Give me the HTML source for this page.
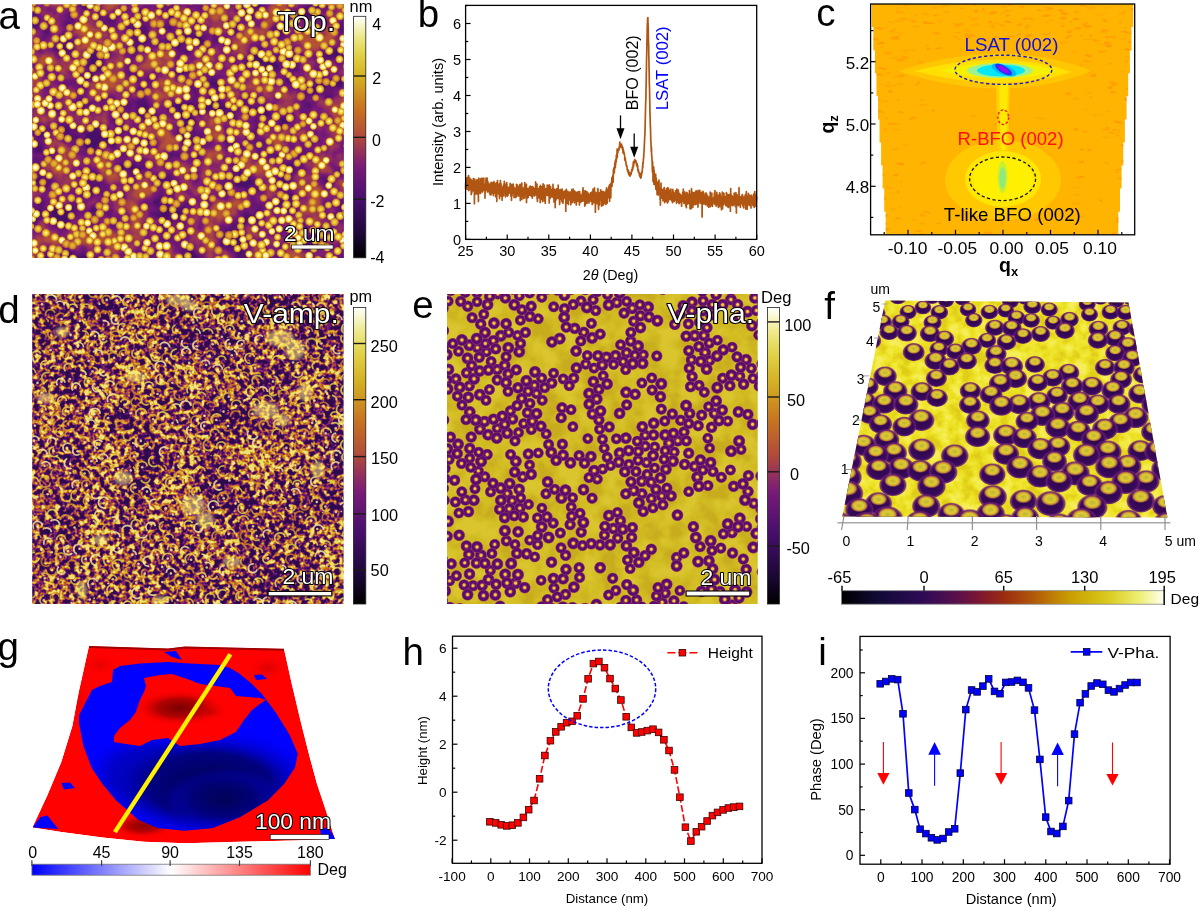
<!DOCTYPE html><html><head><meta charset="utf-8"><style>html,body{margin:0;padding:0;background:#fff;overflow:hidden}svg{display:block}text{font-family:"Liberation Sans",sans-serif}</style></head><body><svg width="1200" height="909" viewBox="0 0 1200 909" font-family='"Liberation Sans", sans-serif'><defs><clipPath id="cclip"><polygon points="871.8,4.0 871.8,27.1 873.3,27.1 873.3,50.2 874.9,50.2 874.9,73.2 876.4,73.2 876.4,96.3 878.0,96.3 878.0,119.4 879.5,119.4 879.5,142.5 881.1,142.5 881.1,165.6 882.6,165.6 882.6,188.6 884.2,188.6 884.2,211.7 885.7,211.7 885.7,234.8 1118.3,234.8 1118.3,211.7 1120.0,211.7 1120.0,188.6 1121.6,188.6 1121.6,165.6 1123.3,165.6 1123.3,142.5 1124.9,142.5 1124.9,119.4 1126.6,119.4 1126.6,96.3 1128.2,96.3 1128.2,73.2 1129.9,73.2 1129.9,50.2 1131.5,50.2 1131.5,27.1 1133.2,27.1 1133.2,4.0"/></clipPath><filter id="fa" filterUnits="userSpaceOnUse" x="32.2" y="4.3" width="311.7" height="253.59999999999997" color-interpolation-filters="sRGB"><feTurbulence type="fractalNoise" baseFrequency="0.04" numOctaves="3" seed="3"/><feColorMatrix type="matrix" values="1 0 0 0 0 1 0 0 0 0 1 0 0 0 0 0 0 0 0 1"/><feComponentTransfer><feFuncR type="table" tableValues="0.278 0.278 0.278 0.278 0.278 0.325 0.376 0.427 0.478 0.541 0.604 0.663 0.706 0.706 0.706 0.706 0.706"/><feFuncG type="table" tableValues="0.059 0.059 0.059 0.059 0.059 0.067 0.078 0.090 0.102 0.157 0.212 0.267 0.318 0.318 0.318 0.318 0.318"/><feFuncB type="table" tableValues="0.416 0.416 0.416 0.416 0.416 0.439 0.451 0.459 0.471 0.400 0.333 0.267 0.216 0.216 0.216 0.216 0.216"/></feComponentTransfer></filter><clipPath id="aclip"><rect x="32.2" y="4.3" width="311.7" height="253.59999999999997"/></clipPath><radialGradient id="dotA"><stop offset="0" stop-color="#fffac8"/><stop offset="0.3" stop-color="#f4e44a"/><stop offset="0.6" stop-color="#e4b82c"/><stop offset="0.82" stop-color="#cc7a26" stop-opacity="0.9"/><stop offset="1" stop-color="#a84a48" stop-opacity="0"/></radialGradient><radialGradient id="dotB"><stop offset="0" stop-color="#f0e048"/><stop offset="0.45" stop-color="#e0bc30"/><stop offset="0.75" stop-color="#cf8a24" stop-opacity="0.9"/><stop offset="1" stop-color="#a84a48" stop-opacity="0"/></radialGradient><radialGradient id="dotC"><stop offset="0" stop-color="#ffffff"/><stop offset="0.4" stop-color="#fff6a0"/><stop offset="0.65" stop-color="#f0d438"/><stop offset="0.85" stop-color="#d08a24" stop-opacity="0.85"/><stop offset="1" stop-color="#a84a48" stop-opacity="0"/></radialGradient><radialGradient id="dotD"><stop offset="0" stop-color="#e6c032"/><stop offset="0.5" stop-color="#d89a28"/><stop offset="0.8" stop-color="#c46c2a" stop-opacity="0.85"/><stop offset="1" stop-color="#a84a48" stop-opacity="0"/></radialGradient><linearGradient id="cbGW" x1="0" y1="0" x2="0" y2="1"><stop offset="0.000" stop-color="#ffffff"/><stop offset="0.042" stop-color="#f6f4c2"/><stop offset="0.083" stop-color="#eee88b"/><stop offset="0.125" stop-color="#e6dc61"/><stop offset="0.167" stop-color="#e0ce42"/><stop offset="0.208" stop-color="#dabf32"/><stop offset="0.250" stop-color="#d4b022"/><stop offset="0.292" stop-color="#d09d21"/><stop offset="0.333" stop-color="#cc8a21"/><stop offset="0.375" stop-color="#c87620"/><stop offset="0.417" stop-color="#c16729"/><stop offset="0.458" stop-color="#b85932"/><stop offset="0.500" stop-color="#b04a3c"/><stop offset="0.542" stop-color="#9d3951"/><stop offset="0.583" stop-color="#8a2966"/><stop offset="0.625" stop-color="#781a78"/><stop offset="0.667" stop-color="#691674"/><stop offset="0.708" stop-color="#591371"/><stop offset="0.750" stop-color="#4a0f6e"/><stop offset="0.792" stop-color="#3d0d5f"/><stop offset="0.833" stop-color="#300b50"/><stop offset="0.875" stop-color="#240941"/><stop offset="0.917" stop-color="#17072f"/><stop offset="0.958" stop-color="#0c0317"/><stop offset="1.000" stop-color="#000000"/></linearGradient><filter id="fd" filterUnits="userSpaceOnUse" x="32.2" y="294.1" width="311.40000000000003" height="309.9" color-interpolation-filters="sRGB"><feTurbulence type="fractalNoise" baseFrequency="0.2" numOctaves="2" seed="8"/><feColorMatrix type="matrix" values="1 0 0 0 0 1 0 0 0 0 1 0 0 0 0 0 0 0 0 1" result="A"/><feTurbulence type="fractalNoise" baseFrequency="0.025" numOctaves="2" seed="12"/><feColorMatrix type="matrix" values="1 0 0 0 0 1 0 0 0 0 1 0 0 0 0 0 0 0 0 1" result="B"/><feComposite in="A" in2="B" operator="arithmetic" k1="0" k2="0.95" k3="0.3" k4="-0.125"/><feColorMatrix type="matrix" values="1 0 0 0 0 1 0 0 0 0 1 0 0 0 0 0 0 0 0 1"/><feComponentTransfer><feFuncR type="table" tableValues="0.180 0.180 0.180 0.180 0.180 0.180 0.180 0.180 0.180 0.180 0.231 0.369 0.525 0.698 0.776 0.820 0.867 0.922 0.922 0.922 0.922 0.922 0.922 0.922 0.922"/><feFuncG type="table" tableValues="0.043 0.043 0.043 0.043 0.043 0.043 0.043 0.043 0.043 0.043 0.051 0.078 0.145 0.302 0.443 0.627 0.784 0.890 0.890 0.890 0.890 0.890 0.890 0.890 0.890"/><feFuncB type="table" tableValues="0.306 0.306 0.306 0.306 0.306 0.306 0.306 0.306 0.306 0.306 0.361 0.447 0.420 0.227 0.133 0.129 0.235 0.478 0.478 0.478 0.478 0.478 0.478 0.478 0.478"/></feComponentTransfer></filter><clipPath id="dclip"><rect x="32.2" y="294.1" width="311.40000000000003" height="309.9"/></clipPath><filter id="blurD" x="-50%" y="-50%" width="200%" height="200%"><feGaussianBlur stdDeviation="1.8"/></filter><filter id="fe" filterUnits="userSpaceOnUse" x="447.0" y="294.0" width="310.70000000000005" height="310.0" color-interpolation-filters="sRGB"><feTurbulence type="fractalNoise" baseFrequency="0.05" numOctaves="3" seed="5"/><feColorMatrix type="matrix" values="1 0 0 0 0 1 0 0 0 0 1 0 0 0 0 0 0 0 0 1"/><feComponentTransfer><feFuncR type="table" tableValues="0.784 0.784 0.784 0.784 0.784 0.788 0.800 0.812 0.824 0.831 0.843 0.855 0.855 0.855 0.855 0.855 0.855"/><feFuncG type="table" tableValues="0.675 0.675 0.675 0.675 0.675 0.678 0.698 0.718 0.737 0.749 0.761 0.773 0.776 0.776 0.776 0.776 0.776"/><feFuncB type="table" tableValues="0.118 0.118 0.118 0.118 0.118 0.118 0.125 0.129 0.133 0.149 0.169 0.184 0.188 0.188 0.188 0.188 0.188"/></feComponentTransfer></filter><clipPath id="eclip"><rect x="447.0" y="294.0" width="310.70000000000005" height="310.0"/></clipPath><radialGradient id="ringE"><stop offset="0" stop-color="#f0e040"/><stop offset="0.17" stop-color="#e6c836"/><stop offset="0.31" stop-color="#a83a58"/><stop offset="0.44" stop-color="#5c0e70"/><stop offset="0.76" stop-color="#560c6c"/><stop offset="0.88" stop-color="#8a2a60" stop-opacity="0.8"/><stop offset="1" stop-color="#c06040" stop-opacity="0"/></radialGradient><clipPath id="fclip"><polygon points="885.3,300.6 1128.5,302.4 1167.4,517.6 842.3,516.5"/></clipPath><filter id="ff" filterUnits="userSpaceOnUse" x="835" y="295" width="340" height="230" color-interpolation-filters="sRGB"><feTurbulence type="fractalNoise" baseFrequency="0.08" numOctaves="3" seed="15"/><feColorMatrix type="matrix" values="1 0 0 0 0 1 0 0 0 0 1 0 0 0 0 0 0 0 0 1"/><feComponentTransfer><feFuncR type="table" tableValues="0.875 0.875 0.875 0.875 0.875 0.878 0.898 0.918 0.929 0.941 0.949 0.961 0.961 0.961 0.961 0.961 0.961"/><feFuncG type="table" tableValues="0.804 0.804 0.804 0.804 0.804 0.808 0.835 0.867 0.886 0.902 0.914 0.929 0.933 0.933 0.933 0.933 0.933"/><feFuncB type="table" tableValues="0.102 0.102 0.102 0.102 0.102 0.102 0.110 0.122 0.149 0.196 0.243 0.318 0.353 0.353 0.353 0.353 0.353"/></feComponentTransfer></filter><radialGradient id="fblob" cx="0.5" cy="0.55" r="0.5"><stop offset="0" stop-color="#2a0648"/><stop offset="0.75" stop-color="#3a0a5e"/><stop offset="0.9" stop-color="#6a1a78" stop-opacity="0.8"/><stop offset="1" stop-color="#a04060" stop-opacity="0"/></radialGradient><radialGradient id="fcap"><stop offset="0" stop-color="#c0b42c"/><stop offset="0.5" stop-color="#dccc36"/><stop offset="0.75" stop-color="#d89a30" stop-opacity="0.9"/><stop offset="1" stop-color="#a04060" stop-opacity="0"/></radialGradient><linearGradient id="cbINF" x1="0" y1="0" x2="1" y2="0"><stop offset="0.000" stop-color="#000000"/><stop offset="0.042" stop-color="#060313"/><stop offset="0.083" stop-color="#0c0727"/><stop offset="0.125" stop-color="#130a39"/><stop offset="0.167" stop-color="#1c0a43"/><stop offset="0.208" stop-color="#250a4c"/><stop offset="0.250" stop-color="#2e0a56"/><stop offset="0.292" stop-color="#3e0d53"/><stop offset="0.333" stop-color="#4e0f4f"/><stop offset="0.375" stop-color="#621145"/><stop offset="0.417" stop-color="#781435"/><stop offset="0.458" stop-color="#891f24"/><stop offset="0.500" stop-color="#9a2a12"/><stop offset="0.542" stop-color="#a43e0e"/><stop offset="0.583" stop-color="#ae520a"/><stop offset="0.625" stop-color="#b86a06"/><stop offset="0.667" stop-color="#c18503"/><stop offset="0.708" stop-color="#c99d02"/><stop offset="0.750" stop-color="#cfad0a"/><stop offset="0.792" stop-color="#d4bd12"/><stop offset="0.833" stop-color="#dbcd24"/><stop offset="0.875" stop-color="#e4dd48"/><stop offset="0.917" stop-color="#eded6d"/><stop offset="0.958" stop-color="#f6f6ad"/><stop offset="1.000" stop-color="#fffff0"/></linearGradient><clipPath id="gclip"><polygon points="89.0,645.9 168.0,648.5 185.0,646.6 284.0,648.7 292.0,685.0 300.5,720.8 308.8,753.8 317.0,784.0 325.3,808.8 334.9,839.0 295.0,840.4 240.0,841.8 185.0,843.2 143.8,841.8 102.5,837.6 61.3,832.1 32.4,827.5 47.5,795.0 61.3,762.0 72.3,726.3 79.1,690.5 89.0,645.9"/></clipPath><radialGradient id="gnavy"><stop offset="0" stop-color="#000050"/><stop offset="0.55" stop-color="#000080"/><stop offset="1" stop-color="#0000ff" stop-opacity="0"/></radialGradient><radialGradient id="gdred"><stop offset="0" stop-color="#7a0000"/><stop offset="0.5" stop-color="#b00000"/><stop offset="1" stop-color="#ff0000" stop-opacity="0"/></radialGradient><radialGradient id="gdred2"><stop offset="0" stop-color="#b00000"/><stop offset="1" stop-color="#ff0000" stop-opacity="0"/></radialGradient><clipPath id="gbclip"><polygon points="113.0,670.0 120.0,666.0 140.0,663.6 168.0,662.0 190.0,663.6 220.0,665.0 230.0,668.0 240.0,674.0 252.0,684.0 262.0,694.0 275.8,712.5 289.5,734.5 297.8,753.8 295.0,767.5 284.0,784.0 267.5,800.5 240.0,817.0 212.5,828.0 185.0,830.8 157.5,828.0 138.3,819.8 116.3,800.5 102.5,784.0 91.5,767.5 83.3,745.5 79.1,723.5 79.1,715.3 86.0,701.5 92.0,690.0 100.0,686.0 112.0,682.0"/></clipPath><linearGradient id="cbBWR" x1="0" y1="0" x2="1" y2="0"><stop offset="0" stop-color="#0000ff"/><stop offset="0.5" stop-color="#ffffff"/><stop offset="1" stop-color="#ff0000"/></linearGradient></defs><rect width="1200" height="909" fill="#fff"/><g style="opacity:0.999"><text x="-1.6" y="28.5" font-size="38.5" >a</text>
<text x="417.8" y="27.3" font-size="38.5" >b</text>
<text x="816.2" y="26.2" font-size="38.5" >c</text>
<text x="-1.8" y="322.8" font-size="38.5" >d</text>
<text x="412.2" y="317.6" font-size="38.5" >e</text>
<text x="824.2" y="318.6" font-size="38.5" >f</text>
<text x="-2.4" y="659.6" font-size="38.5" >g</text>
<text x="402.6" y="665" font-size="38.5" >h</text>
<text x="818.2" y="665" font-size="38.5" >i</text>
<path d="M465.6,189.1 465.7,183.3 465.8,183.0 465.9,180.8 466.0,179.2 466.2,181.2 466.3,183.8 466.4,188.9 466.5,184.7 466.6,183.9 466.7,187.5 466.8,188.1 466.9,177.9 467.1,185.0 467.2,179.3 467.3,182.2 467.4,184.8 467.5,185.0 467.6,186.0 467.7,184.1 467.8,189.5 468.0,176.9 468.1,179.0 468.2,182.6 468.3,185.2 468.4,186.9 468.5,186.2 468.6,175.5 468.7,190.6 468.8,180.7 469.0,185.4 469.1,178.9 469.2,187.4 469.3,186.4 469.4,189.8 469.5,184.6 469.6,184.0 469.7,187.6 469.9,178.1 470.0,187.4 470.1,182.6 470.2,185.8 470.3,185.8 470.4,183.0 470.5,182.2 470.6,187.3 470.8,186.4 470.9,184.8 471.0,190.2 471.1,179.5 471.2,194.5 471.3,180.0 471.4,191.1 471.5,184.7 471.6,186.0 471.8,193.0 471.9,188.6 472.0,181.0 472.1,182.3 472.2,188.9 472.3,180.9 472.4,182.9 472.5,185.9 472.7,190.2 472.8,180.7 472.9,184.6 473.0,189.4 473.1,190.8 473.2,181.7 473.3,178.7 473.4,186.7 473.5,187.6 473.7,189.1 473.8,182.4 473.9,182.3 474.0,190.2 474.1,186.0 474.2,183.1 474.3,180.2 474.4,203.7 474.6,186.8 474.7,191.6 474.8,179.0 474.9,191.4 475.0,189.3 475.1,189.5 475.2,193.0 475.3,185.4 475.5,188.9 475.6,181.2 475.7,183.7 475.8,193.3 475.9,190.6 476.0,184.3 476.1,183.3 476.2,194.1 476.3,183.7 476.5,190.5 476.6,181.4 476.7,186.5 476.8,186.7 476.9,184.7 477.0,179.5 477.1,184.8 477.2,185.5 477.4,187.9 477.5,189.2 477.6,194.0 477.7,188.9 477.8,186.5 477.9,188.9 478.0,187.2 478.1,180.4 478.3,193.7 478.4,201.4 478.5,186.2 478.6,189.9 478.7,187.7 478.8,178.2 478.9,188.3 479.0,183.0 479.1,193.2 479.3,183.1 479.4,187.0 479.5,187.6 479.6,183.1 479.7,188.9 479.8,186.4 479.9,190.0 480.0,183.9 480.2,193.1 480.3,187.5 480.4,183.4 480.5,193.5 480.6,178.8 480.7,186.4 480.8,180.7 480.9,182.4 481.1,186.6 481.2,187.0 481.3,183.2 481.4,183.5 481.5,190.8 481.6,185.7 481.7,185.4 481.8,184.2 481.9,178.2 482.1,183.1 482.2,185.2 482.3,186.8 482.4,192.1 482.5,184.8 482.6,178.9 482.7,185.8 482.8,190.5 483.0,183.8 483.1,181.5 483.2,189.7 483.3,182.5 483.4,190.4 483.5,181.1 483.6,185.2 483.7,185.6 483.8,178.0 484.0,190.1 484.1,187.4 484.2,185.9 484.3,186.8 484.4,184.4 484.5,186.0 484.6,190.8 484.7,188.0 484.9,186.2 485.0,198.1 485.1,188.9 485.2,186.4 485.3,190.6 485.4,184.7 485.5,189.5 485.6,190.6 485.8,183.5 485.9,181.8 486.0,178.2 486.1,187.5 486.2,184.2 486.3,187.3 486.4,180.3 486.5,187.8 486.6,186.6 486.8,185.8 486.9,189.6 487.0,186.2 487.1,178.1 487.2,187.1 487.3,185.9 487.4,191.9 487.5,191.3 487.7,189.8 487.8,181.3 487.9,190.8 488.0,183.5 488.1,184.4 488.2,189.5 488.3,189.7 488.4,186.4 488.6,188.3 488.7,186.3 488.8,183.5 488.9,184.0 489.0,187.4 489.1,188.3 489.2,186.0 489.3,192.7 489.4,186.7 489.6,188.0 489.7,188.5 489.8,185.1 489.9,184.6 490.0,194.6 490.1,190.7 490.2,188.4 490.3,184.4 490.5,189.5 490.6,184.7 490.7,193.3 490.8,189.9 490.9,183.3 491.0,194.8 491.1,182.3 491.2,188.5 491.4,186.1 491.5,186.7 491.6,183.8 491.7,182.8 491.8,193.5 491.9,188.3 492.0,192.0 492.1,187.3 492.2,185.1 492.4,192.3 492.5,182.6 492.6,188.9 492.7,189.3 492.8,186.6 492.9,186.5 493.0,184.0 493.1,183.7 493.3,184.2 493.4,195.6 493.5,191.6 493.6,188.7 493.7,192.4 493.8,187.5 493.9,190.8 494.0,181.7 494.2,192.9 494.3,187.5 494.4,186.6 494.5,190.6 494.6,184.7 494.7,192.2 494.8,183.2 494.9,189.0 495.0,185.3 495.2,188.3 495.3,192.3 495.4,187.2 495.5,189.2 495.6,196.7 495.7,186.1 495.8,194.9 495.9,183.9 496.1,190.0 496.2,188.3 496.3,189.3 496.4,184.2 496.5,191.1 496.6,182.8 496.7,188.7 496.8,201.3 496.9,186.7 497.1,183.2 497.2,189.9 497.3,185.0 497.4,192.2 497.5,180.5 497.6,186.4 497.7,187.0 497.8,193.7 498.0,184.2 498.1,185.5 498.2,185.6 498.3,191.9 498.4,193.1 498.5,184.6 498.6,187.8 498.7,188.8 498.9,188.7 499.0,191.3 499.1,185.3 499.2,187.5 499.3,196.0 499.4,190.7 499.5,198.6 499.6,183.6 499.7,190.0 499.9,189.4 500.0,191.4 500.1,186.4 500.2,188.7 500.3,189.1 500.4,180.5 500.5,187.1 500.6,191.1 500.8,186.6 500.9,184.3 501.0,183.6 501.1,190.4 501.2,196.1 501.3,192.0 501.4,190.5 501.5,189.4 501.7,189.1 501.8,189.3 501.9,192.2 502.0,187.9 502.1,200.2 502.2,187.5 502.3,195.7 502.4,191.7 502.5,189.1 502.7,187.5 502.8,188.6 502.9,191.7 503.0,192.3 503.1,188.7 503.2,189.9 503.3,185.3 503.4,192.4 503.6,195.0 503.7,195.8 503.8,191.9 503.9,188.6 504.0,188.8 504.1,183.6 504.2,192.8 504.3,181.3 504.5,187.3 504.6,191.2 504.7,188.4 504.8,187.1 504.9,191.7 505.0,187.4 505.1,184.0 505.2,189.4 505.3,192.0 505.5,191.7 505.6,196.9 505.7,189.5 505.8,191.3 505.9,192.7 506.0,185.2 506.1,184.2 506.2,191.4 506.4,193.1 506.5,187.4 506.6,189.1 506.7,182.6 506.8,189.9 506.9,184.6 507.0,194.9 507.1,187.7 507.2,194.0 507.4,190.9 507.5,196.1 507.6,189.4 507.7,188.8 507.8,191.3 507.9,187.7 508.0,195.4 508.1,190.2 508.3,189.2 508.4,193.7 508.5,187.4 508.6,188.8 508.7,190.6 508.8,189.1 508.9,187.3 509.0,192.1 509.2,189.8 509.3,189.4 509.4,187.2 509.5,192.3 509.6,192.8 509.7,187.4 509.8,192.2 509.9,187.1 510.0,186.6 510.2,183.3 510.3,189.6 510.4,189.2 510.5,185.5 510.6,190.3 510.7,190.1 510.8,191.9 510.9,196.3 511.1,187.6 511.2,192.5 511.3,191.6 511.4,190.2 511.5,200.3 511.6,185.9 511.7,184.6 511.8,189.1 512.0,196.0 512.1,184.5 512.2,186.5 512.3,188.6 512.4,190.8 512.5,188.7 512.6,186.3 512.7,188.5 512.8,186.7 513.0,189.1 513.1,190.1 513.2,184.0 513.3,190.6 513.4,193.3 513.5,191.5 513.6,187.7 513.7,186.8 513.9,190.3 514.0,194.3 514.1,197.6 514.2,193.1 514.3,188.3 514.4,190.3 514.5,187.8 514.6,189.8 514.8,188.3 514.9,188.5 515.0,194.3 515.1,190.9 515.2,189.3 515.3,190.0 515.4,189.2 515.5,191.1 515.6,192.0 515.8,197.6 515.9,194.0 516.0,192.5 516.1,188.6 516.2,188.2 516.3,189.6 516.4,188.7 516.5,184.3 516.7,192.2 516.8,188.5 516.9,196.4 517.0,192.7 517.1,192.4 517.2,184.9 517.3,187.5 517.4,186.0 517.6,190.2 517.7,194.7 517.8,192.1 517.9,190.4 518.0,187.3 518.1,187.7 518.2,189.5 518.3,191.2 518.4,190.9 518.6,193.0 518.7,186.6 518.8,196.0 518.9,187.2 519.0,196.0 519.1,190.1 519.2,189.8 519.3,191.8 519.5,193.9 519.6,185.0 519.7,188.7 519.8,184.7 519.9,190.5 520.0,192.8 520.1,184.5 520.2,189.5 520.3,200.6 520.5,189.2 520.6,188.7 520.7,194.3 520.8,188.4 520.9,190.0 521.0,186.5 521.1,188.2 521.2,192.5 521.4,188.5 521.5,183.7 521.6,186.4 521.7,189.0 521.8,183.0 521.9,199.4 522.0,188.5 522.1,190.3 522.3,194.6 522.4,192.4 522.5,189.2 522.6,196.4 522.7,189.1 522.8,190.9 522.9,190.1 523.0,191.2 523.1,194.4 523.3,196.3 523.4,188.2 523.5,192.6 523.6,191.0 523.7,195.4 523.8,198.5 523.9,187.8 524.0,188.6 524.2,191.6 524.3,187.1 524.4,191.2 524.5,189.7 524.6,188.4 524.7,197.7 524.8,182.5 524.9,189.8 525.1,186.2 525.2,192.6 525.3,191.8 525.4,194.1 525.5,189.3 525.6,186.1 525.7,190.1 525.8,188.7 525.9,187.8 526.1,187.5 526.2,191.4 526.3,190.4 526.4,184.3 526.5,202.6 526.6,192.0 526.7,189.8 526.8,194.9 527.0,192.1 527.1,192.3 527.2,189.0 527.3,198.0 527.4,189.3 527.5,188.5 527.6,190.4 527.7,192.8 527.9,190.2 528.0,192.1 528.1,191.7 528.2,197.4 528.3,193.3 528.4,193.5 528.5,192.8 528.6,195.2 528.7,192.9 528.9,189.6 529.0,192.8 529.1,188.0 529.2,194.8 529.3,189.3 529.4,191.0 529.5,186.8 529.6,193.3 529.8,195.1 529.9,192.8 530.0,191.1 530.1,193.0 530.2,186.2 530.3,189.4 530.4,193.2 530.5,195.4 530.6,194.0 530.8,195.7 530.9,187.5 531.0,186.6 531.1,190.9 531.2,194.0 531.3,196.0 531.4,189.2 531.5,196.3 531.7,196.0 531.8,188.7 531.9,189.5 532.0,188.9 532.1,196.0 532.2,195.9 532.3,198.1 532.4,186.5 532.6,196.1 532.7,192.8 532.8,188.5 532.9,188.5 533.0,191.4 533.1,194.5 533.2,195.6 533.3,193.3 533.4,187.6 533.6,192.7 533.7,192.4 533.8,191.7 533.9,190.7 534.0,188.3 534.1,191.3 534.2,192.9 534.3,189.2 534.5,193.6 534.6,195.9 534.7,193.8 534.8,192.2 534.9,188.6 535.0,193.1 535.1,191.7 535.2,194.1 535.4,190.6 535.5,188.4 535.6,181.9 535.7,188.8 535.8,193.0 535.9,194.8 536.0,193.8 536.1,189.9 536.2,190.7 536.4,194.6 536.5,190.5 536.6,193.7 536.7,189.5 536.8,192.1 536.9,193.4 537.0,184.0 537.1,199.1 537.3,196.7 537.4,201.6 537.5,192.3 537.6,195.8 537.7,192.5 537.8,193.7 537.9,191.0 538.0,191.2 538.2,191.5 538.3,188.8 538.4,193.3 538.5,192.3 538.6,197.9 538.7,192.2 538.8,190.1 538.9,188.3 539.0,196.1 539.2,194.9 539.3,196.1 539.4,194.6 539.5,192.9 539.6,186.7 539.7,196.7 539.8,188.6 539.9,189.2 540.1,194.7 540.2,202.6 540.3,186.1 540.4,187.5 540.5,185.4 540.6,192.2 540.7,190.3 540.8,199.4 541.0,196.5 541.1,193.3 541.2,195.6 541.3,188.3 541.4,192.2 541.5,195.6 541.6,192.5 541.7,188.9 541.8,186.8 542.0,197.9 542.1,193.9 542.2,189.7 542.3,194.1 542.4,194.0 542.5,201.4 542.6,191.2 542.7,193.4 542.9,189.2 543.0,190.1 543.1,183.9 543.2,190.9 543.3,189.1 543.4,197.9 543.5,196.3 543.6,193.5 543.7,194.4 543.9,192.9 544.0,191.0 544.1,190.7 544.2,185.2 544.3,200.9 544.4,195.0 544.5,197.6 544.6,192.2 544.8,193.1 544.9,190.5 545.0,197.9 545.1,191.8 545.2,193.1 545.3,203.2 545.4,190.3 545.5,195.9 545.7,188.5 545.8,191.6 545.9,191.0 546.0,194.8 546.1,195.5 546.2,192.9 546.3,190.2 546.4,194.7 546.5,193.6 546.7,189.8 546.8,193.5 546.9,189.1 547.0,188.5 547.1,194.4 547.2,185.1 547.3,194.3 547.4,192.5 547.6,185.3 547.7,195.4 547.8,191.2 547.9,194.2 548.0,189.7 548.1,194.7 548.2,191.4 548.3,192.5 548.5,190.3 548.6,190.4 548.7,192.1 548.8,194.0 548.9,189.7 549.0,195.5 549.1,191.0 549.2,202.9 549.3,184.9 549.5,185.5 549.6,192.4 549.7,194.1 549.8,198.8 549.9,196.9 550.0,194.0 550.1,188.7 550.2,198.3 550.4,187.8 550.5,197.6 550.6,186.8 550.7,191.5 550.8,190.1 550.9,193.3 551.0,189.0 551.1,195.0 551.3,196.8 551.4,193.9 551.5,193.6 551.6,195.3 551.7,193.4 551.8,194.6 551.9,190.0 552.0,193.0 552.1,196.5 552.3,189.9 552.4,195.3 552.5,195.2 552.6,191.9 552.7,189.2 552.8,196.7 552.9,191.0 553.0,184.4 553.2,197.5 553.3,188.7 553.4,189.1 553.5,191.9 553.6,191.8 553.7,188.9 553.8,194.2 553.9,195.3 554.0,201.9 554.2,197.7 554.3,192.0 554.4,193.8 554.5,195.6 554.6,198.2 554.7,197.5 554.8,202.1 554.9,189.4 555.1,195.6 555.2,207.6 555.3,194.8 555.4,194.2 555.5,191.8 555.6,191.0 555.7,193.2 555.8,196.4 556.0,192.8 556.1,196.7 556.2,199.9 556.3,194.3 556.4,189.8 556.5,192.4 556.6,193.6 556.7,196.9 556.8,188.8 557.0,191.2 557.1,191.8 557.2,195.1 557.3,188.9 557.4,194.5 557.5,198.1 557.6,194.9 557.7,197.1 557.9,196.1 558.0,194.1 558.1,198.6 558.2,185.0 558.3,198.2 558.4,194.7 558.5,195.6 558.6,198.3 558.8,197.2 558.9,197.2 559.0,191.7 559.1,197.3 559.2,199.0 559.3,191.5 559.4,197.6 559.5,199.1 559.6,204.4 559.8,201.6 559.9,195.0 560.0,189.7 560.1,193.6 560.2,195.4 560.3,199.5 560.4,197.8 560.5,196.0 560.7,199.2 560.8,197.4 560.9,189.6 561.0,197.0 561.1,194.7 561.2,193.5 561.3,198.3 561.4,190.2 561.6,195.1 561.7,196.6 561.8,189.6 561.9,201.7 562.0,191.4 562.1,189.1 562.2,200.9 562.3,193.3 562.4,194.7 562.6,193.4 562.7,196.9 562.8,194.2 562.9,191.0 563.0,203.2 563.1,201.7 563.2,191.8 563.3,195.8 563.5,196.0 563.6,197.0 563.7,193.3 563.8,196.9 563.9,195.5 564.0,196.3 564.1,191.9 564.2,194.2 564.4,194.5 564.5,194.7 564.6,196.2 564.7,198.2 564.8,196.9 564.9,196.4 565.0,195.4 565.1,193.5 565.2,190.7 565.4,199.2 565.5,198.3 565.6,193.4 565.7,191.3 565.8,211.3 565.9,195.8 566.0,193.0 566.1,195.5 566.3,199.3 566.4,189.4 566.5,198.8 566.6,198.5 566.7,195.7 566.8,194.8 566.9,195.4 567.0,203.3 567.1,198.7 567.3,193.6 567.4,191.9 567.5,198.6 567.6,198.7 567.7,195.2 567.8,194.1 567.9,191.4 568.0,192.5 568.2,194.6 568.3,194.0 568.4,204.5 568.5,194.1 568.6,198.9 568.7,199.3 568.8,194.4 568.9,198.1 569.1,195.4 569.2,192.7 569.3,195.4 569.4,192.7 569.5,198.1 569.6,198.2 569.7,199.3 569.8,192.8 569.9,192.8 570.1,191.9 570.2,195.3 570.3,200.4 570.4,195.1 570.5,196.5 570.6,195.9 570.7,201.9 570.8,204.8 571.0,195.0 571.1,193.1 571.2,199.9 571.3,195.2 571.4,194.2 571.5,199.3 571.6,196.7 571.7,196.9 571.9,189.4 572.0,199.0 572.1,197.8 572.2,196.9 572.3,202.4 572.4,196.0 572.5,202.3 572.6,192.3 572.7,200.9 572.9,199.2 573.0,192.3 573.1,189.2 573.2,196.1 573.3,197.8 573.4,196.8 573.5,198.3 573.6,191.7 573.8,196.4 573.9,192.7 574.0,196.9 574.1,197.3 574.2,197.0 574.3,197.2 574.4,190.9 574.5,202.8 574.7,196.4 574.8,200.2 574.9,194.8 575.0,191.5 575.1,196.8 575.2,200.9 575.3,192.4 575.4,195.4 575.5,195.9 575.7,196.8 575.8,198.2 575.9,196.7 576.0,199.1 576.1,201.5 576.2,200.7 576.3,205.1 576.4,192.3 576.6,196.1 576.7,194.6 576.8,195.7 576.9,197.4 577.0,192.6 577.1,200.1 577.2,196.1 577.3,197.7 577.4,195.6 577.6,201.4 577.7,200.2 577.8,196.4 577.9,196.0 578.0,191.9 578.1,200.4 578.2,197.5 578.3,197.3 578.5,195.8 578.6,196.0 578.7,196.3 578.8,195.6 578.9,195.3 579.0,191.7 579.1,199.1 579.2,196.9 579.4,205.1 579.5,199.2 579.6,193.8 579.7,191.5 579.8,197.3 579.9,200.7 580.0,201.9 580.1,196.6 580.2,198.3 580.4,197.9 580.5,202.5 580.6,201.4 580.7,199.7 580.8,195.0 580.9,195.2 581.0,202.0 581.1,197.5 581.3,195.4 581.4,195.4 581.5,195.6 581.6,196.8 581.7,199.5 581.8,197.9 581.9,200.2 582.0,198.0 582.2,194.9 582.3,193.0 582.4,201.2 582.5,193.7 582.6,197.6 582.7,196.5 582.8,198.5 582.9,190.8 583.0,187.8 583.2,199.5 583.3,200.3 583.4,200.8 583.5,194.9 583.6,196.4 583.7,198.5 583.8,198.5 583.9,193.5 584.1,196.6 584.2,191.1 584.3,194.6 584.4,196.0 584.5,199.6 584.6,197.5 584.7,195.7 584.8,206.1 585.0,198.8 585.1,195.8 585.2,193.8 585.3,205.0 585.4,190.9 585.5,201.9 585.6,200.7 585.7,201.9 585.8,200.1 586.0,194.5 586.1,196.7 586.2,197.4 586.3,194.4 586.4,199.8 586.5,203.2 586.6,195.6 586.7,196.7 586.9,191.7 587.0,196.8 587.1,203.3 587.2,196.7 587.3,200.2 587.4,195.5 587.5,198.3 587.6,198.8 587.8,193.9 587.9,194.7 588.0,200.8 588.1,193.0 588.2,199.3 588.3,199.0 588.4,195.4 588.5,196.5 588.6,194.9 588.8,199.7 588.9,195.7 589.0,203.1 589.1,196.9 589.2,196.0 589.3,197.4 589.4,197.7 589.5,202.0 589.7,199.6 589.8,201.3 589.9,197.0 590.0,198.7 590.1,193.9 590.2,196.5 590.3,194.1 590.4,193.0 590.5,195.2 590.7,197.7 590.8,192.8 590.9,195.0 591.0,193.8 591.1,196.9 591.2,195.0 591.3,195.0 591.4,201.2 591.6,195.6 591.7,192.1 591.8,201.5 591.9,200.4 592.0,200.8 592.1,201.2 592.2,204.6 592.3,197.9 592.5,196.1 592.6,197.9 592.7,203.9 592.8,200.1 592.9,193.2 593.0,189.2 593.1,200.0 593.2,199.1 593.3,198.4 593.5,192.4 593.6,195.6 593.7,200.2 593.8,202.5 593.9,193.1 594.0,201.2 594.1,196.8 594.2,201.9 594.4,197.1 594.5,187.9 594.6,202.3 594.7,201.5 594.8,198.4 594.9,198.8 595.0,194.5 595.1,201.9 595.3,202.4 595.4,212.2 595.5,193.0 595.6,198.2 595.7,198.4 595.8,200.0 595.9,198.6 596.0,192.3 596.1,200.9 596.3,200.0 596.4,203.6 596.5,198.3 596.6,200.6 596.7,198.2 596.8,195.3 596.9,203.4 597.0,196.0 597.2,197.1 597.3,195.2 597.4,193.9 597.5,200.6 597.6,197.9 597.7,197.9 597.8,195.2 597.9,188.6 598.1,203.9 598.2,193.7 598.3,195.2 598.4,207.2 598.5,202.1 598.6,209.2 598.7,197.6 598.8,198.5 598.9,199.3 599.1,201.0 599.2,199.5 599.3,201.3 599.4,203.1 599.5,192.9 599.6,204.9 599.7,194.8 599.8,195.0 600.0,200.7 600.1,196.0 600.2,197.0 600.3,197.1 600.4,197.1 600.5,192.2 600.6,189.8 600.7,199.3 600.8,196.5 601.0,198.3 601.1,194.7 601.2,195.9 601.3,193.9 601.4,195.0 601.5,196.4 601.6,205.9 601.7,199.5 601.9,206.1 602.0,198.4 602.1,193.0 602.2,191.4 602.3,191.7 602.4,194.6 602.5,193.7 602.6,195.8 602.8,202.0 602.9,194.1 603.0,193.7 603.1,191.7 603.2,195.4 603.3,205.1 603.4,196.6 603.5,197.8 603.6,196.1 603.8,203.6 603.9,194.0 604.0,197.7 604.1,192.0 604.2,194.1 604.3,193.1 604.4,194.4 604.5,202.1 604.7,195.6 604.8,201.2 604.9,195.5 605.0,195.5 605.1,193.4 605.2,199.8 605.3,201.5 605.4,200.3 605.6,204.5 605.7,197.5 605.8,204.5 605.9,191.1 606.0,195.6 606.1,190.7 606.2,197.0 606.3,189.5 606.4,200.4 606.6,187.8 606.7,194.3 606.8,194.3 606.9,191.0 607.0,190.0 607.1,189.4 607.2,203.1 607.3,195.8 607.5,190.9 607.6,198.3 607.7,196.2 607.8,198.4 607.9,193.9 608.0,193.0 608.1,191.1 608.2,196.6 608.4,194.4 608.5,191.9 608.6,189.1 608.7,189.4 608.8,187.0 608.9,192.4 609.0,187.2 609.1,185.8 609.2,191.2 609.4,195.5 609.5,187.5 609.6,201.3 609.7,184.7 609.8,189.9 609.9,193.4 610.0,191.2 610.1,191.2 610.3,188.6 610.4,190.7 610.5,188.1 610.6,184.8 610.7,197.8 610.8,197.1 610.9,189.9 611.0,183.2 611.2,183.2 611.3,185.1 611.4,185.9 611.5,184.7 611.6,181.8 611.7,182.8 611.8,181.1 611.9,177.5 612.0,186.4 612.2,179.1 612.3,180.8 612.4,176.9 612.5,176.9 612.6,179.9 612.7,181.3 612.8,177.4 612.9,175.7 613.1,174.7 613.2,182.2 613.3,174.4 613.4,169.7 613.5,174.2 613.6,172.6 613.7,169.4 613.8,170.5 613.9,167.9 614.1,170.2 614.2,168.0 614.3,172.9 614.4,170.7 614.5,169.5 614.6,167.3 614.7,163.9 614.8,164.4 615.0,163.2 615.1,161.9 615.2,165.4 615.3,167.7 615.4,161.0 615.5,160.4 615.6,165.3 615.7,159.5 615.9,161.3 616.0,159.2 616.1,161.2 616.2,161.9 616.3,156.2 616.4,155.0 616.5,159.6 616.6,155.2 616.7,157.2 616.9,155.3 617.0,153.4 617.1,149.2 617.2,155.9 617.3,157.4 617.4,152.5 617.5,149.6 617.6,153.4 617.8,152.5 617.9,152.3 618.0,151.5 618.1,149.2 618.2,151.2 618.3,150.0 618.4,150.6 618.5,150.0 618.7,149.4 618.8,148.9 618.9,150.3 619.0,148.9 619.1,148.8 619.2,148.3 619.3,146.3 619.4,147.3 619.5,146.9 619.7,144.6 619.8,142.1 619.9,145.1 620.0,145.4 620.1,145.2 620.2,144.5 620.3,146.0 620.4,144.0 620.6,147.0 620.7,146.5 620.8,145.2 620.9,146.1 621.0,145.9 621.1,146.1 621.2,147.3 621.3,147.5 621.5,147.0 621.6,144.2 621.7,146.6 621.8,147.7 621.9,146.2 622.0,147.7 622.1,146.7 622.2,146.2 622.3,148.3 622.5,147.8 622.6,148.8 622.7,149.8 622.8,147.3 622.9,150.7 623.0,152.6 623.1,149.1 623.2,149.9 623.4,152.2 623.5,153.5 623.6,150.7 623.7,152.7 623.8,152.2 623.9,153.9 624.0,152.4 624.1,153.6 624.2,154.5 624.4,154.0 624.5,155.4 624.6,155.7 624.7,156.4 624.8,160.2 624.9,157.8 625.0,159.2 625.1,158.2 625.3,158.1 625.4,159.7 625.5,160.9 625.6,161.5 625.7,161.2 625.8,162.9 625.9,162.4 626.0,162.8 626.2,165.5 626.3,164.5 626.4,165.1 626.5,165.5 626.6,166.4 626.7,165.9 626.8,165.9 626.9,166.0 627.0,166.5 627.2,169.3 627.3,169.7 627.4,169.3 627.5,170.3 627.6,171.4 627.7,169.8 627.8,171.6 627.9,171.2 628.1,171.7 628.2,171.2 628.3,173.1 628.4,172.3 628.5,170.4 628.6,174.3 628.7,172.8 628.8,173.4 629.0,174.8 629.1,174.8 629.2,174.9 629.3,173.3 629.4,174.1 629.5,173.6 629.6,175.7 629.7,176.0 629.8,172.6 630.0,173.1 630.1,173.9 630.2,174.7 630.3,175.9 630.4,175.5 630.5,174.2 630.6,174.5 630.7,173.8 630.9,172.8 631.0,174.0 631.1,174.1 631.2,173.0 631.3,173.1 631.4,172.3 631.5,171.6 631.6,171.7 631.8,169.5 631.9,171.1 632.0,169.7 632.1,169.9 632.2,170.8 632.3,169.4 632.4,169.1 632.5,167.1 632.6,170.0 632.8,168.0 632.9,167.5 633.0,167.0 633.1,164.8 633.2,166.5 633.3,162.1 633.4,163.7 633.5,166.7 633.7,161.7 633.8,164.3 633.9,162.1 634.0,161.0 634.1,163.3 634.2,162.0 634.3,163.2 634.4,162.4 634.5,161.2 634.7,159.7 634.8,159.9 634.9,161.3 635.0,160.5 635.1,160.0 635.2,160.4 635.3,161.0 635.4,160.9 635.6,161.6 635.7,161.3 635.8,160.7 635.9,162.3 636.0,161.1 636.1,162.3 636.2,162.0 636.3,162.0 636.5,165.3 636.6,163.6 636.7,163.4 636.8,163.3 636.9,164.4 637.0,164.2 637.1,163.7 637.2,166.7 637.3,166.8 637.5,167.4 637.6,167.1 637.7,165.7 637.8,168.3 637.9,170.4 638.0,169.7 638.1,169.6 638.2,171.9 638.4,171.9 638.5,170.1 638.6,172.2 638.7,172.2 638.8,171.9 638.9,172.2 639.0,173.2 639.1,172.5 639.3,173.0 639.4,175.1 639.5,175.2 639.6,174.2 639.7,176.2 639.8,174.9 639.9,173.5 640.0,175.6 640.1,176.8 640.3,175.9 640.4,174.3 640.5,174.9 640.6,178.2 640.7,175.6 640.8,176.1 640.9,175.4 641.0,174.5 641.2,177.6 641.3,173.0 641.4,174.0 641.5,175.6 641.6,172.2 641.7,172.3 641.8,172.3 641.9,173.4 642.1,171.6 642.2,171.4 642.3,170.0 642.4,169.1 642.5,167.7 642.6,166.8 642.7,164.5 642.8,167.7 642.9,162.7 643.1,162.2 643.2,163.4 643.3,161.8 643.4,159.3 643.5,157.9 643.6,158.5 643.7,157.3 643.8,154.7 644.0,152.2 644.1,150.3 644.2,149.4 644.3,145.8 644.4,143.8 644.5,141.9 644.6,139.2 644.7,137.0 644.9,135.0 645.0,129.4 645.1,128.3 645.2,122.5 645.3,119.5 645.4,114.7 645.5,109.7 645.6,105.3 645.7,102.0 645.9,99.0 646.0,92.3 646.1,86.0 646.2,82.0 646.3,72.4 646.4,70.6 646.5,64.1 646.6,57.2 646.8,50.6 646.9,45.0 647.0,39.3 647.1,36.0 647.2,29.2 647.3,25.7 647.4,23.4 647.5,22.4 647.6,18.4 647.8,20.3 647.9,17.6 648.0,23.9 648.1,25.1 648.2,26.7 648.3,31.0 648.4,37.1 648.5,42.1 648.7,45.5 648.8,56.2 648.9,57.8 649.0,65.1 649.1,68.9 649.2,74.1 649.3,82.8 649.4,85.3 649.6,91.3 649.7,100.6 649.8,100.1 649.9,109.0 650.0,114.7 650.1,115.7 650.2,120.4 650.3,125.4 650.4,125.3 650.6,131.6 650.7,136.1 650.8,141.7 650.9,141.4 651.0,143.7 651.1,146.1 651.2,147.2 651.3,151.9 651.5,147.5 651.6,154.2 651.7,155.9 651.8,155.9 651.9,156.2 652.0,160.1 652.1,160.8 652.2,165.0 652.4,172.2 652.5,168.4 652.6,161.7 652.7,167.5 652.8,169.0 652.9,166.6 653.0,181.3 653.1,171.8 653.2,172.8 653.4,172.9 653.5,175.9 653.6,171.0 653.7,167.1 653.8,175.4 653.9,181.8 654.0,184.4 654.1,170.4 654.3,181.0 654.4,182.7 654.5,181.7 654.6,180.6 654.7,184.0 654.8,180.1 654.9,178.8 655.0,182.1 655.2,179.2 655.3,179.8 655.4,180.4 655.5,179.6 655.6,186.2 655.7,174.2 655.8,189.1 655.9,180.4 656.0,189.1 656.2,180.3 656.3,178.2 656.4,186.4 656.5,189.6 656.6,183.8 656.7,183.2 656.8,183.0 656.9,187.2 657.1,194.7 657.2,186.3 657.3,189.4 657.4,184.6 657.5,191.1 657.6,182.7 657.7,192.1 657.8,186.6 657.9,189.0 658.1,190.3 658.2,181.5 658.3,194.9 658.4,184.6 658.5,190.0 658.6,192.4 658.7,190.6 658.8,189.5 659.0,180.1 659.1,186.8 659.2,192.9 659.3,193.6 659.4,188.6 659.5,191.8 659.6,194.0 659.7,191.1 659.9,190.9 660.0,189.8 660.1,199.8 660.2,190.9 660.3,193.1 660.4,205.1 660.5,193.7 660.6,198.2 660.7,195.7 660.9,192.2 661.0,183.2 661.1,187.3 661.2,196.7 661.3,197.9 661.4,189.3 661.5,194.9 661.6,193.9 661.8,193.4 661.9,195.0 662.0,197.6 662.1,198.1 662.2,193.0 662.3,193.7 662.4,193.2 662.5,189.8 662.7,196.2 662.8,197.4 662.9,192.5 663.0,200.8 663.1,189.4 663.2,189.2 663.3,197.1 663.4,194.0 663.5,191.1 663.7,196.7 663.8,194.3 663.9,195.6 664.0,191.2 664.1,193.7 664.2,188.0 664.3,187.5 664.4,189.1 664.6,190.1 664.7,202.6 664.8,191.1 664.9,193.9 665.0,190.4 665.1,196.1 665.2,193.5 665.3,196.3 665.5,193.3 665.6,196.2 665.7,192.8 665.8,191.5 665.9,191.4 666.0,192.6 666.1,194.9 666.2,201.6 666.3,194.1 666.5,201.5 666.6,194.3 666.7,188.7 666.8,189.6 666.9,190.5 667.0,193.6 667.1,200.3 667.2,192.3 667.4,196.5 667.5,191.5 667.6,202.9 667.7,190.7 667.8,202.3 667.9,187.6 668.0,195.3 668.1,198.4 668.3,201.3 668.4,196.4 668.5,197.4 668.6,199.9 668.7,195.4 668.8,189.1 668.9,194.7 669.0,195.1 669.1,199.3 669.3,192.9 669.4,190.9 669.5,199.6 669.6,196.4 669.7,196.6 669.8,192.2 669.9,198.0 670.0,199.4 670.2,196.8 670.3,198.5 670.4,195.0 670.5,190.6 670.6,194.9 670.7,198.7 670.8,196.8 670.9,189.0 671.0,193.4 671.2,198.9 671.3,196.2 671.4,200.3 671.5,198.1 671.6,199.2 671.7,194.1 671.8,199.6 671.9,193.7 672.1,193.6 672.2,201.5 672.3,194.8 672.4,197.1 672.5,202.7 672.6,201.6 672.7,202.6 672.8,189.4 673.0,196.9 673.1,191.3 673.2,196.7 673.3,198.4 673.4,198.5 673.5,199.3 673.6,194.6 673.7,192.6 673.8,197.6 674.0,197.5 674.1,198.8 674.2,200.2 674.3,201.5 674.4,200.4 674.5,198.9 674.6,200.0 674.7,199.0 674.9,196.3 675.0,195.3 675.1,197.1 675.2,197.3 675.3,196.4 675.4,197.1 675.5,190.8 675.6,194.7 675.8,198.4 675.9,200.3 676.0,197.8 676.1,191.2 676.2,193.3 676.3,192.0 676.4,195.7 676.5,203.3 676.6,197.3 676.8,189.0 676.9,193.8 677.0,198.7 677.1,201.7 677.2,191.6 677.3,197.5 677.4,198.7 677.5,191.9 677.7,197.2 677.8,196.1 677.9,194.3 678.0,196.1 678.1,190.7 678.2,200.2 678.3,190.0 678.4,202.3 678.6,194.6 678.7,192.4 678.8,195.8 678.9,202.1 679.0,196.6 679.1,203.7 679.2,194.8 679.3,195.4 679.4,198.7 679.6,193.8 679.7,197.7 679.8,195.3 679.9,198.2 680.0,200.9 680.1,194.2 680.2,199.7 680.3,202.3 680.5,198.2 680.6,199.0 680.7,202.0 680.8,198.5 680.9,202.4 681.0,200.3 681.1,195.4 681.2,200.3 681.3,198.7 681.5,198.2 681.6,206.2 681.7,203.4 681.8,198.7 681.9,198.4 682.0,198.9 682.1,198.8 682.2,195.5 682.4,197.0 682.5,197.6 682.6,193.9 682.7,192.3 682.8,199.1 682.9,198.0 683.0,200.9 683.1,201.2 683.3,189.0 683.4,199.4 683.5,190.5 683.6,191.5 683.7,196.0 683.8,199.2 683.9,203.2 684.0,200.2 684.1,197.9 684.3,191.9 684.4,196.6 684.5,195.1 684.6,198.3 684.7,196.5 684.8,198.5 684.9,203.4 685.0,200.0 685.2,199.0 685.3,197.5 685.4,194.2 685.5,196.2 685.6,200.1 685.7,193.8 685.8,206.0 685.9,198.8 686.1,198.9 686.2,192.4 686.3,204.7 686.4,207.7 686.5,194.2 686.6,194.3 686.7,200.6 686.8,195.4 686.9,192.6 687.1,198.5 687.2,200.5 687.3,193.2 687.4,198.7 687.5,202.9 687.6,199.2 687.7,203.0 687.8,203.8 688.0,198.7 688.1,194.3 688.2,200.7 688.3,198.7 688.4,199.5 688.5,199.6 688.6,200.4 688.7,203.4 688.9,199.4 689.0,201.0 689.1,199.2 689.2,198.2 689.3,203.6 689.4,190.6 689.5,199.8 689.6,199.1 689.7,199.5 689.9,195.5 690.0,208.6 690.1,196.5 690.2,194.1 690.3,197.4 690.4,196.5 690.5,202.1 690.6,202.1 690.8,208.5 690.9,196.9 691.0,208.8 691.1,203.1 691.2,194.1 691.3,194.6 691.4,193.2 691.5,188.7 691.7,203.6 691.8,207.9 691.9,206.7 692.0,200.3 692.1,196.3 692.2,199.4 692.3,200.7 692.4,197.4 692.5,192.3 692.7,195.5 692.8,207.2 692.9,197.1 693.0,196.8 693.1,196.1 693.2,194.3 693.3,196.4 693.4,192.8 693.6,194.6 693.7,205.0 693.8,202.2 693.9,198.6 694.0,204.4 694.1,195.0 694.2,202.5 694.3,196.0 694.4,196.5 694.6,202.4 694.7,194.2 694.8,203.7 694.9,192.4 695.0,199.6 695.1,195.0 695.2,204.5 695.3,197.2 695.5,196.6 695.6,199.0 695.7,197.1 695.8,200.2 695.9,191.2 696.0,204.2 696.1,197.2 696.2,199.4 696.4,194.7 696.5,193.9 696.6,197.1 696.7,201.7 696.8,198.7 696.9,198.4 697.0,190.7 697.1,201.4 697.2,199.6 697.4,203.2 697.5,198.2 697.6,200.8 697.7,192.1 697.8,199.1 697.9,207.1 698.0,205.0 698.1,196.6 698.3,202.6 698.4,199.8 698.5,201.0 698.6,194.0 698.7,194.8 698.8,198.7 698.9,190.4 699.0,203.1 699.2,198.0 699.3,194.5 699.4,198.0 699.5,198.7 699.6,199.1 699.7,198.3 699.8,190.4 699.9,198.3 700.0,197.1 700.2,195.0 700.3,197.3 700.4,196.8 700.5,198.1 700.6,193.1 700.7,197.5 700.8,198.3 700.9,203.5 701.1,198.4 701.2,195.7 701.3,195.1 701.4,198.3 701.5,192.4 701.6,200.2 701.7,199.7 701.8,197.9 702.0,196.0 702.1,216.9 702.2,198.9 702.3,199.4 702.4,199.6 702.5,194.4 702.6,199.5 702.7,199.5 702.8,198.4 703.0,191.3 703.1,195.2 703.2,204.0 703.3,194.8 703.4,196.1 703.5,192.5 703.6,194.8 703.7,202.6 703.9,198.4 704.0,201.0 704.1,197.7 704.2,199.8 704.3,202.2 704.4,202.7 704.5,197.7 704.6,203.3 704.7,195.9 704.9,204.2 705.0,195.4 705.1,197.1 705.2,201.8 705.3,198.8 705.4,200.5 705.5,193.4 705.6,204.6 705.8,202.1 705.9,198.8 706.0,199.2 706.1,201.0 706.2,193.2 706.3,196.5 706.4,194.1 706.5,193.7 706.7,200.6 706.8,198.8 706.9,201.2 707.0,203.8 707.1,201.4 707.2,197.2 707.3,201.4 707.4,206.0 707.5,195.5 707.7,199.9 707.8,201.4 707.9,197.1 708.0,200.4 708.1,202.1 708.2,198.9 708.3,201.1 708.4,197.2 708.6,201.1 708.7,207.2 708.8,204.9 708.9,202.9 709.0,206.6 709.1,197.7 709.2,199.8 709.3,206.7 709.5,198.4 709.6,198.6 709.7,197.0 709.8,204.0 709.9,197.0 710.0,203.5 710.1,206.8 710.2,192.2 710.3,194.4 710.5,203.9 710.6,197.9 710.7,200.1 710.8,197.5 710.9,205.7 711.0,201.4 711.1,201.5 711.2,198.1 711.4,193.3 711.5,194.7 711.6,198.7 711.7,195.3 711.8,193.1 711.9,198.1 712.0,198.8 712.1,200.5 712.3,200.0 712.4,205.2 712.5,206.3 712.6,203.0 712.7,201.4 712.8,199.1 712.9,200.7 713.0,198.6 713.1,202.1 713.3,202.5 713.4,198.0 713.5,198.6 713.6,200.8 713.7,199.0 713.8,198.7 713.9,201.8 714.0,196.8 714.2,203.1 714.3,199.0 714.4,193.1 714.5,198.1 714.6,204.1 714.7,201.8 714.8,199.5 714.9,190.6 715.1,199.1 715.2,202.8 715.3,196.2 715.4,196.4 715.5,204.0 715.6,197.6 715.7,198.1 715.8,201.5 715.9,196.0 716.1,206.3 716.2,200.2 716.3,197.1 716.4,198.0 716.5,198.2 716.6,200.1 716.7,198.3 716.8,192.4 717.0,203.4 717.1,199.2 717.2,201.9 717.3,201.7 717.4,201.6 717.5,203.3 717.6,197.8 717.7,199.2 717.8,205.1 718.0,203.4 718.1,204.2 718.2,199.1 718.3,202.1 718.4,207.5 718.5,195.0 718.6,201.5 718.7,204.5 718.9,195.0 719.0,199.1 719.1,194.8 719.2,198.2 719.3,203.3 719.4,206.6 719.5,202.2 719.6,192.9 719.8,201.7 719.9,201.2 720.0,194.3 720.1,204.4 720.2,193.8 720.3,197.0 720.4,202.0 720.5,204.1 720.6,197.8 720.8,200.9 720.9,200.7 721.0,196.5 721.1,203.4 721.2,207.9 721.3,200.6 721.4,206.8 721.5,209.8 721.7,200.2 721.8,201.2 721.9,197.0 722.0,198.4 722.1,200.5 722.2,204.8 722.3,192.2 722.4,198.9 722.6,208.7 722.7,198.0 722.8,203.9 722.9,199.1 723.0,201.6 723.1,197.2 723.2,201.2 723.3,204.9 723.4,193.1 723.6,197.2 723.7,204.2 723.8,195.0 723.9,193.3 724.0,203.9 724.1,199.8 724.2,200.9 724.3,199.3 724.5,201.3 724.6,197.7 724.7,199.7 724.8,201.0 724.9,203.7 725.0,196.9 725.1,200.7 725.2,200.2 725.4,197.4 725.5,201.6 725.6,196.9 725.7,199.6 725.8,205.5 725.9,198.1 726.0,199.5 726.1,196.0 726.2,198.7 726.4,192.6 726.5,206.0 726.6,201.5 726.7,205.0 726.8,201.8 726.9,202.5 727.0,205.0 727.1,201.9 727.3,203.8 727.4,195.1 727.5,198.0 727.6,203.0 727.7,194.3 727.8,197.7 727.9,202.8 728.0,207.3 728.1,204.5 728.3,197.7 728.4,196.5 728.5,207.3 728.6,199.6 728.7,197.3 728.8,200.6 728.9,200.1 729.0,201.3 729.2,199.5 729.3,194.5 729.4,199.6 729.5,203.9 729.6,206.1 729.7,197.7 729.8,201.2 729.9,203.6 730.1,194.5 730.2,198.3 730.3,201.5 730.4,211.2 730.5,196.6 730.6,198.7 730.7,188.7 730.8,201.4 730.9,193.6 731.1,200.9 731.2,197.2 731.3,198.6 731.4,203.2 731.5,198.8 731.6,196.6 731.7,200.2 731.8,204.8 732.0,199.5 732.1,195.9 732.2,200.1 732.3,200.1 732.4,205.6 732.5,204.0 732.6,198.7 732.7,201.9 732.9,199.7 733.0,199.8 733.1,198.0 733.2,197.7 733.3,196.9 733.4,205.4 733.5,199.7 733.6,201.4 733.7,197.3 733.9,198.7 734.0,199.1 734.1,199.9 734.2,193.1 734.3,201.8 734.4,198.6 734.5,200.8 734.6,193.9 734.8,204.2 734.9,201.0 735.0,197.4 735.1,200.8 735.2,198.9 735.3,202.8 735.4,206.7 735.5,200.7 735.7,200.0 735.8,205.2 735.9,192.6 736.0,201.8 736.1,202.0 736.2,201.4 736.3,201.9 736.4,212.9 736.5,198.4 736.7,201.5 736.8,199.0 736.9,199.7 737.0,203.0 737.1,194.7 737.2,199.7 737.3,197.4 737.4,198.1 737.6,197.8 737.7,199.6 737.8,201.4 737.9,200.0 738.0,201.0 738.1,199.0 738.2,205.7 738.3,201.9 738.5,202.9 738.6,200.0 738.7,200.1 738.8,200.9 738.9,200.6 739.0,187.7 739.1,193.6 739.2,203.3 739.3,202.0 739.5,205.0 739.6,202.8 739.7,201.5 739.8,200.3 739.9,196.6 740.0,202.0 740.1,198.0 740.2,201.5 740.4,207.5 740.5,197.0 740.6,198.8 740.7,200.0 740.8,200.9 740.9,201.6 741.0,198.6 741.1,203.8 741.2,198.9 741.4,200.0 741.5,197.2 741.6,196.2 741.7,199.3 741.8,198.3 741.9,199.7 742.0,199.0 742.1,194.9 742.3,202.3 742.4,198.2 742.5,194.7 742.6,204.5 742.7,202.7 742.8,206.0 742.9,201.6 743.0,203.6 743.2,201.3 743.3,199.9 743.4,197.3 743.5,200.9 743.6,207.8 743.7,199.8 743.8,198.6 743.9,197.9 744.0,199.6 744.2,204.1 744.3,197.2 744.4,196.8 744.5,204.5 744.6,203.7 744.7,202.2 744.8,202.4 744.9,203.1 745.1,195.4 745.2,201.8 745.3,201.7 745.4,204.2 745.5,194.5 745.6,208.9 745.7,202.3 745.8,205.4 746.0,197.0 746.1,204.6 746.2,195.8 746.3,191.6 746.4,199.5 746.5,198.4 746.6,202.3 746.7,198.4 746.8,196.0 747.0,204.0 747.1,200.9 747.2,209.3 747.3,201.4 747.4,202.2 747.5,206.3 747.6,204.6 747.7,203.4 747.9,199.4 748.0,199.7 748.1,204.3 748.2,198.1 748.3,196.7 748.4,193.4 748.5,195.5 748.6,195.5 748.8,196.7 748.9,203.0 749.0,204.2 749.1,196.7 749.2,201.2 749.3,195.0 749.4,195.9 749.5,205.3 749.6,196.7 749.8,197.9 749.9,200.0 750.0,201.8 750.1,200.2 750.2,203.3 750.3,195.5 750.4,202.7 750.5,203.5 750.7,203.8 750.8,198.7 750.9,196.7 751.0,207.9 751.1,197.4 751.2,198.0 751.3,198.2 751.4,202.4 751.5,203.6 751.7,195.2 751.8,195.5 751.9,202.1 752.0,199.2 752.1,201.3 752.2,201.2 752.3,200.6 752.4,201.4 752.6,199.9 752.7,200.0 752.8,199.7 752.9,205.6 753.0,198.3 753.1,202.9 753.2,198.8 753.3,202.2 753.5,200.3 753.6,196.5 753.7,199.7 753.8,194.4 753.9,202.4 754.0,200.2 754.1,193.3 754.2,207.5 754.3,202.3 754.5,201.8 754.6,197.9 754.7,203.2 754.8,191.5 754.9,202.2 755.0,195.4 755.1,198.9 755.2,195.2 755.4,206.1 755.5,199.5 755.6,202.8 755.7,200.3 755.8,199.7 755.9,202.2 756.0,198.7 756.1,194.7 756.3,201.5 756.4,198.5 756.5,199.5 756.6,197.0 756.7,196.4" fill="none" stroke="#b05512" stroke-width="1.7" stroke-linejoin="round"/>
<rect x="465.6" y="5.4" width="291.1" height="234" fill="none" stroke="#000" stroke-width="1.3"/>
<line x1="465.6" y1="239.4" x2="470.6" y2="239.4" stroke="#000" stroke-width="1.2" />
<text x="461.1" y="244.6" font-size="14.5" text-anchor="end" >0</text>
<line x1="465.6" y1="203.4" x2="470.6" y2="203.4" stroke="#000" stroke-width="1.2" />
<text x="461.1" y="208.6" font-size="14.5" text-anchor="end" >1</text>
<line x1="465.6" y1="167.4" x2="470.6" y2="167.4" stroke="#000" stroke-width="1.2" />
<text x="461.1" y="172.6" font-size="14.5" text-anchor="end" >2</text>
<line x1="465.6" y1="131.5" x2="470.6" y2="131.5" stroke="#000" stroke-width="1.2" />
<text x="461.1" y="136.7" font-size="14.5" text-anchor="end" >3</text>
<line x1="465.6" y1="95.5" x2="470.6" y2="95.5" stroke="#000" stroke-width="1.2" />
<text x="461.1" y="100.7" font-size="14.5" text-anchor="end" >4</text>
<line x1="465.6" y1="59.5" x2="470.6" y2="59.5" stroke="#000" stroke-width="1.2" />
<text x="461.1" y="64.7" font-size="14.5" text-anchor="end" >5</text>
<line x1="465.6" y1="23.5" x2="470.6" y2="23.5" stroke="#000" stroke-width="1.2" />
<text x="461.1" y="28.7" font-size="14.5" text-anchor="end" >6</text>
<line x1="465.6" y1="221.4" x2="468.3" y2="221.4" stroke="#000" stroke-width="1.2" />
<line x1="465.6" y1="185.4" x2="468.3" y2="185.4" stroke="#000" stroke-width="1.2" />
<line x1="465.6" y1="149.5" x2="468.3" y2="149.5" stroke="#000" stroke-width="1.2" />
<line x1="465.6" y1="113.5" x2="468.3" y2="113.5" stroke="#000" stroke-width="1.2" />
<line x1="465.6" y1="77.5" x2="468.3" y2="77.5" stroke="#000" stroke-width="1.2" />
<line x1="465.6" y1="41.5" x2="468.3" y2="41.5" stroke="#000" stroke-width="1.2" />
<line x1="465.6" y1="5.5" x2="468.3" y2="5.5" stroke="#000" stroke-width="1.2" />
<line x1="465.6" y1="239.4" x2="465.6" y2="234.4" stroke="#000" stroke-width="1.2" />
<text x="465.6" y="256" font-size="14.5" text-anchor="middle" >25</text>
<line x1="507.2" y1="239.4" x2="507.2" y2="234.4" stroke="#000" stroke-width="1.2" />
<text x="507.2" y="256" font-size="14.5" text-anchor="middle" >30</text>
<line x1="548.8" y1="239.4" x2="548.8" y2="234.4" stroke="#000" stroke-width="1.2" />
<text x="548.8" y="256" font-size="14.5" text-anchor="middle" >35</text>
<line x1="590.4" y1="239.4" x2="590.4" y2="234.4" stroke="#000" stroke-width="1.2" />
<text x="590.4" y="256" font-size="14.5" text-anchor="middle" >40</text>
<line x1="631.9" y1="239.4" x2="631.9" y2="234.4" stroke="#000" stroke-width="1.2" />
<text x="631.9" y="256" font-size="14.5" text-anchor="middle" >45</text>
<line x1="673.5" y1="239.4" x2="673.5" y2="234.4" stroke="#000" stroke-width="1.2" />
<text x="673.5" y="256" font-size="14.5" text-anchor="middle" >50</text>
<line x1="715.1" y1="239.4" x2="715.1" y2="234.4" stroke="#000" stroke-width="1.2" />
<text x="715.1" y="256" font-size="14.5" text-anchor="middle" >55</text>
<line x1="756.7" y1="239.4" x2="756.7" y2="234.4" stroke="#000" stroke-width="1.2" />
<text x="756.7" y="256" font-size="14.5" text-anchor="middle" >60</text>
<line x1="486.4" y1="239.4" x2="486.4" y2="236.7" stroke="#000" stroke-width="1.2" />
<line x1="528" y1="239.4" x2="528" y2="236.7" stroke="#000" stroke-width="1.2" />
<line x1="569.6" y1="239.4" x2="569.6" y2="236.7" stroke="#000" stroke-width="1.2" />
<line x1="611.2" y1="239.4" x2="611.2" y2="236.7" stroke="#000" stroke-width="1.2" />
<line x1="652.7" y1="239.4" x2="652.7" y2="236.7" stroke="#000" stroke-width="1.2" />
<line x1="694.3" y1="239.4" x2="694.3" y2="236.7" stroke="#000" stroke-width="1.2" />
<line x1="735.9" y1="239.4" x2="735.9" y2="236.7" stroke="#000" stroke-width="1.2" />
<text x="610.5" y="279.6" font-size="14.3" text-anchor="middle" >2<tspan font-style="italic">θ</tspan> (Deg)</text>
<text transform="translate(442.5,122) rotate(-90)" font-size="14.6" text-anchor="middle">Intensity (arb. units)</text>
<text transform="translate(637.6,110.3) rotate(-90)" font-size="16.3" textLength="75" lengthAdjust="spacingAndGlyphs">BFO (002)</text>
<text transform="translate(667.5,110.3) rotate(-90)" font-size="16.5" fill="#0000ff" textLength="84" lengthAdjust="spacingAndGlyphs">LSAT (002)</text>
<line x1="620.5" y1="115.4" x2="620.5" y2="129.3" stroke="#000" stroke-width="1.3" />
<path d="M616.5,128.3 L624.5,128.3 L620.5,139.3 Z" fill="#000"/>
<line x1="634.2" y1="133.6" x2="634.2" y2="147.8" stroke="#000" stroke-width="1.3" />
<path d="M630.2,146.8 L638.2,146.8 L634.2,157.8 Z" fill="#000"/>
<g clip-path="url(#cclip)">
<rect x="870.6" y="4.0" width="264.1" height="230.8" fill="#ffb400"/>
<g>
<ellipse cx="1022.2" cy="7.0" rx="2.1" ry="1.4" fill="#ffa200" transform="rotate(-10 1022.2 7.0)"/>
<ellipse cx="1081.1" cy="36.0" rx="1.6" ry="0.6" fill="#ff9c00" transform="rotate(-9 1081.1 36.0)"/>
<ellipse cx="909.1" cy="19.0" rx="3.2" ry="0.6" fill="#ffa800" transform="rotate(6 909.1 19.0)"/>
<ellipse cx="888.0" cy="86.0" rx="3.5" ry="0.8" fill="#ffa200" transform="rotate(6 888.0 86.0)"/>
<ellipse cx="885.7" cy="229.1" rx="3.7" ry="1.4" fill="#ff9c00" transform="rotate(1 885.7 229.1)"/>
<ellipse cx="1122.7" cy="31.5" rx="3.9" ry="1.0" fill="#ffa800" transform="rotate(-4 1122.7 31.5)"/>
<ellipse cx="880.3" cy="222.3" rx="2.3" ry="1.1" fill="#ff9c00" transform="rotate(-5 880.3 222.3)"/>
<ellipse cx="1114.7" cy="129.8" rx="2.2" ry="0.8" fill="#ff9c00" transform="rotate(4 1114.7 129.8)"/>
<ellipse cx="1060.8" cy="22.7" rx="4.2" ry="0.6" fill="#ffa800" transform="rotate(3 1060.8 22.7)"/>
<ellipse cx="885.3" cy="215.4" rx="2.8" ry="1.4" fill="#ff9c00" transform="rotate(14 885.3 215.4)"/>
<ellipse cx="1019.6" cy="34.6" rx="2.6" ry="0.8" fill="#ffa200" transform="rotate(-11 1019.6 34.6)"/>
<ellipse cx="960.0" cy="24.6" rx="3.8" ry="1.4" fill="#ffa200" transform="rotate(-13 960.0 24.6)"/>
<ellipse cx="879.7" cy="74.6" rx="3.4" ry="1.4" fill="#ffa200" transform="rotate(8 879.7 74.6)"/>
<ellipse cx="1042.2" cy="138.0" rx="3.0" ry="0.8" fill="#ffa800" transform="rotate(-7 1042.2 138.0)"/>
<ellipse cx="1129.5" cy="49.8" rx="4.0" ry="0.9" fill="#ff9c00" transform="rotate(7 1129.5 49.8)"/>
<ellipse cx="1060.9" cy="10.4" rx="2.7" ry="1.2" fill="#ff9c00" transform="rotate(8 1060.9 10.4)"/>
<ellipse cx="1129.4" cy="42.3" rx="1.6" ry="1.5" fill="#ffa200" transform="rotate(-9 1129.4 42.3)"/>
<ellipse cx="880.0" cy="111.4" rx="3.2" ry="1.1" fill="#ff9c00" transform="rotate(7 880.0 111.4)"/>
<ellipse cx="1121.8" cy="71.7" rx="1.6" ry="1.0" fill="#ffa800" transform="rotate(4 1121.8 71.7)"/>
<ellipse cx="968.2" cy="36.8" rx="3.1" ry="1.5" fill="#ff9c00" transform="rotate(3 968.2 36.8)"/>
<ellipse cx="963.3" cy="210.2" rx="1.6" ry="1.1" fill="#ffa800" transform="rotate(1 963.3 210.2)"/>
<ellipse cx="1096.4" cy="40.7" rx="3.6" ry="0.9" fill="#ffa200" transform="rotate(-3 1096.4 40.7)"/>
<ellipse cx="1077.0" cy="194.8" rx="3.0" ry="0.8" fill="#ffa200" transform="rotate(8 1077.0 194.8)"/>
<ellipse cx="1131.7" cy="71.7" rx="2.8" ry="1.2" fill="#ffa800" transform="rotate(11 1131.7 71.7)"/>
<ellipse cx="1107.0" cy="7.7" rx="2.1" ry="1.2" fill="#ffa800" transform="rotate(-6 1107.0 7.7)"/>
<ellipse cx="1105.1" cy="129.9" rx="3.8" ry="1.0" fill="#ffa800" transform="rotate(6 1105.1 129.9)"/>
<ellipse cx="1070.8" cy="74.1" rx="3.8" ry="1.1" fill="#ffa800" transform="rotate(8 1070.8 74.1)"/>
<ellipse cx="1111.1" cy="36.9" rx="3.0" ry="1.0" fill="#ffa200" transform="rotate(1 1111.1 36.9)"/>
<ellipse cx="1064.1" cy="65.7" rx="1.4" ry="1.4" fill="#ffa200" transform="rotate(7 1064.1 65.7)"/>
<ellipse cx="883.5" cy="198.3" rx="3.3" ry="1.5" fill="#ffa800" transform="rotate(12 883.5 198.3)"/>
<ellipse cx="888.4" cy="53.2" rx="3.4" ry="1.3" fill="#ffa200" transform="rotate(-13 888.4 53.2)"/>
<ellipse cx="969.4" cy="16.9" rx="1.7" ry="1.2" fill="#ffa800" transform="rotate(-6 969.4 16.9)"/>
<ellipse cx="1119.4" cy="130.9" rx="1.4" ry="0.8" fill="#ffa200" transform="rotate(1 1119.4 130.9)"/>
<ellipse cx="905.9" cy="58.1" rx="3.6" ry="0.8" fill="#ffa800" transform="rotate(-14 905.9 58.1)"/>
<ellipse cx="960.8" cy="136.3" rx="4.0" ry="1.1" fill="#ffa200" transform="rotate(-8 960.8 136.3)"/>
<ellipse cx="1102.2" cy="114.9" rx="3.8" ry="0.6" fill="#ffa800" transform="rotate(-3 1102.2 114.9)"/>
<ellipse cx="1080.4" cy="177.0" rx="4.2" ry="1.0" fill="#ff9c00" transform="rotate(-11 1080.4 177.0)"/>
<ellipse cx="972.5" cy="35.5" rx="3.3" ry="1.3" fill="#ffa200" transform="rotate(14 972.5 35.5)"/>
<ellipse cx="927.4" cy="45.7" rx="1.3" ry="0.8" fill="#ff9c00" transform="rotate(-14 927.4 45.7)"/>
<ellipse cx="896.9" cy="39.7" rx="2.4" ry="0.9" fill="#ffa200" transform="rotate(-10 896.9 39.7)"/>
<ellipse cx="879.1" cy="217.4" rx="4.3" ry="1.2" fill="#ffa800" transform="rotate(-1 879.1 217.4)"/>
<ellipse cx="1094.8" cy="40.0" rx="2.3" ry="1.0" fill="#ff9c00" transform="rotate(7 1094.8 40.0)"/>
<ellipse cx="913.7" cy="50.4" rx="2.0" ry="0.7" fill="#ffa200" transform="rotate(12 913.7 50.4)"/>
<ellipse cx="925.7" cy="14.1" rx="3.6" ry="0.8" fill="#ffa200" transform="rotate(-13 925.7 14.1)"/>
<ellipse cx="1076.4" cy="98.7" rx="3.0" ry="1.5" fill="#ffa800" transform="rotate(2 1076.4 98.7)"/>
<ellipse cx="1118.7" cy="169.4" rx="3.9" ry="0.7" fill="#ffa200" transform="rotate(-13 1118.7 169.4)"/>
<ellipse cx="934.9" cy="15.6" rx="1.4" ry="0.8" fill="#ffa200" transform="rotate(-2 934.9 15.6)"/>
<ellipse cx="913.4" cy="21.4" rx="3.3" ry="1.0" fill="#ffa200" transform="rotate(-0 913.4 21.4)"/>
<ellipse cx="901.2" cy="75.9" rx="3.7" ry="1.3" fill="#ffa200" transform="rotate(-11 901.2 75.9)"/>
<ellipse cx="1104.5" cy="20.6" rx="2.5" ry="1.3" fill="#ff9c00" transform="rotate(12 1104.5 20.6)"/>
<ellipse cx="905.0" cy="19.2" rx="2.1" ry="1.2" fill="#ffa200" transform="rotate(-14 905.0 19.2)"/>
<ellipse cx="1013.8" cy="174.6" rx="1.6" ry="1.5" fill="#ffa200" transform="rotate(-2 1013.8 174.6)"/>
<ellipse cx="938.8" cy="223.6" rx="2.9" ry="0.7" fill="#ff9c00" transform="rotate(-5 938.8 223.6)"/>
<ellipse cx="1062.6" cy="26.0" rx="1.8" ry="1.2" fill="#ffa200" transform="rotate(8 1062.6 26.0)"/>
<ellipse cx="915.9" cy="15.2" rx="1.7" ry="1.0" fill="#ffa200" transform="rotate(3 915.9 15.2)"/>
<ellipse cx="898.0" cy="191.9" rx="1.4" ry="1.5" fill="#ff9c00" transform="rotate(12 898.0 191.9)"/>
<ellipse cx="887.0" cy="118.1" rx="1.7" ry="0.8" fill="#ffa200" transform="rotate(-14 887.0 118.1)"/>
<ellipse cx="915.4" cy="26.8" rx="4.2" ry="0.8" fill="#ffa200" transform="rotate(-1 915.4 26.8)"/>
<ellipse cx="923.2" cy="162.9" rx="3.2" ry="1.2" fill="#ffa200" transform="rotate(-14 923.2 162.9)"/>
<ellipse cx="1117.5" cy="132.7" rx="1.7" ry="1.0" fill="#ffa800" transform="rotate(-14 1117.5 132.7)"/>
<ellipse cx="1073.9" cy="51.7" rx="1.3" ry="1.3" fill="#ffa800" transform="rotate(2 1073.9 51.7)"/>
<ellipse cx="974.5" cy="4.7" rx="1.8" ry="1.2" fill="#ff9c00" transform="rotate(12 974.5 4.7)"/>
<ellipse cx="1107.6" cy="42.6" rx="3.7" ry="0.8" fill="#ff9c00" transform="rotate(2 1107.6 42.6)"/>
<ellipse cx="892.9" cy="209.3" rx="2.6" ry="0.7" fill="#ffa200" transform="rotate(2 892.9 209.3)"/>
<ellipse cx="1063.1" cy="18.2" rx="4.0" ry="1.5" fill="#ffa200" transform="rotate(-9 1063.1 18.2)"/>
<ellipse cx="1092.4" cy="4.4" rx="1.6" ry="0.9" fill="#ffa200" transform="rotate(3 1092.4 4.4)"/>
<ellipse cx="1125.5" cy="27.8" rx="1.4" ry="0.8" fill="#ffa200" transform="rotate(-10 1125.5 27.8)"/>
<ellipse cx="905.7" cy="4.8" rx="2.3" ry="1.3" fill="#ffa200" transform="rotate(8 905.7 4.8)"/>
<ellipse cx="1113.1" cy="92.2" rx="2.8" ry="1.2" fill="#ff9c00" transform="rotate(2 1113.1 92.2)"/>
<ellipse cx="1007.7" cy="15.6" rx="2.0" ry="1.2" fill="#ff9c00" transform="rotate(-11 1007.7 15.6)"/>
<ellipse cx="892.7" cy="192.8" rx="3.9" ry="0.6" fill="#ffa800" transform="rotate(-1 892.7 192.8)"/>
<ellipse cx="995.2" cy="23.7" rx="4.4" ry="1.2" fill="#ffa800" transform="rotate(-14 995.2 23.7)"/>
<ellipse cx="874.5" cy="192.3" rx="2.3" ry="0.9" fill="#ff9c00" transform="rotate(-2 874.5 192.3)"/>
<ellipse cx="1127.3" cy="233.5" rx="2.6" ry="0.8" fill="#ffa200" transform="rotate(-4 1127.3 233.5)"/>
<ellipse cx="1070.8" cy="21.8" rx="1.3" ry="1.0" fill="#ff9c00" transform="rotate(-9 1070.8 21.8)"/>
<ellipse cx="1028.8" cy="35.5" rx="4.2" ry="1.4" fill="#ff9c00" transform="rotate(-15 1028.8 35.5)"/>
<ellipse cx="1085.2" cy="23.8" rx="3.4" ry="0.9" fill="#ff9c00" transform="rotate(-10 1085.2 23.8)"/>
<ellipse cx="894.4" cy="29.6" rx="2.4" ry="0.9" fill="#ffa200" transform="rotate(1 894.4 29.6)"/>
<ellipse cx="907.7" cy="8.0" rx="2.5" ry="0.8" fill="#ffa800" transform="rotate(6 907.7 8.0)"/>
<ellipse cx="872.8" cy="182.0" rx="2.9" ry="1.1" fill="#ffa200" transform="rotate(-13 872.8 182.0)"/>
<ellipse cx="1002.8" cy="12.8" rx="2.3" ry="0.6" fill="#ffa200" transform="rotate(-2 1002.8 12.8)"/>
<ellipse cx="897.7" cy="32.5" rx="3.1" ry="0.8" fill="#ffa800" transform="rotate(13 897.7 32.5)"/>
<ellipse cx="1121.4" cy="232.0" rx="1.7" ry="1.4" fill="#ff9c00" transform="rotate(4 1121.4 232.0)"/>
<ellipse cx="885.2" cy="52.9" rx="1.5" ry="1.1" fill="#ffa800" transform="rotate(-4 885.2 52.9)"/>
<ellipse cx="881.7" cy="175.3" rx="4.1" ry="0.9" fill="#ffa200" transform="rotate(-7 881.7 175.3)"/>
<ellipse cx="1107.6" cy="44.8" rx="1.4" ry="1.3" fill="#ffa800" transform="rotate(-11 1107.6 44.8)"/>
<ellipse cx="1048.6" cy="153.9" rx="2.6" ry="1.0" fill="#ffa800" transform="rotate(3 1048.6 153.9)"/>
<ellipse cx="899.9" cy="18.8" rx="1.5" ry="0.7" fill="#ffa200" transform="rotate(-6 899.9 18.8)"/>
<ellipse cx="1123.2" cy="160.9" rx="2.5" ry="0.9" fill="#ffa200" transform="rotate(-6 1123.2 160.9)"/>
<ellipse cx="1108.8" cy="111.4" rx="1.9" ry="0.8" fill="#ffa800" transform="rotate(-9 1108.8 111.4)"/>
<ellipse cx="893.9" cy="85.4" rx="2.6" ry="1.2" fill="#ffa800" transform="rotate(-3 893.9 85.4)"/>
<ellipse cx="922.5" cy="215.2" rx="2.9" ry="1.4" fill="#ffa200" transform="rotate(12 922.5 215.2)"/>
<ellipse cx="1091.4" cy="71.8" rx="2.1" ry="0.9" fill="#ffa800" transform="rotate(-7 1091.4 71.8)"/>
<ellipse cx="901.4" cy="181.7" rx="1.5" ry="1.2" fill="#ffa800" transform="rotate(-10 901.4 181.7)"/>
<ellipse cx="1075.7" cy="129.3" rx="2.3" ry="1.3" fill="#ff9c00" transform="rotate(-3 1075.7 129.3)"/>
<ellipse cx="957.6" cy="26.1" rx="3.6" ry="1.0" fill="#ffa200" transform="rotate(-13 957.6 26.1)"/>
<ellipse cx="898.1" cy="100.0" rx="1.3" ry="1.1" fill="#ffa200" transform="rotate(5 898.1 100.0)"/>
<ellipse cx="890.6" cy="91.8" rx="2.0" ry="1.2" fill="#ff9c00" transform="rotate(-12 890.6 91.8)"/>
<ellipse cx="1010.3" cy="36.2" rx="4.3" ry="1.0" fill="#ffa200" transform="rotate(2 1010.3 36.2)"/>
<ellipse cx="922.0" cy="223.6" rx="2.8" ry="0.7" fill="#ffa200" transform="rotate(5 922.0 223.6)"/>
<ellipse cx="912.7" cy="118.1" rx="3.8" ry="1.3" fill="#ffa200" transform="rotate(-14 912.7 118.1)"/>
<ellipse cx="942.9" cy="6.3" rx="3.1" ry="1.3" fill="#ffa800" transform="rotate(-4 942.9 6.3)"/>
<ellipse cx="1010.7" cy="4.6" rx="2.7" ry="0.8" fill="#ff9c00" transform="rotate(-12 1010.7 4.6)"/>
<ellipse cx="996.5" cy="124.4" rx="3.8" ry="1.3" fill="#ffa800" transform="rotate(-1 996.5 124.4)"/>
<ellipse cx="1105.0" cy="43.7" rx="1.3" ry="0.7" fill="#ff9c00" transform="rotate(7 1105.0 43.7)"/>
<ellipse cx="1106.8" cy="163.1" rx="2.5" ry="1.0" fill="#ffa200" transform="rotate(14 1106.8 163.1)"/>
<ellipse cx="894.9" cy="57.7" rx="3.9" ry="1.3" fill="#ffa800" transform="rotate(2 894.9 57.7)"/>
<ellipse cx="1099.6" cy="14.7" rx="4.4" ry="0.7" fill="#ffa800" transform="rotate(-12 1099.6 14.7)"/>
<ellipse cx="946.7" cy="5.6" rx="2.6" ry="0.7" fill="#ff9c00" transform="rotate(6 946.7 5.6)"/>
<ellipse cx="1126.6" cy="99.2" rx="3.0" ry="1.5" fill="#ff9c00" transform="rotate(-8 1126.6 99.2)"/>
<ellipse cx="1027.6" cy="25.8" rx="2.5" ry="0.9" fill="#ff9c00" transform="rotate(-6 1027.6 25.8)"/>
<ellipse cx="1049.6" cy="32.5" rx="1.5" ry="1.2" fill="#ffa800" transform="rotate(4 1049.6 32.5)"/>
<ellipse cx="987.6" cy="38.9" rx="2.7" ry="0.7" fill="#ffa800" transform="rotate(1 987.6 38.9)"/>
<ellipse cx="889.8" cy="90.9" rx="1.7" ry="1.2" fill="#ffa200" transform="rotate(-12 889.8 90.9)"/>
<ellipse cx="992.5" cy="26.7" rx="2.3" ry="1.2" fill="#ffa200" transform="rotate(6 992.5 26.7)"/>
<ellipse cx="903.4" cy="18.6" rx="1.3" ry="1.3" fill="#ffa200" transform="rotate(3 903.4 18.6)"/>
<ellipse cx="1064.4" cy="13.6" rx="3.7" ry="1.4" fill="#ff9c00" transform="rotate(13 1064.4 13.6)"/>
<ellipse cx="992.8" cy="12.9" rx="4.5" ry="1.4" fill="#ff9c00" transform="rotate(-12 992.8 12.9)"/>
<ellipse cx="1119.6" cy="221.0" rx="4.0" ry="1.5" fill="#ff9c00" transform="rotate(-11 1119.6 221.0)"/>
<ellipse cx="918.4" cy="231.1" rx="3.5" ry="0.9" fill="#ff9c00" transform="rotate(4 918.4 231.1)"/>
<ellipse cx="946.2" cy="12.2" rx="3.4" ry="0.8" fill="#ffa200" transform="rotate(11 946.2 12.2)"/>
<ellipse cx="1047.0" cy="10.1" rx="3.0" ry="0.7" fill="#ffa200" transform="rotate(3 1047.0 10.1)"/>
<ellipse cx="913.5" cy="219.6" rx="2.8" ry="0.8" fill="#ffa800" transform="rotate(-9 913.5 219.6)"/>
<ellipse cx="1113.9" cy="233.1" rx="2.2" ry="0.9" fill="#ff9c00" transform="rotate(-14 1113.9 233.1)"/>
<ellipse cx="952.9" cy="61.2" rx="1.6" ry="1.5" fill="#ffa800" transform="rotate(3 952.9 61.2)"/>
<ellipse cx="1114.1" cy="85.0" rx="2.6" ry="1.3" fill="#ffa200" transform="rotate(-13 1114.1 85.0)"/>
<ellipse cx="1111.4" cy="132.6" rx="3.1" ry="0.9" fill="#ff9c00" transform="rotate(6 1111.4 132.6)"/>
<ellipse cx="871.5" cy="38.0" rx="4.3" ry="0.9" fill="#ff9c00" transform="rotate(14 871.5 38.0)"/>
<ellipse cx="1079.4" cy="72.1" rx="1.2" ry="1.1" fill="#ff9c00" transform="rotate(12 1079.4 72.1)"/>
<ellipse cx="1019.6" cy="24.6" rx="2.5" ry="1.2" fill="#ff9c00" transform="rotate(-7 1019.6 24.6)"/>
<ellipse cx="895.7" cy="175.2" rx="2.8" ry="1.1" fill="#ff9c00" transform="rotate(-6 895.7 175.2)"/>
<ellipse cx="897.6" cy="218.4" rx="2.8" ry="0.9" fill="#ff9c00" transform="rotate(-9 897.6 218.4)"/>
<ellipse cx="900.4" cy="60.1" rx="4.3" ry="1.3" fill="#ffa200" transform="rotate(-2 900.4 60.1)"/>
<ellipse cx="1123.2" cy="145.4" rx="2.9" ry="1.2" fill="#ffa200" transform="rotate(0 1123.2 145.4)"/>
<ellipse cx="1042.4" cy="6.6" rx="1.2" ry="1.2" fill="#ffa800" transform="rotate(6 1042.4 6.6)"/>
<ellipse cx="1120.5" cy="178.5" rx="3.7" ry="1.1" fill="#ffa800" transform="rotate(1 1120.5 178.5)"/>
<ellipse cx="1127.3" cy="57.1" rx="2.7" ry="0.7" fill="#ffa200" transform="rotate(12 1127.3 57.1)"/>
<ellipse cx="966.7" cy="4.0" rx="1.7" ry="0.9" fill="#ff9c00" transform="rotate(13 966.7 4.0)"/>
<ellipse cx="1078.0" cy="28.3" rx="3.7" ry="1.1" fill="#ff9c00" transform="rotate(-5 1078.0 28.3)"/>
<ellipse cx="1120.5" cy="14.1" rx="2.6" ry="0.6" fill="#ffa200" transform="rotate(10 1120.5 14.1)"/>
<ellipse cx="896.0" cy="76.5" rx="1.7" ry="1.2" fill="#ffa800" transform="rotate(-11 896.0 76.5)"/>
<ellipse cx="1131.4" cy="131.9" rx="1.5" ry="1.0" fill="#ffa800" transform="rotate(-15 1131.4 131.9)"/>
<ellipse cx="896.7" cy="124.1" rx="4.5" ry="0.7" fill="#ffa800" transform="rotate(-8 896.7 124.1)"/>
<ellipse cx="967.5" cy="38.0" rx="1.6" ry="1.0" fill="#ff9c00" transform="rotate(14 967.5 38.0)"/>
<ellipse cx="1109.9" cy="63.7" rx="2.8" ry="0.8" fill="#ffa200" transform="rotate(-12 1109.9 63.7)"/>
<ellipse cx="1105.7" cy="137.4" rx="3.6" ry="0.6" fill="#ffa200" transform="rotate(13 1105.7 137.4)"/>
<ellipse cx="1046.1" cy="15.7" rx="4.0" ry="1.1" fill="#ff9c00" transform="rotate(-4 1046.1 15.7)"/>
<ellipse cx="901.0" cy="112.1" rx="2.7" ry="1.2" fill="#ffa200" transform="rotate(10 901.0 112.1)"/>
<ellipse cx="1117.4" cy="171.8" rx="2.1" ry="1.2" fill="#ffa200" transform="rotate(5 1117.4 171.8)"/>
<ellipse cx="880.9" cy="84.2" rx="1.8" ry="0.8" fill="#ffa800" transform="rotate(-3 880.9 84.2)"/>
<ellipse cx="1112.8" cy="82.9" rx="3.8" ry="1.4" fill="#ffa200" transform="rotate(8 1112.8 82.9)"/>
<ellipse cx="900.4" cy="12.5" rx="4.3" ry="0.9" fill="#ffa200" transform="rotate(-5 900.4 12.5)"/>
<ellipse cx="1092.2" cy="75.7" rx="2.0" ry="1.4" fill="#ff9c00" transform="rotate(8 1092.2 75.7)"/>
<ellipse cx="957.2" cy="24.1" rx="4.4" ry="0.7" fill="#ff9c00" transform="rotate(3 957.2 24.1)"/>
<ellipse cx="921.7" cy="100.2" rx="1.3" ry="1.2" fill="#ffa200" transform="rotate(6 921.7 100.2)"/>
<ellipse cx="1105.7" cy="30.4" rx="3.4" ry="1.3" fill="#ffa800" transform="rotate(2 1105.7 30.4)"/>
<ellipse cx="939.8" cy="21.5" rx="3.1" ry="1.1" fill="#ffa800" transform="rotate(4 939.8 21.5)"/>
<ellipse cx="900.9" cy="34.2" rx="2.4" ry="0.7" fill="#ffa800" transform="rotate(7 900.9 34.2)"/>
<ellipse cx="1054.5" cy="67.1" rx="3.1" ry="1.3" fill="#ffa800" transform="rotate(3 1054.5 67.1)"/>
<ellipse cx="1042.5" cy="198.8" rx="1.7" ry="1.4" fill="#ffa800" transform="rotate(-7 1042.5 198.8)"/>
<ellipse cx="1051.2" cy="20.2" rx="1.7" ry="0.8" fill="#ffa200" transform="rotate(-2 1051.2 20.2)"/>
<ellipse cx="921.0" cy="234.7" rx="3.4" ry="1.5" fill="#ffa200" transform="rotate(-7 921.0 234.7)"/>
<ellipse cx="1026.6" cy="38.5" rx="3.3" ry="0.6" fill="#ff9c00" transform="rotate(5 1026.6 38.5)"/>
<ellipse cx="990.0" cy="22.0" rx="1.8" ry="1.3" fill="#ff9c00" transform="rotate(9 990.0 22.0)"/>
<ellipse cx="1087.9" cy="26.3" rx="4.1" ry="1.4" fill="#ff9c00" transform="rotate(1 1087.9 26.3)"/>
<ellipse cx="933.1" cy="110.5" rx="2.0" ry="0.9" fill="#ff9c00" transform="rotate(8 933.1 110.5)"/>
<ellipse cx="1106.8" cy="37.0" rx="2.1" ry="0.9" fill="#ff9c00" transform="rotate(6 1106.8 37.0)"/>
<ellipse cx="1126.5" cy="32.1" rx="3.6" ry="0.9" fill="#ff9c00" transform="rotate(11 1126.5 32.1)"/>
<ellipse cx="1120.3" cy="218.6" rx="4.3" ry="1.0" fill="#ff9c00" transform="rotate(-1 1120.3 218.6)"/>
<ellipse cx="983.9" cy="11.2" rx="2.6" ry="0.9" fill="#ffa800" transform="rotate(12 983.9 11.2)"/>
<ellipse cx="1110.0" cy="87.7" rx="2.4" ry="1.5" fill="#ff9c00" transform="rotate(-12 1110.0 87.7)"/>
<ellipse cx="936.6" cy="33.4" rx="3.7" ry="0.8" fill="#ff9c00" transform="rotate(-4 936.6 33.4)"/>
<ellipse cx="1089.2" cy="150.1" rx="2.1" ry="1.5" fill="#ffa200" transform="rotate(-2 1089.2 150.1)"/>
<ellipse cx="1081.7" cy="149.6" rx="1.9" ry="1.1" fill="#ff9c00" transform="rotate(0 1081.7 149.6)"/>
<ellipse cx="1089.1" cy="92.8" rx="3.5" ry="0.7" fill="#ffa200" transform="rotate(-10 1089.1 92.8)"/>
<ellipse cx="974.1" cy="19.0" rx="4.1" ry="1.4" fill="#ffa800" transform="rotate(3 974.1 19.0)"/>
<ellipse cx="900.6" cy="207.6" rx="1.3" ry="1.2" fill="#ffa800" transform="rotate(-9 900.6 207.6)"/>
<ellipse cx="1114.2" cy="37.6" rx="2.1" ry="1.0" fill="#ffa200" transform="rotate(6 1114.2 37.6)"/>
<ellipse cx="1099.4" cy="44.1" rx="3.1" ry="0.6" fill="#ffa200" transform="rotate(14 1099.4 44.1)"/>
<ellipse cx="1045.7" cy="34.4" rx="3.5" ry="0.7" fill="#ff9c00" transform="rotate(7 1045.7 34.4)"/>
<ellipse cx="887.2" cy="186.3" rx="1.5" ry="0.8" fill="#ffa200" transform="rotate(-8 887.2 186.3)"/>
<ellipse cx="1095.2" cy="75.0" rx="1.2" ry="1.5" fill="#ff9c00" transform="rotate(-14 1095.2 75.0)"/>
<ellipse cx="1016.2" cy="55.8" rx="3.0" ry="1.1" fill="#ffa200" transform="rotate(-8 1016.2 55.8)"/>
<ellipse cx="1130.8" cy="79.4" rx="3.0" ry="0.9" fill="#ffa800" transform="rotate(-7 1130.8 79.4)"/>
<ellipse cx="1129.1" cy="134.9" rx="1.4" ry="0.7" fill="#ffa800" transform="rotate(-3 1129.1 134.9)"/>
<ellipse cx="1088.3" cy="72.6" rx="2.3" ry="0.7" fill="#ffa200" transform="rotate(-3 1088.3 72.6)"/>
<ellipse cx="905.5" cy="52.7" rx="1.6" ry="0.7" fill="#ffa800" transform="rotate(0 905.5 52.7)"/>
<ellipse cx="1090.6" cy="8.0" rx="4.3" ry="1.4" fill="#ffa800" transform="rotate(-4 1090.6 8.0)"/>
<ellipse cx="1123.8" cy="12.5" rx="2.2" ry="1.0" fill="#ff9c00" transform="rotate(-10 1123.8 12.5)"/>
<ellipse cx="898.1" cy="8.1" rx="3.6" ry="1.0" fill="#ffa800" transform="rotate(-7 898.1 8.1)"/>
<ellipse cx="962.4" cy="8.4" rx="3.1" ry="0.7" fill="#ffa200" transform="rotate(-11 962.4 8.4)"/>
<ellipse cx="988.1" cy="233.0" rx="4.3" ry="1.4" fill="#ffa200" transform="rotate(-8 988.1 233.0)"/>
<ellipse cx="923.0" cy="105.0" rx="4.3" ry="1.1" fill="#ffa800" transform="rotate(-0 923.0 105.0)"/>
<ellipse cx="1002.3" cy="224.6" rx="1.9" ry="1.4" fill="#ffa800" transform="rotate(9 1002.3 224.6)"/>
<ellipse cx="1107.5" cy="128.1" rx="1.8" ry="1.4" fill="#ff9c00" transform="rotate(15 1107.5 128.1)"/>
<ellipse cx="1090.8" cy="97.4" rx="1.8" ry="1.2" fill="#ffa800" transform="rotate(4 1090.8 97.4)"/>
<ellipse cx="926.9" cy="212.2" rx="4.4" ry="0.8" fill="#ffa200" transform="rotate(14 926.9 212.2)"/>
<ellipse cx="1122.6" cy="39.1" rx="3.3" ry="0.9" fill="#ffa800" transform="rotate(-7 1122.6 39.1)"/>
<ellipse cx="895.2" cy="37.7" rx="4.4" ry="1.4" fill="#ff9c00" transform="rotate(-13 895.2 37.7)"/>
<ellipse cx="958.1" cy="32.7" rx="4.4" ry="0.6" fill="#ffa200" transform="rotate(-2 958.1 32.7)"/>
<ellipse cx="885.3" cy="129.3" rx="2.2" ry="1.2" fill="#ffa800" transform="rotate(-10 885.3 129.3)"/>
<ellipse cx="973.3" cy="115.9" rx="2.4" ry="1.5" fill="#ffa800" transform="rotate(-1 973.3 115.9)"/>
<ellipse cx="882.3" cy="68.4" rx="4.5" ry="1.0" fill="#ff9c00" transform="rotate(9 882.3 68.4)"/>
<ellipse cx="1125.9" cy="49.2" rx="1.7" ry="1.3" fill="#ff9c00" transform="rotate(-5 1125.9 49.2)"/>
<ellipse cx="1085.2" cy="131.5" rx="3.4" ry="1.1" fill="#ffa800" transform="rotate(9 1085.2 131.5)"/>
<ellipse cx="881.6" cy="112.6" rx="3.3" ry="1.0" fill="#ffa800" transform="rotate(4 881.6 112.6)"/>
<ellipse cx="896.3" cy="129.6" rx="4.2" ry="1.1" fill="#ffa800" transform="rotate(-1 896.3 129.6)"/>
<ellipse cx="1081.6" cy="216.5" rx="1.3" ry="1.0" fill="#ff9c00" transform="rotate(-3 1081.6 216.5)"/>
<ellipse cx="920.6" cy="62.5" rx="2.0" ry="1.5" fill="#ffa800" transform="rotate(8 920.6 62.5)"/>
<ellipse cx="958.6" cy="39.1" rx="1.3" ry="1.3" fill="#ffa200" transform="rotate(8 958.6 39.1)"/>
<ellipse cx="1130.2" cy="131.6" rx="3.8" ry="1.0" fill="#ffa800" transform="rotate(12 1130.2 131.6)"/>
<ellipse cx="1117.3" cy="135.6" rx="2.4" ry="1.2" fill="#ffa800" transform="rotate(-7 1117.3 135.6)"/>
<ellipse cx="1108.6" cy="45.8" rx="3.5" ry="1.5" fill="#ff9c00" transform="rotate(-2 1108.6 45.8)"/>
<ellipse cx="888.8" cy="82.7" rx="1.4" ry="0.7" fill="#ff9c00" transform="rotate(12 888.8 82.7)"/>
<ellipse cx="914.6" cy="73.6" rx="1.9" ry="0.6" fill="#ffa200" transform="rotate(-7 914.6 73.6)"/>
<ellipse cx="881.0" cy="43.1" rx="4.0" ry="1.2" fill="#ff9c00" transform="rotate(-6 881.0 43.1)"/>
<ellipse cx="984.3" cy="40.0" rx="3.0" ry="1.2" fill="#ffa200" transform="rotate(11 984.3 40.0)"/>
<ellipse cx="1063.5" cy="42.7" rx="4.1" ry="1.2" fill="#ffa800" transform="rotate(-6 1063.5 42.7)"/>
<ellipse cx="889.0" cy="73.1" rx="2.0" ry="0.7" fill="#ff9c00" transform="rotate(-6 889.0 73.1)"/>
<ellipse cx="1117.9" cy="122.2" rx="4.4" ry="1.2" fill="#ff9c00" transform="rotate(15 1117.9 122.2)"/>
<ellipse cx="1080.9" cy="64.6" rx="1.2" ry="1.2" fill="#ffa200" transform="rotate(9 1080.9 64.6)"/>
<ellipse cx="1088.6" cy="55.6" rx="3.7" ry="1.4" fill="#ff9c00" transform="rotate(11 1088.6 55.6)"/>
<ellipse cx="883.4" cy="28.3" rx="3.4" ry="0.6" fill="#ffa800" transform="rotate(-11 883.4 28.3)"/>
<ellipse cx="897.5" cy="10.8" rx="1.3" ry="0.7" fill="#ffa200" transform="rotate(-7 897.5 10.8)"/>
<ellipse cx="1059.5" cy="53.2" rx="1.2" ry="0.7" fill="#ffa800" transform="rotate(-1 1059.5 53.2)"/>
<ellipse cx="936.5" cy="14.8" rx="2.2" ry="0.8" fill="#ffa200" transform="rotate(13 936.5 14.8)"/>
<ellipse cx="1047.6" cy="22.7" rx="1.8" ry="1.2" fill="#ffa800" transform="rotate(13 1047.6 22.7)"/>
<ellipse cx="918.4" cy="82.9" rx="1.9" ry="1.4" fill="#ffa200" transform="rotate(-15 918.4 82.9)"/>
<ellipse cx="890.8" cy="22.3" rx="3.6" ry="0.6" fill="#ffa200" transform="rotate(11 890.8 22.3)"/>
<ellipse cx="905.5" cy="145.3" rx="2.3" ry="1.1" fill="#ffa800" transform="rotate(8 905.5 145.3)"/>
<ellipse cx="1104.4" cy="51.5" rx="3.6" ry="1.1" fill="#ffa800" transform="rotate(-14 1104.4 51.5)"/>
<ellipse cx="1040.1" cy="118.3" rx="4.5" ry="0.7" fill="#ffa200" transform="rotate(6 1040.1 118.3)"/>
<ellipse cx="975.2" cy="24.8" rx="4.1" ry="1.2" fill="#ffa800" transform="rotate(-12 975.2 24.8)"/>
<ellipse cx="895.7" cy="149.3" rx="4.1" ry="0.8" fill="#ffa200" transform="rotate(-10 895.7 149.3)"/>
<ellipse cx="1026.2" cy="27.5" rx="1.2" ry="1.2" fill="#ffa200" transform="rotate(-11 1026.2 27.5)"/>
<ellipse cx="928.3" cy="49.1" rx="1.2" ry="1.5" fill="#ff9c00" transform="rotate(-14 928.3 49.1)"/>
<ellipse cx="1103.7" cy="30.8" rx="3.4" ry="1.2" fill="#ff9c00" transform="rotate(-9 1103.7 30.8)"/>
<ellipse cx="900.5" cy="83.6" rx="3.8" ry="1.2" fill="#ffa800" transform="rotate(7 900.5 83.6)"/>
<ellipse cx="916.6" cy="84.9" rx="1.2" ry="1.0" fill="#ffa200" transform="rotate(8 916.6 84.9)"/>
<ellipse cx="1133.7" cy="9.1" rx="2.9" ry="1.3" fill="#ff9c00" transform="rotate(-5 1133.7 9.1)"/>
<ellipse cx="898.9" cy="21.1" rx="4.5" ry="0.6" fill="#ff9c00" transform="rotate(5 898.9 21.1)"/>
<ellipse cx="996.1" cy="36.9" rx="2.8" ry="0.8" fill="#ffa200" transform="rotate(7 996.1 36.9)"/>
<ellipse cx="885.0" cy="101.2" rx="3.7" ry="0.7" fill="#ffa200" transform="rotate(3 885.0 101.2)"/>
<ellipse cx="1007.4" cy="10.7" rx="3.5" ry="1.0" fill="#ffa200" transform="rotate(-2 1007.4 10.7)"/>
<ellipse cx="935.0" cy="7.9" rx="3.5" ry="1.2" fill="#ffa800" transform="rotate(0 935.0 7.9)"/>
<ellipse cx="1076.4" cy="11.9" rx="2.6" ry="0.7" fill="#ff9c00" transform="rotate(-4 1076.4 11.9)"/>
<ellipse cx="1104.3" cy="32.0" rx="4.1" ry="1.0" fill="#ffa800" transform="rotate(-9 1104.3 32.0)"/>
<ellipse cx="885.1" cy="223.6" rx="1.4" ry="1.3" fill="#ffa200" transform="rotate(-13 885.1 223.6)"/>
<ellipse cx="1077.1" cy="187.4" rx="3.9" ry="0.6" fill="#ffa800" transform="rotate(-11 1077.1 187.4)"/>
<ellipse cx="900.3" cy="163.8" rx="4.0" ry="1.2" fill="#ff9c00" transform="rotate(9 900.3 163.8)"/>
<ellipse cx="881.9" cy="47.2" rx="1.7" ry="0.6" fill="#ffa200" transform="rotate(7 881.9 47.2)"/>
<ellipse cx="1029.7" cy="18.6" rx="4.4" ry="0.9" fill="#ffa200" transform="rotate(14 1029.7 18.6)"/>
<ellipse cx="1076.5" cy="203.4" rx="4.5" ry="1.2" fill="#ffa800" transform="rotate(2 1076.5 203.4)"/>
<ellipse cx="877.2" cy="99.4" rx="4.0" ry="1.4" fill="#ffa800" transform="rotate(12 877.2 99.4)"/>
<ellipse cx="1069.3" cy="31.8" rx="3.4" ry="1.4" fill="#ffa200" transform="rotate(-11 1069.3 31.8)"/>
<ellipse cx="1068.4" cy="93.6" rx="3.2" ry="1.4" fill="#ffa200" transform="rotate(-5 1068.4 93.6)"/>
<ellipse cx="906.5" cy="50.6" rx="4.4" ry="1.0" fill="#ffa800" transform="rotate(-4 906.5 50.6)"/>
<ellipse cx="966.8" cy="30.4" rx="4.1" ry="1.1" fill="#ffa800" transform="rotate(11 966.8 30.4)"/>
<ellipse cx="1101.9" cy="51.8" rx="4.0" ry="1.0" fill="#ffa200" transform="rotate(-2 1101.9 51.8)"/>
<ellipse cx="966.3" cy="34.4" rx="2.2" ry="1.3" fill="#ffa200" transform="rotate(4 966.3 34.4)"/>
<ellipse cx="1024.6" cy="19.0" rx="1.4" ry="1.3" fill="#ff9c00" transform="rotate(-7 1024.6 19.0)"/>
<ellipse cx="976.1" cy="11.1" rx="2.4" ry="1.3" fill="#ff9c00" transform="rotate(-7 976.1 11.1)"/>
<ellipse cx="1039.2" cy="9.9" rx="2.9" ry="1.0" fill="#ffa200" transform="rotate(6 1039.2 9.9)"/>
<ellipse cx="871.3" cy="213.6" rx="2.6" ry="1.3" fill="#ff9c00" transform="rotate(5 871.3 213.6)"/>
<ellipse cx="1126.7" cy="88.5" rx="1.3" ry="0.7" fill="#ff9c00" transform="rotate(4 1126.7 88.5)"/>
<ellipse cx="1087.0" cy="61.1" rx="4.5" ry="0.7" fill="#ff9c00" transform="rotate(2 1087.0 61.1)"/>
<ellipse cx="983.3" cy="9.1" rx="1.3" ry="1.3" fill="#ff9c00" transform="rotate(-5 983.3 9.1)"/>
<ellipse cx="1066.9" cy="37.8" rx="1.8" ry="1.1" fill="#ff9c00" transform="rotate(-11 1066.9 37.8)"/>
<ellipse cx="925.7" cy="22.8" rx="2.7" ry="1.4" fill="#ff9c00" transform="rotate(10 925.7 22.8)"/>
<ellipse cx="914.9" cy="234.6" rx="1.6" ry="0.9" fill="#ffa200" transform="rotate(7 914.9 234.6)"/>
<ellipse cx="877.2" cy="39.5" rx="1.6" ry="1.2" fill="#ff9c00" transform="rotate(9 877.2 39.5)"/>
<ellipse cx="891.7" cy="31.6" rx="2.9" ry="0.6" fill="#ff9c00" transform="rotate(11 891.7 31.6)"/>
<ellipse cx="875.7" cy="158.8" rx="3.3" ry="1.0" fill="#ffa800" transform="rotate(1 875.7 158.8)"/>
<ellipse cx="1095.1" cy="115.4" rx="2.1" ry="0.7" fill="#ffa200" transform="rotate(-8 1095.1 115.4)"/>
<ellipse cx="878.6" cy="28.3" rx="3.7" ry="1.0" fill="#ff9c00" transform="rotate(11 878.6 28.3)"/>
<ellipse cx="1120.5" cy="22.5" rx="1.8" ry="1.4" fill="#ffa800" transform="rotate(-2 1120.5 22.5)"/>
<ellipse cx="1045.0" cy="44.6" rx="3.8" ry="0.8" fill="#ff9c00" transform="rotate(11 1045.0 44.6)"/>
<ellipse cx="1131.1" cy="105.5" rx="4.2" ry="0.7" fill="#ffa800" transform="rotate(-7 1131.1 105.5)"/>
<ellipse cx="1083.9" cy="70.0" rx="1.3" ry="0.8" fill="#ff9c00" transform="rotate(-11 1083.9 70.0)"/>
<ellipse cx="1085.6" cy="109.5" rx="3.5" ry="0.6" fill="#ffa800" transform="rotate(-10 1085.6 109.5)"/>
<ellipse cx="1134.0" cy="31.3" rx="3.2" ry="0.9" fill="#ff9c00" transform="rotate(-8 1134.0 31.3)"/>
<ellipse cx="1076.1" cy="19.0" rx="3.6" ry="1.2" fill="#ff9c00" transform="rotate(4 1076.1 19.0)"/>
<ellipse cx="1083.3" cy="5.6" rx="3.4" ry="1.0" fill="#ffa200" transform="rotate(2 1083.3 5.6)"/>
<ellipse cx="1081.6" cy="161.8" rx="3.1" ry="1.2" fill="#ff9c00" transform="rotate(-12 1081.6 161.8)"/>
<ellipse cx="904.4" cy="57.4" rx="4.1" ry="1.2" fill="#ffa200" transform="rotate(4 904.4 57.4)"/>
<ellipse cx="877.0" cy="148.3" rx="1.6" ry="0.9" fill="#ff9c00" transform="rotate(-13 877.0 148.3)"/>
<ellipse cx="899.5" cy="71.6" rx="2.6" ry="0.8" fill="#ffa800" transform="rotate(3 899.5 71.6)"/>
<ellipse cx="1133.2" cy="33.5" rx="3.7" ry="0.8" fill="#ff9c00" transform="rotate(-2 1133.2 33.5)"/>
<ellipse cx="870.6" cy="76.4" rx="3.3" ry="1.2" fill="#ff9c00" transform="rotate(-12 870.6 76.4)"/>
<ellipse cx="1084.6" cy="23.2" rx="4.0" ry="0.7" fill="#ffa800" transform="rotate(-2 1084.6 23.2)"/>
<ellipse cx="1049.4" cy="8.2" rx="4.1" ry="1.1" fill="#ff9c00" transform="rotate(12 1049.4 8.2)"/>
<ellipse cx="1069.9" cy="36.0" rx="2.1" ry="1.0" fill="#ff9c00" transform="rotate(8 1069.9 36.0)"/>
<ellipse cx="930.5" cy="23.2" rx="4.1" ry="0.9" fill="#ff9c00" transform="rotate(12 930.5 23.2)"/>
<ellipse cx="939.0" cy="48.3" rx="3.7" ry="0.8" fill="#ff9c00" transform="rotate(-11 939.0 48.3)"/>
<ellipse cx="1003.4" cy="6.7" rx="3.5" ry="0.9" fill="#ffa800" transform="rotate(-5 1003.4 6.7)"/>
<ellipse cx="1036.4" cy="219.4" rx="2.7" ry="1.5" fill="#ff9c00" transform="rotate(-6 1036.4 219.4)"/>
<ellipse cx="1126.2" cy="61.5" rx="1.9" ry="0.9" fill="#ffa200" transform="rotate(5 1126.2 61.5)"/>
<ellipse cx="1001.7" cy="25.3" rx="3.7" ry="0.7" fill="#ffa200" transform="rotate(8 1001.7 25.3)"/>
<ellipse cx="892.1" cy="123.6" rx="4.4" ry="0.8" fill="#ff9c00" transform="rotate(-10 892.1 123.6)"/>
<ellipse cx="1090.9" cy="35.9" rx="1.8" ry="1.3" fill="#ffa200" transform="rotate(-2 1090.9 35.9)"/>
<ellipse cx="957.9" cy="215.6" rx="3.7" ry="0.9" fill="#ffa800" transform="rotate(-7 957.9 215.6)"/>
<ellipse cx="1100.8" cy="200.5" rx="1.9" ry="1.2" fill="#ff9c00" transform="rotate(5 1100.8 200.5)"/>
<ellipse cx="955.2" cy="37.0" rx="2.9" ry="0.8" fill="#ffa200" transform="rotate(-3 955.2 37.0)"/>
<ellipse cx="889.9" cy="188.0" rx="4.0" ry="0.6" fill="#ff9c00" transform="rotate(-3 889.9 188.0)"/>
<ellipse cx="1124.3" cy="176.2" rx="2.4" ry="0.9" fill="#ffa800" transform="rotate(9 1124.3 176.2)"/>
<ellipse cx="1086.8" cy="39.4" rx="4.5" ry="0.9" fill="#ffa800" transform="rotate(0 1086.8 39.4)"/>
<ellipse cx="1008.1" cy="21.8" rx="4.0" ry="1.1" fill="#ff9c00" transform="rotate(8 1008.1 21.8)"/>
</g>
<path d="M898,71 Q1004,36 1092,71 Q1004,106 898,71 Z" fill="#ffc600"/>
<ellipse cx="1003" cy="180" rx="58" ry="40" fill="#ffca00" opacity="0.9"/>
<path d="M996,80 L1010,80 L1008,160 L1009,215 L997,215 L998,160 Z" fill="#ffd000"/>
<path d="M914,71 Q1004,48 1072,72 Q1004,94 914,71 Z" fill="#ffe000"/>
<path d="M940,70.5 Q1004,55 1058,71 Q1004,86 940,70.5 Z" fill="#f6f000"/>
<path d="M999,84 L1008,84 L1006,150 L1001,150 Z" fill="#ffe800"/>
<ellipse cx="1003" cy="179" rx="38" ry="28" fill="#ffe600"/>
<ellipse cx="1003" cy="179" rx="30" ry="23" fill="#fff000"/>
<ellipse cx="1002.5" cy="177" rx="5" ry="16" fill="#c8f030"/>
<ellipse cx="1002.5" cy="178" rx="3.2" ry="11" fill="#90e880"/>
<ellipse cx="1000" cy="70.5" rx="33" ry="7.5" fill="#a0f090"/>
<ellipse cx="1001" cy="70.5" rx="24" ry="6" fill="#00e8f8"/>
<ellipse cx="1004" cy="70" rx="13" ry="5" fill="#00b8ff" transform="rotate(20 1004 70)"/>
<ellipse cx="1003.5" cy="69.5" rx="9.5" ry="3.6" fill="#2030ff" transform="rotate(31 1003.5 69.5)"/>
<ellipse cx="1003.5" cy="69.5" rx="7" ry="2.3" fill="#8a10ff" transform="rotate(31 1003.5 69.5)"/>
</g>
<ellipse cx="1003.4" cy="69.8" rx="48.5" ry="14.6" fill="none" stroke="#1a1ad0" stroke-width="1.4" stroke-dasharray="3.2,2.4"/>
<ellipse cx="1003.2" cy="117.2" rx="5.4" ry="7.3" fill="none" stroke="#ff1010" stroke-width="1.3" stroke-dasharray="2.6,1.9"/>
<ellipse cx="1002.6" cy="178.8" rx="33" ry="21.8" fill="none" stroke="#111" stroke-width="1.3" stroke-dasharray="3.2,2.4"/>
<text x="1011.5" y="51" font-size="18.4" text-anchor="middle" fill="#1010e0" textLength="94" lengthAdjust="spacingAndGlyphs" >LSAT (002)</text>
<text x="1010.6" y="145" font-size="18.4" text-anchor="middle" fill="#ff1010" textLength="106" lengthAdjust="spacingAndGlyphs" >R-BFO (002)</text>
<text x="1012.3" y="220.6" font-size="18.4" text-anchor="middle" textLength="137" lengthAdjust="spacingAndGlyphs" >T-like BFO (002)</text>
<rect x="870.6" y="4" width="264.1" height="230.8" fill="none" stroke="#000" stroke-width="1.3"/>
<line x1="870.6" y1="217.4" x2="873.3" y2="217.4" stroke="#000" stroke-width="1.2" />
<line x1="870.6" y1="186.3" x2="875.6" y2="186.3" stroke="#000" stroke-width="1.2" />
<line x1="870.6" y1="155.1" x2="873.3" y2="155.1" stroke="#000" stroke-width="1.2" />
<line x1="870.6" y1="124" x2="875.6" y2="124" stroke="#000" stroke-width="1.2" />
<line x1="870.6" y1="92.9" x2="873.3" y2="92.9" stroke="#000" stroke-width="1.2" />
<line x1="870.6" y1="61.7" x2="875.6" y2="61.7" stroke="#000" stroke-width="1.2" />
<line x1="870.6" y1="30.6" x2="873.3" y2="30.6" stroke="#000" stroke-width="1.2" />
<text x="869.3" y="68.5" font-size="17" text-anchor="end" >5.2</text>
<text x="869.3" y="130.8" font-size="17" text-anchor="end" >5.0</text>
<text x="869.3" y="193.1" font-size="17" text-anchor="end" >4.8</text>
<line x1="884.2" y1="234.8" x2="884.2" y2="232.1" stroke="#000" stroke-width="1.2" />
<line x1="908" y1="234.8" x2="908" y2="229.8" stroke="#000" stroke-width="1.2" />
<line x1="931.8" y1="234.8" x2="931.8" y2="232.1" stroke="#000" stroke-width="1.2" />
<line x1="955.5" y1="234.8" x2="955.5" y2="229.8" stroke="#000" stroke-width="1.2" />
<line x1="979.2" y1="234.8" x2="979.2" y2="232.1" stroke="#000" stroke-width="1.2" />
<line x1="1003" y1="234.8" x2="1003" y2="229.8" stroke="#000" stroke-width="1.2" />
<line x1="1026.8" y1="234.8" x2="1026.8" y2="232.1" stroke="#000" stroke-width="1.2" />
<line x1="1050.5" y1="234.8" x2="1050.5" y2="229.8" stroke="#000" stroke-width="1.2" />
<line x1="1074.2" y1="234.8" x2="1074.2" y2="232.1" stroke="#000" stroke-width="1.2" />
<line x1="1098" y1="234.8" x2="1098" y2="229.8" stroke="#000" stroke-width="1.2" />
<line x1="1121.8" y1="234.8" x2="1121.8" y2="232.1" stroke="#000" stroke-width="1.2" />
<text x="907.6" y="254.4" font-size="17.4" text-anchor="middle" >-0.10</text>
<text x="957.4" y="254.4" font-size="17.4" text-anchor="middle" >-0.05</text>
<text x="1006.5" y="254.4" font-size="17.4" text-anchor="middle" >0.00</text>
<text x="1051.9" y="254.4" font-size="17.4" text-anchor="middle" >0.05</text>
<text x="1100" y="254.4" font-size="17.4" text-anchor="middle" >0.10</text>
<text x="999" y="271.6" font-size="19.5" font-weight="bold" >q<tspan font-size="13" dy="4">x</tspan></text>
<text transform="translate(833.8,133.6) rotate(-90)" font-size="19.5" font-weight="bold">q<tspan font-size="13" dy="4">z</tspan></text>
<g clip-path="url(#aclip)">
<rect x="32.2" y="4.3" width="311.7" height="253.59999999999997" filter="url(#fa)"/>
<circle cx="104.2" cy="28.1" r="4.1" fill="url(#dotC)"/>
<circle cx="155.0" cy="41.5" r="4.5" fill="url(#dotB)"/>
<circle cx="50.3" cy="105.6" r="4.1" fill="url(#dotC)"/>
<circle cx="320.8" cy="209.1" r="4.7" fill="url(#dotB)"/>
<circle cx="272.3" cy="58.9" r="4.4" fill="url(#dotA)"/>
<circle cx="199.7" cy="73.1" r="3.9" fill="url(#dotA)"/>
<circle cx="84.1" cy="28.9" r="4.5" fill="url(#dotA)"/>
<circle cx="97.3" cy="242.1" r="4.7" fill="url(#dotA)"/>
<circle cx="292.5" cy="210.7" r="4.1" fill="url(#dotA)"/>
<circle cx="283.5" cy="51.5" r="4.9" fill="url(#dotC)"/>
<circle cx="127.6" cy="164.1" r="4.8" fill="url(#dotB)"/>
<circle cx="261.7" cy="223.2" r="3.9" fill="url(#dotA)"/>
<circle cx="308.8" cy="23.8" r="4.4" fill="url(#dotA)"/>
<circle cx="221.7" cy="175.7" r="4.9" fill="url(#dotA)"/>
<circle cx="189.9" cy="47.5" r="4.1" fill="url(#dotC)"/>
<circle cx="179.7" cy="24.5" r="4.0" fill="url(#dotD)"/>
<circle cx="326.1" cy="226.0" r="4.4" fill="url(#dotB)"/>
<circle cx="203.2" cy="79.2" r="4.2" fill="url(#dotB)"/>
<circle cx="317.9" cy="149.9" r="4.1" fill="url(#dotA)"/>
<circle cx="309.5" cy="221.5" r="4.8" fill="url(#dotA)"/>
<circle cx="190.7" cy="108.8" r="4.7" fill="url(#dotA)"/>
<circle cx="219.5" cy="113.2" r="4.9" fill="url(#dotC)"/>
<circle cx="80.5" cy="80.5" r="4.7" fill="url(#dotC)"/>
<circle cx="287.4" cy="12.5" r="4.5" fill="url(#dotC)"/>
<circle cx="43.9" cy="163.9" r="4.0" fill="url(#dotB)"/>
<circle cx="118.3" cy="140.1" r="4.7" fill="url(#dotA)"/>
<circle cx="178.9" cy="90.3" r="4.8" fill="url(#dotC)"/>
<circle cx="346.0" cy="52.1" r="4.3" fill="url(#dotA)"/>
<circle cx="160.3" cy="53.9" r="4.4" fill="url(#dotA)"/>
<circle cx="230.2" cy="73.0" r="4.9" fill="url(#dotA)"/>
<circle cx="142.2" cy="195.2" r="3.9" fill="url(#dotA)"/>
<circle cx="131.1" cy="146.3" r="4.6" fill="url(#dotD)"/>
<circle cx="316.5" cy="27.5" r="4.4" fill="url(#dotB)"/>
<circle cx="48.8" cy="60.7" r="4.5" fill="url(#dotC)"/>
<circle cx="272.3" cy="161.1" r="4.1" fill="url(#dotB)"/>
<circle cx="104.6" cy="87.2" r="4.5" fill="url(#dotC)"/>
<circle cx="85.6" cy="120.5" r="4.1" fill="url(#dotA)"/>
<circle cx="42.8" cy="182.3" r="4.2" fill="url(#dotD)"/>
<circle cx="313.8" cy="249.1" r="4.2" fill="url(#dotB)"/>
<circle cx="262.7" cy="250.5" r="4.2" fill="url(#dotA)"/>
<circle cx="35.0" cy="76.3" r="4.0" fill="url(#dotC)"/>
<circle cx="336.1" cy="202.6" r="4.7" fill="url(#dotA)"/>
<circle cx="159.6" cy="246.2" r="4.6" fill="url(#dotC)"/>
<circle cx="226.3" cy="213.6" r="4.8" fill="url(#dotD)"/>
<circle cx="122.4" cy="51.0" r="4.3" fill="url(#dotD)"/>
<circle cx="170.3" cy="36.7" r="4.9" fill="url(#dotB)"/>
<circle cx="150.4" cy="251.0" r="4.8" fill="url(#dotB)"/>
<circle cx="134.5" cy="3.7" r="4.3" fill="url(#dotA)"/>
<circle cx="43.4" cy="45.3" r="4.8" fill="url(#dotA)"/>
<circle cx="278.2" cy="95.5" r="4.0" fill="url(#dotC)"/>
<circle cx="121.4" cy="26.5" r="4.7" fill="url(#dotB)"/>
<circle cx="341.1" cy="111.4" r="4.7" fill="url(#dotA)"/>
<circle cx="95.3" cy="16.7" r="4.2" fill="url(#dotA)"/>
<circle cx="244.2" cy="40.1" r="4.3" fill="url(#dotA)"/>
<circle cx="42.2" cy="128.7" r="4.0" fill="url(#dotA)"/>
<circle cx="108.3" cy="260.3" r="4.8" fill="url(#dotD)"/>
<circle cx="68.0" cy="138.7" r="4.6" fill="url(#dotB)"/>
<circle cx="275.0" cy="107.6" r="4.2" fill="url(#dotD)"/>
<circle cx="343.0" cy="125.3" r="4.4" fill="url(#dotC)"/>
<circle cx="106.0" cy="107.9" r="3.9" fill="url(#dotA)"/>
<circle cx="40.9" cy="110.6" r="4.7" fill="url(#dotC)"/>
<circle cx="108.2" cy="232.2" r="4.8" fill="url(#dotB)"/>
<circle cx="293.2" cy="130.7" r="4.3" fill="url(#dotB)"/>
<circle cx="39.3" cy="67.3" r="4.7" fill="url(#dotA)"/>
<circle cx="106.2" cy="55.3" r="4.4" fill="url(#dotA)"/>
<circle cx="102.7" cy="227.1" r="4.7" fill="url(#dotA)"/>
<circle cx="74.2" cy="14.6" r="4.6" fill="url(#dotD)"/>
<circle cx="324.0" cy="148.1" r="3.9" fill="url(#dotB)"/>
<circle cx="343.9" cy="105.9" r="4.5" fill="url(#dotC)"/>
<circle cx="315.4" cy="171.1" r="4.5" fill="url(#dotA)"/>
<circle cx="280.5" cy="194.6" r="4.3" fill="url(#dotD)"/>
<circle cx="186.2" cy="25.4" r="4.8" fill="url(#dotA)"/>
<circle cx="96.2" cy="228.1" r="4.0" fill="url(#dotA)"/>
<circle cx="315.1" cy="241.3" r="3.9" fill="url(#dotB)"/>
<circle cx="136.1" cy="171.8" r="4.0" fill="url(#dotC)"/>
<circle cx="283.2" cy="168.1" r="4.6" fill="url(#dotA)"/>
<circle cx="288.1" cy="138.4" r="4.4" fill="url(#dotA)"/>
<circle cx="237.2" cy="179.4" r="4.4" fill="url(#dotA)"/>
<circle cx="114.4" cy="240.9" r="4.1" fill="url(#dotA)"/>
<circle cx="333.0" cy="20.6" r="4.3" fill="url(#dotC)"/>
<circle cx="337.7" cy="251.0" r="4.5" fill="url(#dotA)"/>
<circle cx="241.5" cy="12.9" r="4.6" fill="url(#dotC)"/>
<circle cx="314.8" cy="34.4" r="4.7" fill="url(#dotC)"/>
<circle cx="336.9" cy="174.5" r="3.9" fill="url(#dotB)"/>
<circle cx="231.0" cy="149.1" r="4.0" fill="url(#dotC)"/>
<circle cx="266.4" cy="242.1" r="4.1" fill="url(#dotC)"/>
<circle cx="98.6" cy="2.1" r="4.2" fill="url(#dotC)"/>
<circle cx="322.2" cy="4.7" r="4.2" fill="url(#dotA)"/>
<circle cx="307.6" cy="31.4" r="4.3" fill="url(#dotA)"/>
<circle cx="286.5" cy="204.6" r="4.8" fill="url(#dotA)"/>
<circle cx="308.1" cy="144.2" r="4.4" fill="url(#dotB)"/>
<circle cx="308.4" cy="53.7" r="4.8" fill="url(#dotA)"/>
<circle cx="242.5" cy="87.1" r="4.5" fill="url(#dotB)"/>
<circle cx="312.5" cy="202.1" r="4.6" fill="url(#dotD)"/>
<circle cx="179.0" cy="138.0" r="4.2" fill="url(#dotC)"/>
<circle cx="37.6" cy="10.2" r="4.4" fill="url(#dotB)"/>
<circle cx="218.1" cy="128.2" r="4.0" fill="url(#dotC)"/>
<circle cx="303.9" cy="159.2" r="4.9" fill="url(#dotA)"/>
<circle cx="73.3" cy="95.4" r="4.2" fill="url(#dotD)"/>
<circle cx="273.1" cy="137.1" r="4.0" fill="url(#dotA)"/>
<circle cx="32.6" cy="218.8" r="4.0" fill="url(#dotC)"/>
<circle cx="292.1" cy="23.4" r="4.7" fill="url(#dotB)"/>
<circle cx="201.8" cy="100.2" r="4.5" fill="url(#dotA)"/>
<circle cx="279.4" cy="82.1" r="4.5" fill="url(#dotB)"/>
<circle cx="103.4" cy="127.6" r="4.4" fill="url(#dotA)"/>
<circle cx="336.2" cy="26.0" r="4.3" fill="url(#dotA)"/>
<circle cx="65.6" cy="162.5" r="3.9" fill="url(#dotB)"/>
<circle cx="310.5" cy="134.3" r="4.1" fill="url(#dotC)"/>
<circle cx="167.1" cy="224.0" r="4.7" fill="url(#dotC)"/>
<circle cx="275.9" cy="18.7" r="4.4" fill="url(#dotA)"/>
<circle cx="125.2" cy="218.4" r="4.3" fill="url(#dotB)"/>
<circle cx="163.4" cy="208.6" r="4.5" fill="url(#dotD)"/>
<circle cx="82.4" cy="228.3" r="4.0" fill="url(#dotB)"/>
<circle cx="85.2" cy="40.1" r="4.4" fill="url(#dotC)"/>
<circle cx="186.2" cy="89.2" r="4.8" fill="url(#dotC)"/>
<circle cx="201.3" cy="236.0" r="4.5" fill="url(#dotC)"/>
<circle cx="254.9" cy="2.7" r="4.6" fill="url(#dotC)"/>
<circle cx="183.8" cy="187.1" r="4.6" fill="url(#dotC)"/>
<circle cx="107.2" cy="221.3" r="4.1" fill="url(#dotD)"/>
<circle cx="342.4" cy="164.0" r="4.3" fill="url(#dotB)"/>
<circle cx="244.2" cy="159.5" r="4.7" fill="url(#dotD)"/>
<circle cx="128.7" cy="238.3" r="4.9" fill="url(#dotA)"/>
<circle cx="177.6" cy="237.9" r="4.2" fill="url(#dotA)"/>
<circle cx="126.3" cy="226.5" r="4.3" fill="url(#dotA)"/>
<circle cx="279.2" cy="160.4" r="4.5" fill="url(#dotA)"/>
<circle cx="239.5" cy="35.9" r="4.2" fill="url(#dotD)"/>
<circle cx="55.4" cy="38.7" r="4.6" fill="url(#dotB)"/>
<circle cx="315.7" cy="97.9" r="4.0" fill="url(#dotD)"/>
<circle cx="212.2" cy="92.3" r="4.6" fill="url(#dotA)"/>
<circle cx="226.4" cy="25.6" r="4.2" fill="url(#dotC)"/>
<circle cx="86.3" cy="171.1" r="4.6" fill="url(#dotA)"/>
<circle cx="133.0" cy="79.3" r="4.9" fill="url(#dotA)"/>
<circle cx="330.8" cy="216.7" r="4.2" fill="url(#dotC)"/>
<circle cx="283.7" cy="210.9" r="4.1" fill="url(#dotC)"/>
<circle cx="332.1" cy="42.4" r="4.1" fill="url(#dotB)"/>
<circle cx="211.5" cy="244.8" r="4.2" fill="url(#dotA)"/>
<circle cx="270.7" cy="252.7" r="4.8" fill="url(#dotB)"/>
<circle cx="66.3" cy="170.4" r="4.3" fill="url(#dotB)"/>
<circle cx="243.8" cy="194.8" r="4.2" fill="url(#dotA)"/>
<circle cx="158.2" cy="156.8" r="4.3" fill="url(#dotA)"/>
<circle cx="314.1" cy="184.0" r="4.1" fill="url(#dotD)"/>
<circle cx="127.6" cy="61.1" r="3.9" fill="url(#dotC)"/>
<circle cx="345.8" cy="234.7" r="4.8" fill="url(#dotC)"/>
<circle cx="156.3" cy="105.3" r="3.9" fill="url(#dotB)"/>
<circle cx="288.9" cy="75.0" r="3.9" fill="url(#dotB)"/>
<circle cx="160.0" cy="4.7" r="4.6" fill="url(#dotA)"/>
<circle cx="87.6" cy="141.5" r="3.9" fill="url(#dotB)"/>
<circle cx="144.9" cy="248.2" r="4.0" fill="url(#dotA)"/>
<circle cx="227.2" cy="41.8" r="4.4" fill="url(#dotC)"/>
<circle cx="50.7" cy="254.1" r="4.3" fill="url(#dotA)"/>
<circle cx="343.0" cy="240.1" r="4.7" fill="url(#dotC)"/>
<circle cx="221.0" cy="82.4" r="4.4" fill="url(#dotA)"/>
<circle cx="58.2" cy="68.3" r="4.1" fill="url(#dotA)"/>
<circle cx="76.5" cy="63.2" r="4.5" fill="url(#dotA)"/>
<circle cx="124.3" cy="247.4" r="4.7" fill="url(#dotC)"/>
<circle cx="81.1" cy="206.5" r="4.8" fill="url(#dotC)"/>
<circle cx="245.5" cy="143.3" r="3.9" fill="url(#dotB)"/>
<circle cx="334.0" cy="69.4" r="4.0" fill="url(#dotC)"/>
<circle cx="195.8" cy="42.2" r="4.6" fill="url(#dotC)"/>
<circle cx="59.9" cy="9.5" r="4.1" fill="url(#dotA)"/>
<circle cx="129.8" cy="32.9" r="4.7" fill="url(#dotB)"/>
<circle cx="121.0" cy="232.4" r="4.5" fill="url(#dotB)"/>
<circle cx="252.2" cy="191.2" r="4.7" fill="url(#dotA)"/>
<circle cx="237.4" cy="248.6" r="4.2" fill="url(#dotA)"/>
<circle cx="308.3" cy="188.1" r="4.2" fill="url(#dotC)"/>
<circle cx="207.1" cy="181.4" r="4.8" fill="url(#dotA)"/>
<circle cx="259.1" cy="144.7" r="4.0" fill="url(#dotB)"/>
<circle cx="188.9" cy="41.3" r="4.6" fill="url(#dotA)"/>
<circle cx="297.4" cy="127.0" r="4.2" fill="url(#dotA)"/>
<circle cx="50.7" cy="44.9" r="3.9" fill="url(#dotB)"/>
<circle cx="307.1" cy="67.8" r="4.6" fill="url(#dotC)"/>
<circle cx="153.5" cy="178.4" r="4.1" fill="url(#dotA)"/>
<circle cx="302.9" cy="86.6" r="4.8" fill="url(#dotB)"/>
<circle cx="152.1" cy="111.1" r="4.3" fill="url(#dotC)"/>
<circle cx="38.1" cy="228.9" r="4.6" fill="url(#dotB)"/>
<circle cx="35.2" cy="250.5" r="4.0" fill="url(#dotC)"/>
<circle cx="77.7" cy="42.0" r="4.1" fill="url(#dotA)"/>
<circle cx="298.8" cy="215.1" r="4.3" fill="url(#dotB)"/>
<circle cx="102.9" cy="145.0" r="4.5" fill="url(#dotA)"/>
<circle cx="88.0" cy="215.6" r="4.6" fill="url(#dotB)"/>
<circle cx="345.8" cy="184.7" r="4.1" fill="url(#dotC)"/>
<circle cx="321.9" cy="244.6" r="4.7" fill="url(#dotD)"/>
<circle cx="149.8" cy="221.3" r="4.6" fill="url(#dotA)"/>
<circle cx="294.1" cy="153.7" r="4.7" fill="url(#dotD)"/>
<circle cx="318.9" cy="80.5" r="4.4" fill="url(#dotD)"/>
<circle cx="234.7" cy="234.2" r="4.9" fill="url(#dotA)"/>
<circle cx="219.9" cy="11.0" r="4.8" fill="url(#dotD)"/>
<circle cx="301.8" cy="173.1" r="4.7" fill="url(#dotA)"/>
<circle cx="227.8" cy="89.3" r="4.3" fill="url(#dotB)"/>
<circle cx="294.2" cy="232.8" r="4.5" fill="url(#dotC)"/>
<circle cx="313.0" cy="230.6" r="4.5" fill="url(#dotA)"/>
<circle cx="221.3" cy="138.1" r="4.8" fill="url(#dotB)"/>
<circle cx="342.9" cy="93.0" r="4.8" fill="url(#dotA)"/>
<circle cx="55.1" cy="186.5" r="4.9" fill="url(#dotB)"/>
<circle cx="187.4" cy="142.9" r="4.7" fill="url(#dotC)"/>
<circle cx="219.1" cy="66.2" r="4.8" fill="url(#dotA)"/>
<circle cx="277.5" cy="237.1" r="4.0" fill="url(#dotA)"/>
<circle cx="250.5" cy="31.6" r="4.1" fill="url(#dotB)"/>
<circle cx="340.1" cy="215.9" r="4.7" fill="url(#dotA)"/>
<circle cx="191.0" cy="1.5" r="4.0" fill="url(#dotA)"/>
<circle cx="297.3" cy="163.1" r="4.3" fill="url(#dotB)"/>
<circle cx="226.9" cy="6.0" r="3.9" fill="url(#dotC)"/>
<circle cx="262.1" cy="10.2" r="4.1" fill="url(#dotA)"/>
<circle cx="181.1" cy="38.9" r="4.8" fill="url(#dotB)"/>
<circle cx="143.5" cy="232.4" r="4.8" fill="url(#dotB)"/>
<circle cx="267.0" cy="213.1" r="4.0" fill="url(#dotA)"/>
<circle cx="123.9" cy="102.1" r="4.3" fill="url(#dotC)"/>
<circle cx="160.2" cy="254.4" r="4.7" fill="url(#dotC)"/>
<circle cx="268.8" cy="225.3" r="4.6" fill="url(#dotA)"/>
<circle cx="124.1" cy="180.6" r="4.3" fill="url(#dotA)"/>
<circle cx="279.8" cy="184.2" r="4.4" fill="url(#dotA)"/>
<circle cx="168.2" cy="46.7" r="4.4" fill="url(#dotB)"/>
<circle cx="325.2" cy="72.9" r="3.9" fill="url(#dotC)"/>
<circle cx="269.3" cy="107.0" r="4.5" fill="url(#dotC)"/>
<circle cx="228.6" cy="219.9" r="4.6" fill="url(#dotC)"/>
<circle cx="110.5" cy="134.0" r="4.9" fill="url(#dotA)"/>
<circle cx="120.4" cy="238.7" r="4.3" fill="url(#dotA)"/>
<circle cx="71.3" cy="198.1" r="4.6" fill="url(#dotB)"/>
<circle cx="56.8" cy="257.4" r="4.5" fill="url(#dotD)"/>
<circle cx="241.7" cy="232.5" r="4.1" fill="url(#dotA)"/>
<circle cx="187.8" cy="30.9" r="4.6" fill="url(#dotC)"/>
<circle cx="137.4" cy="119.6" r="4.4" fill="url(#dotA)"/>
<circle cx="343.8" cy="44.5" r="4.3" fill="url(#dotC)"/>
<circle cx="65.4" cy="253.5" r="4.4" fill="url(#dotB)"/>
<circle cx="123.4" cy="148.6" r="4.3" fill="url(#dotC)"/>
<circle cx="53.3" cy="221.1" r="4.5" fill="url(#dotC)"/>
<circle cx="86.2" cy="187.8" r="4.8" fill="url(#dotC)"/>
<circle cx="37.8" cy="200.3" r="4.3" fill="url(#dotA)"/>
<circle cx="86.7" cy="54.8" r="4.7" fill="url(#dotC)"/>
<circle cx="40.3" cy="85.5" r="4.8" fill="url(#dotA)"/>
<circle cx="133.5" cy="256.5" r="4.7" fill="url(#dotC)"/>
<circle cx="222.0" cy="95.9" r="4.0" fill="url(#dotA)"/>
<circle cx="97.5" cy="249.5" r="4.5" fill="url(#dotA)"/>
<circle cx="331.5" cy="178.9" r="4.7" fill="url(#dotA)"/>
<circle cx="340.1" cy="16.2" r="4.6" fill="url(#dotA)"/>
<circle cx="241.4" cy="220.2" r="4.1" fill="url(#dotA)"/>
<circle cx="62.3" cy="53.1" r="4.4" fill="url(#dotC)"/>
<circle cx="73.0" cy="125.6" r="4.1" fill="url(#dotC)"/>
<circle cx="202.7" cy="141.6" r="4.2" fill="url(#dotC)"/>
<circle cx="295.6" cy="198.2" r="4.3" fill="url(#dotA)"/>
<circle cx="98.9" cy="63.2" r="4.0" fill="url(#dotA)"/>
<circle cx="211.5" cy="51.8" r="4.6" fill="url(#dotA)"/>
<circle cx="144.7" cy="185.1" r="4.0" fill="url(#dotC)"/>
<circle cx="329.2" cy="50.8" r="4.6" fill="url(#dotA)"/>
<circle cx="139.8" cy="256.1" r="4.6" fill="url(#dotB)"/>
<circle cx="96.7" cy="8.3" r="4.3" fill="url(#dotB)"/>
<circle cx="261.5" cy="244.9" r="4.9" fill="url(#dotA)"/>
<circle cx="187.2" cy="12.0" r="4.5" fill="url(#dotC)"/>
<circle cx="126.5" cy="188.0" r="4.3" fill="url(#dotA)"/>
<circle cx="148.6" cy="121.7" r="4.7" fill="url(#dotC)"/>
<circle cx="72.5" cy="9.0" r="4.4" fill="url(#dotB)"/>
<circle cx="162.1" cy="31.1" r="4.1" fill="url(#dotC)"/>
<circle cx="313.4" cy="126.3" r="3.9" fill="url(#dotC)"/>
<circle cx="338.6" cy="138.1" r="4.4" fill="url(#dotA)"/>
<circle cx="86.7" cy="161.0" r="4.5" fill="url(#dotB)"/>
<circle cx="219.8" cy="156.9" r="4.0" fill="url(#dotB)"/>
<circle cx="87.3" cy="75.4" r="4.1" fill="url(#dotC)"/>
<circle cx="167.4" cy="82.9" r="4.2" fill="url(#dotA)"/>
<circle cx="139.0" cy="176.7" r="4.1" fill="url(#dotA)"/>
<circle cx="202.1" cy="250.2" r="4.1" fill="url(#dotA)"/>
<circle cx="135.7" cy="140.9" r="4.5" fill="url(#dotC)"/>
<circle cx="178.9" cy="32.3" r="4.1" fill="url(#dotA)"/>
<circle cx="309.8" cy="155.9" r="4.4" fill="url(#dotA)"/>
<circle cx="343.0" cy="38.5" r="4.3" fill="url(#dotC)"/>
<circle cx="255.1" cy="156.3" r="4.1" fill="url(#dotC)"/>
<circle cx="45.5" cy="214.2" r="4.4" fill="url(#dotA)"/>
<circle cx="328.4" cy="205.1" r="4.1" fill="url(#dotB)"/>
<circle cx="112.8" cy="16.2" r="4.0" fill="url(#dotA)"/>
<circle cx="180.3" cy="226.1" r="4.5" fill="url(#dotC)"/>
<circle cx="95.6" cy="124.0" r="4.4" fill="url(#dotC)"/>
<circle cx="334.1" cy="231.8" r="3.9" fill="url(#dotA)"/>
<circle cx="120.6" cy="109.5" r="4.2" fill="url(#dotD)"/>
<circle cx="30.0" cy="138.7" r="4.3" fill="url(#dotC)"/>
<circle cx="300.4" cy="220.6" r="3.9" fill="url(#dotB)"/>
<circle cx="52.1" cy="113.8" r="4.8" fill="url(#dotC)"/>
<circle cx="319.2" cy="74.9" r="4.5" fill="url(#dotA)"/>
<circle cx="297.9" cy="249.3" r="4.8" fill="url(#dotA)"/>
<circle cx="289.2" cy="53.7" r="4.9" fill="url(#dotC)"/>
<circle cx="346.5" cy="4.0" r="4.6" fill="url(#dotB)"/>
<circle cx="58.6" cy="167.6" r="4.1" fill="url(#dotA)"/>
<circle cx="241.3" cy="164.9" r="4.6" fill="url(#dotC)"/>
<circle cx="248.3" cy="18.0" r="4.3" fill="url(#dotC)"/>
<circle cx="62.2" cy="199.1" r="4.0" fill="url(#dotA)"/>
<circle cx="132.2" cy="89.4" r="4.0" fill="url(#dotA)"/>
<circle cx="117.2" cy="153.7" r="4.7" fill="url(#dotC)"/>
<circle cx="79.1" cy="200.6" r="4.0" fill="url(#dotA)"/>
<circle cx="202.4" cy="111.6" r="4.0" fill="url(#dotC)"/>
<circle cx="125.9" cy="94.6" r="4.3" fill="url(#dotA)"/>
<circle cx="199.6" cy="65.6" r="4.3" fill="url(#dotC)"/>
<circle cx="182.5" cy="170.4" r="4.3" fill="url(#dotC)"/>
<circle cx="202.1" cy="152.0" r="4.5" fill="url(#dotB)"/>
<circle cx="172.7" cy="87.7" r="4.5" fill="url(#dotA)"/>
<circle cx="125.8" cy="83.4" r="4.1" fill="url(#dotB)"/>
<circle cx="303.5" cy="208.3" r="4.2" fill="url(#dotA)"/>
<circle cx="133.6" cy="217.9" r="4.1" fill="url(#dotD)"/>
<circle cx="345.3" cy="9.8" r="4.3" fill="url(#dotA)"/>
<circle cx="31.0" cy="226.4" r="3.9" fill="url(#dotA)"/>
<circle cx="30.0" cy="171.4" r="4.8" fill="url(#dotA)"/>
<circle cx="205.8" cy="59.2" r="4.6" fill="url(#dotA)"/>
<circle cx="107.2" cy="252.4" r="4.6" fill="url(#dotB)"/>
<circle cx="154.2" cy="64.1" r="4.6" fill="url(#dotB)"/>
<circle cx="169.5" cy="191.4" r="4.3" fill="url(#dotA)"/>
<circle cx="280.4" cy="26.3" r="4.5" fill="url(#dotC)"/>
<circle cx="46.8" cy="2.5" r="4.6" fill="url(#dotB)"/>
<circle cx="29.4" cy="95.7" r="4.2" fill="url(#dotC)"/>
<circle cx="270.4" cy="150.0" r="4.7" fill="url(#dotA)"/>
<circle cx="184.8" cy="244.5" r="4.6" fill="url(#dotC)"/>
<circle cx="153.9" cy="23.7" r="4.6" fill="url(#dotD)"/>
<circle cx="152.3" cy="56.0" r="4.8" fill="url(#dotA)"/>
<circle cx="69.3" cy="119.8" r="4.9" fill="url(#dotA)"/>
<circle cx="263.6" cy="198.1" r="4.3" fill="url(#dotD)"/>
<circle cx="309.9" cy="83.8" r="4.1" fill="url(#dotA)"/>
<circle cx="155.0" cy="238.5" r="4.5" fill="url(#dotA)"/>
<circle cx="61.9" cy="240.3" r="4.2" fill="url(#dotC)"/>
<circle cx="309.1" cy="255.7" r="4.5" fill="url(#dotC)"/>
<circle cx="293.1" cy="185.8" r="4.7" fill="url(#dotC)"/>
<circle cx="226.7" cy="241.3" r="4.8" fill="url(#dotC)"/>
<circle cx="119.6" cy="88.3" r="4.9" fill="url(#dotB)"/>
<circle cx="229.2" cy="175.9" r="4.6" fill="url(#dotB)"/>
<circle cx="104.8" cy="49.2" r="4.9" fill="url(#dotC)"/>
<circle cx="141.9" cy="110.8" r="4.3" fill="url(#dotC)"/>
<circle cx="162.0" cy="220.5" r="4.2" fill="url(#dotA)"/>
<circle cx="68.6" cy="226.0" r="4.3" fill="url(#dotA)"/>
<circle cx="32.9" cy="182.8" r="3.9" fill="url(#dotA)"/>
<circle cx="271.8" cy="123.2" r="4.4" fill="url(#dotC)"/>
<circle cx="264.9" cy="74.1" r="3.9" fill="url(#dotC)"/>
<circle cx="113.4" cy="187.4" r="4.0" fill="url(#dotB)"/>
<circle cx="208.4" cy="172.8" r="4.2" fill="url(#dotB)"/>
<circle cx="280.7" cy="253.1" r="4.6" fill="url(#dotA)"/>
<circle cx="324.3" cy="193.8" r="4.3" fill="url(#dotC)"/>
<circle cx="139.7" cy="133.3" r="4.0" fill="url(#dotA)"/>
<circle cx="269.3" cy="205.5" r="4.6" fill="url(#dotC)"/>
<circle cx="315.1" cy="194.0" r="4.9" fill="url(#dotA)"/>
<circle cx="241.7" cy="67.3" r="4.5" fill="url(#dotA)"/>
<circle cx="226.7" cy="49.8" r="4.6" fill="url(#dotC)"/>
<circle cx="234.7" cy="47.0" r="4.0" fill="url(#dotA)"/>
<circle cx="274.2" cy="41.5" r="4.8" fill="url(#dotA)"/>
<circle cx="288.8" cy="219.0" r="4.5" fill="url(#dotC)"/>
<circle cx="211.7" cy="72.4" r="4.2" fill="url(#dotC)"/>
<circle cx="47.1" cy="17.8" r="3.9" fill="url(#dotA)"/>
<circle cx="232.0" cy="59.7" r="4.1" fill="url(#dotA)"/>
<circle cx="282.8" cy="17.7" r="4.1" fill="url(#dotA)"/>
<circle cx="30.9" cy="51.6" r="4.7" fill="url(#dotA)"/>
<circle cx="282.0" cy="58.4" r="4.5" fill="url(#dotB)"/>
<circle cx="33.7" cy="126.6" r="4.7" fill="url(#dotC)"/>
<circle cx="140.1" cy="150.3" r="4.5" fill="url(#dotA)"/>
<circle cx="212.6" cy="185.1" r="4.7" fill="url(#dotA)"/>
<circle cx="320.0" cy="89.1" r="4.8" fill="url(#dotA)"/>
<circle cx="230.9" cy="32.1" r="4.2" fill="url(#dotA)"/>
<circle cx="254.9" cy="229.0" r="4.3" fill="url(#dotC)"/>
<circle cx="259.7" cy="215.2" r="4.8" fill="url(#dotC)"/>
<circle cx="252.8" cy="112.4" r="4.6" fill="url(#dotA)"/>
<circle cx="289.3" cy="239.6" r="4.2" fill="url(#dotA)"/>
<circle cx="63.4" cy="38.8" r="4.3" fill="url(#dotC)"/>
<circle cx="303.8" cy="138.0" r="4.9" fill="url(#dotA)"/>
<circle cx="300.9" cy="96.4" r="4.9" fill="url(#dotD)"/>
<circle cx="208.9" cy="65.4" r="4.4" fill="url(#dotC)"/>
<circle cx="31.6" cy="104.7" r="4.7" fill="url(#dotA)"/>
<circle cx="208.3" cy="230.0" r="4.5" fill="url(#dotD)"/>
<circle cx="287.1" cy="42.2" r="4.8" fill="url(#dotD)"/>
<circle cx="276.6" cy="244.1" r="4.0" fill="url(#dotC)"/>
<circle cx="153.2" cy="142.5" r="4.4" fill="url(#dotD)"/>
<circle cx="236.0" cy="160.5" r="4.1" fill="url(#dotB)"/>
<circle cx="89.3" cy="230.9" r="4.0" fill="url(#dotC)"/>
<circle cx="201.0" cy="19.8" r="4.6" fill="url(#dotA)"/>
<circle cx="126.5" cy="22.2" r="4.2" fill="url(#dotA)"/>
<circle cx="80.9" cy="128.9" r="4.5" fill="url(#dotC)"/>
<circle cx="310.1" cy="90.5" r="4.0" fill="url(#dotD)"/>
<circle cx="254.3" cy="50.7" r="4.9" fill="url(#dotB)"/>
<circle cx="135.2" cy="9.6" r="4.5" fill="url(#dotA)"/>
<circle cx="96.2" cy="190.5" r="4.5" fill="url(#dotA)"/>
<circle cx="69.8" cy="45.9" r="4.3" fill="url(#dotC)"/>
<circle cx="145.2" cy="134.7" r="4.1" fill="url(#dotA)"/>
<circle cx="289.8" cy="117.9" r="4.7" fill="url(#dotA)"/>
<circle cx="285.1" cy="127.1" r="4.0" fill="url(#dotD)"/>
<circle cx="111.8" cy="30.4" r="4.1" fill="url(#dotA)"/>
<circle cx="238.1" cy="195.6" r="4.2" fill="url(#dotA)"/>
<circle cx="189.2" cy="128.2" r="4.3" fill="url(#dotB)"/>
<circle cx="85.1" cy="101.0" r="4.0" fill="url(#dotB)"/>
<circle cx="86.1" cy="84.3" r="4.0" fill="url(#dotA)"/>
<circle cx="228.4" cy="104.8" r="4.1" fill="url(#dotA)"/>
<circle cx="242.0" cy="79.5" r="4.2" fill="url(#dotA)"/>
<circle cx="115.6" cy="114.5" r="4.7" fill="url(#dotC)"/>
<circle cx="250.2" cy="10.7" r="4.4" fill="url(#dotC)"/>
<circle cx="185.9" cy="68.0" r="4.6" fill="url(#dotA)"/>
<circle cx="275.7" cy="201.5" r="4.5" fill="url(#dotC)"/>
<circle cx="261.2" cy="110.1" r="4.4" fill="url(#dotC)"/>
<circle cx="147.6" cy="91.8" r="4.5" fill="url(#dotD)"/>
<circle cx="145.7" cy="151.0" r="4.2" fill="url(#dotC)"/>
<circle cx="152.5" cy="34.8" r="4.9" fill="url(#dotB)"/>
<circle cx="179.0" cy="257.9" r="4.8" fill="url(#dotA)"/>
<circle cx="272.8" cy="187.8" r="4.6" fill="url(#dotA)"/>
<circle cx="323.9" cy="116.7" r="4.7" fill="url(#dotB)"/>
<circle cx="144.3" cy="207.1" r="4.4" fill="url(#dotA)"/>
<circle cx="76.3" cy="163.1" r="4.2" fill="url(#dotC)"/>
<circle cx="192.4" cy="201.7" r="4.5" fill="url(#dotC)"/>
<circle cx="49.2" cy="175.6" r="4.0" fill="url(#dotA)"/>
<circle cx="246.4" cy="74.0" r="4.9" fill="url(#dotA)"/>
<circle cx="265.7" cy="255.4" r="4.4" fill="url(#dotC)"/>
<circle cx="187.8" cy="256.0" r="4.4" fill="url(#dotB)"/>
<circle cx="72.6" cy="107.1" r="4.9" fill="url(#dotC)"/>
<circle cx="205.7" cy="240.5" r="4.1" fill="url(#dotB)"/>
<circle cx="289.8" cy="229.2" r="4.3" fill="url(#dotC)"/>
<circle cx="262.5" cy="187.3" r="4.6" fill="url(#dotA)"/>
<circle cx="324.0" cy="45.7" r="4.6" fill="url(#dotB)"/>
<circle cx="36.2" cy="89.9" r="3.9" fill="url(#dotA)"/>
<circle cx="110.5" cy="101.8" r="4.3" fill="url(#dotA)"/>
<circle cx="48.2" cy="159.8" r="4.6" fill="url(#dotD)"/>
<circle cx="165.0" cy="70.1" r="4.8" fill="url(#dotC)"/>
<circle cx="61.5" cy="150.3" r="4.8" fill="url(#dotB)"/>
<circle cx="60.8" cy="224.7" r="4.5" fill="url(#dotC)"/>
<circle cx="68.6" cy="102.4" r="4.0" fill="url(#dotA)"/>
<circle cx="171.5" cy="230.0" r="4.3" fill="url(#dotA)"/>
<circle cx="81.3" cy="222.3" r="4.3" fill="url(#dotA)"/>
<circle cx="192.7" cy="75.4" r="4.6" fill="url(#dotD)"/>
<circle cx="140.4" cy="73.6" r="4.1" fill="url(#dotA)"/>
<circle cx="230.2" cy="115.7" r="4.2" fill="url(#dotC)"/>
<circle cx="193.8" cy="169.8" r="4.1" fill="url(#dotC)"/>
<circle cx="302.3" cy="182.6" r="4.1" fill="url(#dotB)"/>
<circle cx="123.2" cy="174.1" r="4.6" fill="url(#dotC)"/>
<circle cx="249.1" cy="237.1" r="4.0" fill="url(#dotD)"/>
<circle cx="269.6" cy="88.2" r="4.7" fill="url(#dotB)"/>
<circle cx="139.5" cy="58.5" r="4.8" fill="url(#dotB)"/>
<circle cx="343.8" cy="245.9" r="4.1" fill="url(#dotA)"/>
<circle cx="163.1" cy="117.8" r="4.7" fill="url(#dotB)"/>
<circle cx="236.3" cy="132.3" r="3.9" fill="url(#dotA)"/>
<circle cx="215.9" cy="105.5" r="4.1" fill="url(#dotB)"/>
<circle cx="302.4" cy="232.9" r="4.5" fill="url(#dotB)"/>
<circle cx="61.4" cy="129.8" r="4.3" fill="url(#dotD)"/>
<circle cx="221.7" cy="39.9" r="4.2" fill="url(#dotC)"/>
<circle cx="155.6" cy="96.5" r="4.1" fill="url(#dotB)"/>
<circle cx="191.2" cy="122.8" r="4.1" fill="url(#dotA)"/>
<circle cx="80.7" cy="91.3" r="4.2" fill="url(#dotA)"/>
<circle cx="177.3" cy="115.6" r="4.3" fill="url(#dotC)"/>
<circle cx="289.1" cy="169.9" r="4.4" fill="url(#dotC)"/>
<circle cx="101.1" cy="259.8" r="4.4" fill="url(#dotA)"/>
<circle cx="168.6" cy="165.7" r="4.6" fill="url(#dotA)"/>
<circle cx="79.8" cy="142.3" r="4.7" fill="url(#dotD)"/>
<circle cx="105.5" cy="207.6" r="4.4" fill="url(#dotA)"/>
<circle cx="78.4" cy="173.4" r="4.3" fill="url(#dotB)"/>
<circle cx="322.4" cy="215.2" r="4.2" fill="url(#dotA)"/>
<circle cx="301.7" cy="11.6" r="4.3" fill="url(#dotC)"/>
<circle cx="261.5" cy="54.3" r="4.7" fill="url(#dotC)"/>
<circle cx="83.5" cy="19.5" r="4.8" fill="url(#dotC)"/>
<circle cx="73.0" cy="258.4" r="4.3" fill="url(#dotC)"/>
<circle cx="51.9" cy="150.8" r="4.0" fill="url(#dotC)"/>
<circle cx="307.6" cy="45.6" r="4.6" fill="url(#dotA)"/>
<circle cx="232.9" cy="122.9" r="4.4" fill="url(#dotA)"/>
<circle cx="76.6" cy="234.2" r="4.7" fill="url(#dotB)"/>
<circle cx="218.3" cy="250.4" r="4.7" fill="url(#dotD)"/>
<circle cx="30.7" cy="258.9" r="4.7" fill="url(#dotA)"/>
<circle cx="240.8" cy="206.8" r="4.2" fill="url(#dotD)"/>
<circle cx="253.3" cy="169.4" r="4.8" fill="url(#dotA)"/>
<circle cx="48.3" cy="141.2" r="4.3" fill="url(#dotC)"/>
<circle cx="161.1" cy="132.6" r="4.7" fill="url(#dotA)"/>
<circle cx="205.6" cy="220.9" r="4.3" fill="url(#dotD)"/>
<circle cx="185.0" cy="148.3" r="4.0" fill="url(#dotA)"/>
<circle cx="193.9" cy="176.3" r="4.6" fill="url(#dotD)"/>
<circle cx="119.9" cy="225.5" r="4.8" fill="url(#dotB)"/>
<circle cx="115.5" cy="257.6" r="4.7" fill="url(#dotD)"/>
<circle cx="97.9" cy="110.3" r="4.2" fill="url(#dotA)"/>
<circle cx="261.7" cy="69.4" r="4.2" fill="url(#dotC)"/>
<circle cx="106.6" cy="194.3" r="4.0" fill="url(#dotB)"/>
<circle cx="66.2" cy="188.5" r="4.8" fill="url(#dotA)"/>
<circle cx="53.6" cy="126.0" r="4.5" fill="url(#dotB)"/>
<circle cx="75.2" cy="149.3" r="4.9" fill="url(#dotB)"/>
<circle cx="207.4" cy="43.9" r="4.4" fill="url(#dotD)"/>
<circle cx="281.5" cy="44.6" r="4.7" fill="url(#dotA)"/>
<circle cx="113.9" cy="197.3" r="4.7" fill="url(#dotA)"/>
<circle cx="113.0" cy="78.8" r="4.9" fill="url(#dotD)"/>
<circle cx="278.1" cy="147.4" r="4.4" fill="url(#dotA)"/>
<circle cx="154.0" cy="119.2" r="4.1" fill="url(#dotA)"/>
<circle cx="228.8" cy="205.4" r="4.1" fill="url(#dotA)"/>
<circle cx="182.6" cy="234.8" r="4.6" fill="url(#dotA)"/>
<circle cx="90.4" cy="50.4" r="4.5" fill="url(#dotB)"/>
<circle cx="90.4" cy="128.0" r="4.6" fill="url(#dotB)"/>
<circle cx="166.8" cy="256.4" r="4.8" fill="url(#dotA)"/>
<circle cx="185.7" cy="211.3" r="4.0" fill="url(#dotB)"/>
<circle cx="36.7" cy="40.7" r="4.2" fill="url(#dotD)"/>
<circle cx="230.8" cy="139.0" r="4.8" fill="url(#dotC)"/>
<circle cx="196.7" cy="162.9" r="4.7" fill="url(#dotA)"/>
<circle cx="256.1" cy="81.7" r="4.4" fill="url(#dotA)"/>
<circle cx="276.4" cy="33.8" r="4.2" fill="url(#dotA)"/>
<circle cx="281.8" cy="220.4" r="4.4" fill="url(#dotC)"/>
<circle cx="104.5" cy="69.0" r="3.9" fill="url(#dotB)"/>
<circle cx="153.7" cy="189.0" r="4.0" fill="url(#dotD)"/>
<circle cx="50.5" cy="67.9" r="4.5" fill="url(#dotB)"/>
<circle cx="266.4" cy="167.2" r="4.2" fill="url(#dotC)"/>
<circle cx="219.7" cy="234.5" r="4.6" fill="url(#dotD)"/>
<circle cx="230.9" cy="94.6" r="4.5" fill="url(#dotA)"/>
<circle cx="339.5" cy="59.3" r="4.5" fill="url(#dotA)"/>
<circle cx="334.1" cy="191.5" r="4.6" fill="url(#dotA)"/>
<circle cx="244.3" cy="245.7" r="4.6" fill="url(#dotA)"/>
<circle cx="167.0" cy="88.8" r="4.5" fill="url(#dotA)"/>
<circle cx="280.8" cy="174.1" r="3.9" fill="url(#dotA)"/>
<circle cx="221.9" cy="58.3" r="4.7" fill="url(#dotA)"/>
<circle cx="144.1" cy="143.1" r="4.4" fill="url(#dotC)"/>
<circle cx="53.4" cy="91.8" r="4.9" fill="url(#dotA)"/>
<circle cx="292.1" cy="64.7" r="4.6" fill="url(#dotC)"/>
<circle cx="114.0" cy="36.3" r="4.7" fill="url(#dotA)"/>
<circle cx="222.0" cy="193.7" r="4.4" fill="url(#dotC)"/>
<circle cx="32.5" cy="31.7" r="4.2" fill="url(#dotB)"/>
<circle cx="59.1" cy="205.5" r="4.5" fill="url(#dotC)"/>
<circle cx="95.6" cy="78.8" r="4.1" fill="url(#dotC)"/>
<circle cx="60.9" cy="211.9" r="4.1" fill="url(#dotA)"/>
<circle cx="147.0" cy="242.7" r="4.4" fill="url(#dotC)"/>
<circle cx="249.6" cy="147.4" r="4.5" fill="url(#dotD)"/>
<circle cx="175.6" cy="147.4" r="4.1" fill="url(#dotB)"/>
<circle cx="99.1" cy="47.6" r="4.4" fill="url(#dotA)"/>
<circle cx="33.4" cy="59.3" r="4.8" fill="url(#dotA)"/>
<circle cx="284.1" cy="71.7" r="4.2" fill="url(#dotA)"/>
<circle cx="104.8" cy="134.0" r="4.5" fill="url(#dotC)"/>
<circle cx="212.6" cy="198.7" r="4.1" fill="url(#dotD)"/>
<circle cx="80.0" cy="112.1" r="4.5" fill="url(#dotA)"/>
<circle cx="269.2" cy="173.9" r="4.8" fill="url(#dotC)"/>
<circle cx="279.2" cy="228.9" r="4.2" fill="url(#dotC)"/>
<circle cx="197.5" cy="27.5" r="4.0" fill="url(#dotA)"/>
<circle cx="245.2" cy="116.9" r="4.3" fill="url(#dotD)"/>
<circle cx="250.6" cy="57.8" r="4.2" fill="url(#dotA)"/>
<circle cx="146.5" cy="226.1" r="4.1" fill="url(#dotC)"/>
<circle cx="262.3" cy="234.3" r="4.1" fill="url(#dotC)"/>
<circle cx="286.5" cy="256.5" r="4.2" fill="url(#dotB)"/>
<circle cx="246.4" cy="204.0" r="4.8" fill="url(#dotA)"/>
<circle cx="327.1" cy="247.4" r="4.4" fill="url(#dotC)"/>
<circle cx="315.3" cy="176.7" r="4.5" fill="url(#dotA)"/>
<circle cx="241.0" cy="27.4" r="4.5" fill="url(#dotA)"/>
<circle cx="253.6" cy="95.3" r="4.1" fill="url(#dotA)"/>
<circle cx="164.7" cy="200.3" r="4.5" fill="url(#dotB)"/>
<circle cx="92.4" cy="176.7" r="4.7" fill="url(#dotA)"/>
<circle cx="296.4" cy="259.7" r="4.6" fill="url(#dotB)"/>
<circle cx="345.0" cy="207.3" r="4.4" fill="url(#dotC)"/>
<circle cx="71.3" cy="216.0" r="4.4" fill="url(#dotB)"/>
<circle cx="121.8" cy="211.1" r="4.5" fill="url(#dotA)"/>
<circle cx="181.5" cy="78.8" r="4.8" fill="url(#dotB)"/>
<circle cx="346.6" cy="145.7" r="3.9" fill="url(#dotB)"/>
<circle cx="334.1" cy="32.3" r="4.8" fill="url(#dotD)"/>
<circle cx="37.0" cy="46.8" r="4.3" fill="url(#dotA)"/>
<circle cx="301.2" cy="80.3" r="4.8" fill="url(#dotA)"/>
<circle cx="46.4" cy="152.4" r="3.9" fill="url(#dotA)"/>
<circle cx="207.5" cy="131.6" r="4.4" fill="url(#dotC)"/>
<circle cx="249.9" cy="64.6" r="4.0" fill="url(#dotA)"/>
<circle cx="332.9" cy="127.9" r="4.6" fill="url(#dotA)"/>
<circle cx="174.0" cy="183.3" r="4.1" fill="url(#dotC)"/>
<circle cx="186.8" cy="96.7" r="4.3" fill="url(#dotC)"/>
<circle cx="36.3" cy="213.9" r="4.4" fill="url(#dotC)"/>
<circle cx="191.1" cy="221.4" r="4.4" fill="url(#dotD)"/>
<circle cx="276.5" cy="12.3" r="4.7" fill="url(#dotC)"/>
<circle cx="141.0" cy="48.5" r="4.4" fill="url(#dotB)"/>
<circle cx="277.5" cy="128.5" r="4.3" fill="url(#dotA)"/>
<circle cx="166.6" cy="245.9" r="4.8" fill="url(#dotC)"/>
<circle cx="198.0" cy="83.9" r="4.7" fill="url(#dotC)"/>
<circle cx="297.9" cy="50.3" r="4.5" fill="url(#dotD)"/>
<circle cx="90.6" cy="151.1" r="4.4" fill="url(#dotD)"/>
<circle cx="181.5" cy="198.5" r="4.0" fill="url(#dotA)"/>
<circle cx="34.0" cy="243.2" r="4.5" fill="url(#dotC)"/>
<circle cx="118.3" cy="130.6" r="4.4" fill="url(#dotC)"/>
<circle cx="37.6" cy="98.7" r="4.3" fill="url(#dotC)"/>
<circle cx="190.0" cy="246.9" r="4.7" fill="url(#dotB)"/>
<circle cx="90.0" cy="34.5" r="3.9" fill="url(#dotC)"/>
<circle cx="304.1" cy="240.5" r="3.9" fill="url(#dotA)"/>
<circle cx="187.2" cy="135.3" r="4.0" fill="url(#dotC)"/>
<circle cx="309.0" cy="121.0" r="4.1" fill="url(#dotC)"/>
<circle cx="145.7" cy="18.4" r="4.0" fill="url(#dotA)"/>
<circle cx="176.4" cy="203.7" r="4.6" fill="url(#dotD)"/>
<circle cx="332.9" cy="83.4" r="4.0" fill="url(#dotB)"/>
<circle cx="323.1" cy="66.7" r="4.3" fill="url(#dotC)"/>
<circle cx="56.0" cy="132.7" r="4.0" fill="url(#dotA)"/>
<circle cx="212.3" cy="113.4" r="4.0" fill="url(#dotC)"/>
<circle cx="213.7" cy="213.1" r="4.4" fill="url(#dotB)"/>
<circle cx="299.6" cy="243.9" r="4.0" fill="url(#dotC)"/>
<circle cx="273.3" cy="220.7" r="4.8" fill="url(#dotA)"/>
<circle cx="246.9" cy="4.5" r="4.7" fill="url(#dotC)"/>
<circle cx="133.4" cy="68.4" r="4.9" fill="url(#dotB)"/>
<circle cx="197.5" cy="147.4" r="4.5" fill="url(#dotA)"/>
<circle cx="208.0" cy="161.6" r="4.7" fill="url(#dotA)"/>
<circle cx="58.9" cy="158.3" r="4.5" fill="url(#dotC)"/>
<circle cx="111.8" cy="47.1" r="4.9" fill="url(#dotC)"/>
<circle cx="178.2" cy="100.8" r="4.0" fill="url(#dotA)"/>
<circle cx="66.6" cy="58.2" r="4.3" fill="url(#dotA)"/>
<circle cx="202.9" cy="90.9" r="4.6" fill="url(#dotA)"/>
<circle cx="113.4" cy="220.8" r="4.5" fill="url(#dotB)"/>
<circle cx="72.8" cy="176.1" r="4.2" fill="url(#dotC)"/>
<circle cx="189.1" cy="82.3" r="4.3" fill="url(#dotD)"/>
<circle cx="326.1" cy="160.3" r="4.0" fill="url(#dotC)"/>
<circle cx="212.3" cy="11.3" r="4.5" fill="url(#dotB)"/>
<circle cx="328.8" cy="185.5" r="4.0" fill="url(#dotC)"/>
<circle cx="258.5" cy="255.1" r="4.7" fill="url(#dotA)"/>
<circle cx="314.6" cy="139.0" r="4.6" fill="url(#dotB)"/>
<circle cx="50.5" cy="208.0" r="4.0" fill="url(#dotC)"/>
<circle cx="145.7" cy="256.7" r="4.2" fill="url(#dotB)"/>
<circle cx="329.8" cy="141.7" r="4.7" fill="url(#dotC)"/>
<circle cx="200.5" cy="211.9" r="4.8" fill="url(#dotA)"/>
<circle cx="86.8" cy="194.5" r="4.7" fill="url(#dotA)"/>
<circle cx="346.7" cy="66.2" r="4.5" fill="url(#dotB)"/>
<circle cx="142.2" cy="38.4" r="4.8" fill="url(#dotC)"/>
<circle cx="275.2" cy="171.3" r="4.6" fill="url(#dotC)"/>
<circle cx="203.8" cy="1.5" r="4.2" fill="url(#dotB)"/>
<circle cx="103.3" cy="12.8" r="4.0" fill="url(#dotA)"/>
<circle cx="265.4" cy="15.0" r="4.1" fill="url(#dotC)"/>
<circle cx="302.9" cy="124.0" r="4.0" fill="url(#dotD)"/>
<circle cx="289.9" cy="109.5" r="4.5" fill="url(#dotB)"/>
<circle cx="206.3" cy="84.6" r="4.0" fill="url(#dotB)"/>
<circle cx="329.1" cy="121.2" r="4.5" fill="url(#dotA)"/>
<circle cx="275.9" cy="116.4" r="4.9" fill="url(#dotA)"/>
<circle cx="93.0" cy="92.8" r="4.3" fill="url(#dotA)"/>
<circle cx="293.7" cy="139.1" r="4.3" fill="url(#dotA)"/>
<circle cx="149.2" cy="164.6" r="4.8" fill="url(#dotA)"/>
<circle cx="60.9" cy="77.9" r="4.3" fill="url(#dotB)"/>
<circle cx="142.4" cy="126.5" r="4.4" fill="url(#dotA)"/>
<circle cx="303.3" cy="116.9" r="4.4" fill="url(#dotA)"/>
<circle cx="244.9" cy="95.5" r="4.2" fill="url(#dotB)"/>
<circle cx="35.0" cy="20.5" r="4.7" fill="url(#dotB)"/>
<circle cx="45.2" cy="103.2" r="4.3" fill="url(#dotC)"/>
<circle cx="262.9" cy="118.4" r="4.2" fill="url(#dotB)"/>
<circle cx="199.0" cy="33.6" r="4.1" fill="url(#dotB)"/>
<circle cx="116.7" cy="103.5" r="4.4" fill="url(#dotC)"/>
<circle cx="220.7" cy="206.3" r="4.8" fill="url(#dotC)"/>
<circle cx="297.2" cy="58.4" r="4.9" fill="url(#dotA)"/>
<circle cx="106.1" cy="155.0" r="4.9" fill="url(#dotB)"/>
<circle cx="300.1" cy="37.3" r="4.3" fill="url(#dotB)"/>
<circle cx="229.0" cy="235.2" r="4.8" fill="url(#dotD)"/>
<circle cx="191.5" cy="20.7" r="4.7" fill="url(#dotA)"/>
<circle cx="170.4" cy="200.9" r="4.0" fill="url(#dotA)"/>
<circle cx="262.4" cy="161.5" r="4.6" fill="url(#dotC)"/>
<circle cx="213.9" cy="4.9" r="4.0" fill="url(#dotA)"/>
<circle cx="258.9" cy="15.1" r="4.9" fill="url(#dotA)"/>
<circle cx="289.0" cy="47.7" r="3.9" fill="url(#dotB)"/>
<circle cx="203.6" cy="27.9" r="4.0" fill="url(#dotC)"/>
<circle cx="236.8" cy="18.9" r="4.4" fill="url(#dotB)"/>
<circle cx="186.1" cy="114.6" r="4.8" fill="url(#dotA)"/>
<circle cx="42.9" cy="172.6" r="4.1" fill="url(#dotC)"/>
<circle cx="340.4" cy="195.2" r="4.5" fill="url(#dotB)"/>
<circle cx="172.7" cy="209.6" r="4.3" fill="url(#dotB)"/>
<circle cx="160.2" cy="24.0" r="4.8" fill="url(#dotD)"/>
<circle cx="340.0" cy="5.3" r="4.8" fill="url(#dotD)"/>
<circle cx="233.4" cy="242.4" r="4.0" fill="url(#dotA)"/>
<circle cx="260.8" cy="131.3" r="4.7" fill="url(#dotA)"/>
<circle cx="137.8" cy="16.4" r="4.4" fill="url(#dotB)"/>
<circle cx="99.8" cy="213.4" r="4.9" fill="url(#dotB)"/>
<circle cx="233.4" cy="100.2" r="4.0" fill="url(#dotA)"/>
<circle cx="35.5" cy="167.4" r="4.8" fill="url(#dotC)"/>
<circle cx="37.8" cy="132.5" r="4.0" fill="url(#dotD)"/>
<circle cx="111.4" cy="140.7" r="4.3" fill="url(#dotC)"/>
<circle cx="138.0" cy="158.1" r="4.5" fill="url(#dotC)"/>
<circle cx="76.0" cy="74.3" r="4.4" fill="url(#dotA)"/>
<circle cx="286.4" cy="30.7" r="4.5" fill="url(#dotC)"/>
<circle cx="236.2" cy="168.5" r="4.3" fill="url(#dotC)"/>
<circle cx="251.3" cy="101.1" r="4.3" fill="url(#dotA)"/>
<circle cx="53.5" cy="201.8" r="4.3" fill="url(#dotA)"/>
<circle cx="99.2" cy="206.0" r="4.4" fill="url(#dotD)"/>
<circle cx="214.9" cy="97.7" r="4.5" fill="url(#dotC)"/>
<circle cx="171.8" cy="74.5" r="4.1" fill="url(#dotA)"/>
<circle cx="190.8" cy="230.9" r="4.5" fill="url(#dotA)"/>
<circle cx="208.2" cy="102.0" r="3.9" fill="url(#dotC)"/>
<circle cx="249.0" cy="254.1" r="4.0" fill="url(#dotC)"/>
<circle cx="54.1" cy="28.8" r="4.9" fill="url(#dotA)"/>
<circle cx="29.8" cy="69.8" r="4.2" fill="url(#dotA)"/>
<circle cx="212.5" cy="30.9" r="4.4" fill="url(#dotD)"/>
<circle cx="317.3" cy="224.3" r="4.0" fill="url(#dotA)"/>
<circle cx="259.0" cy="182.2" r="4.8" fill="url(#dotA)"/>
<circle cx="256.1" cy="64.7" r="4.6" fill="url(#dotC)"/>
<circle cx="187.3" cy="176.9" r="3.9" fill="url(#dotA)"/>
<circle cx="140.7" cy="94.2" r="4.7" fill="url(#dotD)"/>
<circle cx="293.5" cy="14.5" r="4.6" fill="url(#dotB)"/>
<circle cx="276.0" cy="50.0" r="4.0" fill="url(#dotB)"/>
<circle cx="63.2" cy="113.2" r="4.0" fill="url(#dotA)"/>
<circle cx="137.1" cy="243.3" r="3.9" fill="url(#dotB)"/>
<circle cx="78.8" cy="191.0" r="4.4" fill="url(#dotA)"/>
<circle cx="130.9" cy="180.5" r="4.1" fill="url(#dotA)"/>
<circle cx="285.2" cy="246.7" r="3.9" fill="url(#dotA)"/>
<circle cx="206.6" cy="190.9" r="4.9" fill="url(#dotA)"/>
<circle cx="133.0" cy="115.8" r="4.6" fill="url(#dotB)"/>
<circle cx="54.8" cy="237.3" r="4.5" fill="url(#dotA)"/>
<circle cx="319.5" cy="37.6" r="4.9" fill="url(#dotC)"/>
<circle cx="29.3" cy="250.0" r="4.3" fill="url(#dotB)"/>
<circle cx="250.7" cy="136.3" r="4.8" fill="url(#dotA)"/>
<circle cx="43.7" cy="26.0" r="4.8" fill="url(#dotB)"/>
<circle cx="46.5" cy="83.1" r="4.5" fill="url(#dotB)"/>
<circle cx="100.3" cy="165.1" r="4.5" fill="url(#dotA)"/>
<circle cx="98.8" cy="152.6" r="4.1" fill="url(#dotA)"/>
<circle cx="261.6" cy="125.6" r="4.1" fill="url(#dotA)"/>
<circle cx="99.3" cy="177.9" r="4.6" fill="url(#dotB)"/>
<circle cx="58.6" cy="105.7" r="4.6" fill="url(#dotA)"/>
<circle cx="255.0" cy="37.5" r="4.8" fill="url(#dotA)"/>
<circle cx="157.1" cy="183.0" r="4.4" fill="url(#dotB)"/>
<circle cx="313.4" cy="114.8" r="4.7" fill="url(#dotA)"/>
<circle cx="168.3" cy="2.0" r="4.4" fill="url(#dotB)"/>
<circle cx="155.5" cy="84.6" r="4.5" fill="url(#dotA)"/>
<circle cx="329.7" cy="13.3" r="4.4" fill="url(#dotD)"/>
<circle cx="123.8" cy="8.3" r="4.0" fill="url(#dotD)"/>
<circle cx="131.4" cy="50.0" r="4.9" fill="url(#dotB)"/>
<circle cx="331.5" cy="7.1" r="4.0" fill="url(#dotB)"/>
<circle cx="218.2" cy="31.5" r="4.9" fill="url(#dotA)"/>
<circle cx="137.4" cy="24.3" r="4.7" fill="url(#dotC)"/>
<circle cx="172.3" cy="110.2" r="4.0" fill="url(#dotB)"/>
<circle cx="176.7" cy="172.9" r="4.0" fill="url(#dotA)"/>
<circle cx="202.8" cy="49.1" r="4.4" fill="url(#dotA)"/>
<circle cx="318.1" cy="259.9" r="4.6" fill="url(#dotB)"/>
<circle cx="259.5" cy="89.1" r="4.1" fill="url(#dotD)"/>
<circle cx="271.9" cy="231.3" r="3.9" fill="url(#dotC)"/>
<circle cx="269.7" cy="68.4" r="4.2" fill="url(#dotC)"/>
<circle cx="224.4" cy="18.0" r="4.5" fill="url(#dotB)"/>
<circle cx="315.4" cy="2.9" r="4.1" fill="url(#dotC)"/>
<circle cx="100.5" cy="54.9" r="4.8" fill="url(#dotD)"/>
<circle cx="264.4" cy="24.9" r="4.5" fill="url(#dotD)"/>
<circle cx="204.3" cy="204.7" r="4.8" fill="url(#dotC)"/>
<circle cx="317.6" cy="11.9" r="4.2" fill="url(#dotB)"/>
<circle cx="86.2" cy="112.2" r="4.2" fill="url(#dotC)"/>
<circle cx="246.3" cy="132.1" r="4.5" fill="url(#dotC)"/>
<circle cx="313.4" cy="73.8" r="4.8" fill="url(#dotC)"/>
<circle cx="215.7" cy="176.6" r="4.1" fill="url(#dotA)"/>
<circle cx="262.0" cy="38.0" r="4.0" fill="url(#dotA)"/>
<circle cx="165.6" cy="15.5" r="4.1" fill="url(#dotA)"/>
<circle cx="52.7" cy="248.8" r="4.7" fill="url(#dotA)"/>
<circle cx="52.7" cy="194.7" r="4.8" fill="url(#dotD)"/>
<circle cx="239.2" cy="123.8" r="4.7" fill="url(#dotA)"/>
<circle cx="218.1" cy="148.0" r="4.2" fill="url(#dotB)"/>
<circle cx="182.7" cy="130.4" r="4.5" fill="url(#dotD)"/>
<circle cx="216.2" cy="228.2" r="3.9" fill="url(#dotA)"/>
<circle cx="45.9" cy="233.0" r="4.7" fill="url(#dotA)"/>
<circle cx="234.6" cy="68.6" r="4.8" fill="url(#dotA)"/>
<circle cx="279.4" cy="2.3" r="4.9" fill="url(#dotB)"/>
<circle cx="222.0" cy="89.0" r="4.5" fill="url(#dotC)"/>
<circle cx="121.1" cy="75.2" r="4.7" fill="url(#dotA)"/>
<circle cx="133.3" cy="131.3" r="4.4" fill="url(#dotC)"/>
<circle cx="319.3" cy="54.2" r="4.2" fill="url(#dotA)"/>
<circle cx="164.0" cy="156.3" r="4.8" fill="url(#dotC)"/>
<circle cx="294.4" cy="37.8" r="4.7" fill="url(#dotA)"/>
<circle cx="159.3" cy="229.7" r="4.2" fill="url(#dotA)"/>
<circle cx="40.4" cy="73.1" r="4.7" fill="url(#dotA)"/>
<circle cx="240.3" cy="56.8" r="4.1" fill="url(#dotA)"/>
<circle cx="336.0" cy="78.5" r="4.4" fill="url(#dotD)"/>
<circle cx="184.6" cy="107.3" r="4.0" fill="url(#dotA)"/>
<circle cx="236.3" cy="146.2" r="4.2" fill="url(#dotC)"/>
<circle cx="33.4" cy="2.6" r="4.3" fill="url(#dotA)"/>
<circle cx="231.3" cy="192.4" r="4.6" fill="url(#dotD)"/>
<circle cx="42.1" cy="189.2" r="4.1" fill="url(#dotA)"/>
<circle cx="80.8" cy="69.7" r="4.3" fill="url(#dotD)"/>
<circle cx="344.6" cy="78.8" r="4.0" fill="url(#dotA)"/>
<circle cx="162.7" cy="123.6" r="4.5" fill="url(#dotC)"/>
<circle cx="224.4" cy="167.5" r="4.4" fill="url(#dotA)"/>
<circle cx="339.8" cy="131.0" r="4.5" fill="url(#dotA)"/>
<circle cx="133.1" cy="20.4" r="4.0" fill="url(#dotA)"/>
<circle cx="107.7" cy="73.9" r="4.8" fill="url(#dotA)"/>
<circle cx="129.8" cy="42.3" r="4.4" fill="url(#dotC)"/>
<circle cx="204.8" cy="15.5" r="4.1" fill="url(#dotA)"/>
<circle cx="83.4" cy="62.1" r="4.7" fill="url(#dotB)"/>
<circle cx="108.8" cy="172.3" r="4.1" fill="url(#dotB)"/>
<circle cx="271.2" cy="81.3" r="4.9" fill="url(#dotC)"/>
<circle cx="218.2" cy="260.1" r="4.9" fill="url(#dotA)"/>
<circle cx="126.0" cy="127.7" r="4.0" fill="url(#dotB)"/>
<circle cx="147.8" cy="115.9" r="3.9" fill="url(#dotD)"/>
<circle cx="240.6" cy="226.4" r="4.2" fill="url(#dotB)"/>
<circle cx="328.7" cy="102.0" r="4.8" fill="url(#dotB)"/>
<circle cx="296.1" cy="203.8" r="4.7" fill="url(#dotA)"/>
<circle cx="37.2" cy="104.3" r="4.3" fill="url(#dotC)"/>
<circle cx="51.7" cy="21.1" r="4.4" fill="url(#dotA)"/>
<circle cx="145.4" cy="12.3" r="4.8" fill="url(#dotA)"/>
<circle cx="119.2" cy="121.5" r="4.8" fill="url(#dotA)"/>
<circle cx="108.2" cy="241.9" r="4.7" fill="url(#dotA)"/>
<circle cx="218.6" cy="187.7" r="4.6" fill="url(#dotD)"/>
<circle cx="135.0" cy="209.3" r="4.5" fill="url(#dotA)"/>
<circle cx="72.1" cy="154.7" r="4.9" fill="url(#dotD)"/>
<circle cx="183.8" cy="58.7" r="4.7" fill="url(#dotA)"/>
<circle cx="288.9" cy="156.7" r="4.0" fill="url(#dotB)"/>
<circle cx="176.4" cy="8.1" r="4.0" fill="url(#dotA)"/>
<circle cx="170.6" cy="64.3" r="4.5" fill="url(#dotD)"/>
<circle cx="251.3" cy="23.8" r="4.2" fill="url(#dotC)"/>
<circle cx="173.3" cy="22.0" r="4.9" fill="url(#dotD)"/>
<circle cx="344.3" cy="118.3" r="4.0" fill="url(#dotA)"/>
<circle cx="107.6" cy="43.0" r="4.9" fill="url(#dotD)"/>
<circle cx="321.0" cy="123.2" r="4.1" fill="url(#dotA)"/>
<circle cx="75.4" cy="54.1" r="4.6" fill="url(#dotA)"/>
<circle cx="263.9" cy="154.1" r="4.0" fill="url(#dotA)"/>
<circle cx="239.8" cy="103.2" r="4.5" fill="url(#dotA)"/>
<circle cx="338.3" cy="236.8" r="4.7" fill="url(#dotA)"/>
<circle cx="252.0" cy="220.3" r="4.8" fill="url(#dotC)"/>
<circle cx="237.0" cy="85.1" r="4.3" fill="url(#dotB)"/>
<circle cx="315.8" cy="159.7" r="4.6" fill="url(#dotA)"/>
<circle cx="261.4" cy="100.1" r="4.8" fill="url(#dotB)"/>
<circle cx="90.1" cy="5.3" r="4.4" fill="url(#dotC)"/>
<circle cx="59.8" cy="46.3" r="3.9" fill="url(#dotA)"/>
<circle cx="282.0" cy="154.7" r="3.9" fill="url(#dotC)"/>
<circle cx="68.6" cy="207.5" r="4.1" fill="url(#dotC)"/>
<circle cx="105.2" cy="200.2" r="4.6" fill="url(#dotD)"/>
<circle cx="193.1" cy="211.5" r="4.1" fill="url(#dotA)"/>
<circle cx="209.2" cy="138.0" r="4.7" fill="url(#dotB)"/>
<circle cx="102.7" cy="77.5" r="4.1" fill="url(#dotC)"/>
<circle cx="217.8" cy="120.4" r="4.7" fill="url(#dotB)"/>
<circle cx="299.6" cy="226.4" r="4.3" fill="url(#dotA)"/>
<circle cx="92.4" cy="108.2" r="4.3" fill="url(#dotC)"/>
<circle cx="69.8" cy="27.7" r="4.3" fill="url(#dotD)"/>
<circle cx="312.6" cy="209.1" r="4.3" fill="url(#dotB)"/>
<circle cx="66.3" cy="243.8" r="4.7" fill="url(#dotD)"/>
<circle cx="77.6" cy="241.7" r="4.7" fill="url(#dotB)"/>
<circle cx="40.6" cy="255.8" r="4.4" fill="url(#dotA)"/>
<circle cx="130.2" cy="153.1" r="4.4" fill="url(#dotC)"/>
<circle cx="31.1" cy="8.8" r="4.1" fill="url(#dotA)"/>
<circle cx="238.5" cy="6.5" r="4.0" fill="url(#dotB)"/>
<circle cx="287.5" cy="177.0" r="4.4" fill="url(#dotD)"/>
<circle cx="345.7" cy="213.4" r="4.6" fill="url(#dotD)"/>
<circle cx="296.4" cy="106.6" r="4.1" fill="url(#dotB)"/>
<circle cx="90.3" cy="254.9" r="4.6" fill="url(#dotA)"/>
<circle cx="328.2" cy="63.8" r="4.5" fill="url(#dotC)"/>
<circle cx="86.6" cy="13.5" r="3.9" fill="url(#dotA)"/>
<circle cx="177.3" cy="14.2" r="4.7" fill="url(#dotA)"/>
<circle cx="224.0" cy="118.5" r="4.5" fill="url(#dotB)"/>
<circle cx="296.5" cy="19.8" r="4.3" fill="url(#dotC)"/>
<circle cx="119.9" cy="194.6" r="4.3" fill="url(#dotC)"/>
<circle cx="162.2" cy="175.1" r="4.7" fill="url(#dotB)"/>
<circle cx="74.2" cy="184.4" r="4.0" fill="url(#dotA)"/>
<circle cx="244.9" cy="109.7" r="4.9" fill="url(#dotA)"/>
<circle cx="137.4" cy="32.5" r="4.5" fill="url(#dotA)"/>
<circle cx="151.3" cy="15.4" r="4.6" fill="url(#dotC)"/>
<circle cx="58.6" cy="250.0" r="4.8" fill="url(#dotB)"/>
<circle cx="118.1" cy="12.2" r="4.0" fill="url(#dotC)"/>
<circle cx="321.4" cy="235.1" r="4.5" fill="url(#dotD)"/>
<circle cx="302.3" cy="193.4" r="4.4" fill="url(#dotA)"/>
<circle cx="119.6" cy="45.8" r="4.3" fill="url(#dotB)"/>
<circle cx="177.3" cy="188.7" r="4.6" fill="url(#dotC)"/>
<circle cx="334.6" cy="222.1" r="4.8" fill="url(#dotB)"/>
<circle cx="147.5" cy="49.9" r="4.1" fill="url(#dotC)"/>
<circle cx="183.8" cy="18.1" r="4.6" fill="url(#dotA)"/>
<circle cx="92.9" cy="235.8" r="4.4" fill="url(#dotC)"/>
<circle cx="329.3" cy="256.1" r="4.5" fill="url(#dotA)"/>
<circle cx="231.5" cy="80.0" r="4.8" fill="url(#dotC)"/>
<circle cx="174.7" cy="216.3" r="4.1" fill="url(#dotC)"/>
<circle cx="244.1" cy="177.5" r="4.8" fill="url(#dotB)"/>
<circle cx="191.5" cy="67.5" r="4.8" fill="url(#dotB)"/>
<circle cx="47.0" cy="134.9" r="3.9" fill="url(#dotC)"/>
<circle cx="169.5" cy="147.7" r="4.7" fill="url(#dotD)"/>
<circle cx="160.4" cy="162.3" r="4.7" fill="url(#dotD)"/>
<circle cx="176.4" cy="164.6" r="4.7" fill="url(#dotB)"/>
<circle cx="265.9" cy="58.8" r="4.0" fill="url(#dotA)"/>
<circle cx="205.7" cy="8.0" r="3.9" fill="url(#dotD)"/>
<circle cx="122.1" cy="202.1" r="4.7" fill="url(#dotD)"/>
<circle cx="59.2" cy="95.0" r="4.7" fill="url(#dotB)"/>
<circle cx="85.0" cy="177.2" r="4.5" fill="url(#dotA)"/>
<circle cx="137.3" cy="225.7" r="4.1" fill="url(#dotA)"/>
<circle cx="234.0" cy="107.7" r="4.0" fill="url(#dotA)"/>
<circle cx="264.8" cy="80.2" r="4.4" fill="url(#dotA)"/>
<circle cx="98.8" cy="86.0" r="4.1" fill="url(#dotA)"/>
<circle cx="179.5" cy="69.3" r="4.4" fill="url(#dotC)"/>
<circle cx="277.1" cy="210.5" r="4.3" fill="url(#dotC)"/>
<circle cx="62.4" cy="88.1" r="4.6" fill="url(#dotC)"/>
<circle cx="281.5" cy="137.3" r="4.7" fill="url(#dotB)"/>
<circle cx="98.0" cy="98.4" r="3.9" fill="url(#dotA)"/>
<circle cx="293.0" cy="79.2" r="4.2" fill="url(#dotA)"/>
<circle cx="312.0" cy="10.4" r="4.5" fill="url(#dotB)"/>
<circle cx="228.5" cy="160.5" r="4.2" fill="url(#dotA)"/>
<circle cx="33.6" cy="176.3" r="4.6" fill="url(#dotD)"/>
<circle cx="117.4" cy="246.4" r="4.6" fill="url(#dotA)"/>
<circle cx="128.3" cy="251.7" r="4.6" fill="url(#dotC)"/>
<circle cx="73.0" cy="67.8" r="4.4" fill="url(#dotC)"/>
<circle cx="196.7" cy="140.2" r="4.8" fill="url(#dotB)"/>
<circle cx="298.2" cy="29.9" r="4.6" fill="url(#dotA)"/>
<circle cx="272.2" cy="74.5" r="4.7" fill="url(#dotB)"/>
<circle cx="87.6" cy="222.9" r="4.1" fill="url(#dotC)"/>
<circle cx="232.6" cy="24.1" r="4.7" fill="url(#dotB)"/>
<circle cx="125.8" cy="116.1" r="4.2" fill="url(#dotC)"/>
<circle cx="184.5" cy="156.3" r="4.9" fill="url(#dotD)"/>
<circle cx="170.9" cy="93.8" r="4.2" fill="url(#dotB)"/>
<circle cx="125.0" cy="16.6" r="4.3" fill="url(#dotA)"/>
<circle cx="291.3" cy="3.7" r="4.4" fill="url(#dotA)"/>
<circle cx="253.2" cy="243.0" r="4.4" fill="url(#dotC)"/>
<circle cx="326.2" cy="81.8" r="4.5" fill="url(#dotD)"/>
<circle cx="110.6" cy="66.1" r="4.1" fill="url(#dotA)"/>
<circle cx="49.0" cy="98.8" r="4.0" fill="url(#dotC)"/>
<circle cx="169.4" cy="126.9" r="4.2" fill="url(#dotA)"/>
<circle cx="139.6" cy="214.5" r="4.5" fill="url(#dotD)"/>
<circle cx="60.2" cy="136.4" r="4.7" fill="url(#dotD)"/>
<circle cx="270.3" cy="34.6" r="4.8" fill="url(#dotB)"/>
<circle cx="334.5" cy="259.5" r="4.1" fill="url(#dotC)"/>
<circle cx="104.5" cy="95.3" r="4.1" fill="url(#dotA)"/>
<circle cx="272.2" cy="180.4" r="4.3" fill="url(#dotC)"/>
<circle cx="298.4" cy="149.8" r="4.5" fill="url(#dotA)"/>
<circle cx="158.9" cy="12.3" r="4.0" fill="url(#dotA)"/>
<circle cx="180.4" cy="123.4" r="4.5" fill="url(#dotB)"/>
<circle cx="285.7" cy="187.0" r="4.4" fill="url(#dotC)"/>
<circle cx="204.6" cy="196.4" r="4.5" fill="url(#dotC)"/>
<circle cx="344.3" cy="170.4" r="4.8" fill="url(#dotB)"/>
<circle cx="346.4" cy="132.7" r="4.3" fill="url(#dotB)"/>
<circle cx="46.9" cy="220.2" r="4.1" fill="url(#dotA)"/>
<circle cx="204.7" cy="69.6" r="4.6" fill="url(#dotB)"/>
<circle cx="70.4" cy="236.9" r="3.9" fill="url(#dotA)"/>
<circle cx="285.5" cy="197.1" r="4.2" fill="url(#dotA)"/>
<circle cx="108.5" cy="164.9" r="3.9" fill="url(#dotB)"/>
<circle cx="246.8" cy="153.9" r="4.7" fill="url(#dotC)"/>
<circle cx="156.3" cy="125.8" r="4.5" fill="url(#dotA)"/>
<circle cx="93.6" cy="45.5" r="4.5" fill="url(#dotA)"/>
<circle cx="143.8" cy="84.2" r="4.1" fill="url(#dotA)"/>
<circle cx="183.4" cy="217.6" r="4.0" fill="url(#dotA)"/>
<circle cx="125.1" cy="38.2" r="4.9" fill="url(#dotA)"/>
<circle cx="228.6" cy="186.2" r="4.9" fill="url(#dotC)"/>
<circle cx="330.7" cy="237.7" r="4.6" fill="url(#dotA)"/>
<circle cx="230.1" cy="131.4" r="4.6" fill="url(#dotA)"/>
<circle cx="303.0" cy="59.7" r="4.4" fill="url(#dotB)"/>
<circle cx="167.9" cy="103.8" r="4.8" fill="url(#dotA)"/>
<circle cx="158.1" cy="69.5" r="3.9" fill="url(#dotB)"/>
<circle cx="245.9" cy="125.6" r="4.4" fill="url(#dotC)"/>
<circle cx="194.0" cy="154.7" r="4.0" fill="url(#dotA)"/>
<circle cx="162.2" cy="46.5" r="4.6" fill="url(#dotB)"/>
<circle cx="74.4" cy="228.0" r="4.2" fill="url(#dotA)"/>
<circle cx="298.3" cy="237.8" r="3.9" fill="url(#dotC)"/>
<circle cx="43.2" cy="248.5" r="4.2" fill="url(#dotA)"/>
<circle cx="127.3" cy="258.4" r="4.2" fill="url(#dotA)"/>
<circle cx="89.5" cy="240.5" r="4.4" fill="url(#dotA)"/>
<circle cx="321.8" cy="165.4" r="4.4" fill="url(#dotC)"/>
<circle cx="314.6" cy="16.9" r="4.4" fill="url(#dotB)"/>
<circle cx="83.9" cy="2.6" r="4.1" fill="url(#dotA)"/>
<circle cx="196.1" cy="15.1" r="4.6" fill="url(#dotA)"/>
<circle cx="82.9" cy="183.0" r="4.7" fill="url(#dotA)"/>
<circle cx="78.1" cy="26.0" r="4.4" fill="url(#dotC)"/>
<circle cx="166.7" cy="235.7" r="4.6" fill="url(#dotA)"/>
<circle cx="153.9" cy="151.6" r="4.3" fill="url(#dotA)"/>
<circle cx="68.5" cy="35.5" r="4.7" fill="url(#dotA)"/>
<circle cx="174.9" cy="42.6" r="4.7" fill="url(#dotC)"/>
<circle cx="93.0" cy="68.2" r="4.7" fill="url(#dotB)"/>
<circle cx="31.3" cy="210.7" r="4.2" fill="url(#dotC)"/>
<circle cx="112.3" cy="107.5" r="4.3" fill="url(#dotA)"/>
<circle cx="79.6" cy="104.6" r="4.4" fill="url(#dotA)"/>
<circle cx="102.8" cy="234.1" r="4.0" fill="url(#dotA)"/>
<circle cx="295.9" cy="84.4" r="4.9" fill="url(#dotC)"/>
<circle cx="264.8" cy="44.2" r="4.3" fill="url(#dotB)"/>
<circle cx="268.8" cy="53.8" r="4.3" fill="url(#dotB)"/>
<circle cx="64.5" cy="259.0" r="4.2" fill="url(#dotC)"/>
<circle cx="117.7" cy="168.7" r="4.7" fill="url(#dotB)"/>
<circle cx="153.4" cy="227.6" r="4.5" fill="url(#dotA)"/>
<circle cx="180.3" cy="63.4" r="4.7" fill="url(#dotC)"/>
<circle cx="51.7" cy="77.0" r="4.8" fill="url(#dotA)"/>
<circle cx="166.7" cy="185.2" r="4.8" fill="url(#dotA)"/>
<circle cx="202.3" cy="123.7" r="4.0" fill="url(#dotA)"/>
<circle cx="98.3" cy="35.4" r="4.5" fill="url(#dotA)"/>
<circle cx="82.5" cy="234.7" r="4.5" fill="url(#dotD)"/>
<circle cx="247.4" cy="172.7" r="4.7" fill="url(#dotC)"/>
<circle cx="284.2" cy="89.7" r="4.1" fill="url(#dotA)"/>
<circle cx="151.3" cy="136.7" r="4.1" fill="url(#dotA)"/>
<circle cx="54.0" cy="163.5" r="4.8" fill="url(#dotD)"/>
<circle cx="117.5" cy="1.3" r="4.2" fill="url(#dotB)"/>
<circle cx="148.3" cy="174.7" r="4.5" fill="url(#dotD)"/>
<circle cx="96.9" cy="160.0" r="4.3" fill="url(#dotA)"/>
<circle cx="152.5" cy="76.6" r="4.0" fill="url(#dotA)"/>
<circle cx="58.6" cy="191.4" r="4.4" fill="url(#dotA)"/>
<circle cx="202.0" cy="105.9" r="4.6" fill="url(#dotA)"/>
<circle cx="334.9" cy="109.7" r="3.9" fill="url(#dotC)"/>
<circle cx="320.4" cy="60.2" r="4.4" fill="url(#dotC)"/>
<circle cx="73.9" cy="3.1" r="4.5" fill="url(#dotA)"/>
<circle cx="255.5" cy="73.0" r="4.0" fill="url(#dotC)"/>
<circle cx="237.9" cy="151.6" r="4.6" fill="url(#dotA)"/>
<circle cx="61.7" cy="119.3" r="4.0" fill="url(#dotC)"/>
<circle cx="286.4" cy="64.2" r="4.8" fill="url(#dotC)"/>
<circle cx="72.5" cy="245.5" r="4.8" fill="url(#dotD)"/>
<circle cx="328.5" cy="1.9" r="4.0" fill="url(#dotA)"/>
<circle cx="171.6" cy="12.0" r="4.4" fill="url(#dotA)"/>
<circle cx="127.1" cy="139.5" r="4.4" fill="url(#dotC)"/>
<circle cx="66.8" cy="92.5" r="4.2" fill="url(#dotC)"/>
<circle cx="172.0" cy="53.8" r="4.2" fill="url(#dotC)"/>
<circle cx="293.5" cy="223.8" r="4.0" fill="url(#dotA)"/>
<circle cx="195.0" cy="112.8" r="3.9" fill="url(#dotB)"/>
<circle cx="35.8" cy="120.0" r="3.9" fill="url(#dotC)"/>
<circle cx="337.8" cy="120.6" r="4.3" fill="url(#dotD)"/>
<circle cx="34.3" cy="143.9" r="4.3" fill="url(#dotC)"/>
<circle cx="66.8" cy="4.2" r="4.7" fill="url(#dotA)"/>
<circle cx="283.2" cy="111.4" r="4.7" fill="url(#dotB)"/>
<circle cx="99.6" cy="24.0" r="4.5" fill="url(#dotB)"/>
<circle cx="34.8" cy="188.6" r="4.1" fill="url(#dotB)"/>
<circle cx="285.4" cy="149.7" r="4.4" fill="url(#dotB)"/>
<circle cx="198.5" cy="53.6" r="4.9" fill="url(#dotA)"/>
<circle cx="201.1" cy="190.0" r="4.8" fill="url(#dotB)"/>
<circle cx="136.1" cy="186.7" r="4.0" fill="url(#dotB)"/>
<circle cx="269.0" cy="141.3" r="4.1" fill="url(#dotB)"/>
<circle cx="206.6" cy="212.6" r="4.4" fill="url(#dotC)"/>
<circle cx="224.9" cy="258.7" r="4.8" fill="url(#dotA)"/>
<circle cx="94.7" cy="219.7" r="4.8" fill="url(#dotD)"/>
<circle cx="340.8" cy="50.0" r="4.1" fill="url(#dotA)"/>
<circle cx="266.4" cy="128.7" r="4.4" fill="url(#dotA)"/>
<circle cx="293.1" cy="244.8" r="4.0" fill="url(#dotB)"/>
<circle cx="120.0" cy="64.9" r="4.1" fill="url(#dotB)"/>
<circle cx="243.0" cy="239.5" r="4.1" fill="url(#dotC)"/>
<circle cx="111.5" cy="156.7" r="4.5" fill="url(#dotA)"/>
</g>
<text x="277.3" y="31.3" font-size="27.7" textLength="58" lengthAdjust="spacingAndGlyphs" fill="#fff" stroke="#000" stroke-width="2.2" stroke-linejoin="round" paint-order="stroke">Top.</text>
<text x="284" y="240.9" font-size="21.8" textLength="50.5" lengthAdjust="spacingAndGlyphs" fill="#fff" stroke="#000" stroke-width="2" stroke-linejoin="round" paint-order="stroke">2 um</text>
<rect x="291.6" y="245" width="41.5" height="4" fill="#fff" stroke="#000" stroke-width="0.6"/>
<rect x="353.6" y="16.3" width="12.199999999999989" height="241.5" fill="url(#cbGW)" stroke="#222" stroke-width="0.8"/>
<line x1="353.6" y1="76" x2="365.8" y2="76" stroke="#1a1a1a" stroke-width="1.4" />
<line x1="353.6" y1="137.3" x2="365.8" y2="137.3" stroke="#1a1a1a" stroke-width="1.4" />
<line x1="353.6" y1="199.3" x2="365.8" y2="199.3" stroke="#1a1a1a" stroke-width="1.4" />
<text x="372.3" y="30.1" font-size="16" >4</text>
<text x="372.3" y="84.4" font-size="16" >2</text>
<text x="372.1" y="145.8" font-size="16" >0</text>
<text x="370.2" y="207.2" font-size="16" >-2</text>
<text x="370.2" y="262.6" font-size="16" >-4</text>
<text x="349.6" y="12.1" font-size="16" textLength="22.8" lengthAdjust="spacingAndGlyphs" >nm</text>
<g clip-path="url(#dclip)">
<rect x="32.2" y="294.1" width="311.40000000000003" height="309.9" filter="url(#fd)"/>
<g fill="none" stroke-width="1.8" stroke-opacity="0.8">
<circle cx="176.1" cy="408.8" r="4.9" stroke="#f8f0a0" stroke-dasharray="21.1 30.7" stroke-dashoffset="-19.4"/>
<circle cx="72.4" cy="565.6" r="5.3" stroke="#d08028" stroke-dasharray="19.3 33.0" stroke-dashoffset="-17.6"/>
<circle cx="30.3" cy="449.9" r="4.6" stroke="#f8f0a0" stroke-dasharray="16.4 28.8" stroke-dashoffset="-19.8"/>
<circle cx="315.1" cy="315.8" r="5.0" stroke="#dca030" stroke-dasharray="15.8 31.2" stroke-dashoffset="-9.4"/>
<circle cx="205.2" cy="486.1" r="5.1" stroke="#f8f0a0" stroke-dasharray="20.4 32.0" stroke-dashoffset="-27.5"/>
<circle cx="41.3" cy="410.6" r="4.9" stroke="#f0e050" stroke-dasharray="13.5 30.6" stroke-dashoffset="-20.8"/>
<circle cx="252.9" cy="433.8" r="5.4" stroke="#f8f0a0" stroke-dasharray="17.9 33.9" stroke-dashoffset="-2.2"/>
<circle cx="259.8" cy="340.1" r="4.8" stroke="#f8f0a0" stroke-dasharray="15.8 30.3" stroke-dashoffset="-9.7"/>
<circle cx="104.2" cy="325.4" r="4.7" stroke="#f8f0a0" stroke-dasharray="20.8 29.3" stroke-dashoffset="-20.2"/>
<circle cx="189.9" cy="583.8" r="5.1" stroke="#e8cc40" stroke-dasharray="14.2 32.0" stroke-dashoffset="-17.9"/>
<circle cx="216.8" cy="536.2" r="4.7" stroke="#dca030" stroke-dasharray="20.7 29.5" stroke-dashoffset="-10.3"/>
<circle cx="150.7" cy="527.3" r="4.8" stroke="#f8f0a0" stroke-dasharray="17.6 30.0" stroke-dashoffset="-10.7"/>
<circle cx="60.7" cy="382.7" r="4.2" stroke="#f8f0a0" stroke-dasharray="17.6 26.5" stroke-dashoffset="-10.0"/>
<circle cx="243.6" cy="520.8" r="4.9" stroke="#e8cc40" stroke-dasharray="15.6 30.5" stroke-dashoffset="-13.5"/>
<circle cx="162.9" cy="318.0" r="5.1" stroke="#d08028" stroke-dasharray="20.5 31.9" stroke-dashoffset="-15.4"/>
<circle cx="113.4" cy="356.8" r="4.5" stroke="#dca030" stroke-dasharray="20.9 28.5" stroke-dashoffset="-8.0"/>
<circle cx="118.0" cy="547.4" r="4.8" stroke="#f8f0a0" stroke-dasharray="16.2 30.0" stroke-dashoffset="-0.6"/>
<circle cx="91.9" cy="571.9" r="4.6" stroke="#e8cc40" stroke-dasharray="20.7 28.8" stroke-dashoffset="-27.4"/>
<circle cx="309.1" cy="307.5" r="5.4" stroke="#f8f0a0" stroke-dasharray="18.6 33.7" stroke-dashoffset="-28.0"/>
<circle cx="149.2" cy="446.4" r="5.2" stroke="#d08028" stroke-dasharray="19.9 32.9" stroke-dashoffset="-24.7"/>
<circle cx="35.7" cy="425.1" r="4.2" stroke="#d08028" stroke-dasharray="18.0 26.5" stroke-dashoffset="-12.7"/>
<circle cx="317.7" cy="325.7" r="4.4" stroke="#f0e050" stroke-dasharray="11.8 27.9" stroke-dashoffset="-17.0"/>
<circle cx="218.8" cy="328.6" r="5.4" stroke="#e8cc40" stroke-dasharray="13.6 33.9" stroke-dashoffset="-23.0"/>
<circle cx="213.0" cy="574.7" r="4.4" stroke="#e8cc40" stroke-dasharray="11.2 27.4" stroke-dashoffset="-1.1"/>
<circle cx="93.1" cy="292.7" r="4.5" stroke="#dca030" stroke-dasharray="14.8 28.1" stroke-dashoffset="-3.2"/>
<circle cx="54.9" cy="461.7" r="5.4" stroke="#f0e050" stroke-dasharray="23.3 33.7" stroke-dashoffset="-25.4"/>
<circle cx="33.8" cy="317.1" r="4.8" stroke="#d08028" stroke-dasharray="15.5 30.1" stroke-dashoffset="-8.8"/>
<circle cx="162.4" cy="416.7" r="4.8" stroke="#f0e050" stroke-dasharray="14.2 30.1" stroke-dashoffset="-13.6"/>
<circle cx="232.2" cy="319.8" r="5.2" stroke="#d08028" stroke-dasharray="15.1 32.7" stroke-dashoffset="-8.5"/>
<circle cx="213.4" cy="345.0" r="4.8" stroke="#f0e050" stroke-dasharray="14.4 29.9" stroke-dashoffset="-19.1"/>
<circle cx="222.7" cy="594.8" r="5.1" stroke="#f0e050" stroke-dasharray="19.6 31.9" stroke-dashoffset="-7.6"/>
<circle cx="45.5" cy="466.6" r="4.9" stroke="#f8f0a0" stroke-dasharray="22.7 30.9" stroke-dashoffset="-17.7"/>
<circle cx="113.9" cy="606.4" r="5.4" stroke="#e8cc40" stroke-dasharray="14.9 33.8" stroke-dashoffset="-11.7"/>
<circle cx="346.9" cy="328.7" r="5.3" stroke="#f0e050" stroke-dasharray="23.0 33.6" stroke-dashoffset="-11.1"/>
<circle cx="253.5" cy="592.4" r="5.0" stroke="#dca030" stroke-dasharray="14.4 31.5" stroke-dashoffset="-4.1"/>
<circle cx="103.8" cy="484.4" r="5.1" stroke="#e8cc40" stroke-dasharray="18.4 32.1" stroke-dashoffset="-27.1"/>
<circle cx="243.5" cy="477.7" r="5.2" stroke="#f8f0a0" stroke-dasharray="21.1 32.6" stroke-dashoffset="-27.9"/>
<circle cx="275.6" cy="317.7" r="5.3" stroke="#dca030" stroke-dasharray="16.0 33.2" stroke-dashoffset="-20.8"/>
<circle cx="139.1" cy="564.8" r="4.7" stroke="#dca030" stroke-dasharray="12.9 29.7" stroke-dashoffset="-11.9"/>
<circle cx="214.8" cy="433.6" r="4.4" stroke="#e8cc40" stroke-dasharray="15.7 27.6" stroke-dashoffset="-10.6"/>
<circle cx="156.7" cy="603.6" r="4.4" stroke="#d08028" stroke-dasharray="18.6 27.4" stroke-dashoffset="-6.5"/>
<circle cx="211.7" cy="295.9" r="4.8" stroke="#f0e050" stroke-dasharray="16.3 30.2" stroke-dashoffset="-24.0"/>
<circle cx="283.5" cy="394.6" r="4.8" stroke="#dca030" stroke-dasharray="18.4 30.4" stroke-dashoffset="-11.6"/>
<circle cx="166.7" cy="357.9" r="4.8" stroke="#d08028" stroke-dasharray="17.8 30.2" stroke-dashoffset="-9.4"/>
<circle cx="170.0" cy="393.3" r="5.0" stroke="#e8cc40" stroke-dasharray="12.8 31.5" stroke-dashoffset="-13.1"/>
<circle cx="56.6" cy="490.2" r="4.6" stroke="#f8f0a0" stroke-dasharray="20.8 28.7" stroke-dashoffset="-23.7"/>
<circle cx="61.1" cy="539.4" r="4.4" stroke="#e8cc40" stroke-dasharray="19.2 27.9" stroke-dashoffset="-12.5"/>
<circle cx="36.3" cy="538.3" r="4.6" stroke="#dca030" stroke-dasharray="13.7 29.2" stroke-dashoffset="-20.1"/>
<circle cx="286.1" cy="448.2" r="5.2" stroke="#d08028" stroke-dasharray="20.1 32.6" stroke-dashoffset="-21.2"/>
<circle cx="254.8" cy="369.0" r="4.5" stroke="#e8cc40" stroke-dasharray="19.3 28.6" stroke-dashoffset="-3.3"/>
<circle cx="263.8" cy="425.2" r="4.7" stroke="#dca030" stroke-dasharray="21.1 29.5" stroke-dashoffset="-9.4"/>
<circle cx="102.0" cy="596.6" r="5.0" stroke="#f0e050" stroke-dasharray="16.4 31.4" stroke-dashoffset="-25.2"/>
<circle cx="156.2" cy="408.7" r="4.8" stroke="#f0e050" stroke-dasharray="21.1 30.4" stroke-dashoffset="-14.3"/>
<circle cx="302.9" cy="407.5" r="4.7" stroke="#e8cc40" stroke-dasharray="13.7 29.6" stroke-dashoffset="-9.9"/>
<circle cx="241.4" cy="344.5" r="4.4" stroke="#f8f0a0" stroke-dasharray="18.7 27.4" stroke-dashoffset="-4.8"/>
<circle cx="297.5" cy="372.4" r="5.0" stroke="#f0e050" stroke-dasharray="14.3 31.4" stroke-dashoffset="-0.0"/>
<circle cx="44.3" cy="600.1" r="4.4" stroke="#e8cc40" stroke-dasharray="15.9 27.8" stroke-dashoffset="-4.2"/>
<circle cx="83.4" cy="591.0" r="4.5" stroke="#e8cc40" stroke-dasharray="16.8 28.6" stroke-dashoffset="-4.7"/>
<circle cx="343.2" cy="482.9" r="4.8" stroke="#d08028" stroke-dasharray="18.5 30.1" stroke-dashoffset="-3.7"/>
<circle cx="94.8" cy="413.7" r="5.4" stroke="#f8f0a0" stroke-dasharray="22.4 33.7" stroke-dashoffset="-10.6"/>
<circle cx="141.4" cy="334.8" r="5.2" stroke="#f0e050" stroke-dasharray="13.9 32.8" stroke-dashoffset="-3.7"/>
<circle cx="207.7" cy="333.7" r="5.1" stroke="#f0e050" stroke-dasharray="17.4 32.2" stroke-dashoffset="-17.7"/>
<circle cx="250.5" cy="311.0" r="4.9" stroke="#d08028" stroke-dasharray="20.5 31.0" stroke-dashoffset="-22.1"/>
<circle cx="172.4" cy="513.9" r="4.9" stroke="#d08028" stroke-dasharray="12.6 30.6" stroke-dashoffset="-13.2"/>
<circle cx="272.3" cy="411.9" r="5.3" stroke="#dca030" stroke-dasharray="21.3 33.2" stroke-dashoffset="-30.2"/>
<circle cx="311.6" cy="343.9" r="5.4" stroke="#e8cc40" stroke-dasharray="23.3 33.8" stroke-dashoffset="-10.8"/>
<circle cx="256.7" cy="535.4" r="5.0" stroke="#e8cc40" stroke-dasharray="18.7 31.3" stroke-dashoffset="-4.6"/>
<circle cx="309.4" cy="447.3" r="4.5" stroke="#e8cc40" stroke-dasharray="11.8 28.3" stroke-dashoffset="-22.4"/>
<circle cx="59.9" cy="305.5" r="4.3" stroke="#f8f0a0" stroke-dasharray="13.2 27.0" stroke-dashoffset="-15.9"/>
<circle cx="197.1" cy="345.2" r="4.2" stroke="#f8f0a0" stroke-dasharray="13.8 26.4" stroke-dashoffset="-5.3"/>
<circle cx="277.4" cy="360.8" r="5.0" stroke="#f0e050" stroke-dasharray="21.1 31.3" stroke-dashoffset="-12.9"/>
<circle cx="32.4" cy="346.0" r="4.9" stroke="#dca030" stroke-dasharray="13.3 30.6" stroke-dashoffset="-18.8"/>
<circle cx="174.1" cy="467.9" r="4.6" stroke="#f8f0a0" stroke-dasharray="15.4 29.0" stroke-dashoffset="-24.6"/>
<circle cx="152.2" cy="345.1" r="4.4" stroke="#d08028" stroke-dasharray="19.9 27.7" stroke-dashoffset="-0.6"/>
<circle cx="182.2" cy="591.0" r="4.9" stroke="#dca030" stroke-dasharray="20.4 30.7" stroke-dashoffset="-13.2"/>
<circle cx="199.2" cy="589.3" r="4.3" stroke="#d08028" stroke-dasharray="18.5 27.0" stroke-dashoffset="-10.8"/>
<circle cx="312.1" cy="463.2" r="4.7" stroke="#e8cc40" stroke-dasharray="20.1 29.3" stroke-dashoffset="-20.6"/>
<circle cx="195.4" cy="460.9" r="4.6" stroke="#f0e050" stroke-dasharray="17.9 29.0" stroke-dashoffset="-10.9"/>
<circle cx="233.5" cy="462.4" r="5.3" stroke="#d08028" stroke-dasharray="23.8 33.2" stroke-dashoffset="-25.0"/>
<circle cx="124.1" cy="520.6" r="4.5" stroke="#e8cc40" stroke-dasharray="12.0 28.1" stroke-dashoffset="-19.2"/>
<circle cx="258.4" cy="322.9" r="5.2" stroke="#f8f0a0" stroke-dasharray="19.0 32.8" stroke-dashoffset="-17.0"/>
<circle cx="184.8" cy="492.5" r="5.1" stroke="#e8cc40" stroke-dasharray="19.4 32.1" stroke-dashoffset="-28.1"/>
<circle cx="45.1" cy="481.8" r="5.4" stroke="#dca030" stroke-dasharray="24.6 33.7" stroke-dashoffset="-0.7"/>
<circle cx="102.0" cy="551.8" r="5.2" stroke="#dca030" stroke-dasharray="15.1 32.5" stroke-dashoffset="-13.1"/>
<circle cx="261.2" cy="488.8" r="5.2" stroke="#dca030" stroke-dasharray="20.7 32.6" stroke-dashoffset="-12.2"/>
<circle cx="218.9" cy="485.1" r="4.9" stroke="#f8f0a0" stroke-dasharray="16.2 30.7" stroke-dashoffset="-4.2"/>
<circle cx="244.8" cy="419.4" r="4.6" stroke="#dca030" stroke-dasharray="11.7 28.8" stroke-dashoffset="-27.7"/>
<circle cx="50.2" cy="350.2" r="4.6" stroke="#d08028" stroke-dasharray="13.0 28.9" stroke-dashoffset="-7.4"/>
<circle cx="48.9" cy="402.9" r="5.2" stroke="#dca030" stroke-dasharray="13.8 33.0" stroke-dashoffset="-22.7"/>
<circle cx="134.8" cy="539.0" r="4.5" stroke="#e8cc40" stroke-dasharray="19.1 28.3" stroke-dashoffset="-28.0"/>
<circle cx="30.9" cy="593.4" r="4.6" stroke="#e8cc40" stroke-dasharray="12.4 29.0" stroke-dashoffset="-1.8"/>
<circle cx="343.2" cy="554.8" r="4.9" stroke="#dca030" stroke-dasharray="13.2 30.8" stroke-dashoffset="-22.9"/>
<circle cx="62.1" cy="401.0" r="4.3" stroke="#f0e050" stroke-dasharray="17.9 27.1" stroke-dashoffset="-9.0"/>
<circle cx="102.1" cy="538.1" r="4.8" stroke="#f0e050" stroke-dasharray="21.7 29.9" stroke-dashoffset="-29.5"/>
<circle cx="89.6" cy="360.4" r="5.1" stroke="#d08028" stroke-dasharray="17.1 31.9" stroke-dashoffset="-22.1"/>
<circle cx="63.5" cy="328.3" r="4.8" stroke="#dca030" stroke-dasharray="16.6 29.9" stroke-dashoffset="-23.2"/>
<circle cx="327.8" cy="600.4" r="5.1" stroke="#f0e050" stroke-dasharray="22.8 32.3" stroke-dashoffset="-18.1"/>
<circle cx="177.5" cy="456.0" r="4.4" stroke="#dca030" stroke-dasharray="12.8 27.4" stroke-dashoffset="-18.1"/>
<circle cx="146.2" cy="491.9" r="4.7" stroke="#f8f0a0" stroke-dasharray="15.4 29.3" stroke-dashoffset="-16.5"/>
<circle cx="103.6" cy="371.6" r="4.2" stroke="#f8f0a0" stroke-dasharray="13.7 26.5" stroke-dashoffset="-2.3"/>
<circle cx="168.5" cy="590.2" r="4.8" stroke="#f0e050" stroke-dasharray="14.1 30.1" stroke-dashoffset="-23.5"/>
<circle cx="283.7" cy="308.5" r="5.3" stroke="#dca030" stroke-dasharray="14.2 33.5" stroke-dashoffset="-3.8"/>
<circle cx="108.4" cy="560.8" r="4.6" stroke="#e8cc40" stroke-dasharray="18.2 28.8" stroke-dashoffset="-8.9"/>
<circle cx="221.5" cy="360.3" r="4.3" stroke="#e8cc40" stroke-dasharray="19.1 26.8" stroke-dashoffset="-7.7"/>
<circle cx="46.9" cy="377.6" r="5.1" stroke="#e8cc40" stroke-dasharray="13.2 32.2" stroke-dashoffset="-12.3"/>
<circle cx="339.8" cy="540.1" r="5.1" stroke="#f0e050" stroke-dasharray="21.1 32.1" stroke-dashoffset="-24.3"/>
<circle cx="316.2" cy="586.0" r="5.2" stroke="#e8cc40" stroke-dasharray="20.7 33.0" stroke-dashoffset="-8.9"/>
<circle cx="337.2" cy="320.1" r="4.7" stroke="#f8f0a0" stroke-dasharray="21.7 29.5" stroke-dashoffset="-20.6"/>
<circle cx="129.7" cy="368.7" r="4.4" stroke="#e8cc40" stroke-dasharray="16.3 27.8" stroke-dashoffset="-18.6"/>
<circle cx="221.2" cy="446.4" r="4.6" stroke="#e8cc40" stroke-dasharray="15.9 29.1" stroke-dashoffset="-11.4"/>
<circle cx="155.7" cy="356.5" r="4.3" stroke="#f0e050" stroke-dasharray="19.9 27.1" stroke-dashoffset="-2.5"/>
<circle cx="116.5" cy="436.9" r="4.3" stroke="#e8cc40" stroke-dasharray="12.8 27.3" stroke-dashoffset="-26.6"/>
<circle cx="223.2" cy="470.8" r="5.0" stroke="#e8cc40" stroke-dasharray="21.4 31.4" stroke-dashoffset="-2.4"/>
<circle cx="156.7" cy="393.4" r="4.6" stroke="#d08028" stroke-dasharray="17.4 28.7" stroke-dashoffset="-8.7"/>
<circle cx="82.7" cy="463.0" r="4.4" stroke="#d08028" stroke-dasharray="16.5 27.7" stroke-dashoffset="-25.7"/>
<circle cx="88.4" cy="516.3" r="4.7" stroke="#f0e050" stroke-dasharray="18.6 29.8" stroke-dashoffset="-28.5"/>
<circle cx="238.6" cy="333.9" r="4.8" stroke="#e8cc40" stroke-dasharray="16.0 29.9" stroke-dashoffset="-2.8"/>
<circle cx="227.9" cy="397.5" r="4.7" stroke="#e8cc40" stroke-dasharray="13.0 29.4" stroke-dashoffset="-10.0"/>
<circle cx="171.0" cy="482.9" r="5.4" stroke="#e8cc40" stroke-dasharray="21.5 33.7" stroke-dashoffset="-9.6"/>
<circle cx="271.5" cy="571.0" r="4.3" stroke="#f0e050" stroke-dasharray="11.2 27.0" stroke-dashoffset="-26.2"/>
<circle cx="262.5" cy="357.3" r="5.1" stroke="#dca030" stroke-dasharray="19.7 32.2" stroke-dashoffset="-23.4"/>
<circle cx="201.3" cy="396.7" r="4.4" stroke="#e8cc40" stroke-dasharray="15.4 27.8" stroke-dashoffset="-12.9"/>
<circle cx="34.3" cy="465.7" r="5.4" stroke="#dca030" stroke-dasharray="14.0 33.9" stroke-dashoffset="-9.8"/>
<circle cx="178.5" cy="565.7" r="5.1" stroke="#e8cc40" stroke-dasharray="23.4 31.8" stroke-dashoffset="-29.6"/>
<circle cx="131.6" cy="555.1" r="4.6" stroke="#f8f0a0" stroke-dasharray="14.6 28.7" stroke-dashoffset="-22.1"/>
<circle cx="192.4" cy="321.6" r="5.1" stroke="#f0e050" stroke-dasharray="21.1 31.9" stroke-dashoffset="-23.7"/>
<circle cx="257.2" cy="380.6" r="5.1" stroke="#e8cc40" stroke-dasharray="17.6 32.2" stroke-dashoffset="-12.2"/>
<circle cx="198.6" cy="312.8" r="4.9" stroke="#f8f0a0" stroke-dasharray="22.1 30.8" stroke-dashoffset="-5.3"/>
<circle cx="31.7" cy="582.9" r="4.8" stroke="#d08028" stroke-dasharray="12.8 30.4" stroke-dashoffset="-25.3"/>
<circle cx="41.6" cy="337.5" r="5.0" stroke="#d08028" stroke-dasharray="14.3 31.4" stroke-dashoffset="-21.7"/>
<circle cx="80.4" cy="320.6" r="4.7" stroke="#f0e050" stroke-dasharray="21.6 29.5" stroke-dashoffset="-26.4"/>
<circle cx="291.4" cy="606.5" r="5.3" stroke="#f8f0a0" stroke-dasharray="17.6 33.5" stroke-dashoffset="-20.9"/>
<circle cx="235.5" cy="415.8" r="4.9" stroke="#d08028" stroke-dasharray="22.6 30.8" stroke-dashoffset="-14.0"/>
<circle cx="71.3" cy="509.5" r="5.3" stroke="#dca030" stroke-dasharray="16.5 33.2" stroke-dashoffset="-18.3"/>
<circle cx="142.9" cy="375.9" r="4.5" stroke="#d08028" stroke-dasharray="13.5 28.4" stroke-dashoffset="-27.0"/>
<circle cx="130.6" cy="412.5" r="5.2" stroke="#d08028" stroke-dasharray="19.9 32.4" stroke-dashoffset="-25.2"/>
<circle cx="86.5" cy="484.8" r="4.7" stroke="#dca030" stroke-dasharray="14.4 29.8" stroke-dashoffset="-11.1"/>
<circle cx="305.6" cy="471.5" r="4.4" stroke="#dca030" stroke-dasharray="16.1 27.7" stroke-dashoffset="-8.2"/>
<circle cx="31.2" cy="507.6" r="5.0" stroke="#dca030" stroke-dasharray="13.4 31.7" stroke-dashoffset="-31.4"/>
<circle cx="304.7" cy="505.4" r="4.4" stroke="#d08028" stroke-dasharray="17.7 27.6" stroke-dashoffset="-0.5"/>
<circle cx="318.3" cy="530.0" r="5.2" stroke="#f8f0a0" stroke-dasharray="14.4 32.4" stroke-dashoffset="-17.4"/>
<circle cx="115.3" cy="335.8" r="4.6" stroke="#dca030" stroke-dasharray="17.1 29.0" stroke-dashoffset="-10.8"/>
<circle cx="102.3" cy="395.3" r="5.0" stroke="#e8cc40" stroke-dasharray="20.6 31.6" stroke-dashoffset="-22.5"/>
<circle cx="267.1" cy="400.6" r="5.2" stroke="#e8cc40" stroke-dasharray="19.2 32.5" stroke-dashoffset="-18.3"/>
<circle cx="324.9" cy="298.4" r="4.5" stroke="#f8f0a0" stroke-dasharray="13.3 28.4" stroke-dashoffset="-24.6"/>
<circle cx="87.7" cy="537.6" r="5.4" stroke="#e8cc40" stroke-dasharray="17.4 33.7" stroke-dashoffset="-32.0"/>
<circle cx="241.9" cy="320.8" r="5.1" stroke="#d08028" stroke-dasharray="13.7 31.8" stroke-dashoffset="-7.3"/>
<circle cx="71.2" cy="357.1" r="5.4" stroke="#d08028" stroke-dasharray="25.0 33.8" stroke-dashoffset="-15.9"/>
<circle cx="201.7" cy="577.0" r="4.4" stroke="#f0e050" stroke-dasharray="20.3 27.9" stroke-dashoffset="-15.8"/>
<circle cx="97.4" cy="354.6" r="4.8" stroke="#f8f0a0" stroke-dasharray="17.0 30.2" stroke-dashoffset="-17.0"/>
<circle cx="327.2" cy="517.6" r="5.0" stroke="#d08028" stroke-dasharray="18.8 31.2" stroke-dashoffset="-12.3"/>
<circle cx="186.7" cy="309.5" r="5.4" stroke="#f0e050" stroke-dasharray="19.5 33.7" stroke-dashoffset="-33.0"/>
<circle cx="286.3" cy="416.8" r="5.1" stroke="#d08028" stroke-dasharray="19.3 32.0" stroke-dashoffset="-14.6"/>
<circle cx="336.1" cy="466.8" r="4.9" stroke="#f8f0a0" stroke-dasharray="14.8 30.6" stroke-dashoffset="-11.3"/>
<circle cx="337.7" cy="349.3" r="4.4" stroke="#f8f0a0" stroke-dasharray="14.4 27.5" stroke-dashoffset="-3.9"/>
<circle cx="200.6" cy="503.2" r="4.3" stroke="#f8f0a0" stroke-dasharray="13.5 26.9" stroke-dashoffset="-7.3"/>
<circle cx="46.2" cy="561.5" r="4.9" stroke="#d08028" stroke-dasharray="15.4 30.9" stroke-dashoffset="-3.8"/>
<circle cx="277.2" cy="434.4" r="5.2" stroke="#e8cc40" stroke-dasharray="24.1 32.9" stroke-dashoffset="-11.2"/>
<circle cx="336.3" cy="303.4" r="5.2" stroke="#d08028" stroke-dasharray="21.8 32.6" stroke-dashoffset="-22.8"/>
<circle cx="83.5" cy="335.8" r="5.0" stroke="#e8cc40" stroke-dasharray="14.9 31.1" stroke-dashoffset="-21.5"/>
<circle cx="241.3" cy="456.4" r="4.5" stroke="#f0e050" stroke-dasharray="19.5 28.4" stroke-dashoffset="-26.0"/>
<circle cx="213.7" cy="558.7" r="4.4" stroke="#f0e050" stroke-dasharray="12.9 27.6" stroke-dashoffset="-7.1"/>
<circle cx="280.5" cy="583.3" r="5.3" stroke="#f0e050" stroke-dasharray="14.2 33.2" stroke-dashoffset="-12.4"/>
<circle cx="76.8" cy="410.7" r="4.4" stroke="#e8cc40" stroke-dasharray="17.1 27.7" stroke-dashoffset="-26.2"/>
<circle cx="335.0" cy="416.2" r="4.4" stroke="#e8cc40" stroke-dasharray="17.7 27.7" stroke-dashoffset="-14.4"/>
<circle cx="86.0" cy="559.8" r="4.3" stroke="#f0e050" stroke-dasharray="16.4 27.3" stroke-dashoffset="-2.7"/>
<circle cx="336.2" cy="455.5" r="5.0" stroke="#f8f0a0" stroke-dasharray="20.1 31.3" stroke-dashoffset="-8.8"/>
<circle cx="331.5" cy="400.4" r="5.1" stroke="#f0e050" stroke-dasharray="17.9 31.7" stroke-dashoffset="-23.9"/>
<circle cx="176.6" cy="329.3" r="4.2" stroke="#e8cc40" stroke-dasharray="12.6 26.5" stroke-dashoffset="-5.6"/>
<circle cx="37.6" cy="525.9" r="4.6" stroke="#f8f0a0" stroke-dasharray="17.0 29.2" stroke-dashoffset="-11.1"/>
<circle cx="95.2" cy="305.0" r="4.4" stroke="#f8f0a0" stroke-dasharray="15.7 27.5" stroke-dashoffset="-24.6"/>
<circle cx="34.4" cy="557.2" r="4.8" stroke="#f0e050" stroke-dasharray="22.1 30.4" stroke-dashoffset="-0.9"/>
<circle cx="254.9" cy="403.9" r="4.9" stroke="#f0e050" stroke-dasharray="14.9 30.9" stroke-dashoffset="-19.9"/>
<circle cx="206.3" cy="514.4" r="4.3" stroke="#d08028" stroke-dasharray="16.6 27.1" stroke-dashoffset="-12.9"/>
<circle cx="52.3" cy="514.5" r="5.0" stroke="#f0e050" stroke-dasharray="23.0 31.7" stroke-dashoffset="-13.8"/>
<circle cx="190.5" cy="559.1" r="5.3" stroke="#f0e050" stroke-dasharray="22.2 33.6" stroke-dashoffset="-11.7"/>
<circle cx="314.7" cy="401.0" r="4.9" stroke="#dca030" stroke-dasharray="15.6 31.1" stroke-dashoffset="-11.5"/>
<circle cx="128.2" cy="435.5" r="4.9" stroke="#e8cc40" stroke-dasharray="20.7 31.0" stroke-dashoffset="-5.2"/>
<circle cx="198.3" cy="527.8" r="4.2" stroke="#f8f0a0" stroke-dasharray="19.5 26.5" stroke-dashoffset="-0.1"/>
<circle cx="61.4" cy="570.0" r="4.2" stroke="#f8f0a0" stroke-dasharray="14.8 26.6" stroke-dashoffset="-1.8"/>
<circle cx="290.4" cy="506.4" r="4.8" stroke="#e8cc40" stroke-dasharray="13.6 30.0" stroke-dashoffset="-0.7"/>
<circle cx="172.6" cy="310.8" r="5.3" stroke="#e8cc40" stroke-dasharray="22.3 33.2" stroke-dashoffset="-24.5"/>
<circle cx="235.2" cy="544.0" r="4.3" stroke="#f0e050" stroke-dasharray="17.5 27.3" stroke-dashoffset="-7.1"/>
<circle cx="152.8" cy="590.5" r="4.7" stroke="#f8f0a0" stroke-dasharray="13.7 29.6" stroke-dashoffset="-5.0"/>
<circle cx="339.2" cy="594.3" r="5.1" stroke="#d08028" stroke-dasharray="17.6 32.2" stroke-dashoffset="-14.0"/>
<circle cx="37.7" cy="383.0" r="5.0" stroke="#dca030" stroke-dasharray="15.8 31.4" stroke-dashoffset="-25.0"/>
<circle cx="30.7" cy="327.9" r="4.4" stroke="#f0e050" stroke-dasharray="20.5 27.9" stroke-dashoffset="-14.3"/>
<circle cx="223.3" cy="411.1" r="4.8" stroke="#dca030" stroke-dasharray="18.6 29.9" stroke-dashoffset="-28.3"/>
<circle cx="74.2" cy="526.9" r="4.9" stroke="#d08028" stroke-dasharray="17.3 30.8" stroke-dashoffset="-27.5"/>
<circle cx="179.8" cy="529.2" r="5.0" stroke="#e8cc40" stroke-dasharray="15.8 31.1" stroke-dashoffset="-29.8"/>
<circle cx="234.0" cy="389.9" r="5.3" stroke="#d08028" stroke-dasharray="22.2 33.4" stroke-dashoffset="-10.0"/>
<circle cx="245.7" cy="535.9" r="5.2" stroke="#d08028" stroke-dasharray="18.4 32.6" stroke-dashoffset="-5.4"/>
<circle cx="230.9" cy="441.7" r="4.5" stroke="#f0e050" stroke-dasharray="15.6 28.3" stroke-dashoffset="-28.0"/>
<circle cx="56.6" cy="419.7" r="5.4" stroke="#dca030" stroke-dasharray="17.3 33.7" stroke-dashoffset="-10.9"/>
<circle cx="276.7" cy="520.2" r="4.6" stroke="#d08028" stroke-dasharray="19.9 28.9" stroke-dashoffset="-21.8"/>
<circle cx="51.9" cy="442.1" r="4.4" stroke="#f8f0a0" stroke-dasharray="14.9 27.4" stroke-dashoffset="-11.3"/>
<circle cx="215.9" cy="459.5" r="4.5" stroke="#f0e050" stroke-dasharray="15.3 28.6" stroke-dashoffset="-18.2"/>
<circle cx="76.0" cy="495.7" r="5.0" stroke="#e8cc40" stroke-dasharray="16.3 31.3" stroke-dashoffset="-7.8"/>
<circle cx="250.9" cy="460.4" r="4.4" stroke="#d08028" stroke-dasharray="14.5 27.9" stroke-dashoffset="-17.3"/>
<circle cx="328.3" cy="473.7" r="4.7" stroke="#d08028" stroke-dasharray="17.0 29.7" stroke-dashoffset="-6.9"/>
<circle cx="336.4" cy="512.3" r="4.9" stroke="#f8f0a0" stroke-dasharray="15.4 30.8" stroke-dashoffset="-28.6"/>
<circle cx="272.5" cy="344.1" r="4.4" stroke="#e8cc40" stroke-dasharray="12.8 27.9" stroke-dashoffset="-17.5"/>
<circle cx="30.4" cy="567.6" r="4.2" stroke="#d08028" stroke-dasharray="16.7 26.5" stroke-dashoffset="-10.1"/>
<circle cx="191.4" cy="430.6" r="4.8" stroke="#f8f0a0" stroke-dasharray="13.1 30.0" stroke-dashoffset="-6.4"/>
<circle cx="79.9" cy="601.7" r="4.7" stroke="#d08028" stroke-dasharray="12.0 29.3" stroke-dashoffset="-19.3"/>
<circle cx="250.5" cy="391.4" r="4.4" stroke="#f0e050" stroke-dasharray="19.2 27.6" stroke-dashoffset="-5.5"/>
<circle cx="132.2" cy="512.3" r="4.7" stroke="#dca030" stroke-dasharray="17.0 29.7" stroke-dashoffset="-14.5"/>
<circle cx="318.6" cy="595.5" r="5.3" stroke="#dca030" stroke-dasharray="18.0 33.5" stroke-dashoffset="-15.8"/>
<circle cx="222.6" cy="547.1" r="5.2" stroke="#f8f0a0" stroke-dasharray="22.2 32.8" stroke-dashoffset="-31.6"/>
<circle cx="172.4" cy="549.0" r="4.9" stroke="#f0e050" stroke-dasharray="21.7 30.8" stroke-dashoffset="-14.1"/>
<circle cx="304.9" cy="381.4" r="4.7" stroke="#e8cc40" stroke-dasharray="12.0 29.8" stroke-dashoffset="-9.5"/>
<circle cx="182.1" cy="382.5" r="5.2" stroke="#dca030" stroke-dasharray="16.9 32.8" stroke-dashoffset="-1.1"/>
<circle cx="270.9" cy="549.2" r="4.3" stroke="#dca030" stroke-dasharray="14.0 27.1" stroke-dashoffset="-16.7"/>
<circle cx="108.3" cy="408.4" r="4.7" stroke="#dca030" stroke-dasharray="14.0 29.7" stroke-dashoffset="-15.6"/>
<circle cx="99.4" cy="515.2" r="4.7" stroke="#f8f0a0" stroke-dasharray="22.0 29.5" stroke-dashoffset="-8.0"/>
<circle cx="339.2" cy="526.6" r="4.3" stroke="#f0e050" stroke-dasharray="14.6 27.2" stroke-dashoffset="-17.2"/>
<circle cx="158.5" cy="517.2" r="4.2" stroke="#f0e050" stroke-dasharray="15.8 26.7" stroke-dashoffset="-24.1"/>
<circle cx="114.2" cy="368.1" r="5.0" stroke="#f0e050" stroke-dasharray="17.1 31.2" stroke-dashoffset="-25.8"/>
<circle cx="187.9" cy="480.9" r="5.1" stroke="#f0e050" stroke-dasharray="20.1 32.0" stroke-dashoffset="-12.9"/>
<circle cx="202.6" cy="549.0" r="5.1" stroke="#dca030" stroke-dasharray="14.2 32.3" stroke-dashoffset="-10.3"/>
<circle cx="71.2" cy="396.9" r="5.1" stroke="#e8cc40" stroke-dasharray="16.9 32.1" stroke-dashoffset="-29.3"/>
<circle cx="286.5" cy="403.9" r="4.8" stroke="#d08028" stroke-dasharray="18.9 30.3" stroke-dashoffset="-28.5"/>
<circle cx="325.4" cy="316.8" r="4.7" stroke="#dca030" stroke-dasharray="21.8 29.5" stroke-dashoffset="-3.5"/>
<circle cx="98.6" cy="432.5" r="4.6" stroke="#f0e050" stroke-dasharray="14.1 28.9" stroke-dashoffset="-14.5"/>
<circle cx="228.2" cy="371.7" r="4.4" stroke="#e8cc40" stroke-dasharray="18.8 27.8" stroke-dashoffset="-3.3"/>
<circle cx="48.3" cy="542.8" r="4.6" stroke="#f8f0a0" stroke-dasharray="12.3 28.9" stroke-dashoffset="-12.2"/>
<circle cx="290.0" cy="329.0" r="4.5" stroke="#f0e050" stroke-dasharray="11.5 28.4" stroke-dashoffset="-15.2"/>
<circle cx="103.7" cy="338.3" r="4.2" stroke="#f0e050" stroke-dasharray="17.0 26.6" stroke-dashoffset="-2.4"/>
<circle cx="256.4" cy="509.5" r="4.6" stroke="#dca030" stroke-dasharray="12.2 28.8" stroke-dashoffset="-1.3"/>
<circle cx="161.0" cy="379.5" r="5.1" stroke="#f0e050" stroke-dasharray="20.9 32.2" stroke-dashoffset="-2.4"/>
<circle cx="180.5" cy="372.8" r="4.7" stroke="#f0e050" stroke-dasharray="21.6 29.4" stroke-dashoffset="-13.3"/>
<circle cx="145.7" cy="573.3" r="4.2" stroke="#dca030" stroke-dasharray="12.4 26.6" stroke-dashoffset="-5.5"/>
<circle cx="209.4" cy="495.3" r="4.6" stroke="#f0e050" stroke-dasharray="16.3 28.8" stroke-dashoffset="-27.3"/>
<circle cx="235.0" cy="290.6" r="5.4" stroke="#dca030" stroke-dasharray="20.7 33.9" stroke-dashoffset="-8.5"/>
<circle cx="266.5" cy="456.2" r="4.8" stroke="#f0e050" stroke-dasharray="12.1 30.3" stroke-dashoffset="-8.0"/>
<circle cx="298.3" cy="590.2" r="4.4" stroke="#dca030" stroke-dasharray="12.0 27.7" stroke-dashoffset="-2.8"/>
<circle cx="136.0" cy="295.9" r="5.2" stroke="#f0e050" stroke-dasharray="20.4 32.5" stroke-dashoffset="-23.3"/>
<circle cx="299.9" cy="516.8" r="5.4" stroke="#d08028" stroke-dasharray="16.2 33.9" stroke-dashoffset="-12.6"/>
<circle cx="167.5" cy="601.8" r="4.8" stroke="#e8cc40" stroke-dasharray="21.4 30.0" stroke-dashoffset="-9.9"/>
<circle cx="93.6" cy="320.0" r="5.4" stroke="#d08028" stroke-dasharray="13.8 33.9" stroke-dashoffset="-6.5"/>
<circle cx="293.5" cy="348.9" r="5.1" stroke="#f0e050" stroke-dasharray="20.6 32.2" stroke-dashoffset="-25.2"/>
<circle cx="211.3" cy="377.3" r="4.8" stroke="#dca030" stroke-dasharray="14.2 30.0" stroke-dashoffset="-16.7"/>
<circle cx="41.2" cy="511.0" r="5.0" stroke="#f8f0a0" stroke-dasharray="13.0 31.3" stroke-dashoffset="-30.7"/>
<circle cx="300.4" cy="533.3" r="4.4" stroke="#d08028" stroke-dasharray="16.7 27.8" stroke-dashoffset="-4.0"/>
<circle cx="84.8" cy="474.3" r="5.0" stroke="#e8cc40" stroke-dasharray="12.7 31.6" stroke-dashoffset="-19.3"/>
<circle cx="139.6" cy="313.2" r="4.9" stroke="#e8cc40" stroke-dasharray="20.7 30.8" stroke-dashoffset="-0.2"/>
<circle cx="186.1" cy="352.6" r="4.4" stroke="#f8f0a0" stroke-dasharray="17.9 27.7" stroke-dashoffset="-9.5"/>
<circle cx="346.6" cy="430.8" r="5.0" stroke="#dca030" stroke-dasharray="21.3 31.1" stroke-dashoffset="-25.8"/>
<circle cx="171.3" cy="439.8" r="5.3" stroke="#f8f0a0" stroke-dasharray="22.8 33.6" stroke-dashoffset="-26.9"/>
<circle cx="164.0" cy="526.6" r="4.6" stroke="#e8cc40" stroke-dasharray="12.7 28.8" stroke-dashoffset="-8.1"/>
<circle cx="135.2" cy="488.1" r="4.6" stroke="#f0e050" stroke-dasharray="13.8 29.1" stroke-dashoffset="-8.0"/>
<circle cx="337.6" cy="359.3" r="5.2" stroke="#e8cc40" stroke-dasharray="23.9 32.7" stroke-dashoffset="-32.5"/>
<circle cx="232.9" cy="553.8" r="4.9" stroke="#f0e050" stroke-dasharray="20.9 31.1" stroke-dashoffset="-20.3"/>
<circle cx="192.4" cy="390.1" r="5.4" stroke="#f0e050" stroke-dasharray="21.6 33.9" stroke-dashoffset="-13.3"/>
<circle cx="42.5" cy="305.3" r="4.3" stroke="#e8cc40" stroke-dasharray="19.3 26.9" stroke-dashoffset="-26.5"/>
<circle cx="259.5" cy="478.0" r="4.6" stroke="#d08028" stroke-dasharray="15.4 29.2" stroke-dashoffset="-17.2"/>
<circle cx="49.7" cy="587.8" r="4.5" stroke="#f0e050" stroke-dasharray="13.3 28.0" stroke-dashoffset="-16.3"/>
<circle cx="319.4" cy="416.4" r="5.1" stroke="#e8cc40" stroke-dasharray="22.5 32.2" stroke-dashoffset="-27.6"/>
<circle cx="46.0" cy="419.1" r="5.1" stroke="#d08028" stroke-dasharray="19.1 32.3" stroke-dashoffset="-9.1"/>
<circle cx="34.3" cy="440.7" r="4.6" stroke="#f8f0a0" stroke-dasharray="16.1 28.9" stroke-dashoffset="-18.4"/>
<circle cx="78.5" cy="347.4" r="5.0" stroke="#f8f0a0" stroke-dasharray="22.2 31.3" stroke-dashoffset="-18.6"/>
<circle cx="142.2" cy="466.4" r="4.8" stroke="#e8cc40" stroke-dasharray="20.4 30.2" stroke-dashoffset="-11.6"/>
<circle cx="137.2" cy="593.2" r="5.3" stroke="#f8f0a0" stroke-dasharray="22.7 33.4" stroke-dashoffset="-3.9"/>
<circle cx="67.0" cy="411.4" r="4.4" stroke="#e8cc40" stroke-dasharray="15.5 27.9" stroke-dashoffset="-7.5"/>
<circle cx="141.2" cy="413.8" r="5.3" stroke="#e8cc40" stroke-dasharray="19.7 33.2" stroke-dashoffset="-12.6"/>
<circle cx="182.4" cy="505.4" r="4.5" stroke="#f0e050" stroke-dasharray="17.2 28.4" stroke-dashoffset="-20.6"/>
<circle cx="120.7" cy="425.0" r="4.5" stroke="#dca030" stroke-dasharray="17.8 28.2" stroke-dashoffset="-8.0"/>
<circle cx="86.3" cy="309.0" r="4.9" stroke="#e8cc40" stroke-dasharray="12.6 31.0" stroke-dashoffset="-15.3"/>
<circle cx="136.3" cy="353.5" r="4.4" stroke="#e8cc40" stroke-dasharray="15.4 27.9" stroke-dashoffset="-2.4"/>
<circle cx="213.0" cy="587.5" r="5.2" stroke="#f8f0a0" stroke-dasharray="20.5 32.5" stroke-dashoffset="-31.2"/>
<circle cx="322.2" cy="343.4" r="5.4" stroke="#f0e050" stroke-dasharray="18.9 33.8" stroke-dashoffset="-7.6"/>
<circle cx="271.0" cy="500.6" r="5.1" stroke="#dca030" stroke-dasharray="15.1 31.8" stroke-dashoffset="-6.9"/>
<circle cx="333.9" cy="387.9" r="4.2" stroke="#e8cc40" stroke-dasharray="15.0 26.5" stroke-dashoffset="-9.3"/>
<circle cx="279.9" cy="538.1" r="5.3" stroke="#f0e050" stroke-dasharray="22.8 33.2" stroke-dashoffset="-8.6"/>
<circle cx="300.6" cy="544.2" r="5.2" stroke="#f0e050" stroke-dasharray="15.2 32.8" stroke-dashoffset="-10.5"/>
<circle cx="117.8" cy="565.0" r="5.3" stroke="#e8cc40" stroke-dasharray="25.0 33.4" stroke-dashoffset="-5.1"/>
<circle cx="28.8" cy="387.1" r="4.7" stroke="#f8f0a0" stroke-dasharray="12.7 29.6" stroke-dashoffset="-22.2"/>
<circle cx="236.9" cy="492.6" r="5.0" stroke="#e8cc40" stroke-dasharray="21.4 31.6" stroke-dashoffset="-15.3"/>
<circle cx="191.6" cy="299.9" r="5.4" stroke="#d08028" stroke-dasharray="20.9 33.6" stroke-dashoffset="-25.7"/>
<circle cx="292.5" cy="438.1" r="4.3" stroke="#d08028" stroke-dasharray="18.8 27.3" stroke-dashoffset="-19.3"/>
<circle cx="236.5" cy="405.1" r="4.9" stroke="#e8cc40" stroke-dasharray="14.8 30.7" stroke-dashoffset="-13.0"/>
<circle cx="299.1" cy="323.1" r="4.8" stroke="#f0e050" stroke-dasharray="14.0 30.4" stroke-dashoffset="-18.3"/>
<circle cx="199.0" cy="449.3" r="5.2" stroke="#dca030" stroke-dasharray="19.9 32.6" stroke-dashoffset="-29.9"/>
<circle cx="219.6" cy="524.9" r="4.9" stroke="#f0e050" stroke-dasharray="15.9 30.7" stroke-dashoffset="-3.1"/>
<circle cx="257.4" cy="290.8" r="4.5" stroke="#f0e050" stroke-dasharray="15.7 28.4" stroke-dashoffset="-15.0"/>
<circle cx="45.6" cy="365.5" r="4.8" stroke="#f0e050" stroke-dasharray="12.7 30.5" stroke-dashoffset="-10.8"/>
<circle cx="36.6" cy="355.5" r="4.5" stroke="#f0e050" stroke-dasharray="15.4 28.5" stroke-dashoffset="-10.1"/>
<circle cx="36.5" cy="294.7" r="4.6" stroke="#dca030" stroke-dasharray="12.5 28.8" stroke-dashoffset="-20.3"/>
<circle cx="296.5" cy="390.5" r="5.0" stroke="#f8f0a0" stroke-dasharray="19.5 31.6" stroke-dashoffset="-31.4"/>
<circle cx="33.8" cy="481.7" r="4.5" stroke="#f0e050" stroke-dasharray="18.3 28.1" stroke-dashoffset="-14.8"/>
<circle cx="91.9" cy="550.8" r="5.2" stroke="#e8cc40" stroke-dasharray="17.1 32.7" stroke-dashoffset="-21.0"/>
<circle cx="178.8" cy="477.2" r="4.9" stroke="#dca030" stroke-dasharray="16.1 31.0" stroke-dashoffset="-12.8"/>
<circle cx="57.2" cy="607.9" r="5.2" stroke="#f8f0a0" stroke-dasharray="22.4 33.0" stroke-dashoffset="-28.6"/>
<circle cx="267.6" cy="534.3" r="4.5" stroke="#f8f0a0" stroke-dasharray="14.6 28.4" stroke-dashoffset="-10.1"/>
<circle cx="174.5" cy="301.3" r="4.6" stroke="#d08028" stroke-dasharray="12.1 29.0" stroke-dashoffset="-2.3"/>
<circle cx="275.2" cy="595.1" r="5.1" stroke="#f8f0a0" stroke-dasharray="13.2 32.1" stroke-dashoffset="-25.5"/>
<circle cx="325.8" cy="506.9" r="4.2" stroke="#e8cc40" stroke-dasharray="14.6 26.5" stroke-dashoffset="-1.7"/>
<circle cx="275.3" cy="448.8" r="4.3" stroke="#e8cc40" stroke-dasharray="12.8 27.1" stroke-dashoffset="-6.8"/>
<circle cx="253.6" cy="496.0" r="5.3" stroke="#f8f0a0" stroke-dasharray="23.1 33.0" stroke-dashoffset="-31.6"/>
<circle cx="311.1" cy="521.6" r="5.1" stroke="#e8cc40" stroke-dasharray="23.2 31.9" stroke-dashoffset="-13.6"/>
<circle cx="283.8" cy="337.1" r="4.5" stroke="#dca030" stroke-dasharray="18.0 28.3" stroke-dashoffset="-19.0"/>
<circle cx="114.9" cy="459.6" r="5.2" stroke="#f0e050" stroke-dasharray="24.0 32.4" stroke-dashoffset="-7.4"/>
<circle cx="252.8" cy="568.3" r="4.4" stroke="#f8f0a0" stroke-dasharray="20.1 27.5" stroke-dashoffset="-1.1"/>
<circle cx="320.5" cy="556.3" r="5.3" stroke="#f8f0a0" stroke-dasharray="23.5 33.2" stroke-dashoffset="-15.7"/>
<circle cx="123.2" cy="497.4" r="4.9" stroke="#f0e050" stroke-dasharray="20.0 31.0" stroke-dashoffset="-24.3"/>
<circle cx="307.1" cy="292.7" r="4.5" stroke="#d08028" stroke-dasharray="20.2 28.1" stroke-dashoffset="-4.1"/>
<circle cx="57.3" cy="578.8" r="5.3" stroke="#f8f0a0" stroke-dasharray="23.3 33.3" stroke-dashoffset="-32.1"/>
<circle cx="149.5" cy="367.7" r="4.2" stroke="#dca030" stroke-dasharray="12.7 26.5" stroke-dashoffset="-17.8"/>
<circle cx="141.0" cy="605.2" r="4.6" stroke="#f0e050" stroke-dasharray="15.5 29.1" stroke-dashoffset="-3.5"/>
<circle cx="243.9" cy="376.4" r="4.3" stroke="#dca030" stroke-dasharray="19.0 27.2" stroke-dashoffset="-15.3"/>
<circle cx="346.6" cy="472.4" r="5.2" stroke="#d08028" stroke-dasharray="20.7 32.6" stroke-dashoffset="-22.6"/>
<circle cx="116.1" cy="301.1" r="5.2" stroke="#f8f0a0" stroke-dasharray="15.4 32.5" stroke-dashoffset="-19.7"/>
<circle cx="213.6" cy="472.7" r="4.6" stroke="#e8cc40" stroke-dasharray="15.2 29.1" stroke-dashoffset="-23.5"/>
<circle cx="135.8" cy="402.5" r="4.7" stroke="#dca030" stroke-dasharray="16.7 29.2" stroke-dashoffset="-9.9"/>
<circle cx="115.7" cy="319.6" r="4.4" stroke="#f8f0a0" stroke-dasharray="18.8 27.7" stroke-dashoffset="-3.3"/>
<circle cx="167.9" cy="558.8" r="5.4" stroke="#f0e050" stroke-dasharray="17.2 33.6" stroke-dashoffset="-15.3"/>
<circle cx="301.5" cy="419.2" r="4.2" stroke="#d08028" stroke-dasharray="14.1 26.6" stroke-dashoffset="-25.2"/>
<circle cx="230.0" cy="479.8" r="4.3" stroke="#f0e050" stroke-dasharray="17.3 27.2" stroke-dashoffset="-18.7"/>
<circle cx="224.4" cy="570.4" r="4.8" stroke="#f8f0a0" stroke-dasharray="15.2 30.1" stroke-dashoffset="-7.3"/>
<circle cx="154.2" cy="504.2" r="4.9" stroke="#f8f0a0" stroke-dasharray="14.9 30.7" stroke-dashoffset="-9.4"/>
<circle cx="186.1" cy="342.7" r="4.4" stroke="#f8f0a0" stroke-dasharray="12.0 27.8" stroke-dashoffset="-4.4"/>
<circle cx="90.4" cy="450.6" r="4.4" stroke="#f8f0a0" stroke-dasharray="12.2 27.5" stroke-dashoffset="-24.6"/>
<circle cx="228.4" cy="586.4" r="4.9" stroke="#d08028" stroke-dasharray="14.3 30.9" stroke-dashoffset="-22.4"/>
<circle cx="229.6" cy="534.1" r="5.3" stroke="#f0e050" stroke-dasharray="20.1 33.1" stroke-dashoffset="-15.6"/>
<circle cx="133.5" cy="327.7" r="4.7" stroke="#e8cc40" stroke-dasharray="14.6 29.4" stroke-dashoffset="-18.2"/>
<circle cx="221.6" cy="386.8" r="4.7" stroke="#dca030" stroke-dasharray="15.9 29.7" stroke-dashoffset="-2.4"/>
<circle cx="326.2" cy="433.1" r="5.0" stroke="#f0e050" stroke-dasharray="17.8 31.6" stroke-dashoffset="-14.4"/>
<circle cx="317.5" cy="490.9" r="4.8" stroke="#d08028" stroke-dasharray="18.8 30.1" stroke-dashoffset="-6.8"/>
<circle cx="162.4" cy="582.1" r="5.1" stroke="#d08028" stroke-dasharray="14.5 31.9" stroke-dashoffset="-30.7"/>
<circle cx="347.3" cy="493.7" r="4.5" stroke="#dca030" stroke-dasharray="15.8 28.4" stroke-dashoffset="-23.5"/>
<circle cx="286.6" cy="483.4" r="5.0" stroke="#dca030" stroke-dasharray="16.9 31.7" stroke-dashoffset="-24.8"/>
<circle cx="135.7" cy="498.2" r="4.5" stroke="#d08028" stroke-dasharray="18.4 28.5" stroke-dashoffset="-14.3"/>
<circle cx="329.1" cy="336.3" r="5.3" stroke="#f0e050" stroke-dasharray="15.8 33.5" stroke-dashoffset="-28.8"/>
<circle cx="130.7" cy="470.9" r="4.6" stroke="#e8cc40" stroke-dasharray="20.9 28.9" stroke-dashoffset="-23.5"/>
<circle cx="162.2" cy="493.5" r="4.8" stroke="#e8cc40" stroke-dasharray="12.0 29.9" stroke-dashoffset="-17.4"/>
<circle cx="308.9" cy="572.2" r="4.5" stroke="#f8f0a0" stroke-dasharray="19.0 28.3" stroke-dashoffset="-25.1"/>
<circle cx="190.8" cy="373.0" r="4.8" stroke="#e8cc40" stroke-dasharray="15.7 30.4" stroke-dashoffset="-12.7"/>
<circle cx="290.8" cy="559.1" r="5.0" stroke="#d08028" stroke-dasharray="21.1 31.7" stroke-dashoffset="-9.5"/>
<circle cx="281.3" cy="502.3" r="4.9" stroke="#e8cc40" stroke-dasharray="20.9 31.0" stroke-dashoffset="-19.5"/>
<circle cx="210.7" cy="407.0" r="5.0" stroke="#d08028" stroke-dasharray="14.6 31.5" stroke-dashoffset="-18.2"/>
<circle cx="60.7" cy="318.2" r="5.1" stroke="#d08028" stroke-dasharray="23.3 32.1" stroke-dashoffset="-3.8"/>
<circle cx="88.6" cy="382.3" r="4.3" stroke="#e8cc40" stroke-dasharray="15.5 26.7" stroke-dashoffset="-8.1"/>
<circle cx="261.0" cy="300.7" r="4.4" stroke="#f0e050" stroke-dasharray="18.6 27.5" stroke-dashoffset="-22.5"/>
<circle cx="104.7" cy="470.3" r="4.3" stroke="#d08028" stroke-dasharray="17.4 26.7" stroke-dashoffset="-10.6"/>
<circle cx="69.8" cy="463.2" r="5.4" stroke="#f8f0a0" stroke-dasharray="15.8 33.8" stroke-dashoffset="-6.3"/>
<circle cx="341.8" cy="409.5" r="5.3" stroke="#f0e050" stroke-dasharray="20.1 33.1" stroke-dashoffset="-1.3"/>
<circle cx="283.3" cy="349.1" r="5.1" stroke="#f0e050" stroke-dasharray="21.9 32.0" stroke-dashoffset="-15.4"/>
<circle cx="154.4" cy="536.3" r="4.6" stroke="#d08028" stroke-dasharray="12.6 28.8" stroke-dashoffset="-8.1"/>
<circle cx="307.7" cy="331.8" r="4.9" stroke="#dca030" stroke-dasharray="22.6 31.1" stroke-dashoffset="-19.4"/>
<circle cx="295.1" cy="494.1" r="5.4" stroke="#f8f0a0" stroke-dasharray="18.3 33.7" stroke-dashoffset="-20.4"/>
<circle cx="170.1" cy="369.2" r="4.9" stroke="#e8cc40" stroke-dasharray="19.2 31.0" stroke-dashoffset="-25.5"/>
<circle cx="242.3" cy="432.1" r="5.2" stroke="#e8cc40" stroke-dasharray="22.3 32.4" stroke-dashoffset="-25.2"/>
<circle cx="156.6" cy="554.1" r="4.6" stroke="#f0e050" stroke-dasharray="13.0 29.2" stroke-dashoffset="-15.2"/>
<circle cx="249.8" cy="358.3" r="4.9" stroke="#f0e050" stroke-dasharray="21.7 30.7" stroke-dashoffset="-7.0"/>
<circle cx="346.3" cy="364.9" r="5.3" stroke="#d08028" stroke-dasharray="19.5 33.6" stroke-dashoffset="-4.8"/>
<circle cx="178.4" cy="431.7" r="5.3" stroke="#d08028" stroke-dasharray="18.3 33.5" stroke-dashoffset="-30.9"/>
<circle cx="46.9" cy="532.3" r="4.4" stroke="#f8f0a0" stroke-dasharray="15.5 27.5" stroke-dashoffset="-17.7"/>
<circle cx="316.7" cy="365.9" r="4.4" stroke="#f0e050" stroke-dasharray="11.8 27.5" stroke-dashoffset="-10.3"/>
<circle cx="258.4" cy="582.5" r="4.4" stroke="#f0e050" stroke-dasharray="20.5 27.3" stroke-dashoffset="-16.0"/>
<circle cx="114.7" cy="537.1" r="5.1" stroke="#f8f0a0" stroke-dasharray="18.3 32.0" stroke-dashoffset="-19.4"/>
<circle cx="98.6" cy="606.1" r="5.0" stroke="#dca030" stroke-dasharray="15.3 31.4" stroke-dashoffset="-25.2"/>
<circle cx="145.8" cy="323.6" r="4.5" stroke="#dca030" stroke-dasharray="12.3 28.3" stroke-dashoffset="-20.3"/>
<circle cx="63.4" cy="481.7" r="5.0" stroke="#d08028" stroke-dasharray="19.9 31.2" stroke-dashoffset="-2.0"/>
<circle cx="55.2" cy="360.3" r="5.1" stroke="#e8cc40" stroke-dasharray="14.9 32.3" stroke-dashoffset="-25.0"/>
<circle cx="185.6" cy="406.1" r="5.3" stroke="#f8f0a0" stroke-dasharray="21.9 33.2" stroke-dashoffset="-15.2"/>
<circle cx="79.9" cy="365.6" r="4.8" stroke="#d08028" stroke-dasharray="18.0 30.2" stroke-dashoffset="-17.7"/>
<circle cx="325.8" cy="545.9" r="4.9" stroke="#f0e050" stroke-dasharray="20.0 31.1" stroke-dashoffset="-20.5"/>
<circle cx="303.4" cy="349.7" r="4.3" stroke="#dca030" stroke-dasharray="18.6 27.0" stroke-dashoffset="-19.2"/>
<circle cx="201.1" cy="374.4" r="4.2" stroke="#d08028" stroke-dasharray="15.0 26.5" stroke-dashoffset="-25.2"/>
<circle cx="237.1" cy="576.0" r="4.5" stroke="#d08028" stroke-dasharray="18.4 28.2" stroke-dashoffset="-24.8"/>
<circle cx="257.0" cy="443.1" r="4.3" stroke="#f8f0a0" stroke-dasharray="16.0 27.1" stroke-dashoffset="-0.9"/>
<circle cx="123.7" cy="354.8" r="4.6" stroke="#dca030" stroke-dasharray="18.9 28.7" stroke-dashoffset="-11.9"/>
<circle cx="303.8" cy="434.4" r="5.2" stroke="#dca030" stroke-dasharray="18.5 32.4" stroke-dashoffset="-18.7"/>
<circle cx="267.3" cy="469.9" r="5.2" stroke="#dca030" stroke-dasharray="19.6 32.7" stroke-dashoffset="-20.4"/>
<circle cx="126.1" cy="312.2" r="4.5" stroke="#f8f0a0" stroke-dasharray="12.1 28.0" stroke-dashoffset="-9.6"/>
<circle cx="54.4" cy="391.5" r="5.3" stroke="#dca030" stroke-dasharray="21.1 33.2" stroke-dashoffset="-4.3"/>
<circle cx="180.6" cy="442.9" r="4.7" stroke="#d08028" stroke-dasharray="21.0 29.4" stroke-dashoffset="-12.5"/>
<circle cx="312.6" cy="545.8" r="4.9" stroke="#f0e050" stroke-dasharray="21.5 30.9" stroke-dashoffset="-19.6"/>
<circle cx="81.2" cy="421.7" r="4.3" stroke="#d08028" stroke-dasharray="16.5 26.8" stroke-dashoffset="-10.9"/>
<circle cx="102.2" cy="574.0" r="5.1" stroke="#dca030" stroke-dasharray="23.1 31.9" stroke-dashoffset="-13.2"/>
<circle cx="338.2" cy="499.7" r="4.8" stroke="#e8cc40" stroke-dasharray="18.1 30.0" stroke-dashoffset="-26.3"/>
<circle cx="203.6" cy="537.3" r="4.3" stroke="#dca030" stroke-dasharray="13.0 26.9" stroke-dashoffset="-0.8"/>
<circle cx="291.0" cy="293.8" r="5.1" stroke="#e8cc40" stroke-dasharray="16.7 31.8" stroke-dashoffset="-13.7"/>
<circle cx="238.8" cy="308.7" r="4.9" stroke="#f0e050" stroke-dasharray="15.7 31.1" stroke-dashoffset="-27.3"/>
<circle cx="81.4" cy="432.1" r="4.3" stroke="#e8cc40" stroke-dasharray="16.8 26.8" stroke-dashoffset="-22.6"/>
<circle cx="164.3" cy="451.7" r="4.7" stroke="#f8f0a0" stroke-dasharray="17.9 29.8" stroke-dashoffset="-8.2"/>
<circle cx="189.6" cy="514.1" r="5.2" stroke="#d08028" stroke-dasharray="19.3 32.8" stroke-dashoffset="-2.5"/>
<circle cx="68.5" cy="550.2" r="4.7" stroke="#f8f0a0" stroke-dasharray="19.2 29.3" stroke-dashoffset="-3.1"/>
<circle cx="234.8" cy="606.4" r="4.9" stroke="#f8f0a0" stroke-dasharray="17.8 31.0" stroke-dashoffset="-28.1"/>
<circle cx="278.2" cy="424.0" r="4.4" stroke="#e8cc40" stroke-dasharray="20.9 27.9" stroke-dashoffset="-7.7"/>
<circle cx="206.6" cy="307.1" r="4.9" stroke="#d08028" stroke-dasharray="22.3 30.6" stroke-dashoffset="-12.4"/>
<circle cx="188.2" cy="603.7" r="5.1" stroke="#e8cc40" stroke-dasharray="14.5 31.7" stroke-dashoffset="-22.7"/>
<circle cx="114.3" cy="521.3" r="4.5" stroke="#f8f0a0" stroke-dasharray="18.2 28.1" stroke-dashoffset="-18.0"/>
<circle cx="70.4" cy="473.6" r="4.8" stroke="#d08028" stroke-dasharray="14.7 30.4" stroke-dashoffset="-24.1"/>
<circle cx="129.3" cy="572.7" r="5.3" stroke="#dca030" stroke-dasharray="16.6 33.2" stroke-dashoffset="-9.0"/>
<circle cx="346.1" cy="390.1" r="5.1" stroke="#f0e050" stroke-dasharray="20.3 32.2" stroke-dashoffset="-9.3"/>
<circle cx="206.8" cy="567.4" r="5.0" stroke="#f8f0a0" stroke-dasharray="13.6 31.2" stroke-dashoffset="-20.7"/>
<circle cx="205.0" cy="426.0" r="4.2" stroke="#f8f0a0" stroke-dasharray="14.6 26.6" stroke-dashoffset="-7.3"/>
<circle cx="225.7" cy="307.1" r="4.4" stroke="#d08028" stroke-dasharray="11.8 27.4" stroke-dashoffset="-27.1"/>
<circle cx="137.8" cy="389.2" r="5.1" stroke="#d08028" stroke-dasharray="20.7 31.9" stroke-dashoffset="-3.8"/>
<circle cx="120.5" cy="386.9" r="4.6" stroke="#dca030" stroke-dasharray="20.9 28.8" stroke-dashoffset="-12.2"/>
<circle cx="87.9" cy="501.1" r="4.4" stroke="#dca030" stroke-dasharray="20.7 27.7" stroke-dashoffset="-5.1"/>
<circle cx="264.7" cy="368.4" r="4.7" stroke="#dca030" stroke-dasharray="21.4 29.5" stroke-dashoffset="-26.8"/>
<circle cx="273.1" cy="381.0" r="5.0" stroke="#f0e050" stroke-dasharray="19.3 31.3" stroke-dashoffset="-23.5"/>
<circle cx="196.0" cy="491.7" r="4.3" stroke="#e8cc40" stroke-dasharray="17.9 27.0" stroke-dashoffset="-8.7"/>
<circle cx="321.5" cy="574.5" r="4.3" stroke="#f8f0a0" stroke-dasharray="10.9 27.0" stroke-dashoffset="-11.0"/>
<circle cx="64.9" cy="593.5" r="5.2" stroke="#d08028" stroke-dasharray="19.5 32.7" stroke-dashoffset="-15.0"/>
<circle cx="68.4" cy="367.9" r="4.4" stroke="#f0e050" stroke-dasharray="20.6 27.5" stroke-dashoffset="-9.8"/>
<circle cx="307.5" cy="604.0" r="5.0" stroke="#f0e050" stroke-dasharray="13.2 31.7" stroke-dashoffset="-20.3"/>
<circle cx="247.5" cy="548.6" r="4.6" stroke="#d08028" stroke-dasharray="13.6 28.8" stroke-dashoffset="-16.0"/>
<circle cx="291.9" cy="576.6" r="4.8" stroke="#f0e050" stroke-dasharray="18.9 29.9" stroke-dashoffset="-23.8"/>
<circle cx="112.6" cy="290.3" r="5.2" stroke="#d08028" stroke-dasharray="15.5 32.7" stroke-dashoffset="-23.6"/>
<circle cx="125.2" cy="341.8" r="4.8" stroke="#f8f0a0" stroke-dasharray="14.1 29.9" stroke-dashoffset="-16.5"/>
<circle cx="309.1" cy="560.6" r="5.3" stroke="#d08028" stroke-dasharray="13.9 33.5" stroke-dashoffset="-8.5"/>
<circle cx="329.3" cy="584.3" r="4.7" stroke="#e8cc40" stroke-dasharray="19.9 29.4" stroke-dashoffset="-29.0"/>
<circle cx="293.7" cy="363.1" r="4.4" stroke="#f0e050" stroke-dasharray="15.4 27.8" stroke-dashoffset="-25.7"/>
<circle cx="76.1" cy="387.4" r="4.4" stroke="#f8f0a0" stroke-dasharray="17.5 27.4" stroke-dashoffset="-10.2"/>
<circle cx="124.6" cy="455.2" r="4.8" stroke="#d08028" stroke-dasharray="15.9 30.2" stroke-dashoffset="-0.8"/>
<circle cx="332.0" cy="533.1" r="4.6" stroke="#f8f0a0" stroke-dasharray="17.6 28.8" stroke-dashoffset="-24.1"/>
<circle cx="56.3" cy="291.9" r="4.6" stroke="#e8cc40" stroke-dasharray="15.4 28.7" stroke-dashoffset="-0.1"/>
<circle cx="158.4" cy="298.5" r="4.3" stroke="#f8f0a0" stroke-dasharray="20.3 27.3" stroke-dashoffset="-20.3"/>
<circle cx="270.9" cy="485.1" r="5.3" stroke="#f8f0a0" stroke-dasharray="14.9 33.2" stroke-dashoffset="-11.8"/>
<circle cx="67.7" cy="447.9" r="4.7" stroke="#f8f0a0" stroke-dasharray="19.5 29.8" stroke-dashoffset="-4.3"/>
<circle cx="153.1" cy="419.7" r="5.1" stroke="#dca030" stroke-dasharray="17.7 32.2" stroke-dashoffset="-17.7"/>
<circle cx="344.7" cy="312.8" r="4.4" stroke="#dca030" stroke-dasharray="19.9 27.9" stroke-dashoffset="-27.2"/>
<circle cx="70.3" cy="435.2" r="5.3" stroke="#dca030" stroke-dasharray="24.7 33.3" stroke-dashoffset="-15.3"/>
<circle cx="149.6" cy="430.8" r="5.0" stroke="#f0e050" stroke-dasharray="23.2 31.4" stroke-dashoffset="-25.9"/>
<circle cx="189.1" cy="573.2" r="4.5" stroke="#dca030" stroke-dasharray="14.4 28.3" stroke-dashoffset="-18.4"/>
<circle cx="40.7" cy="392.3" r="5.3" stroke="#e8cc40" stroke-dasharray="22.0 33.4" stroke-dashoffset="-25.2"/>
<circle cx="140.9" cy="441.2" r="5.0" stroke="#f0e050" stroke-dasharray="17.6 31.2" stroke-dashoffset="-2.0"/>
<circle cx="145.5" cy="299.1" r="5.1" stroke="#f0e050" stroke-dasharray="17.0 32.1" stroke-dashoffset="-28.7"/>
<circle cx="315.6" cy="432.2" r="4.5" stroke="#dca030" stroke-dasharray="11.5 28.6" stroke-dashoffset="-9.9"/>
<circle cx="75.3" cy="580.1" r="4.3" stroke="#e8cc40" stroke-dasharray="12.7 26.7" stroke-dashoffset="-0.3"/>
<circle cx="205.3" cy="364.5" r="4.4" stroke="#f8f0a0" stroke-dasharray="11.4 27.9" stroke-dashoffset="-15.7"/>
<circle cx="240.5" cy="596.2" r="4.6" stroke="#e8cc40" stroke-dasharray="14.7 29.1" stroke-dashoffset="-8.1"/>
<circle cx="54.2" cy="525.0" r="5.4" stroke="#f8f0a0" stroke-dasharray="15.4 33.6" stroke-dashoffset="-20.8"/>
<circle cx="45.5" cy="431.1" r="5.2" stroke="#dca030" stroke-dasharray="21.0 32.5" stroke-dashoffset="-13.1"/>
<circle cx="103.8" cy="502.5" r="5.3" stroke="#f8f0a0" stroke-dasharray="23.9 33.6" stroke-dashoffset="-6.2"/>
<circle cx="63.2" cy="345.1" r="4.9" stroke="#d08028" stroke-dasharray="16.8 30.6" stroke-dashoffset="-29.7"/>
<circle cx="91.4" cy="525.5" r="5.0" stroke="#f0e050" stroke-dasharray="18.3 31.5" stroke-dashoffset="-24.3"/>
<circle cx="208.5" cy="445.2" r="5.3" stroke="#e8cc40" stroke-dasharray="23.6 33.2" stroke-dashoffset="-0.6"/>
<circle cx="344.3" cy="603.3" r="5.1" stroke="#f0e050" stroke-dasharray="19.9 32.2" stroke-dashoffset="-17.0"/>
<circle cx="199.9" cy="471.8" r="5.2" stroke="#e8cc40" stroke-dasharray="16.1 32.9" stroke-dashoffset="-15.2"/>
<circle cx="127.8" cy="595.1" r="4.6" stroke="#f0e050" stroke-dasharray="20.3 28.8" stroke-dashoffset="-28.8"/>
<circle cx="120.9" cy="479.0" r="5.1" stroke="#f0e050" stroke-dasharray="22.6 32.0" stroke-dashoffset="-25.5"/>
<circle cx="124.7" cy="403.9" r="4.5" stroke="#e8cc40" stroke-dasharray="16.3 28.1" stroke-dashoffset="-15.4"/>
<circle cx="195.4" cy="333.8" r="4.8" stroke="#f8f0a0" stroke-dasharray="21.1 30.1" stroke-dashoffset="-22.4"/>
<circle cx="112.3" cy="590.2" r="5.3" stroke="#f0e050" stroke-dasharray="22.3 33.5" stroke-dashoffset="-13.6"/>
<circle cx="288.5" cy="471.9" r="4.8" stroke="#d08028" stroke-dasharray="18.3 30.0" stroke-dashoffset="-15.7"/>
<circle cx="315.6" cy="385.6" r="4.8" stroke="#d08028" stroke-dasharray="19.8 30.4" stroke-dashoffset="-26.2"/>
<circle cx="96.8" cy="387.3" r="4.4" stroke="#f8f0a0" stroke-dasharray="16.0 27.9" stroke-dashoffset="-2.3"/>
<circle cx="194.8" cy="542.4" r="5.2" stroke="#dca030" stroke-dasharray="13.3 32.6" stroke-dashoffset="-18.4"/>
<circle cx="232.2" cy="564.6" r="4.6" stroke="#e8cc40" stroke-dasharray="15.1 29.0" stroke-dashoffset="-5.0"/>
<circle cx="103.0" cy="458.8" r="4.9" stroke="#f8f0a0" stroke-dasharray="13.2 30.7" stroke-dashoffset="-18.8"/>
<circle cx="281.3" cy="550.3" r="4.6" stroke="#dca030" stroke-dasharray="20.0 29.2" stroke-dashoffset="-26.0"/>
<circle cx="250.0" cy="333.4" r="5.3" stroke="#d08028" stroke-dasharray="22.8 33.2" stroke-dashoffset="-24.9"/>
<circle cx="65.2" cy="296.5" r="4.6" stroke="#d08028" stroke-dasharray="15.9 28.8" stroke-dashoffset="-5.4"/>
<circle cx="331.7" cy="291.4" r="4.9" stroke="#dca030" stroke-dasharray="17.9 30.6" stroke-dashoffset="-24.2"/>
<circle cx="76.9" cy="450.9" r="4.2" stroke="#f8f0a0" stroke-dasharray="11.8 26.4" stroke-dashoffset="-3.6"/>
<circle cx="326.3" cy="447.8" r="5.1" stroke="#f8f0a0" stroke-dasharray="15.9 32.1" stroke-dashoffset="-32.0"/>
<circle cx="42.2" cy="454.4" r="5.1" stroke="#f8f0a0" stroke-dasharray="18.6 32.1" stroke-dashoffset="-19.5"/>
<circle cx="145.3" cy="478.2" r="4.6" stroke="#e8cc40" stroke-dasharray="11.7 28.8" stroke-dashoffset="-0.6"/>
<circle cx="345.9" cy="445.0" r="5.2" stroke="#f0e050" stroke-dasharray="20.5 32.7" stroke-dashoffset="-6.4"/>
<circle cx="223.0" cy="497.9" r="5.4" stroke="#dca030" stroke-dasharray="23.5 33.8" stroke-dashoffset="-11.9"/>
<circle cx="245.5" cy="295.2" r="4.2" stroke="#e8cc40" stroke-dasharray="16.4 26.5" stroke-dashoffset="-25.1"/>
<circle cx="65.5" cy="520.3" r="5.3" stroke="#dca030" stroke-dasharray="19.5 33.0" stroke-dashoffset="-16.7"/>
<circle cx="144.4" cy="513.0" r="4.7" stroke="#dca030" stroke-dasharray="15.3 29.7" stroke-dashoffset="-24.6"/>
<circle cx="278.3" cy="471.7" r="4.3" stroke="#f8f0a0" stroke-dasharray="12.4 27.1" stroke-dashoffset="-16.4"/>
<circle cx="269.7" cy="511.4" r="5.2" stroke="#d08028" stroke-dasharray="13.6 32.9" stroke-dashoffset="-32.4"/>
<circle cx="148.1" cy="561.3" r="4.8" stroke="#f8f0a0" stroke-dasharray="17.2 30.1" stroke-dashoffset="-6.3"/>
<circle cx="173.3" cy="423.3" r="4.6" stroke="#f8f0a0" stroke-dasharray="18.2 29.2" stroke-dashoffset="-23.9"/>
<circle cx="189.5" cy="362.7" r="5.3" stroke="#d08028" stroke-dasharray="24.0 33.5" stroke-dashoffset="-23.9"/>
<circle cx="327.9" cy="494.8" r="5.0" stroke="#dca030" stroke-dasharray="20.3 31.6" stroke-dashoffset="-31.5"/>
<circle cx="280.7" cy="607.0" r="5.4" stroke="#d08028" stroke-dasharray="25.4 33.9" stroke-dashoffset="-6.8"/>
<circle cx="227.7" cy="426.5" r="4.3" stroke="#d08028" stroke-dasharray="14.5 26.9" stroke-dashoffset="-4.4"/>
<circle cx="285.6" cy="524.4" r="4.9" stroke="#dca030" stroke-dasharray="19.5 30.7" stroke-dashoffset="-29.7"/>
<circle cx="185.1" cy="551.1" r="4.5" stroke="#f8f0a0" stroke-dasharray="13.0 28.5" stroke-dashoffset="-11.7"/>
<circle cx="346.5" cy="566.4" r="4.4" stroke="#d08028" stroke-dasharray="13.5 27.9" stroke-dashoffset="-19.6"/>
<circle cx="126.2" cy="585.1" r="4.6" stroke="#dca030" stroke-dasharray="16.8 28.9" stroke-dashoffset="-20.6"/>
<circle cx="294.8" cy="455.6" r="4.7" stroke="#f0e050" stroke-dasharray="12.0 29.4" stroke-dashoffset="-20.2"/>
<circle cx="182.4" cy="290.6" r="4.2" stroke="#d08028" stroke-dasharray="14.0 26.4" stroke-dashoffset="-25.5"/>
<circle cx="268.7" cy="327.0" r="4.4" stroke="#e8cc40" stroke-dasharray="19.0 27.9" stroke-dashoffset="-20.5"/>
<circle cx="51.2" cy="300.3" r="5.4" stroke="#f8f0a0" stroke-dasharray="18.2 33.9" stroke-dashoffset="-18.1"/>
<circle cx="164.6" cy="290.9" r="4.7" stroke="#d08028" stroke-dasharray="19.6 29.8" stroke-dashoffset="-4.4"/>
<circle cx="85.8" cy="398.5" r="4.3" stroke="#dca030" stroke-dasharray="19.9 26.7" stroke-dashoffset="-26.0"/>
<circle cx="269.5" cy="292.9" r="4.6" stroke="#dca030" stroke-dasharray="14.3 28.9" stroke-dashoffset="-17.1"/>
<circle cx="179.5" cy="580.8" r="5.2" stroke="#dca030" stroke-dasharray="20.2 32.7" stroke-dashoffset="-7.2"/>
<circle cx="77.3" cy="536.2" r="4.6" stroke="#e8cc40" stroke-dasharray="14.1 28.8" stroke-dashoffset="-24.1"/>
<circle cx="337.4" cy="371.8" r="4.2" stroke="#dca030" stroke-dasharray="14.7 26.6" stroke-dashoffset="-21.5"/>
<circle cx="198.4" cy="603.0" r="4.9" stroke="#f8f0a0" stroke-dasharray="18.4 30.7" stroke-dashoffset="-26.3"/>
<circle cx="106.3" cy="299.8" r="4.3" stroke="#dca030" stroke-dasharray="19.6 27.2" stroke-dashoffset="-8.3"/>
<circle cx="94.1" cy="336.5" r="5.2" stroke="#f8f0a0" stroke-dasharray="20.9 32.7" stroke-dashoffset="-21.1"/>
<circle cx="267.3" cy="309.8" r="4.2" stroke="#dca030" stroke-dasharray="13.7 26.5" stroke-dashoffset="-5.8"/>
<circle cx="232.2" cy="354.9" r="4.7" stroke="#f8f0a0" stroke-dasharray="12.6 29.8" stroke-dashoffset="-23.4"/>
<circle cx="136.0" cy="524.5" r="4.8" stroke="#f0e050" stroke-dasharray="21.9 29.9" stroke-dashoffset="-13.3"/>
<circle cx="161.2" cy="470.0" r="5.2" stroke="#dca030" stroke-dasharray="15.9 32.9" stroke-dashoffset="-26.1"/>
<circle cx="127.5" cy="605.7" r="4.5" stroke="#f0e050" stroke-dasharray="20.8 28.2" stroke-dashoffset="-7.0"/>
<circle cx="257.6" cy="603.2" r="4.9" stroke="#f8f0a0" stroke-dasharray="13.2 30.7" stroke-dashoffset="-17.6"/>
<circle cx="30.6" cy="373.3" r="5.0" stroke="#e8cc40" stroke-dasharray="19.6 31.2" stroke-dashoffset="-12.8"/>
<circle cx="242.9" cy="508.4" r="4.9" stroke="#e8cc40" stroke-dasharray="20.8 30.8" stroke-dashoffset="-0.6"/>
<circle cx="197.2" cy="406.3" r="4.2" stroke="#dca030" stroke-dasharray="17.7 26.4" stroke-dashoffset="-8.0"/>
<circle cx="126.1" cy="378.2" r="5.2" stroke="#dca030" stroke-dasharray="18.8 32.9" stroke-dashoffset="-28.0"/>
<circle cx="297.2" cy="484.6" r="4.3" stroke="#f0e050" stroke-dasharray="13.7 27.2" stroke-dashoffset="-12.8"/>
<circle cx="337.4" cy="572.9" r="5.2" stroke="#f0e050" stroke-dasharray="20.5 33.0" stroke-dashoffset="-17.4"/>
<circle cx="315.3" cy="354.0" r="4.7" stroke="#dca030" stroke-dasharray="13.4 29.3" stroke-dashoffset="-0.1"/>
<circle cx="162.6" cy="567.5" r="4.4" stroke="#f0e050" stroke-dasharray="20.8 27.8" stroke-dashoffset="-20.4"/>
<circle cx="196.0" cy="420.9" r="5.0" stroke="#dca030" stroke-dasharray="23.3 31.4" stroke-dashoffset="-6.3"/>
<circle cx="257.7" cy="552.9" r="4.8" stroke="#e8cc40" stroke-dasharray="21.7 30.2" stroke-dashoffset="-17.9"/>
<circle cx="284.5" cy="385.0" r="4.8" stroke="#e8cc40" stroke-dasharray="14.6 30.2" stroke-dashoffset="-1.4"/>
<circle cx="159.4" cy="333.6" r="5.2" stroke="#d08028" stroke-dasharray="13.1 32.6" stroke-dashoffset="-5.5"/>
<circle cx="315.3" cy="299.3" r="4.6" stroke="#d08028" stroke-dasharray="11.7 29.0" stroke-dashoffset="-23.8"/>
<circle cx="44.6" cy="578.5" r="5.3" stroke="#e8cc40" stroke-dasharray="25.0 33.6" stroke-dashoffset="-20.9"/>
<circle cx="285.6" cy="371.1" r="4.3" stroke="#d08028" stroke-dasharray="18.8 27.2" stroke-dashoffset="-17.4"/>
<circle cx="52.5" cy="333.7" r="4.7" stroke="#dca030" stroke-dasharray="16.8 29.5" stroke-dashoffset="-2.3"/>
<circle cx="113.8" cy="494.0" r="4.5" stroke="#f0e050" stroke-dasharray="12.0 28.3" stroke-dashoffset="-18.5"/>
<circle cx="37.2" cy="496.7" r="4.3" stroke="#d08028" stroke-dasharray="15.1 27.1" stroke-dashoffset="-25.1"/>
<circle cx="92.3" cy="461.9" r="4.8" stroke="#f8f0a0" stroke-dasharray="12.9 29.9" stroke-dashoffset="-21.6"/>
<circle cx="250.6" cy="347.6" r="5.3" stroke="#d08028" stroke-dasharray="15.8 33.2" stroke-dashoffset="-19.8"/>
<circle cx="50.3" cy="314.4" r="4.8" stroke="#dca030" stroke-dasharray="13.7 30.1" stroke-dashoffset="-14.3"/>
<circle cx="78.7" cy="549.2" r="4.9" stroke="#f8f0a0" stroke-dasharray="19.2 30.7" stroke-dashoffset="-9.3"/>
<circle cx="69.7" cy="335.9" r="4.7" stroke="#f0e050" stroke-dasharray="21.6 29.4" stroke-dashoffset="-28.9"/>
<circle cx="115.7" cy="347.4" r="4.4" stroke="#e8cc40" stroke-dasharray="11.8 27.4" stroke-dashoffset="-7.3"/>
<circle cx="183.7" cy="465.4" r="4.7" stroke="#e8cc40" stroke-dasharray="15.8 29.4" stroke-dashoffset="-2.6"/>
<circle cx="245.0" cy="399.4" r="4.7" stroke="#f8f0a0" stroke-dasharray="15.4 29.6" stroke-dashoffset="-23.3"/>
<circle cx="79.0" cy="297.5" r="4.3" stroke="#d08028" stroke-dasharray="11.5 26.9" stroke-dashoffset="-7.0"/>
<circle cx="317.8" cy="513.3" r="4.9" stroke="#e8cc40" stroke-dasharray="12.5 30.5" stroke-dashoffset="-28.7"/>
<circle cx="335.2" cy="560.4" r="4.2" stroke="#f0e050" stroke-dasharray="14.2 26.5" stroke-dashoffset="-2.8"/>
<circle cx="170.8" cy="339.4" r="4.8" stroke="#e8cc40" stroke-dasharray="12.0 29.9" stroke-dashoffset="-27.8"/>
<circle cx="315.4" cy="481.4" r="4.6" stroke="#f8f0a0" stroke-dasharray="17.4 28.7" stroke-dashoffset="-5.1"/>
<circle cx="344.3" cy="297.7" r="5.3" stroke="#f0e050" stroke-dasharray="14.2 33.1" stroke-dashoffset="-29.1"/>
<circle cx="168.9" cy="538.4" r="4.5" stroke="#e8cc40" stroke-dasharray="18.5 28.3" stroke-dashoffset="-10.3"/>
<circle cx="164.5" cy="347.5" r="5.2" stroke="#f8f0a0" stroke-dasharray="22.9 32.7" stroke-dashoffset="-18.2"/>
<circle cx="154.0" cy="461.3" r="5.3" stroke="#f0e050" stroke-dasharray="19.3 33.1" stroke-dashoffset="-4.3"/>
<circle cx="93.3" cy="372.2" r="4.8" stroke="#e8cc40" stroke-dasharray="15.4 30.2" stroke-dashoffset="-21.3"/>
<circle cx="207.3" cy="318.9" r="5.1" stroke="#d08028" stroke-dasharray="19.0 32.0" stroke-dashoffset="-26.8"/>
<circle cx="94.5" cy="471.3" r="4.5" stroke="#e8cc40" stroke-dasharray="16.9 28.4" stroke-dashoffset="-15.7"/>
<circle cx="89.6" cy="599.1" r="4.6" stroke="#e8cc40" stroke-dasharray="16.4 28.6" stroke-dashoffset="-26.4"/>
<circle cx="59.3" cy="506.2" r="4.7" stroke="#e8cc40" stroke-dasharray="13.7 29.7" stroke-dashoffset="-27.7"/>
<circle cx="258.5" cy="518.9" r="4.4" stroke="#d08028" stroke-dasharray="11.2 27.7" stroke-dashoffset="-16.5"/>
<circle cx="209.9" cy="387.0" r="5.3" stroke="#d08028" stroke-dasharray="17.2 33.6" stroke-dashoffset="-7.0"/>
<circle cx="327.5" cy="362.0" r="5.4" stroke="#e8cc40" stroke-dasharray="18.8 33.7" stroke-dashoffset="-20.2"/>
<circle cx="112.2" cy="579.9" r="4.7" stroke="#e8cc40" stroke-dasharray="20.1 29.3" stroke-dashoffset="-16.2"/>
<circle cx="46.5" cy="291.0" r="4.9" stroke="#e8cc40" stroke-dasharray="19.7 30.8" stroke-dashoffset="-29.5"/>
<circle cx="307.7" cy="361.3" r="4.3" stroke="#d08028" stroke-dasharray="16.5 27.0" stroke-dashoffset="-19.8"/>
<circle cx="125.2" cy="291.3" r="4.2" stroke="#e8cc40" stroke-dasharray="12.1 26.4" stroke-dashoffset="-15.2"/>
<circle cx="139.1" cy="424.1" r="4.7" stroke="#d08028" stroke-dasharray="15.9 29.4" stroke-dashoffset="-12.6"/>
<circle cx="268.1" cy="602.3" r="5.3" stroke="#f8f0a0" stroke-dasharray="22.8 33.3" stroke-dashoffset="-0.4"/>
<circle cx="230.4" cy="344.4" r="5.2" stroke="#f8f0a0" stroke-dasharray="17.9 32.5" stroke-dashoffset="-5.0"/>
<circle cx="146.2" cy="544.2" r="4.8" stroke="#e8cc40" stroke-dasharray="15.2 30.4" stroke-dashoffset="-8.2"/>
<circle cx="108.7" cy="444.2" r="4.4" stroke="#d08028" stroke-dasharray="18.5 27.8" stroke-dashoffset="-23.6"/>
<circle cx="239.5" cy="586.5" r="4.4" stroke="#d08028" stroke-dasharray="19.8 27.7" stroke-dashoffset="-11.8"/>
<circle cx="244.5" cy="443.8" r="4.3" stroke="#dca030" stroke-dasharray="11.1 26.8" stroke-dashoffset="-21.0"/>
<circle cx="279.5" cy="297.2" r="4.5" stroke="#d08028" stroke-dasharray="15.0 28.4" stroke-dashoffset="-18.0"/>
<circle cx="150.7" cy="312.3" r="4.8" stroke="#f0e050" stroke-dasharray="21.2 29.9" stroke-dashoffset="-1.1"/>
<circle cx="72.8" cy="308.9" r="4.7" stroke="#f0e050" stroke-dasharray="13.1 29.6" stroke-dashoffset="-14.6"/>
<circle cx="61.0" cy="558.0" r="5.0" stroke="#dca030" stroke-dasharray="19.7 31.3" stroke-dashoffset="-10.7"/>
<circle cx="295.7" cy="306.3" r="4.4" stroke="#f0e050" stroke-dasharray="17.8 27.6" stroke-dashoffset="-15.2"/>
<circle cx="268.7" cy="439.9" r="4.3" stroke="#d08028" stroke-dasharray="18.0 27.3" stroke-dashoffset="-21.8"/>
<circle cx="334.8" cy="427.4" r="4.8" stroke="#f0e050" stroke-dasharray="17.2 30.0" stroke-dashoffset="-18.2"/>
<circle cx="319.1" cy="376.0" r="4.3" stroke="#f0e050" stroke-dasharray="15.0 27.1" stroke-dashoffset="-0.8"/>
<circle cx="30.1" cy="396.9" r="5.2" stroke="#d08028" stroke-dasharray="22.2 32.7" stroke-dashoffset="-18.1"/>
<circle cx="346.5" cy="579.5" r="4.5" stroke="#d08028" stroke-dasharray="15.8 28.0" stroke-dashoffset="-23.5"/>
<circle cx="163.7" cy="428.9" r="5.3" stroke="#dca030" stroke-dasharray="15.8 33.2" stroke-dashoffset="-13.0"/>
<circle cx="43.6" cy="322.3" r="4.7" stroke="#dca030" stroke-dasharray="14.4 29.5" stroke-dashoffset="-24.0"/>
<circle cx="135.8" cy="582.1" r="5.0" stroke="#d08028" stroke-dasharray="13.3 31.4" stroke-dashoffset="-23.4"/>
<circle cx="120.3" cy="511.5" r="5.0" stroke="#e8cc40" stroke-dasharray="21.4 31.2" stroke-dashoffset="-27.0"/>
<circle cx="92.9" cy="583.4" r="5.0" stroke="#f8f0a0" stroke-dasharray="17.2 31.2" stroke-dashoffset="-11.7"/>
<circle cx="219.0" cy="401.5" r="4.8" stroke="#dca030" stroke-dasharray="15.3 30.4" stroke-dashoffset="-12.9"/>
<circle cx="267.1" cy="559.0" r="4.2" stroke="#f0e050" stroke-dasharray="14.5 26.4" stroke-dashoffset="-6.2"/>
<circle cx="286.7" cy="592.1" r="4.2" stroke="#f0e050" stroke-dasharray="18.0 26.7" stroke-dashoffset="-16.4"/>
<circle cx="96.3" cy="493.9" r="4.8" stroke="#f8f0a0" stroke-dasharray="12.1 30.2" stroke-dashoffset="-3.2"/>
<circle cx="253.0" cy="413.8" r="4.5" stroke="#dca030" stroke-dasharray="20.4 28.1" stroke-dashoffset="-4.4"/>
<circle cx="208.5" cy="527.9" r="4.8" stroke="#f0e050" stroke-dasharray="20.0 30.3" stroke-dashoffset="-16.4"/>
<circle cx="185.0" cy="418.6" r="4.7" stroke="#e8cc40" stroke-dasharray="20.1 29.3" stroke-dashoffset="-23.7"/>
<circle cx="98.5" cy="444.1" r="4.3" stroke="#f8f0a0" stroke-dasharray="17.2 27.1" stroke-dashoffset="-7.0"/>
<circle cx="145.8" cy="356.5" r="5.0" stroke="#f0e050" stroke-dasharray="14.1 31.5" stroke-dashoffset="-30.9"/>
<circle cx="296.5" cy="338.5" r="4.9" stroke="#e8cc40" stroke-dasharray="14.0 30.7" stroke-dashoffset="-1.5"/>
<circle cx="173.3" cy="499.4" r="4.9" stroke="#dca030" stroke-dasharray="18.3 30.7" stroke-dashoffset="-25.8"/>
<circle cx="104.6" cy="315.3" r="4.5" stroke="#d08028" stroke-dasharray="19.2 28.5" stroke-dashoffset="-11.5"/>
<circle cx="217.4" cy="607.2" r="4.8" stroke="#f8f0a0" stroke-dasharray="22.3 30.1" stroke-dashoffset="-8.1"/>
<circle cx="323.3" cy="406.9" r="4.8" stroke="#d08028" stroke-dasharray="17.6 30.0" stroke-dashoffset="-18.3"/>
<circle cx="94.8" cy="402.5" r="4.4" stroke="#d08028" stroke-dasharray="13.5 27.9" stroke-dashoffset="-12.6"/>
<circle cx="229.5" cy="329.7" r="4.6" stroke="#e8cc40" stroke-dasharray="18.8 28.9" stroke-dashoffset="-10.5"/>
<circle cx="245.6" cy="561.3" r="4.8" stroke="#dca030" stroke-dasharray="13.3 30.4" stroke-dashoffset="-8.7"/>
<circle cx="31.4" cy="607.8" r="4.6" stroke="#dca030" stroke-dasharray="14.3 28.8" stroke-dashoffset="-2.4"/>
<circle cx="151.9" cy="290.7" r="5.4" stroke="#d08028" stroke-dasharray="20.9 33.8" stroke-dashoffset="-11.3"/>
<circle cx="299.1" cy="564.4" r="4.9" stroke="#f8f0a0" stroke-dasharray="22.9 31.1" stroke-dashoffset="-30.6"/>
<circle cx="109.0" cy="418.8" r="4.9" stroke="#dca030" stroke-dasharray="18.3 30.8" stroke-dashoffset="-4.2"/>
<circle cx="121.2" cy="445.6" r="4.6" stroke="#d08028" stroke-dasharray="14.4 28.8" stroke-dashoffset="-14.7"/>
<circle cx="134.8" cy="456.7" r="4.8" stroke="#dca030" stroke-dasharray="14.2 29.9" stroke-dashoffset="-8.8"/>
<circle cx="28.2" cy="413.7" r="5.0" stroke="#f0e050" stroke-dasharray="14.7 31.2" stroke-dashoffset="-8.2"/>
<circle cx="309.2" cy="495.9" r="5.0" stroke="#d08028" stroke-dasharray="12.9 31.2" stroke-dashoffset="-23.0"/>
<circle cx="213.4" cy="506.2" r="5.3" stroke="#f8f0a0" stroke-dasharray="24.2 33.1" stroke-dashoffset="-11.1"/>
<circle cx="176.3" cy="354.4" r="5.3" stroke="#f0e050" stroke-dasharray="15.0 33.2" stroke-dashoffset="-9.8"/>
<circle cx="344.9" cy="507.0" r="5.0" stroke="#f8f0a0" stroke-dasharray="15.9 31.6" stroke-dashoffset="-17.1"/>
<circle cx="160.5" cy="366.4" r="5.3" stroke="#f8f0a0" stroke-dasharray="21.8 33.5" stroke-dashoffset="-11.0"/>
<circle cx="179.6" cy="394.8" r="5.3" stroke="#dca030" stroke-dasharray="18.4 33.2" stroke-dashoffset="-1.5"/>
<circle cx="343.9" cy="419.7" r="5.2" stroke="#f8f0a0" stroke-dasharray="22.6 32.4" stroke-dashoffset="-8.9"/>
<circle cx="286.0" cy="318.4" r="4.9" stroke="#d08028" stroke-dasharray="22.2 30.6" stroke-dashoffset="-15.3"/>
<circle cx="68.2" cy="606.7" r="5.0" stroke="#f8f0a0" stroke-dasharray="22.7 31.5" stroke-dashoffset="-25.4"/>
<circle cx="277.4" cy="492.4" r="4.7" stroke="#f0e050" stroke-dasharray="17.1 29.7" stroke-dashoffset="-17.5"/>
<circle cx="210.4" cy="355.1" r="4.5" stroke="#dca030" stroke-dasharray="20.1 28.3" stroke-dashoffset="-15.8"/>
<circle cx="322.9" cy="394.9" r="4.4" stroke="#f8f0a0" stroke-dasharray="13.5 27.6" stroke-dashoffset="-22.1"/>
<circle cx="59.9" cy="432.3" r="4.4" stroke="#dca030" stroke-dasharray="18.9 27.8" stroke-dashoffset="-2.4"/>
<circle cx="29.2" cy="519.6" r="5.4" stroke="#f0e050" stroke-dasharray="19.5 33.9" stroke-dashoffset="-15.5"/>
<circle cx="278.9" cy="459.1" r="5.3" stroke="#d08028" stroke-dasharray="21.6 33.5" stroke-dashoffset="-17.8"/>
<circle cx="295.4" cy="465.2" r="5.3" stroke="#f8f0a0" stroke-dasharray="18.0 33.0" stroke-dashoffset="-1.0"/>
<circle cx="119.4" cy="413.0" r="4.6" stroke="#f0e050" stroke-dasharray="18.0 29.0" stroke-dashoffset="-20.6"/>
<circle cx="70.1" cy="378.5" r="5.3" stroke="#f8f0a0" stroke-dasharray="18.9 33.1" stroke-dashoffset="-32.9"/>
<circle cx="229.7" cy="511.8" r="4.8" stroke="#f8f0a0" stroke-dasharray="16.3 29.9" stroke-dashoffset="-28.0"/>
<circle cx="287.2" cy="428.7" r="4.7" stroke="#d08028" stroke-dasharray="14.5 29.2" stroke-dashoffset="-6.8"/>
<circle cx="270.1" cy="586.2" r="5.2" stroke="#d08028" stroke-dasharray="18.6 32.5" stroke-dashoffset="-32.1"/>
<circle cx="184.3" cy="539.3" r="4.7" stroke="#dca030" stroke-dasharray="13.5 29.7" stroke-dashoffset="-22.3"/>
<circle cx="47.4" cy="493.5" r="4.8" stroke="#dca030" stroke-dasharray="19.5 30.0" stroke-dashoffset="-11.0"/>
<circle cx="345.4" cy="338.6" r="4.5" stroke="#e8cc40" stroke-dasharray="13.1 28.0" stroke-dashoffset="-4.3"/>
<circle cx="112.7" cy="399.3" r="5.3" stroke="#f8f0a0" stroke-dasharray="14.6 33.4" stroke-dashoffset="-13.3"/>
<circle cx="146.2" cy="400.2" r="4.6" stroke="#e8cc40" stroke-dasharray="20.2 28.7" stroke-dashoffset="-4.4"/>
<circle cx="223.5" cy="295.1" r="4.8" stroke="#dca030" stroke-dasharray="20.4 30.3" stroke-dashoffset="-25.7"/>
<circle cx="172.5" cy="383.2" r="4.9" stroke="#dca030" stroke-dasharray="17.0 31.1" stroke-dashoffset="-6.6"/>
<circle cx="318.1" cy="607.6" r="4.7" stroke="#d08028" stroke-dasharray="22.2 29.8" stroke-dashoffset="-2.0"/>
<circle cx="109.4" cy="385.4" r="4.6" stroke="#f8f0a0" stroke-dasharray="20.8 28.7" stroke-dashoffset="-13.7"/>
<circle cx="200.4" cy="436.1" r="4.3" stroke="#dca030" stroke-dasharray="13.9 26.8" stroke-dashoffset="-7.0"/>
<circle cx="125.0" cy="540.3" r="4.9" stroke="#d08028" stroke-dasharray="17.0 31.0" stroke-dashoffset="-29.6"/>
<circle cx="281.6" cy="569.8" r="4.6" stroke="#f8f0a0" stroke-dasharray="16.1 29.2" stroke-dashoffset="-21.3"/>
<circle cx="54.1" cy="451.7" r="4.9" stroke="#f0e050" stroke-dasharray="19.0 30.6" stroke-dashoffset="-3.2"/>
<circle cx="216.2" cy="311.3" r="4.4" stroke="#f0e050" stroke-dasharray="14.0 27.8" stroke-dashoffset="-1.4"/>
<circle cx="320.6" cy="458.2" r="4.3" stroke="#f8f0a0" stroke-dasharray="19.8 26.9" stroke-dashoffset="-22.6"/>
<circle cx="90.8" cy="424.6" r="4.7" stroke="#f8f0a0" stroke-dasharray="15.5 29.4" stroke-dashoffset="-15.0"/>
<circle cx="92.3" cy="346.1" r="5.0" stroke="#dca030" stroke-dasharray="20.7 31.1" stroke-dashoffset="-13.2"/>
<circle cx="301.5" cy="578.9" r="4.3" stroke="#f8f0a0" stroke-dasharray="18.4 26.8" stroke-dashoffset="-1.6"/>
<circle cx="226.7" cy="454.6" r="4.4" stroke="#d08028" stroke-dasharray="14.9 27.9" stroke-dashoffset="-16.7"/>
<circle cx="67.8" cy="425.6" r="4.9" stroke="#dca030" stroke-dasharray="18.5 30.9" stroke-dashoffset="-3.4"/>
<circle cx="165.7" cy="405.3" r="5.1" stroke="#dca030" stroke-dasharray="14.4 31.9" stroke-dashoffset="-0.6"/>
<circle cx="336.5" cy="437.6" r="4.5" stroke="#f8f0a0" stroke-dasharray="13.3 28.3" stroke-dashoffset="-7.0"/>
<circle cx="170.8" cy="572.6" r="4.4" stroke="#f8f0a0" stroke-dasharray="15.0 27.5" stroke-dashoffset="-13.2"/>
<circle cx="54.8" cy="597.3" r="4.3" stroke="#dca030" stroke-dasharray="14.5 26.9" stroke-dashoffset="-11.7"/>
<circle cx="108.3" cy="429.7" r="4.6" stroke="#f0e050" stroke-dasharray="17.1 28.6" stroke-dashoffset="-28.6"/>
<circle cx="248.8" cy="583.0" r="5.4" stroke="#e8cc40" stroke-dasharray="23.7 33.8" stroke-dashoffset="-30.5"/>
<circle cx="241.8" cy="365.4" r="4.8" stroke="#f0e050" stroke-dasharray="17.0 30.0" stroke-dashoffset="-7.5"/>
<circle cx="187.8" cy="452.1" r="4.2" stroke="#f0e050" stroke-dasharray="17.0 26.5" stroke-dashoffset="-21.4"/>
<circle cx="158.3" cy="480.5" r="4.7" stroke="#f0e050" stroke-dasharray="16.0 29.3" stroke-dashoffset="-26.4"/>
<circle cx="177.3" cy="599.7" r="5.0" stroke="#dca030" stroke-dasharray="15.6 31.1" stroke-dashoffset="-25.1"/>
<circle cx="41.4" cy="549.7" r="4.7" stroke="#d08028" stroke-dasharray="13.1 29.5" stroke-dashoffset="-27.0"/>
<circle cx="206.8" cy="607.8" r="4.8" stroke="#f8f0a0" stroke-dasharray="13.0 30.3" stroke-dashoffset="-2.3"/>
<circle cx="230.4" cy="522.9" r="5.1" stroke="#dca030" stroke-dasharray="14.4 32.3" stroke-dashoffset="-29.9"/>
<circle cx="273.5" cy="391.2" r="4.3" stroke="#e8cc40" stroke-dasharray="17.9 27.2" stroke-dashoffset="-2.9"/>
<circle cx="210.1" cy="597.8" r="4.5" stroke="#e8cc40" stroke-dasharray="19.7 28.2" stroke-dashoffset="-8.1"/>
<circle cx="163.1" cy="308.4" r="5.2" stroke="#e8cc40" stroke-dasharray="20.7 32.4" stroke-dashoffset="-0.6"/>
<circle cx="103.4" cy="584.3" r="4.7" stroke="#f8f0a0" stroke-dasharray="18.9 29.3" stroke-dashoffset="-27.5"/>
<circle cx="251.8" cy="485.6" r="4.7" stroke="#d08028" stroke-dasharray="17.7 29.4" stroke-dashoffset="-19.2"/>
<circle cx="262.3" cy="392.0" r="5.2" stroke="#f8f0a0" stroke-dasharray="23.9 32.8" stroke-dashoffset="-21.0"/>
<circle cx="345.8" cy="378.9" r="4.5" stroke="#e8cc40" stroke-dasharray="14.4 28.5" stroke-dashoffset="-12.0"/>
<circle cx="83.8" cy="442.0" r="5.2" stroke="#e8cc40" stroke-dasharray="19.1 32.7" stroke-dashoffset="-22.2"/>
<circle cx="346.8" cy="519.6" r="4.4" stroke="#d08028" stroke-dasharray="12.1 27.5" stroke-dashoffset="-11.1"/>
<circle cx="279.8" cy="327.2" r="4.8" stroke="#f0e050" stroke-dasharray="17.3 30.0" stroke-dashoffset="-23.4"/>
<circle cx="306.3" cy="395.3" r="4.8" stroke="#f0e050" stroke-dasharray="21.0 30.4" stroke-dashoffset="-29.7"/>
<circle cx="188.6" cy="525.1" r="4.4" stroke="#f0e050" stroke-dasharray="15.1 27.7" stroke-dashoffset="-9.8"/>
<circle cx="66.4" cy="496.0" r="5.3" stroke="#e8cc40" stroke-dasharray="24.1 33.4" stroke-dashoffset="-1.2"/>
<circle cx="55.9" cy="473.7" r="4.8" stroke="#dca030" stroke-dasharray="18.2 30.3" stroke-dashoffset="-8.4"/>
<circle cx="216.6" cy="419.4" r="5.4" stroke="#e8cc40" stroke-dasharray="18.2 33.6" stroke-dashoffset="-12.0"/>
<circle cx="245.8" cy="605.7" r="4.3" stroke="#f0e050" stroke-dasharray="17.8 26.9" stroke-dashoffset="-25.8"/>
<circle cx="329.6" cy="484.8" r="4.3" stroke="#f0e050" stroke-dasharray="17.7 26.9" stroke-dashoffset="-17.3"/>
<circle cx="96.1" cy="560.0" r="5.3" stroke="#f8f0a0" stroke-dasharray="21.6 33.4" stroke-dashoffset="-7.5"/>
<circle cx="28.3" cy="492.7" r="4.8" stroke="#dca030" stroke-dasharray="17.9 29.9" stroke-dashoffset="-28.5"/>
<circle cx="310.7" cy="536.2" r="5.0" stroke="#f0e050" stroke-dasharray="16.1 31.2" stroke-dashoffset="-29.8"/>
<circle cx="316.8" cy="502.5" r="5.2" stroke="#e8cc40" stroke-dasharray="21.3 32.9" stroke-dashoffset="-16.2"/>
<circle cx="127.4" cy="530.8" r="5.3" stroke="#f8f0a0" stroke-dasharray="14.9 33.0" stroke-dashoffset="-17.6"/>
<circle cx="76.8" cy="485.1" r="4.7" stroke="#f8f0a0" stroke-dasharray="12.3 29.7" stroke-dashoffset="-11.4"/>
<circle cx="206.8" cy="456.3" r="4.5" stroke="#dca030" stroke-dasharray="13.4 28.4" stroke-dashoffset="-26.1"/>
<circle cx="291.4" cy="548.7" r="4.3" stroke="#e8cc40" stroke-dasharray="19.7 26.8" stroke-dashoffset="-14.6"/>
<circle cx="122.7" cy="328.5" r="4.8" stroke="#f0e050" stroke-dasharray="16.5 29.9" stroke-dashoffset="-8.3"/>
<circle cx="316.6" cy="335.4" r="4.6" stroke="#f0e050" stroke-dasharray="19.4 29.2" stroke-dashoffset="-28.4"/>
<circle cx="234.3" cy="379.5" r="4.6" stroke="#f8f0a0" stroke-dasharray="12.2 29.0" stroke-dashoffset="-24.9"/>
<circle cx="31.2" cy="304.1" r="4.9" stroke="#d08028" stroke-dasharray="15.9 30.5" stroke-dashoffset="-18.0"/>
<circle cx="200.1" cy="295.0" r="4.3" stroke="#d08028" stroke-dasharray="11.1 27.2" stroke-dashoffset="-19.5"/>
<circle cx="191.2" cy="440.5" r="4.8" stroke="#e8cc40" stroke-dasharray="14.1 29.9" stroke-dashoffset="-12.0"/>
<circle cx="321.1" cy="307.4" r="4.6" stroke="#f0e050" stroke-dasharray="20.1 28.9" stroke-dashoffset="-15.7"/>
<circle cx="110.7" cy="509.3" r="4.5" stroke="#e8cc40" stroke-dasharray="16.0 28.6" stroke-dashoffset="-26.0"/>
<circle cx="127.6" cy="301.7" r="4.8" stroke="#f0e050" stroke-dasharray="21.1 30.2" stroke-dashoffset="-10.4"/>
<circle cx="54.4" cy="370.4" r="4.5" stroke="#e8cc40" stroke-dasharray="20.2 28.0" stroke-dashoffset="-15.6"/>
<circle cx="222.0" cy="319.6" r="4.3" stroke="#f0e050" stroke-dasharray="11.5 26.8" stroke-dashoffset="-6.5"/>
<circle cx="80.9" cy="510.0" r="5.0" stroke="#f8f0a0" stroke-dasharray="13.8 31.2" stroke-dashoffset="-30.1"/>
<circle cx="253.1" cy="470.4" r="5.1" stroke="#f0e050" stroke-dasharray="14.5 32.2" stroke-dashoffset="-22.3"/>
<circle cx="290.2" cy="533.9" r="4.8" stroke="#dca030" stroke-dasharray="13.4 30.4" stroke-dashoffset="-22.1"/>
<circle cx="347.3" cy="533.9" r="4.5" stroke="#e8cc40" stroke-dasharray="13.9 28.1" stroke-dashoffset="-11.0"/>
<circle cx="107.8" cy="529.3" r="5.2" stroke="#dca030" stroke-dasharray="14.9 32.4" stroke-dashoffset="-11.5"/>
<circle cx="139.7" cy="364.6" r="4.8" stroke="#d08028" stroke-dasharray="15.2 30.3" stroke-dashoffset="-0.5"/>
<circle cx="158.8" cy="439.0" r="5.0" stroke="#f8f0a0" stroke-dasharray="20.2 31.1" stroke-dashoffset="-29.0"/>
<circle cx="326.2" cy="565.2" r="4.7" stroke="#f0e050" stroke-dasharray="15.7 29.5" stroke-dashoffset="-21.8"/>
<circle cx="346.1" cy="457.3" r="4.2" stroke="#f0e050" stroke-dasharray="19.0 26.5" stroke-dashoffset="-5.6"/>
<circle cx="30.7" cy="547.1" r="4.5" stroke="#dca030" stroke-dasharray="15.7 28.1" stroke-dashoffset="-3.1"/>
<circle cx="181.5" cy="320.5" r="4.3" stroke="#dca030" stroke-dasharray="14.0 26.8" stroke-dashoffset="-23.4"/>
<circle cx="72.7" cy="290.1" r="5.1" stroke="#f8f0a0" stroke-dasharray="16.8 31.8" stroke-dashoffset="-20.1"/>
<circle cx="51.2" cy="552.0" r="5.4" stroke="#dca030" stroke-dasharray="22.1 33.8" stroke-dashoffset="-27.7"/>
<circle cx="234.5" cy="503.0" r="4.3" stroke="#f0e050" stroke-dasharray="11.1 27.0" stroke-dashoffset="-22.3"/>
<circle cx="148.6" cy="386.5" r="4.7" stroke="#f0e050" stroke-dasharray="20.2 29.7" stroke-dashoffset="-14.6"/>
<circle cx="164.9" cy="507.8" r="4.4" stroke="#d08028" stroke-dasharray="20.4 27.5" stroke-dashoffset="-7.7"/>
<circle cx="81.7" cy="570.7" r="4.4" stroke="#f0e050" stroke-dasharray="18.2 27.7" stroke-dashoffset="-19.0"/>
<circle cx="28.5" cy="532.0" r="4.5" stroke="#d08028" stroke-dasharray="15.0 28.4" stroke-dashoffset="-20.0"/>
<circle cx="201.8" cy="559.1" r="4.9" stroke="#f8f0a0" stroke-dasharray="13.2 30.9" stroke-dashoffset="-22.2"/>
<circle cx="325.1" cy="384.1" r="5.3" stroke="#d08028" stroke-dasharray="19.7 33.1" stroke-dashoffset="-10.0"/>
<circle cx="29.3" cy="362.7" r="4.6" stroke="#f8f0a0" stroke-dasharray="14.4 29.0" stroke-dashoffset="-13.1"/>
<circle cx="198.1" cy="357.4" r="5.2" stroke="#d08028" stroke-dasharray="22.1 32.4" stroke-dashoffset="-5.7"/>
<circle cx="105.0" cy="348.1" r="4.3" stroke="#e8cc40" stroke-dasharray="14.1 26.7" stroke-dashoffset="-1.6"/>
<circle cx="222.4" cy="337.7" r="5.2" stroke="#f8f0a0" stroke-dasharray="14.9 32.8" stroke-dashoffset="-31.3"/>
<circle cx="311.7" cy="422.3" r="4.4" stroke="#f8f0a0" stroke-dasharray="19.6 27.8" stroke-dashoffset="-17.5"/>
<circle cx="51.3" cy="570.2" r="5.1" stroke="#dca030" stroke-dasharray="14.8 32.0" stroke-dashoffset="-1.2"/>
<circle cx="262.6" cy="411.3" r="5.3" stroke="#e8cc40" stroke-dasharray="24.8 33.2" stroke-dashoffset="-23.7"/>
<circle cx="217.4" cy="369.8" r="5.1" stroke="#f8f0a0" stroke-dasharray="21.3 32.4" stroke-dashoffset="-17.8"/>
<circle cx="212.3" cy="548.6" r="4.7" stroke="#d08028" stroke-dasharray="19.7 29.7" stroke-dashoffset="-7.5"/>
<circle cx="221.3" cy="350.5" r="4.9" stroke="#d08028" stroke-dasharray="19.3 30.6" stroke-dashoffset="-19.9"/>
<circle cx="220.2" cy="513.8" r="4.7" stroke="#dca030" stroke-dasharray="12.7 29.4" stroke-dashoffset="-16.9"/>
<circle cx="252.3" cy="526.5" r="5.3" stroke="#dca030" stroke-dasharray="17.1 33.6" stroke-dashoffset="-5.1"/>
<circle cx="142.7" cy="533.0" r="4.9" stroke="#f8f0a0" stroke-dasharray="12.7 30.8" stroke-dashoffset="-2.1"/>
<circle cx="317.8" cy="472.0" r="4.4" stroke="#d08028" stroke-dasharray="16.7 27.9" stroke-dashoffset="-2.7"/>
<circle cx="55.7" cy="410.1" r="4.8" stroke="#d08028" stroke-dasharray="22.4 30.4" stroke-dashoffset="-23.3"/>
<circle cx="295.8" cy="400.2" r="4.9" stroke="#dca030" stroke-dasharray="16.7 31.0" stroke-dashoffset="-7.2"/>
<circle cx="125.4" cy="487.8" r="4.7" stroke="#d08028" stroke-dasharray="17.9 29.5" stroke-dashoffset="-27.6"/>
<circle cx="28.3" cy="431.2" r="4.6" stroke="#d08028" stroke-dasharray="13.8 28.9" stroke-dashoffset="-9.5"/>
<circle cx="103.8" cy="361.8" r="5.2" stroke="#f8f0a0" stroke-dasharray="16.3 32.8" stroke-dashoffset="-29.3"/>
<circle cx="132.5" cy="447.4" r="4.4" stroke="#f8f0a0" stroke-dasharray="14.3 27.5" stroke-dashoffset="-19.7"/>
<circle cx="342.7" cy="399.5" r="5.0" stroke="#f8f0a0" stroke-dasharray="16.7 31.4" stroke-dashoffset="-24.7"/>
<circle cx="117.6" cy="468.9" r="5.1" stroke="#f0e050" stroke-dasharray="13.1 32.2" stroke-dashoffset="-30.1"/>
<circle cx="223.3" cy="559.3" r="5.0" stroke="#e8cc40" stroke-dasharray="18.0 31.4" stroke-dashoffset="-25.2"/>
<circle cx="242.9" cy="466.8" r="4.5" stroke="#e8cc40" stroke-dasharray="17.5 28.5" stroke-dashoffset="-15.9"/>
<circle cx="329.1" cy="326.2" r="4.4" stroke="#e8cc40" stroke-dasharray="15.3 27.8" stroke-dashoffset="-24.5"/>
<circle cx="81.3" cy="375.1" r="4.8" stroke="#f8f0a0" stroke-dasharray="18.2 30.1" stroke-dashoffset="-23.6"/>
<circle cx="299.9" cy="445.8" r="5.4" stroke="#dca030" stroke-dasharray="18.1 33.9" stroke-dashoffset="-2.6"/>
<circle cx="161.4" cy="545.0" r="5.2" stroke="#dca030" stroke-dasharray="22.2 32.8" stroke-dashoffset="-19.5"/>
<circle cx="205.0" cy="415.0" r="4.9" stroke="#d08028" stroke-dasharray="14.3 30.7" stroke-dashoffset="-22.5"/>
<circle cx="199.9" cy="384.0" r="5.2" stroke="#f8f0a0" stroke-dasharray="13.3 32.4" stroke-dashoffset="-5.8"/>
</g><g fill="#f8f0a0" fill-opacity="0.8">
<circle cx="42.0" cy="411.6" r="1.3"/>
<circle cx="190.5" cy="582.8" r="1.3"/>
<circle cx="61.4" cy="381.7" r="1.3"/>
<circle cx="114.1" cy="357.7" r="1.3"/>
<circle cx="118.9" cy="548.3" r="1.3"/>
<circle cx="149.7" cy="447.2" r="1.3"/>
<circle cx="34.9" cy="425.8" r="1.3"/>
<circle cx="219.7" cy="329.3" r="1.3"/>
<circle cx="33.4" cy="316.7" r="1.3"/>
<circle cx="232.8" cy="319.9" r="1.3"/>
<circle cx="212.7" cy="344.3" r="1.3"/>
<circle cx="44.6" cy="465.9" r="1.3"/>
<circle cx="138.5" cy="563.8" r="1.3"/>
<circle cx="155.9" cy="604.4" r="1.3"/>
<circle cx="166.9" cy="358.8" r="1.3"/>
<circle cx="61.0" cy="539.4" r="1.3"/>
<circle cx="36.4" cy="537.9" r="1.3"/>
<circle cx="286.4" cy="447.9" r="1.3"/>
<circle cx="255.2" cy="368.1" r="1.3"/>
<circle cx="157.2" cy="407.8" r="1.3"/>
<circle cx="241.9" cy="344.1" r="1.3"/>
<circle cx="298.0" cy="373.1" r="1.3"/>
<circle cx="43.7" cy="600.4" r="1.3"/>
<circle cx="342.9" cy="483.4" r="1.3"/>
<circle cx="94.4" cy="414.2" r="1.3"/>
<circle cx="173.0" cy="514.6" r="1.3"/>
<circle cx="256.8" cy="536.1" r="1.3"/>
<circle cx="309.2" cy="447.2" r="1.3"/>
<circle cx="196.6" cy="346.2" r="1.3"/>
<circle cx="173.3" cy="467.6" r="1.3"/>
<circle cx="152.7" cy="345.8" r="1.3"/>
<circle cx="182.7" cy="591.0" r="1.3"/>
<circle cx="195.1" cy="461.4" r="1.3"/>
<circle cx="234.1" cy="463.3" r="1.3"/>
<circle cx="219.4" cy="484.9" r="1.3"/>
<circle cx="50.7" cy="350.1" r="1.3"/>
<circle cx="102.4" cy="538.7" r="1.3"/>
<circle cx="88.7" cy="361.0" r="1.3"/>
<circle cx="178.4" cy="456.5" r="1.3"/>
<circle cx="147.0" cy="491.6" r="1.3"/>
<circle cx="103.4" cy="371.8" r="1.3"/>
<circle cx="282.9" cy="307.7" r="1.3"/>
<circle cx="108.2" cy="561.2" r="1.3"/>
<circle cx="339.1" cy="540.8" r="1.3"/>
<circle cx="316.4" cy="586.5" r="1.3"/>
<circle cx="129.2" cy="368.2" r="1.3"/>
<circle cx="220.6" cy="446.9" r="1.3"/>
<circle cx="156.2" cy="356.7" r="1.3"/>
<circle cx="157.5" cy="394.0" r="1.3"/>
<circle cx="239.3" cy="333.2" r="1.3"/>
<circle cx="228.8" cy="396.8" r="1.3"/>
<circle cx="263.3" cy="357.9" r="1.3"/>
<circle cx="132.3" cy="555.0" r="1.3"/>
<circle cx="193.4" cy="322.4" r="1.3"/>
<circle cx="79.8" cy="320.9" r="1.3"/>
<circle cx="143.4" cy="376.0" r="1.3"/>
<circle cx="130.6" cy="413.3" r="1.3"/>
<circle cx="86.8" cy="485.6" r="1.3"/>
<circle cx="305.0" cy="506.0" r="1.3"/>
<circle cx="317.3" cy="529.0" r="1.3"/>
<circle cx="325.1" cy="298.6" r="1.3"/>
<circle cx="87.4" cy="537.2" r="1.3"/>
<circle cx="241.7" cy="321.2" r="1.3"/>
<circle cx="71.1" cy="357.3" r="1.3"/>
<circle cx="202.7" cy="576.6" r="1.3"/>
<circle cx="186.2" cy="308.8" r="1.3"/>
<circle cx="336.1" cy="302.6" r="1.3"/>
<circle cx="77.5" cy="411.2" r="1.3"/>
<circle cx="85.7" cy="558.9" r="1.3"/>
<circle cx="336.5" cy="455.0" r="1.3"/>
<circle cx="37.6" cy="526.7" r="1.3"/>
<circle cx="254.9" cy="404.8" r="1.3"/>
<circle cx="191.1" cy="559.7" r="1.3"/>
<circle cx="314.4" cy="400.6" r="1.3"/>
<circle cx="289.9" cy="505.6" r="1.3"/>
<circle cx="236.2" cy="544.2" r="1.3"/>
<circle cx="37.5" cy="382.9" r="1.3"/>
<circle cx="30.6" cy="327.7" r="1.3"/>
<circle cx="223.5" cy="411.6" r="1.3"/>
<circle cx="74.5" cy="527.5" r="1.3"/>
<circle cx="180.0" cy="528.2" r="1.3"/>
<circle cx="251.9" cy="459.9" r="1.3"/>
<circle cx="335.9" cy="512.1" r="1.3"/>
<circle cx="190.8" cy="429.9" r="1.3"/>
<circle cx="79.6" cy="601.6" r="1.3"/>
<circle cx="132.0" cy="512.2" r="1.3"/>
<circle cx="319.3" cy="595.3" r="1.3"/>
<circle cx="222.8" cy="548.0" r="1.3"/>
<circle cx="171.4" cy="549.9" r="1.3"/>
<circle cx="109.3" cy="407.5" r="1.3"/>
<circle cx="159.5" cy="517.3" r="1.3"/>
<circle cx="286.0" cy="403.8" r="1.3"/>
<circle cx="324.8" cy="315.9" r="1.3"/>
<circle cx="99.5" cy="431.8" r="1.3"/>
<circle cx="290.5" cy="329.3" r="1.3"/>
<circle cx="103.3" cy="339.2" r="1.3"/>
<circle cx="256.8" cy="508.6" r="1.3"/>
<circle cx="160.6" cy="379.5" r="1.3"/>
<circle cx="144.8" cy="573.7" r="1.3"/>
<circle cx="235.2" cy="290.6" r="1.3"/>
<circle cx="266.0" cy="456.7" r="1.3"/>
<circle cx="300.3" cy="516.8" r="1.3"/>
<circle cx="167.4" cy="601.7" r="1.3"/>
<circle cx="293.0" cy="348.3" r="1.3"/>
<circle cx="84.6" cy="473.5" r="1.3"/>
<circle cx="346.9" cy="431.4" r="1.3"/>
<circle cx="135.3" cy="487.5" r="1.3"/>
<circle cx="192.1" cy="390.6" r="1.3"/>
<circle cx="41.9" cy="304.4" r="1.3"/>
<circle cx="258.6" cy="478.0" r="1.3"/>
<circle cx="46.4" cy="418.8" r="1.3"/>
<circle cx="34.0" cy="440.6" r="1.3"/>
<circle cx="77.9" cy="346.8" r="1.3"/>
<circle cx="142.2" cy="467.2" r="1.3"/>
<circle cx="67.8" cy="411.4" r="1.3"/>
<circle cx="213.5" cy="587.9" r="1.3"/>
<circle cx="321.6" cy="343.5" r="1.3"/>
<circle cx="118.7" cy="565.6" r="1.3"/>
<circle cx="29.0" cy="388.0" r="1.3"/>
<circle cx="192.1" cy="299.0" r="1.3"/>
<circle cx="292.8" cy="438.8" r="1.3"/>
<circle cx="236.0" cy="405.8" r="1.3"/>
<circle cx="198.6" cy="449.4" r="1.3"/>
<circle cx="45.0" cy="364.6" r="1.3"/>
<circle cx="37.1" cy="355.0" r="1.3"/>
<circle cx="35.9" cy="295.7" r="1.3"/>
<circle cx="178.3" cy="476.2" r="1.3"/>
<circle cx="58.0" cy="608.2" r="1.3"/>
<circle cx="325.4" cy="506.5" r="1.3"/>
<circle cx="254.0" cy="496.3" r="1.3"/>
<circle cx="311.4" cy="520.7" r="1.3"/>
<circle cx="320.4" cy="555.9" r="1.3"/>
<circle cx="58.0" cy="579.0" r="1.3"/>
<circle cx="149.6" cy="368.0" r="1.3"/>
<circle cx="140.9" cy="605.7" r="1.3"/>
<circle cx="346.0" cy="472.8" r="1.3"/>
<circle cx="116.6" cy="300.6" r="1.3"/>
<circle cx="116.0" cy="320.4" r="1.3"/>
<circle cx="167.8" cy="558.5" r="1.3"/>
<circle cx="229.5" cy="480.4" r="1.3"/>
<circle cx="229.1" cy="586.5" r="1.3"/>
<circle cx="228.6" cy="534.0" r="1.3"/>
<circle cx="133.2" cy="327.8" r="1.3"/>
<circle cx="325.6" cy="433.4" r="1.3"/>
<circle cx="162.3" cy="582.0" r="1.3"/>
<circle cx="287.5" cy="483.6" r="1.3"/>
<circle cx="329.3" cy="335.5" r="1.3"/>
<circle cx="130.8" cy="470.4" r="1.3"/>
<circle cx="161.6" cy="492.7" r="1.3"/>
<circle cx="189.8" cy="372.5" r="1.3"/>
<circle cx="291.4" cy="559.0" r="1.3"/>
<circle cx="61.5" cy="319.0" r="1.3"/>
<circle cx="70.1" cy="463.9" r="1.3"/>
<circle cx="308.6" cy="331.1" r="1.3"/>
<circle cx="294.1" cy="494.3" r="1.3"/>
<circle cx="157.1" cy="554.5" r="1.3"/>
<circle cx="345.9" cy="365.4" r="1.3"/>
<circle cx="54.4" cy="360.0" r="1.3"/>
<circle cx="79.9" cy="365.5" r="1.3"/>
<circle cx="325.4" cy="546.3" r="1.3"/>
<circle cx="302.6" cy="348.9" r="1.3"/>
<circle cx="237.7" cy="575.7" r="1.3"/>
<circle cx="258.0" cy="442.8" r="1.3"/>
<circle cx="123.1" cy="355.0" r="1.3"/>
<circle cx="304.6" cy="433.6" r="1.3"/>
<circle cx="80.5" cy="422.5" r="1.3"/>
<circle cx="291.5" cy="294.2" r="1.3"/>
<circle cx="237.9" cy="308.2" r="1.3"/>
<circle cx="189.9" cy="513.7" r="1.3"/>
<circle cx="68.1" cy="551.0" r="1.3"/>
<circle cx="278.6" cy="424.2" r="1.3"/>
<circle cx="207.4" cy="306.4" r="1.3"/>
<circle cx="114.5" cy="520.7" r="1.3"/>
<circle cx="70.2" cy="473.0" r="1.3"/>
<circle cx="206.7" cy="567.5" r="1.3"/>
<circle cx="204.3" cy="425.7" r="1.3"/>
<circle cx="138.6" cy="388.7" r="1.3"/>
<circle cx="88.1" cy="500.4" r="1.3"/>
<circle cx="273.0" cy="381.5" r="1.3"/>
<circle cx="321.0" cy="575.3" r="1.3"/>
<circle cx="113.1" cy="290.5" r="1.3"/>
<circle cx="330.3" cy="583.5" r="1.3"/>
<circle cx="293.1" cy="362.5" r="1.3"/>
<circle cx="75.4" cy="387.5" r="1.3"/>
<circle cx="125.5" cy="454.2" r="1.3"/>
<circle cx="159.1" cy="298.7" r="1.3"/>
<circle cx="66.9" cy="447.7" r="1.3"/>
<circle cx="153.1" cy="419.2" r="1.3"/>
<circle cx="41.5" cy="392.7" r="1.3"/>
<circle cx="140.8" cy="440.9" r="1.3"/>
<circle cx="74.5" cy="580.3" r="1.3"/>
<circle cx="206.2" cy="365.0" r="1.3"/>
<circle cx="103.7" cy="503.3" r="1.3"/>
<circle cx="92.1" cy="525.4" r="1.3"/>
<circle cx="343.9" cy="602.9" r="1.3"/>
<circle cx="120.3" cy="479.8" r="1.3"/>
<circle cx="124.3" cy="404.7" r="1.3"/>
<circle cx="112.0" cy="590.8" r="1.3"/>
<circle cx="315.6" cy="386.2" r="1.3"/>
<circle cx="97.7" cy="387.5" r="1.3"/>
<circle cx="231.9" cy="564.4" r="1.3"/>
<circle cx="102.5" cy="458.5" r="1.3"/>
<circle cx="281.6" cy="550.2" r="1.3"/>
<circle cx="249.6" cy="333.1" r="1.3"/>
<circle cx="77.6" cy="451.3" r="1.3"/>
<circle cx="326.4" cy="447.2" r="1.3"/>
<circle cx="223.7" cy="498.3" r="1.3"/>
<circle cx="246.0" cy="295.5" r="1.3"/>
<circle cx="268.8" cy="512.0" r="1.3"/>
<circle cx="172.4" cy="423.1" r="1.3"/>
<circle cx="189.2" cy="362.9" r="1.3"/>
<circle cx="328.3" cy="494.9" r="1.3"/>
<circle cx="228.1" cy="426.0" r="1.3"/>
<circle cx="346.8" cy="566.2" r="1.3"/>
<circle cx="86.5" cy="398.0" r="1.3"/>
<circle cx="270.4" cy="293.4" r="1.3"/>
<circle cx="198.1" cy="602.8" r="1.3"/>
<circle cx="106.7" cy="299.9" r="1.3"/>
<circle cx="95.0" cy="336.1" r="1.3"/>
<circle cx="231.8" cy="355.2" r="1.3"/>
<circle cx="31.4" cy="374.0" r="1.3"/>
<circle cx="162.1" cy="566.9" r="1.3"/>
<circle cx="196.9" cy="419.9" r="1.3"/>
<circle cx="257.6" cy="553.2" r="1.3"/>
<circle cx="44.8" cy="578.2" r="1.3"/>
<circle cx="37.6" cy="497.0" r="1.3"/>
<circle cx="91.3" cy="461.3" r="1.3"/>
<circle cx="79.5" cy="548.8" r="1.3"/>
<circle cx="70.6" cy="335.1" r="1.3"/>
<circle cx="116.5" cy="346.9" r="1.3"/>
<circle cx="244.6" cy="400.2" r="1.3"/>
<circle cx="79.7" cy="297.4" r="1.3"/>
<circle cx="315.1" cy="481.5" r="1.3"/>
<circle cx="344.1" cy="298.1" r="1.3"/>
<circle cx="165.5" cy="348.2" r="1.3"/>
<circle cx="92.6" cy="371.5" r="1.3"/>
<circle cx="207.8" cy="319.3" r="1.3"/>
<circle cx="89.8" cy="599.6" r="1.3"/>
<circle cx="59.4" cy="506.8" r="1.3"/>
<circle cx="257.7" cy="518.9" r="1.3"/>
<circle cx="210.8" cy="386.8" r="1.3"/>
<circle cx="112.7" cy="579.2" r="1.3"/>
<circle cx="47.4" cy="291.4" r="1.3"/>
<circle cx="125.8" cy="291.5" r="1.3"/>
<circle cx="268.9" cy="601.7" r="1.3"/>
<circle cx="229.6" cy="343.9" r="1.3"/>
<circle cx="108.8" cy="444.3" r="1.3"/>
<circle cx="280.0" cy="296.7" r="1.3"/>
<circle cx="72.9" cy="309.8" r="1.3"/>
<circle cx="60.5" cy="557.0" r="1.3"/>
<circle cx="295.0" cy="307.2" r="1.3"/>
<circle cx="335.7" cy="428.2" r="1.3"/>
<circle cx="319.4" cy="375.4" r="1.3"/>
<circle cx="347.3" cy="578.8" r="1.3"/>
<circle cx="136.1" cy="582.7" r="1.3"/>
<circle cx="92.8" cy="583.9" r="1.3"/>
<circle cx="268.0" cy="558.4" r="1.3"/>
<circle cx="252.4" cy="413.8" r="1.3"/>
<circle cx="184.3" cy="418.4" r="1.3"/>
<circle cx="99.3" cy="444.8" r="1.3"/>
<circle cx="172.6" cy="500.2" r="1.3"/>
<circle cx="323.7" cy="406.2" r="1.3"/>
<circle cx="95.4" cy="403.0" r="1.3"/>
<circle cx="229.9" cy="328.9" r="1.3"/>
<circle cx="31.4" cy="608.0" r="1.3"/>
<circle cx="108.2" cy="418.0" r="1.3"/>
<circle cx="134.3" cy="456.3" r="1.3"/>
<circle cx="28.2" cy="414.0" r="1.3"/>
<circle cx="212.9" cy="507.0" r="1.3"/>
<circle cx="344.4" cy="506.3" r="1.3"/>
<circle cx="286.3" cy="318.7" r="1.3"/>
<circle cx="68.4" cy="605.9" r="1.3"/>
<circle cx="209.6" cy="355.9" r="1.3"/>
<circle cx="279.5" cy="459.4" r="1.3"/>
<circle cx="295.4" cy="465.0" r="1.3"/>
<circle cx="69.9" cy="379.0" r="1.3"/>
<circle cx="47.6" cy="494.3" r="1.3"/>
<circle cx="224.2" cy="295.0" r="1.3"/>
<circle cx="172.4" cy="382.8" r="1.3"/>
<circle cx="282.4" cy="569.3" r="1.3"/>
<circle cx="53.5" cy="450.9" r="1.3"/>
<circle cx="301.3" cy="579.8" r="1.3"/>
<circle cx="170.9" cy="573.4" r="1.3"/>
<circle cx="108.7" cy="429.0" r="1.3"/>
<circle cx="249.4" cy="583.0" r="1.3"/>
<circle cx="188.5" cy="452.1" r="1.3"/>
<circle cx="157.5" cy="480.7" r="1.3"/>
<circle cx="177.5" cy="600.0" r="1.3"/>
<circle cx="41.5" cy="549.8" r="1.3"/>
<circle cx="162.7" cy="308.8" r="1.3"/>
<circle cx="250.9" cy="484.7" r="1.3"/>
<circle cx="84.6" cy="442.1" r="1.3"/>
<circle cx="346.0" cy="519.0" r="1.3"/>
<circle cx="280.4" cy="326.3" r="1.3"/>
<circle cx="216.3" cy="420.0" r="1.3"/>
<circle cx="245.5" cy="605.8" r="1.3"/>
<circle cx="97.0" cy="559.5" r="1.3"/>
<circle cx="310.2" cy="536.8" r="1.3"/>
<circle cx="316.8" cy="502.0" r="1.3"/>
<circle cx="77.6" cy="485.4" r="1.3"/>
<circle cx="122.0" cy="329.0" r="1.3"/>
<circle cx="32.1" cy="303.3" r="1.3"/>
<circle cx="127.7" cy="301.8" r="1.3"/>
<circle cx="221.6" cy="319.7" r="1.3"/>
<circle cx="252.6" cy="470.9" r="1.3"/>
<circle cx="289.9" cy="534.3" r="1.3"/>
<circle cx="346.7" cy="534.4" r="1.3"/>
<circle cx="327.0" cy="565.5" r="1.3"/>
<circle cx="346.1" cy="458.3" r="1.3"/>
<circle cx="30.3" cy="547.9" r="1.3"/>
<circle cx="72.6" cy="289.4" r="1.3"/>
<circle cx="51.8" cy="552.2" r="1.3"/>
<circle cx="235.5" cy="503.6" r="1.3"/>
<circle cx="148.8" cy="386.0" r="1.3"/>
<circle cx="165.6" cy="508.3" r="1.3"/>
<circle cx="81.2" cy="570.1" r="1.3"/>
<circle cx="198.5" cy="358.3" r="1.3"/>
<circle cx="221.9" cy="336.7" r="1.3"/>
<circle cx="312.2" cy="422.9" r="1.3"/>
<circle cx="217.8" cy="370.0" r="1.3"/>
<circle cx="212.8" cy="548.3" r="1.3"/>
<circle cx="220.0" cy="513.4" r="1.3"/>
<circle cx="253.1" cy="526.2" r="1.3"/>
<circle cx="125.2" cy="488.1" r="1.3"/>
<circle cx="103.2" cy="362.8" r="1.3"/>
<circle cx="118.1" cy="469.1" r="1.3"/>
<circle cx="81.1" cy="375.6" r="1.3"/>
<circle cx="160.4" cy="544.2" r="1.3"/>
<circle cx="204.4" cy="415.8" r="1.3"/>
<circle cx="199.8" cy="384.2" r="1.3"/>
</g>
<ellipse cx="178" cy="300" rx="12" ry="6" fill="#fff27a" fill-opacity="0.55" filter="url(#blurD)"/>
<ellipse cx="190" cy="306" rx="8" ry="5" fill="#fff27a" fill-opacity="0.55" filter="url(#blurD)"/>
<ellipse cx="280" cy="338" rx="14" ry="8" fill="#fff27a" fill-opacity="0.55" filter="url(#blurD)"/>
<ellipse cx="295" cy="350" rx="10" ry="10" fill="#fff27a" fill-opacity="0.55" filter="url(#blurD)"/>
<ellipse cx="266" cy="410" rx="13" ry="8" fill="#fff27a" fill-opacity="0.55" filter="url(#blurD)"/>
<ellipse cx="282" cy="420" rx="8" ry="6" fill="#fff27a" fill-opacity="0.55" filter="url(#blurD)"/>
<ellipse cx="193" cy="505" rx="12" ry="10" fill="#fff27a" fill-opacity="0.55" filter="url(#blurD)"/>
<ellipse cx="205" cy="520" rx="9" ry="8" fill="#fff27a" fill-opacity="0.55" filter="url(#blurD)"/>
<ellipse cx="123" cy="478" rx="9" ry="7" fill="#fff27a" fill-opacity="0.55" filter="url(#blurD)"/>
<ellipse cx="46" cy="398" rx="9" ry="5" fill="#fff27a" fill-opacity="0.55" filter="url(#blurD)"/>
<ellipse cx="136" cy="377" rx="11" ry="5" fill="#fff27a" fill-opacity="0.55" filter="url(#blurD)"/>
<ellipse cx="82" cy="590" rx="5" ry="9" fill="#fff27a" fill-opacity="0.55" filter="url(#blurD)"/>
<ellipse cx="305" cy="392" rx="7" ry="9" fill="#fff27a" fill-opacity="0.55" filter="url(#blurD)"/>
<ellipse cx="62" cy="332" rx="7" ry="5" fill="#fff27a" fill-opacity="0.55" filter="url(#blurD)"/>
<ellipse cx="232" cy="562" rx="9" ry="5" fill="#fff27a" fill-opacity="0.55" filter="url(#blurD)"/>
<ellipse cx="318" cy="470" rx="6" ry="9" fill="#fff27a" fill-opacity="0.55" filter="url(#blurD)"/>
<ellipse cx="160" cy="600" rx="8" ry="4" fill="#fff27a" fill-opacity="0.55" filter="url(#blurD)"/>
<ellipse cx="100" cy="540" rx="8" ry="5" fill="#fff27a" fill-opacity="0.55" filter="url(#blurD)"/>
</g>
<text x="243.8" y="322.9" font-size="27.7" textLength="95" lengthAdjust="spacingAndGlyphs" fill="#fff" stroke="#000" stroke-width="2.2" stroke-linejoin="round" paint-order="stroke">V-amp.</text>
<text x="282.4" y="584.3" font-size="22.4" textLength="51" lengthAdjust="spacingAndGlyphs" fill="#fff" stroke="#000" stroke-width="2" stroke-linejoin="round" paint-order="stroke">2 um</text>
<rect x="268.1" y="591.4" width="63.7" height="4.5" fill="#fff" stroke="#000" stroke-width="1.1"/>
<rect x="353.4" y="307.4" width="12.400000000000034" height="296.6" fill="url(#cbGW)" stroke="#222" stroke-width="0.8"/>
<line x1="353.4" y1="343.5" x2="365.8" y2="343.5" stroke="#1a1a1a" stroke-width="1.4" />
<line x1="353.4" y1="399.7" x2="365.8" y2="399.7" stroke="#1a1a1a" stroke-width="1.4" />
<line x1="353.4" y1="456.6" x2="365.8" y2="456.6" stroke="#1a1a1a" stroke-width="1.4" />
<line x1="353.4" y1="513.9" x2="365.8" y2="513.9" stroke="#1a1a1a" stroke-width="1.4" />
<line x1="353.4" y1="570" x2="365.8" y2="570" stroke="#1a1a1a" stroke-width="1.4" />
<text x="370.6" y="351.6" font-size="16.3" >250</text>
<text x="370.6" y="407.9" font-size="16.3" >200</text>
<text x="370.9" y="463.6" font-size="16.3" >150</text>
<text x="370.9" y="520.7" font-size="16.3" >100</text>
<text x="370.6" y="576.4" font-size="16.3" >50</text>
<text x="349.4" y="301.6" font-size="16.3" textLength="22.6" lengthAdjust="spacingAndGlyphs" >pm</text>
<g clip-path="url(#eclip)">
<rect x="447.0" y="294.0" width="310.70000000000005" height="310.0" filter="url(#fe)"/>
<circle cx="534.5" cy="385.3" r="6.1" fill="url(#ringE)"/>
<circle cx="661.3" cy="409.1" r="6.1" fill="url(#ringE)"/>
<circle cx="473.0" cy="585.7" r="6.1" fill="url(#ringE)"/>
<circle cx="692.1" cy="376.6" r="6.2" fill="url(#ringE)"/>
<circle cx="676.6" cy="557.5" r="6.2" fill="url(#ringE)"/>
<circle cx="642.0" cy="493.7" r="6.1" fill="url(#ringE)"/>
<circle cx="507.2" cy="493.5" r="6.1" fill="url(#ringE)"/>
<circle cx="583.8" cy="332.4" r="6.3" fill="url(#ringE)"/>
<circle cx="617.7" cy="538.1" r="6.2" fill="url(#ringE)"/>
<circle cx="712.9" cy="471.5" r="6.2" fill="url(#ringE)"/>
<circle cx="761.6" cy="322.5" r="6.0" fill="url(#ringE)"/>
<circle cx="506.4" cy="540.8" r="6.2" fill="url(#ringE)"/>
<circle cx="505.2" cy="574.4" r="6.5" fill="url(#ringE)"/>
<circle cx="546.0" cy="493.8" r="6.1" fill="url(#ringE)"/>
<circle cx="710.7" cy="315.3" r="6.0" fill="url(#ringE)"/>
<circle cx="565.5" cy="594.4" r="6.2" fill="url(#ringE)"/>
<circle cx="581.0" cy="300.9" r="6.0" fill="url(#ringE)"/>
<circle cx="604.4" cy="535.1" r="6.1" fill="url(#ringE)"/>
<circle cx="536.5" cy="393.5" r="6.1" fill="url(#ringE)"/>
<circle cx="480.0" cy="429.1" r="6.6" fill="url(#ringE)"/>
<circle cx="738.4" cy="411.9" r="6.4" fill="url(#ringE)"/>
<circle cx="646.6" cy="462.5" r="6.2" fill="url(#ringE)"/>
<circle cx="468.5" cy="511.6" r="6.3" fill="url(#ringE)"/>
<circle cx="465.4" cy="499.9" r="6.2" fill="url(#ringE)"/>
<circle cx="626.5" cy="352.8" r="6.3" fill="url(#ringE)"/>
<circle cx="613.5" cy="528.5" r="6.4" fill="url(#ringE)"/>
<circle cx="529.9" cy="403.5" r="6.1" fill="url(#ringE)"/>
<circle cx="703.1" cy="300.7" r="6.1" fill="url(#ringE)"/>
<circle cx="511.2" cy="563.5" r="6.6" fill="url(#ringE)"/>
<circle cx="708.9" cy="560.8" r="6.4" fill="url(#ringE)"/>
<circle cx="497.2" cy="369.6" r="6.3" fill="url(#ringE)"/>
<circle cx="504.7" cy="365.4" r="6.4" fill="url(#ringE)"/>
<circle cx="633.7" cy="321.2" r="6.1" fill="url(#ringE)"/>
<circle cx="483.8" cy="314.3" r="6.0" fill="url(#ringE)"/>
<circle cx="519.2" cy="351.7" r="6.5" fill="url(#ringE)"/>
<circle cx="541.7" cy="378.2" r="6.1" fill="url(#ringE)"/>
<circle cx="684.7" cy="464.4" r="6.3" fill="url(#ringE)"/>
<circle cx="705.0" cy="352.5" r="6.5" fill="url(#ringE)"/>
<circle cx="574.7" cy="328.4" r="6.3" fill="url(#ringE)"/>
<circle cx="691.5" cy="359.9" r="6.3" fill="url(#ringE)"/>
<circle cx="512.1" cy="500.7" r="6.3" fill="url(#ringE)"/>
<circle cx="721.3" cy="477.3" r="6.1" fill="url(#ringE)"/>
<circle cx="593.4" cy="381.6" r="6.4" fill="url(#ringE)"/>
<circle cx="554.0" cy="588.1" r="6.1" fill="url(#ringE)"/>
<circle cx="473.9" cy="500.2" r="6.4" fill="url(#ringE)"/>
<circle cx="702.9" cy="310.6" r="6.4" fill="url(#ringE)"/>
<circle cx="528.1" cy="391.2" r="6.4" fill="url(#ringE)"/>
<circle cx="521.7" cy="398.5" r="6.3" fill="url(#ringE)"/>
<circle cx="469.7" cy="458.2" r="6.0" fill="url(#ringE)"/>
<circle cx="515.6" cy="583.1" r="6.6" fill="url(#ringE)"/>
<circle cx="732.0" cy="532.7" r="6.2" fill="url(#ringE)"/>
<circle cx="694.8" cy="335.7" r="6.6" fill="url(#ringE)"/>
<circle cx="443.8" cy="346.0" r="6.2" fill="url(#ringE)"/>
<circle cx="509.6" cy="483.7" r="6.5" fill="url(#ringE)"/>
<circle cx="645.1" cy="435.3" r="6.2" fill="url(#ringE)"/>
<circle cx="698.2" cy="425.7" r="6.2" fill="url(#ringE)"/>
<circle cx="464.1" cy="585.0" r="6.1" fill="url(#ringE)"/>
<circle cx="677.8" cy="440.7" r="6.4" fill="url(#ringE)"/>
<circle cx="519.8" cy="508.2" r="6.3" fill="url(#ringE)"/>
<circle cx="689.2" cy="368.2" r="6.1" fill="url(#ringE)"/>
<circle cx="515.0" cy="544.5" r="5.9" fill="url(#ringE)"/>
<circle cx="515.8" cy="461.3" r="6.5" fill="url(#ringE)"/>
<circle cx="465.2" cy="292.5" r="5.9" fill="url(#ringE)"/>
<circle cx="580.8" cy="341.0" r="6.1" fill="url(#ringE)"/>
<circle cx="573.2" cy="304.6" r="6.1" fill="url(#ringE)"/>
<circle cx="660.4" cy="396.7" r="6.4" fill="url(#ringE)"/>
<circle cx="674.2" cy="452.0" r="6.0" fill="url(#ringE)"/>
<circle cx="469.7" cy="412.0" r="6.5" fill="url(#ringE)"/>
<circle cx="487.5" cy="304.6" r="6.5" fill="url(#ringE)"/>
<circle cx="522.7" cy="476.9" r="6.3" fill="url(#ringE)"/>
<circle cx="643.2" cy="511.4" r="6.3" fill="url(#ringE)"/>
<circle cx="746.1" cy="359.6" r="6.3" fill="url(#ringE)"/>
<circle cx="689.7" cy="413.6" r="6.3" fill="url(#ringE)"/>
<circle cx="581.2" cy="532.1" r="6.2" fill="url(#ringE)"/>
<circle cx="709.7" cy="360.5" r="6.0" fill="url(#ringE)"/>
<circle cx="563.2" cy="378.9" r="6.0" fill="url(#ringE)"/>
<circle cx="547.6" cy="599.9" r="6.3" fill="url(#ringE)"/>
<circle cx="758.8" cy="335.0" r="6.0" fill="url(#ringE)"/>
<circle cx="442.1" cy="600.7" r="6.4" fill="url(#ringE)"/>
<circle cx="703.9" cy="335.5" r="6.4" fill="url(#ringE)"/>
<circle cx="481.0" cy="555.3" r="6.5" fill="url(#ringE)"/>
<circle cx="673.9" cy="600.9" r="6.2" fill="url(#ringE)"/>
<circle cx="688.8" cy="350.7" r="6.2" fill="url(#ringE)"/>
<circle cx="623.1" cy="361.6" r="6.1" fill="url(#ringE)"/>
<circle cx="690.5" cy="386.7" r="6.2" fill="url(#ringE)"/>
<circle cx="516.9" cy="553.4" r="6.4" fill="url(#ringE)"/>
<circle cx="479.7" cy="394.7" r="6.5" fill="url(#ringE)"/>
<circle cx="722.6" cy="378.2" r="6.1" fill="url(#ringE)"/>
<circle cx="633.7" cy="490.5" r="6.5" fill="url(#ringE)"/>
<circle cx="500.8" cy="335.8" r="6.5" fill="url(#ringE)"/>
<circle cx="662.1" cy="602.4" r="6.2" fill="url(#ringE)"/>
<circle cx="640.3" cy="315.7" r="6.3" fill="url(#ringE)"/>
<circle cx="669.0" cy="443.1" r="6.6" fill="url(#ringE)"/>
<circle cx="716.1" cy="294.6" r="6.3" fill="url(#ringE)"/>
<circle cx="461.8" cy="491.8" r="6.0" fill="url(#ringE)"/>
<circle cx="570.4" cy="462.8" r="6.5" fill="url(#ringE)"/>
<circle cx="497.2" cy="380.0" r="6.2" fill="url(#ringE)"/>
<circle cx="497.2" cy="428.4" r="6.0" fill="url(#ringE)"/>
<circle cx="761.2" cy="476.1" r="6.4" fill="url(#ringE)"/>
<circle cx="444.2" cy="573.4" r="6.1" fill="url(#ringE)"/>
<circle cx="619.6" cy="453.1" r="6.5" fill="url(#ringE)"/>
<circle cx="520.5" cy="343.4" r="6.2" fill="url(#ringE)"/>
<circle cx="723.4" cy="533.9" r="6.1" fill="url(#ringE)"/>
<circle cx="602.6" cy="469.1" r="6.0" fill="url(#ringE)"/>
<circle cx="508.2" cy="373.9" r="6.4" fill="url(#ringE)"/>
<circle cx="472.1" cy="317.7" r="6.1" fill="url(#ringE)"/>
<circle cx="520.4" cy="320.2" r="6.0" fill="url(#ringE)"/>
<circle cx="698.9" cy="346.6" r="6.2" fill="url(#ringE)"/>
<circle cx="641.7" cy="481.2" r="6.4" fill="url(#ringE)"/>
<circle cx="551.3" cy="608.8" r="6.6" fill="url(#ringE)"/>
<circle cx="526.4" cy="380.9" r="6.6" fill="url(#ringE)"/>
<circle cx="730.9" cy="299.5" r="6.4" fill="url(#ringE)"/>
<circle cx="589.1" cy="393.5" r="6.5" fill="url(#ringE)"/>
<circle cx="551.7" cy="383.0" r="6.3" fill="url(#ringE)"/>
<circle cx="471.2" cy="437.0" r="6.2" fill="url(#ringE)"/>
<circle cx="477.4" cy="347.7" r="6.1" fill="url(#ringE)"/>
<circle cx="638.9" cy="502.8" r="6.6" fill="url(#ringE)"/>
<circle cx="506.0" cy="382.6" r="6.5" fill="url(#ringE)"/>
<circle cx="486.5" cy="351.9" r="5.9" fill="url(#ringE)"/>
<circle cx="669.7" cy="609.0" r="6.0" fill="url(#ringE)"/>
<circle cx="509.3" cy="508.9" r="6.5" fill="url(#ringE)"/>
<circle cx="507.0" cy="583.0" r="6.5" fill="url(#ringE)"/>
<circle cx="573.3" cy="543.3" r="6.6" fill="url(#ringE)"/>
<circle cx="665.2" cy="593.2" r="6.1" fill="url(#ringE)"/>
<circle cx="562.0" cy="407.8" r="6.2" fill="url(#ringE)"/>
<circle cx="618.8" cy="462.1" r="6.5" fill="url(#ringE)"/>
<circle cx="720.8" cy="548.1" r="6.1" fill="url(#ringE)"/>
<circle cx="480.7" cy="324.1" r="6.3" fill="url(#ringE)"/>
<circle cx="491.1" cy="361.5" r="6.0" fill="url(#ringE)"/>
<circle cx="761.4" cy="375.3" r="6.0" fill="url(#ringE)"/>
<circle cx="455.9" cy="378.9" r="6.2" fill="url(#ringE)"/>
<circle cx="626.4" cy="545.8" r="6.4" fill="url(#ringE)"/>
<circle cx="529.6" cy="465.0" r="5.9" fill="url(#ringE)"/>
<circle cx="651.4" cy="498.6" r="6.2" fill="url(#ringE)"/>
<circle cx="557.2" cy="597.0" r="6.0" fill="url(#ringE)"/>
<circle cx="579.1" cy="455.6" r="6.1" fill="url(#ringE)"/>
<circle cx="500.6" cy="488.1" r="6.5" fill="url(#ringE)"/>
<circle cx="507.2" cy="433.1" r="6.6" fill="url(#ringE)"/>
<circle cx="477.1" cy="292.9" r="6.0" fill="url(#ringE)"/>
<circle cx="554.7" cy="489.4" r="6.1" fill="url(#ringE)"/>
<circle cx="654.7" cy="447.0" r="6.0" fill="url(#ringE)"/>
<circle cx="490.6" cy="491.8" r="6.1" fill="url(#ringE)"/>
<circle cx="709.2" cy="343.1" r="6.1" fill="url(#ringE)"/>
<circle cx="497.9" cy="294.0" r="6.0" fill="url(#ringE)"/>
<circle cx="514.7" cy="472.0" r="6.3" fill="url(#ringE)"/>
<circle cx="467.7" cy="306.3" r="6.2" fill="url(#ringE)"/>
<circle cx="583.5" cy="489.7" r="6.4" fill="url(#ringE)"/>
<circle cx="717.0" cy="356.0" r="6.5" fill="url(#ringE)"/>
<circle cx="583.4" cy="522.5" r="6.6" fill="url(#ringE)"/>
<circle cx="469.3" cy="345.2" r="6.5" fill="url(#ringE)"/>
<circle cx="643.4" cy="354.8" r="5.9" fill="url(#ringE)"/>
<circle cx="727.7" cy="524.0" r="6.5" fill="url(#ringE)"/>
<circle cx="518.5" cy="432.5" r="6.0" fill="url(#ringE)"/>
<circle cx="620.4" cy="520.7" r="6.3" fill="url(#ringE)"/>
<circle cx="519.2" cy="489.4" r="6.4" fill="url(#ringE)"/>
<circle cx="561.2" cy="417.7" r="6.2" fill="url(#ringE)"/>
<circle cx="642.6" cy="363.4" r="6.5" fill="url(#ringE)"/>
<circle cx="529.9" cy="316.4" r="6.3" fill="url(#ringE)"/>
<circle cx="697.3" cy="477.1" r="6.6" fill="url(#ringE)"/>
<circle cx="652.9" cy="507.8" r="6.1" fill="url(#ringE)"/>
<circle cx="499.7" cy="509.3" r="6.3" fill="url(#ringE)"/>
<circle cx="466.4" cy="546.1" r="6.3" fill="url(#ringE)"/>
<circle cx="638.1" cy="460.3" r="6.1" fill="url(#ringE)"/>
<circle cx="488.0" cy="434.7" r="6.4" fill="url(#ringE)"/>
<circle cx="710.6" cy="540.9" r="6.6" fill="url(#ringE)"/>
<circle cx="585.2" cy="289.4" r="6.4" fill="url(#ringE)"/>
<circle cx="485.3" cy="343.5" r="6.2" fill="url(#ringE)"/>
<circle cx="625.8" cy="493.9" r="6.2" fill="url(#ringE)"/>
<circle cx="484.8" cy="476.8" r="6.1" fill="url(#ringE)"/>
<circle cx="672.9" cy="461.1" r="6.6" fill="url(#ringE)"/>
<circle cx="762.4" cy="527.5" r="6.5" fill="url(#ringE)"/>
<circle cx="751.3" cy="368.4" r="6.0" fill="url(#ringE)"/>
<circle cx="709.7" cy="448.1" r="5.9" fill="url(#ringE)"/>
<circle cx="541.4" cy="607.0" r="6.2" fill="url(#ringE)"/>
<circle cx="485.0" cy="332.6" r="6.5" fill="url(#ringE)"/>
<circle cx="469.3" cy="386.0" r="6.1" fill="url(#ringE)"/>
<circle cx="446.7" cy="380.1" r="6.4" fill="url(#ringE)"/>
<circle cx="747.5" cy="311.6" r="6.5" fill="url(#ringE)"/>
<circle cx="455.4" cy="502.0" r="6.1" fill="url(#ringE)"/>
<circle cx="598.8" cy="389.3" r="6.3" fill="url(#ringE)"/>
<circle cx="600.0" cy="544.9" r="6.3" fill="url(#ringE)"/>
<circle cx="585.7" cy="364.2" r="6.0" fill="url(#ringE)"/>
<circle cx="642.3" cy="426.8" r="6.4" fill="url(#ringE)"/>
<circle cx="732.1" cy="605.0" r="6.1" fill="url(#ringE)"/>
<circle cx="477.1" cy="301.8" r="5.9" fill="url(#ringE)"/>
<circle cx="579.6" cy="577.4" r="6.1" fill="url(#ringE)"/>
<circle cx="561.4" cy="497.9" r="6.6" fill="url(#ringE)"/>
<circle cx="445.0" cy="478.6" r="6.0" fill="url(#ringE)"/>
<circle cx="630.7" cy="607.7" r="6.1" fill="url(#ringE)"/>
<circle cx="711.6" cy="427.3" r="6.3" fill="url(#ringE)"/>
<circle cx="519.3" cy="295.7" r="6.0" fill="url(#ringE)"/>
<circle cx="694.6" cy="466.4" r="6.3" fill="url(#ringE)"/>
<circle cx="564.4" cy="295.2" r="6.4" fill="url(#ringE)"/>
<circle cx="591.2" cy="543.7" r="6.3" fill="url(#ringE)"/>
<circle cx="712.6" cy="568.8" r="6.4" fill="url(#ringE)"/>
<circle cx="468.9" cy="554.5" r="6.4" fill="url(#ringE)"/>
<circle cx="756.2" cy="533.5" r="6.4" fill="url(#ringE)"/>
<circle cx="565.4" cy="490.3" r="6.6" fill="url(#ringE)"/>
<circle cx="702.9" cy="470.0" r="6.1" fill="url(#ringE)"/>
<circle cx="449.6" cy="580.9" r="5.9" fill="url(#ringE)"/>
<circle cx="636.0" cy="471.5" r="6.1" fill="url(#ringE)"/>
<circle cx="735.1" cy="589.8" r="6.6" fill="url(#ringE)"/>
<circle cx="747.9" cy="414.4" r="6.2" fill="url(#ringE)"/>
<circle cx="739.7" cy="376.2" r="6.2" fill="url(#ringE)"/>
<circle cx="686.2" cy="336.2" r="6.3" fill="url(#ringE)"/>
<circle cx="615.5" cy="355.7" r="6.4" fill="url(#ringE)"/>
<circle cx="448.2" cy="301.2" r="5.9" fill="url(#ringE)"/>
<circle cx="654.0" cy="606.4" r="6.3" fill="url(#ringE)"/>
<circle cx="494.7" cy="544.4" r="5.9" fill="url(#ringE)"/>
<circle cx="636.6" cy="600.0" r="6.2" fill="url(#ringE)"/>
<circle cx="538.3" cy="453.0" r="5.9" fill="url(#ringE)"/>
<circle cx="607.5" cy="294.7" r="6.0" fill="url(#ringE)"/>
<circle cx="570.7" cy="289.4" r="6.3" fill="url(#ringE)"/>
<circle cx="662.7" cy="289.3" r="6.2" fill="url(#ringE)"/>
<circle cx="521.9" cy="309.8" r="6.1" fill="url(#ringE)"/>
<circle cx="444.7" cy="468.4" r="6.5" fill="url(#ringE)"/>
<circle cx="475.0" cy="488.7" r="6.0" fill="url(#ringE)"/>
<circle cx="443.5" cy="488.3" r="6.0" fill="url(#ringE)"/>
<circle cx="597.3" cy="479.1" r="6.0" fill="url(#ringE)"/>
<circle cx="593.1" cy="299.7" r="6.1" fill="url(#ringE)"/>
<circle cx="513.4" cy="289.2" r="6.2" fill="url(#ringE)"/>
<circle cx="610.1" cy="544.8" r="6.5" fill="url(#ringE)"/>
<circle cx="466.5" cy="372.9" r="6.1" fill="url(#ringE)"/>
<circle cx="467.6" cy="594.6" r="6.4" fill="url(#ringE)"/>
<circle cx="752.6" cy="424.3" r="6.4" fill="url(#ringE)"/>
<circle cx="484.5" cy="421.5" r="6.3" fill="url(#ringE)"/>
<circle cx="645.2" cy="446.2" r="6.0" fill="url(#ringE)"/>
<circle cx="720.1" cy="591.4" r="6.0" fill="url(#ringE)"/>
<circle cx="596.7" cy="399.0" r="6.5" fill="url(#ringE)"/>
<circle cx="565.6" cy="555.3" r="6.2" fill="url(#ringE)"/>
<circle cx="751.9" cy="325.7" r="6.4" fill="url(#ringE)"/>
<circle cx="599.6" cy="429.2" r="6.0" fill="url(#ringE)"/>
<circle cx="661.3" cy="383.8" r="6.6" fill="url(#ringE)"/>
<circle cx="458.6" cy="351.3" r="6.0" fill="url(#ringE)"/>
<circle cx="531.3" cy="429.5" r="6.1" fill="url(#ringE)"/>
<circle cx="647.2" cy="474.6" r="6.3" fill="url(#ringE)"/>
<circle cx="459.8" cy="387.3" r="6.5" fill="url(#ringE)"/>
<circle cx="633.2" cy="590.2" r="6.6" fill="url(#ringE)"/>
<circle cx="571.2" cy="507.0" r="6.0" fill="url(#ringE)"/>
<circle cx="717.4" cy="340.2" r="5.9" fill="url(#ringE)"/>
<circle cx="443.6" cy="330.7" r="6.1" fill="url(#ringE)"/>
<circle cx="564.5" cy="308.9" r="6.3" fill="url(#ringE)"/>
<circle cx="706.9" cy="327.6" r="6.3" fill="url(#ringE)"/>
<circle cx="608.9" cy="515.6" r="6.5" fill="url(#ringE)"/>
<circle cx="468.3" cy="397.4" r="6.5" fill="url(#ringE)"/>
<circle cx="666.6" cy="584.3" r="6.4" fill="url(#ringE)"/>
<circle cx="638.1" cy="346.0" r="6.6" fill="url(#ringE)"/>
<circle cx="500.9" cy="500.3" r="6.5" fill="url(#ringE)"/>
<circle cx="517.5" cy="335.4" r="5.9" fill="url(#ringE)"/>
<circle cx="553.2" cy="523.1" r="6.1" fill="url(#ringE)"/>
<circle cx="464.7" cy="562.8" r="5.9" fill="url(#ringE)"/>
<circle cx="699.5" cy="322.2" r="6.1" fill="url(#ringE)"/>
<circle cx="493.5" cy="419.3" r="6.3" fill="url(#ringE)"/>
<circle cx="444.1" cy="500.3" r="6.2" fill="url(#ringE)"/>
<circle cx="651.2" cy="482.3" r="6.4" fill="url(#ringE)"/>
<circle cx="592.1" cy="337.9" r="6.5" fill="url(#ringE)"/>
<circle cx="622.8" cy="529.2" r="6.3" fill="url(#ringE)"/>
<circle cx="631.0" cy="481.9" r="6.2" fill="url(#ringE)"/>
<circle cx="523.7" cy="423.6" r="6.0" fill="url(#ringE)"/>
<circle cx="700.1" cy="546.7" r="6.1" fill="url(#ringE)"/>
<circle cx="648.2" cy="307.1" r="6.5" fill="url(#ringE)"/>
<circle cx="450.7" cy="290.0" r="6.6" fill="url(#ringE)"/>
<circle cx="461.9" cy="340.0" r="6.5" fill="url(#ringE)"/>
<circle cx="446.7" cy="354.6" r="6.5" fill="url(#ringE)"/>
<circle cx="563.1" cy="455.2" r="6.4" fill="url(#ringE)"/>
<circle cx="449.1" cy="459.4" r="6.0" fill="url(#ringE)"/>
<circle cx="714.3" cy="413.4" r="6.2" fill="url(#ringE)"/>
<circle cx="732.1" cy="347.2" r="5.9" fill="url(#ringE)"/>
<circle cx="532.3" cy="421.2" r="6.5" fill="url(#ringE)"/>
<circle cx="731.4" cy="375.2" r="6.5" fill="url(#ringE)"/>
<circle cx="476.7" cy="338.6" r="6.5" fill="url(#ringE)"/>
<circle cx="512.6" cy="419.0" r="6.3" fill="url(#ringE)"/>
<circle cx="548.6" cy="444.5" r="6.1" fill="url(#ringE)"/>
<circle cx="740.6" cy="367.2" r="6.2" fill="url(#ringE)"/>
<circle cx="752.9" cy="378.4" r="5.9" fill="url(#ringE)"/>
<circle cx="665.2" cy="450.7" r="6.1" fill="url(#ringE)"/>
<circle cx="553.4" cy="578.5" r="6.4" fill="url(#ringE)"/>
<circle cx="500.1" cy="606.2" r="6.2" fill="url(#ringE)"/>
<circle cx="604.2" cy="448.2" r="6.0" fill="url(#ringE)"/>
<circle cx="594.2" cy="470.7" r="6.5" fill="url(#ringE)"/>
<circle cx="625.9" cy="600.5" r="6.2" fill="url(#ringE)"/>
<circle cx="493.3" cy="340.7" r="6.2" fill="url(#ringE)"/>
<circle cx="746.7" cy="526.5" r="6.0" fill="url(#ringE)"/>
<circle cx="493.0" cy="483.3" r="6.2" fill="url(#ringE)"/>
<circle cx="475.7" cy="420.1" r="6.6" fill="url(#ringE)"/>
<circle cx="479.2" cy="357.3" r="6.2" fill="url(#ringE)"/>
<circle cx="489.4" cy="389.6" r="6.0" fill="url(#ringE)"/>
<circle cx="676.6" cy="565.9" r="6.5" fill="url(#ringE)"/>
<circle cx="510.3" cy="591.7" r="6.4" fill="url(#ringE)"/>
<circle cx="679.9" cy="590.6" r="5.9" fill="url(#ringE)"/>
<circle cx="587.8" cy="438.6" r="5.9" fill="url(#ringE)"/>
<circle cx="487.2" cy="454.5" r="6.1" fill="url(#ringE)"/>
<circle cx="638.3" cy="451.4" r="6.2" fill="url(#ringE)"/>
<circle cx="564.2" cy="317.4" r="6.5" fill="url(#ringE)"/>
<circle cx="478.4" cy="470.9" r="5.9" fill="url(#ringE)"/>
<circle cx="701.6" cy="591.4" r="6.4" fill="url(#ringE)"/>
<circle cx="762.0" cy="363.8" r="6.2" fill="url(#ringE)"/>
<circle cx="615.8" cy="590.5" r="6.0" fill="url(#ringE)"/>
<circle cx="637.3" cy="441.2" r="6.0" fill="url(#ringE)"/>
<circle cx="684.0" cy="432.0" r="6.2" fill="url(#ringE)"/>
<circle cx="597.1" cy="291.7" r="6.0" fill="url(#ringE)"/>
<circle cx="610.6" cy="465.6" r="5.9" fill="url(#ringE)"/>
<circle cx="562.9" cy="607.4" r="6.6" fill="url(#ringE)"/>
<circle cx="700.4" cy="460.0" r="6.4" fill="url(#ringE)"/>
<circle cx="716.2" cy="401.0" r="6.4" fill="url(#ringE)"/>
<circle cx="482.1" cy="585.4" r="6.4" fill="url(#ringE)"/>
<circle cx="699.1" cy="385.3" r="6.0" fill="url(#ringE)"/>
<circle cx="710.6" cy="462.6" r="6.4" fill="url(#ringE)"/>
<circle cx="508.7" cy="332.4" r="6.1" fill="url(#ringE)"/>
<circle cx="563.1" cy="578.8" r="6.3" fill="url(#ringE)"/>
<circle cx="598.9" cy="420.0" r="6.2" fill="url(#ringE)"/>
<circle cx="547.5" cy="289.3" r="6.0" fill="url(#ringE)"/>
<circle cx="445.1" cy="591.0" r="6.5" fill="url(#ringE)"/>
<circle cx="653.1" cy="455.6" r="6.5" fill="url(#ringE)"/>
<circle cx="573.9" cy="587.1" r="6.4" fill="url(#ringE)"/>
<circle cx="495.7" cy="348.9" r="6.2" fill="url(#ringE)"/>
<circle cx="712.0" cy="550.5" r="6.0" fill="url(#ringE)"/>
<circle cx="651.8" cy="377.9" r="6.0" fill="url(#ringE)"/>
<circle cx="688.7" cy="491.6" r="5.9" fill="url(#ringE)"/>
<circle cx="495.3" cy="594.8" r="6.5" fill="url(#ringE)"/>
<circle cx="711.4" cy="589.3" r="6.6" fill="url(#ringE)"/>
<circle cx="722.7" cy="304.8" r="6.4" fill="url(#ringE)"/>
<circle cx="490.4" cy="570.3" r="6.1" fill="url(#ringE)"/>
<circle cx="700.8" cy="361.5" r="6.5" fill="url(#ringE)"/>
<circle cx="517.9" cy="574.7" r="6.6" fill="url(#ringE)"/>
<circle cx="529.7" cy="540.2" r="5.9" fill="url(#ringE)"/>
<circle cx="566.0" cy="569.4" r="6.3" fill="url(#ringE)"/>
<circle cx="594.0" cy="368.1" r="6.0" fill="url(#ringE)"/>
<circle cx="748.0" cy="491.4" r="6.2" fill="url(#ringE)"/>
<circle cx="591.4" cy="323.4" r="6.0" fill="url(#ringE)"/>
<circle cx="661.7" cy="496.0" r="6.4" fill="url(#ringE)"/>
<circle cx="576.4" cy="368.1" r="6.4" fill="url(#ringE)"/>
<circle cx="458.1" cy="444.2" r="6.4" fill="url(#ringE)"/>
<circle cx="489.7" cy="296.3" r="6.2" fill="url(#ringE)"/>
<circle cx="754.8" cy="297.9" r="6.3" fill="url(#ringE)"/>
<circle cx="625.7" cy="369.7" r="6.0" fill="url(#ringE)"/>
<circle cx="665.1" cy="435.1" r="6.6" fill="url(#ringE)"/>
<circle cx="497.4" cy="564.0" r="6.4" fill="url(#ringE)"/>
<circle cx="723.2" cy="349.9" r="6.3" fill="url(#ringE)"/>
<circle cx="576.1" cy="351.0" r="6.4" fill="url(#ringE)"/>
<circle cx="746.5" cy="592.0" r="6.5" fill="url(#ringE)"/>
<circle cx="572.6" cy="497.8" r="6.0" fill="url(#ringE)"/>
<circle cx="544.6" cy="387.6" r="6.1" fill="url(#ringE)"/>
<circle cx="510.4" cy="410.9" r="6.1" fill="url(#ringE)"/>
<circle cx="461.5" cy="463.5" r="6.1" fill="url(#ringE)"/>
<circle cx="476.1" cy="479.4" r="6.5" fill="url(#ringE)"/>
<circle cx="743.6" cy="384.2" r="6.3" fill="url(#ringE)"/>
<circle cx="608.6" cy="595.0" r="6.0" fill="url(#ringE)"/>
<circle cx="683.8" cy="553.0" r="6.2" fill="url(#ringE)"/>
<circle cx="729.9" cy="385.7" r="6.2" fill="url(#ringE)"/>
<circle cx="508.3" cy="347.8" r="6.5" fill="url(#ringE)"/>
<circle cx="632.2" cy="308.2" r="6.6" fill="url(#ringE)"/>
<circle cx="628.7" cy="450.6" r="6.4" fill="url(#ringE)"/>
<circle cx="447.3" cy="536.2" r="6.0" fill="url(#ringE)"/>
<circle cx="653.7" cy="423.3" r="6.5" fill="url(#ringE)"/>
<circle cx="633.9" cy="552.6" r="6.5" fill="url(#ringE)"/>
<circle cx="671.2" cy="496.0" r="6.2" fill="url(#ringE)"/>
<circle cx="634.9" cy="355.3" r="6.0" fill="url(#ringE)"/>
<circle cx="570.1" cy="524.6" r="6.2" fill="url(#ringE)"/>
<circle cx="616.8" cy="302.5" r="6.4" fill="url(#ringE)"/>
<circle cx="665.9" cy="469.2" r="6.4" fill="url(#ringE)"/>
<circle cx="741.1" cy="449.5" r="5.9" fill="url(#ringE)"/>
<circle cx="731.0" cy="289.6" r="6.5" fill="url(#ringE)"/>
<circle cx="529.6" cy="293.0" r="6.0" fill="url(#ringE)"/>
<circle cx="762.1" cy="543.9" r="6.2" fill="url(#ringE)"/>
<circle cx="664.8" cy="421.0" r="6.1" fill="url(#ringE)"/>
<circle cx="602.2" cy="365.0" r="6.6" fill="url(#ringE)"/>
<circle cx="528.3" cy="454.0" r="6.2" fill="url(#ringE)"/>
<circle cx="571.0" cy="409.7" r="6.0" fill="url(#ringE)"/>
<circle cx="582.5" cy="545.5" r="6.0" fill="url(#ringE)"/>
<circle cx="626.6" cy="301.3" r="5.9" fill="url(#ringE)"/>
<circle cx="452.8" cy="343.6" r="6.0" fill="url(#ringE)"/>
<circle cx="442.8" cy="308.4" r="6.4" fill="url(#ringE)"/>
<circle cx="641.6" cy="606.9" r="6.0" fill="url(#ringE)"/>
<circle cx="467.5" cy="358.3" r="6.5" fill="url(#ringE)"/>
<circle cx="620.6" cy="607.6" r="6.5" fill="url(#ringE)"/>
<circle cx="454.6" cy="480.3" r="6.2" fill="url(#ringE)"/>
<circle cx="476.4" cy="563.0" r="6.3" fill="url(#ringE)"/>
<circle cx="553.6" cy="373.2" r="6.0" fill="url(#ringE)"/>
<circle cx="448.5" cy="369.5" r="6.4" fill="url(#ringE)"/>
<circle cx="483.5" cy="595.6" r="6.4" fill="url(#ringE)"/>
<circle cx="527.5" cy="412.7" r="6.3" fill="url(#ringE)"/>
<circle cx="546.8" cy="516.9" r="6.3" fill="url(#ringE)"/>
<circle cx="457.4" cy="396.1" r="6.1" fill="url(#ringE)"/>
<circle cx="641.9" cy="383.0" r="6.0" fill="url(#ringE)"/>
<circle cx="537.6" cy="544.5" r="6.1" fill="url(#ringE)"/>
<circle cx="632.8" cy="363.7" r="6.6" fill="url(#ringE)"/>
<circle cx="673.4" cy="433.4" r="6.3" fill="url(#ringE)"/>
<circle cx="606.5" cy="357.3" r="6.4" fill="url(#ringE)"/>
<circle cx="546.2" cy="433.9" r="6.0" fill="url(#ringE)"/>
<circle cx="477.0" cy="547.0" r="6.5" fill="url(#ringE)"/>
<circle cx="504.7" cy="424.4" r="6.3" fill="url(#ringE)"/>
<circle cx="645.0" cy="555.7" r="6.2" fill="url(#ringE)"/>
<circle cx="602.5" cy="439.3" r="6.0" fill="url(#ringE)"/>
<circle cx="528.6" cy="504.4" r="5.9" fill="url(#ringE)"/>
<circle cx="688.7" cy="453.2" r="6.2" fill="url(#ringE)"/>
<circle cx="515.0" cy="440.9" r="6.1" fill="url(#ringE)"/>
<circle cx="625.9" cy="438.1" r="6.4" fill="url(#ringE)"/>
<circle cx="447.6" cy="389.0" r="6.5" fill="url(#ringE)"/>
<circle cx="649.0" cy="316.9" r="6.3" fill="url(#ringE)"/>
<circle cx="731.1" cy="451.2" r="6.6" fill="url(#ringE)"/>
<circle cx="708.6" cy="406.7" r="5.9" fill="url(#ringE)"/>
<circle cx="535.0" cy="371.9" r="6.5" fill="url(#ringE)"/>
<circle cx="653.5" cy="435.0" r="6.3" fill="url(#ringE)"/>
<circle cx="753.3" cy="547.4" r="6.6" fill="url(#ringE)"/>
<circle cx="724.8" cy="599.4" r="6.5" fill="url(#ringE)"/>
<circle cx="680.7" cy="420.3" r="6.2" fill="url(#ringE)"/>
<circle cx="660.4" cy="477.9" r="6.4" fill="url(#ringE)"/>
<circle cx="571.6" cy="516.2" r="6.1" fill="url(#ringE)"/>
<circle cx="486.0" cy="400.3" r="6.0" fill="url(#ringE)"/>
<circle cx="514.3" cy="304.8" r="6.5" fill="url(#ringE)"/>
<circle cx="630.7" cy="341.1" r="6.3" fill="url(#ringE)"/>
<circle cx="573.7" cy="378.2" r="6.2" fill="url(#ringE)"/>
<circle cx="717.3" cy="387.6" r="6.6" fill="url(#ringE)"/>
<circle cx="520.6" cy="497.9" r="6.0" fill="url(#ringE)"/>
<circle cx="628.9" cy="464.3" r="5.9" fill="url(#ringE)"/>
<circle cx="672.3" cy="414.0" r="6.2" fill="url(#ringE)"/>
<circle cx="737.1" cy="356.9" r="6.2" fill="url(#ringE)"/>
<circle cx="626.1" cy="392.3" r="6.5" fill="url(#ringE)"/>
<circle cx="592.4" cy="413.9" r="6.3" fill="url(#ringE)"/>
<circle cx="491.9" cy="553.5" r="6.0" fill="url(#ringE)"/>
<circle cx="739.6" cy="317.4" r="6.4" fill="url(#ringE)"/>
<circle cx="733.6" cy="486.3" r="6.2" fill="url(#ringE)"/>
<circle cx="739.1" cy="441.1" r="6.6" fill="url(#ringE)"/>
<circle cx="506.1" cy="356.8" r="6.1" fill="url(#ringE)"/>
<circle cx="603.2" cy="375.9" r="6.0" fill="url(#ringE)"/>
<circle cx="595.7" cy="310.6" r="6.1" fill="url(#ringE)"/>
<circle cx="587.3" cy="355.6" r="6.0" fill="url(#ringE)"/>
<circle cx="638.8" cy="562.3" r="6.3" fill="url(#ringE)"/>
<circle cx="701.7" cy="415.1" r="6.2" fill="url(#ringE)"/>
<circle cx="484.9" cy="563.4" r="6.2" fill="url(#ringE)"/>
<circle cx="450.4" cy="437.1" r="6.2" fill="url(#ringE)"/>
<circle cx="607.1" cy="384.0" r="6.4" fill="url(#ringE)"/>
<circle cx="604.9" cy="526.5" r="6.2" fill="url(#ringE)"/>
<circle cx="656.3" cy="596.0" r="5.9" fill="url(#ringE)"/>
<circle cx="613.6" cy="364.5" r="5.9" fill="url(#ringE)"/>
<circle cx="639.9" cy="304.8" r="6.0" fill="url(#ringE)"/>
<circle cx="652.1" cy="390.1" r="6.1" fill="url(#ringE)"/>
<circle cx="488.5" cy="579.6" r="6.5" fill="url(#ringE)"/>
<circle cx="624.1" cy="313.1" r="6.2" fill="url(#ringE)"/>
<circle cx="471.7" cy="365.6" r="6.2" fill="url(#ringE)"/>
<circle cx="680.3" cy="314.2" r="6.0" fill="url(#ringE)"/>
<circle cx="617.4" cy="512.4" r="5.9" fill="url(#ringE)"/>
<circle cx="761.4" cy="423.3" r="5.9" fill="url(#ringE)"/>
<circle cx="442.1" cy="558.6" r="6.1" fill="url(#ringE)"/>
<circle cx="627.5" cy="560.0" r="6.1" fill="url(#ringE)"/>
<circle cx="518.1" cy="531.8" r="6.4" fill="url(#ringE)"/>
<circle cx="494.0" cy="323.2" r="6.5" fill="url(#ringE)"/>
<circle cx="748.4" cy="475.7" r="6.2" fill="url(#ringE)"/>
<circle cx="739.8" cy="518.3" r="6.5" fill="url(#ringE)"/>
<circle cx="560.3" cy="533.0" r="6.1" fill="url(#ringE)"/>
<circle cx="761.3" cy="508.9" r="6.5" fill="url(#ringE)"/>
<circle cx="746.2" cy="569.4" r="6.2" fill="url(#ringE)"/>
<circle cx="708.0" cy="485.6" r="6.0" fill="url(#ringE)"/>
<circle cx="706.6" cy="369.1" r="6.5" fill="url(#ringE)"/>
<circle cx="481.1" cy="461.3" r="6.6" fill="url(#ringE)"/>
<circle cx="626.8" cy="584.6" r="6.2" fill="url(#ringE)"/>
<circle cx="692.0" cy="302.2" r="6.4" fill="url(#ringE)"/>
<circle cx="712.4" cy="304.6" r="6.3" fill="url(#ringE)"/>
<circle cx="460.7" cy="301.4" r="6.1" fill="url(#ringE)"/>
<circle cx="612.7" cy="578.3" r="6.1" fill="url(#ringE)"/>
<circle cx="616.4" cy="438.8" r="6.0" fill="url(#ringE)"/>
<circle cx="505.3" cy="298.0" r="6.2" fill="url(#ringE)"/>
<circle cx="496.1" cy="584.3" r="6.3" fill="url(#ringE)"/>
<circle cx="759.2" cy="386.1" r="6.1" fill="url(#ringE)"/>
<circle cx="698.8" cy="486.2" r="6.5" fill="url(#ringE)"/>
<circle cx="456.4" cy="575.8" r="6.0" fill="url(#ringE)"/>
<circle cx="518.0" cy="387.8" r="6.3" fill="url(#ringE)"/>
<circle cx="609.2" cy="426.9" r="6.2" fill="url(#ringE)"/>
<circle cx="504.6" cy="517.7" r="6.3" fill="url(#ringE)"/>
<circle cx="762.3" cy="571.8" r="6.3" fill="url(#ringE)"/>
<circle cx="458.9" cy="513.0" r="5.9" fill="url(#ringE)"/>
<circle cx="688.4" cy="323.9" r="6.1" fill="url(#ringE)"/>
<circle cx="536.5" cy="413.7" r="6.5" fill="url(#ringE)"/>
<circle cx="619.6" cy="293.0" r="6.6" fill="url(#ringE)"/>
<circle cx="756.4" cy="310.5" r="6.1" fill="url(#ringE)"/>
<circle cx="600.5" cy="411.1" r="6.5" fill="url(#ringE)"/>
<circle cx="600.2" cy="334.1" r="6.1" fill="url(#ringE)"/>
<circle cx="531.2" cy="474.3" r="6.4" fill="url(#ringE)"/>
<circle cx="462.0" cy="405.1" r="6.0" fill="url(#ringE)"/>
<circle cx="537.7" cy="535.6" r="6.1" fill="url(#ringE)"/>
<circle cx="526.7" cy="553.8" r="6.4" fill="url(#ringE)"/>
<circle cx="469.8" cy="448.5" r="6.3" fill="url(#ringE)"/>
<circle cx="714.5" cy="579.6" r="6.4" fill="url(#ringE)"/>
<circle cx="590.9" cy="456.5" r="6.3" fill="url(#ringE)"/>
<circle cx="537.5" cy="518.0" r="6.1" fill="url(#ringE)"/>
<circle cx="551.3" cy="452.5" r="6.5" fill="url(#ringE)"/>
<circle cx="722.3" cy="410.1" r="6.3" fill="url(#ringE)"/>
<circle cx="466.0" cy="419.6" r="6.1" fill="url(#ringE)"/>
<circle cx="626.7" cy="404.9" r="6.1" fill="url(#ringE)"/>
<circle cx="551.5" cy="562.2" r="6.3" fill="url(#ringE)"/>
<circle cx="683.7" cy="606.6" r="6.0" fill="url(#ringE)"/>
<circle cx="447.4" cy="449.0" r="6.5" fill="url(#ringE)"/>
<circle cx="631.7" cy="537.3" r="6.2" fill="url(#ringE)"/>
<circle cx="449.8" cy="607.8" r="6.5" fill="url(#ringE)"/>
<circle cx="523.3" cy="516.9" r="6.3" fill="url(#ringE)"/>
<circle cx="753.9" cy="503.4" r="6.1" fill="url(#ringE)"/>
<circle cx="630.9" cy="332.4" r="6.1" fill="url(#ringE)"/>
<circle cx="572.6" cy="608.0" r="6.6" fill="url(#ringE)"/>
<circle cx="542.2" cy="400.3" r="6.0" fill="url(#ringE)"/>
<circle cx="524.7" cy="587.6" r="6.3" fill="url(#ringE)"/>
<circle cx="584.5" cy="463.1" r="6.3" fill="url(#ringE)"/>
<circle cx="657.3" cy="320.7" r="6.6" fill="url(#ringE)"/>
<circle cx="566.2" cy="327.1" r="6.2" fill="url(#ringE)"/>
<circle cx="553.7" cy="306.8" r="6.0" fill="url(#ringE)"/>
<circle cx="760.6" cy="518.9" r="6.2" fill="url(#ringE)"/>
<circle cx="531.1" cy="306.3" r="6.2" fill="url(#ringE)"/>
<circle cx="607.2" cy="457.3" r="6.1" fill="url(#ringE)"/>
<circle cx="459.1" cy="535.2" r="6.3" fill="url(#ringE)"/>
<circle cx="707.8" cy="438.2" r="5.9" fill="url(#ringE)"/>
<circle cx="478.7" cy="452.2" r="5.9" fill="url(#ringE)"/>
<circle cx="651.3" cy="549.3" r="6.2" fill="url(#ringE)"/>
<circle cx="559.7" cy="338.6" r="6.5" fill="url(#ringE)"/>
<circle cx="738.0" cy="526.7" r="6.5" fill="url(#ringE)"/>
<circle cx="739.0" cy="598.0" r="6.2" fill="url(#ringE)"/>
<circle cx="600.2" cy="567.7" r="6.4" fill="url(#ringE)"/>
<circle cx="686.3" cy="440.8" r="6.2" fill="url(#ringE)"/>
<circle cx="538.2" cy="318.8" r="6.0" fill="url(#ringE)"/>
<circle cx="448.0" cy="521.3" r="6.5" fill="url(#ringE)"/>
<circle cx="732.5" cy="553.0" r="6.2" fill="url(#ringE)"/>
<circle cx="695.8" cy="537.5" r="6.6" fill="url(#ringE)"/>
<circle cx="517.1" cy="405.6" r="6.2" fill="url(#ringE)"/>
<circle cx="597.9" cy="355.8" r="6.3" fill="url(#ringE)"/>
<circle cx="640.4" cy="327.6" r="6.4" fill="url(#ringE)"/>
<circle cx="702.6" cy="291.3" r="6.1" fill="url(#ringE)"/>
<circle cx="596.4" cy="604.4" r="6.3" fill="url(#ringE)"/>
<circle cx="474.0" cy="378.8" r="6.6" fill="url(#ringE)"/>
<circle cx="562.4" cy="444.2" r="6.2" fill="url(#ringE)"/>
<circle cx="541.8" cy="297.3" r="6.0" fill="url(#ringE)"/>
<circle cx="469.5" cy="574.0" r="6.3" fill="url(#ringE)"/>
<circle cx="624.8" cy="471.7" r="6.3" fill="url(#ringE)"/>
<circle cx="457.2" cy="453.6" r="6.3" fill="url(#ringE)"/>
<circle cx="586.9" cy="307.4" r="6.6" fill="url(#ringE)"/>
<circle cx="479.6" cy="371.0" r="6.4" fill="url(#ringE)"/>
<circle cx="677.4" cy="515.1" r="6.4" fill="url(#ringE)"/>
<circle cx="470.7" cy="467.3" r="6.0" fill="url(#ringE)"/>
<circle cx="664.1" cy="459.3" r="6.0" fill="url(#ringE)"/>
<circle cx="589.2" cy="404.1" r="6.4" fill="url(#ringE)"/>
<circle cx="662.9" cy="504.8" r="6.1" fill="url(#ringE)"/>
<circle cx="727.7" cy="421.1" r="6.0" fill="url(#ringE)"/>
<circle cx="619.6" cy="413.4" r="6.4" fill="url(#ringE)"/>
<circle cx="666.9" cy="488.1" r="6.1" fill="url(#ringE)"/>
<circle cx="510.6" cy="454.5" r="6.0" fill="url(#ringE)"/>
<circle cx="742.9" cy="483.9" r="6.4" fill="url(#ringE)"/>
<circle cx="688.7" cy="423.6" r="6.1" fill="url(#ringE)"/>
<circle cx="506.1" cy="323.8" r="6.4" fill="url(#ringE)"/>
<circle cx="608.7" cy="304.9" r="6.6" fill="url(#ringE)"/>
<circle cx="704.3" cy="392.2" r="6.0" fill="url(#ringE)"/>
<circle cx="541.9" cy="508.1" r="5.9" fill="url(#ringE)"/>
<circle cx="737.6" cy="304.6" r="6.3" fill="url(#ringE)"/>
<circle cx="496.8" cy="438.0" r="6.5" fill="url(#ringE)"/>
<circle cx="635.1" cy="394.3" r="6.3" fill="url(#ringE)"/>
<circle cx="691.9" cy="310.7" r="6.3" fill="url(#ringE)"/>
<circle cx="572.9" cy="426.7" r="6.0" fill="url(#ringE)"/>
<circle cx="658.0" cy="587.6" r="6.1" fill="url(#ringE)"/>
<circle cx="557.2" cy="289.9" r="6.3" fill="url(#ringE)"/>
<circle cx="502.3" cy="416.3" r="6.4" fill="url(#ringE)"/>
<circle cx="656.0" cy="489.4" r="6.3" fill="url(#ringE)"/>
<circle cx="525.4" cy="332.4" r="6.2" fill="url(#ringE)"/>
<circle cx="451.3" cy="563.8" r="6.1" fill="url(#ringE)"/>
<circle cx="547.6" cy="481.9" r="6.4" fill="url(#ringE)"/>
<circle cx="683.2" cy="305.8" r="6.3" fill="url(#ringE)"/>
<circle cx="730.4" cy="470.0" r="6.0" fill="url(#ringE)"/>
<circle cx="592.1" cy="498.2" r="6.1" fill="url(#ringE)"/>
<circle cx="630.1" cy="568.7" r="5.9" fill="url(#ringE)"/>
<circle cx="745.0" cy="500.0" r="6.6" fill="url(#ringE)"/>
<circle cx="674.8" cy="324.4" r="6.2" fill="url(#ringE)"/>
<circle cx="579.1" cy="567.7" r="6.1" fill="url(#ringE)"/>
<circle cx="693.4" cy="526.7" r="6.3" fill="url(#ringE)"/>
<circle cx="541.1" cy="580.3" r="5.9" fill="url(#ringE)"/>
<circle cx="541.7" cy="526.9" r="6.5" fill="url(#ringE)"/>
<circle cx="534.7" cy="556.9" r="5.9" fill="url(#ringE)"/>
<circle cx="656.8" cy="356.0" r="6.1" fill="url(#ringE)"/>
<circle cx="569.2" cy="385.6" r="6.1" fill="url(#ringE)"/>
<circle cx="504.9" cy="530.8" r="6.6" fill="url(#ringE)"/>
<circle cx="540.9" cy="426.2" r="6.3" fill="url(#ringE)"/>
<circle cx="508.0" cy="391.4" r="6.0" fill="url(#ringE)"/>
<circle cx="686.1" cy="405.6" r="6.6" fill="url(#ringE)"/>
<circle cx="556.2" cy="460.3" r="6.4" fill="url(#ringE)"/>
<circle cx="654.6" cy="468.0" r="5.9" fill="url(#ringE)"/>
<circle cx="584.9" cy="608.9" r="6.6" fill="url(#ringE)"/>
<circle cx="516.3" cy="369.9" r="6.2" fill="url(#ringE)"/>
<circle cx="632.4" cy="527.6" r="6.2" fill="url(#ringE)"/>
<circle cx="488.5" cy="370.0" r="6.5" fill="url(#ringE)"/>
<circle cx="698.1" cy="561.6" r="6.5" fill="url(#ringE)"/>
<circle cx="762.5" cy="303.1" r="6.4" fill="url(#ringE)"/>
<circle cx="561.0" cy="547.8" r="6.0" fill="url(#ringE)"/>
<circle cx="580.0" cy="513.4" r="6.1" fill="url(#ringE)"/>
<circle cx="443.6" cy="420.0" r="6.3" fill="url(#ringE)"/>
<circle cx="551.9" cy="342.0" r="6.3" fill="url(#ringE)"/>
<circle cx="719.0" cy="420.6" r="6.4" fill="url(#ringE)"/>
<circle cx="620.6" cy="344.8" r="6.0" fill="url(#ringE)"/>
<circle cx="459.8" cy="608.9" r="6.4" fill="url(#ringE)"/>
<circle cx="548.6" cy="537.5" r="6.6" fill="url(#ringE)"/>
<circle cx="589.0" cy="477.6" r="6.0" fill="url(#ringE)"/>
<circle cx="514.2" cy="515.8" r="6.1" fill="url(#ringE)"/>
<circle cx="743.3" cy="559.1" r="6.1" fill="url(#ringE)"/>
</g>
<text x="667.2" y="322.5" font-size="27.7" textLength="87" lengthAdjust="spacingAndGlyphs" fill="#fff" stroke="#000" stroke-width="2.2" stroke-linejoin="round" paint-order="stroke">V-pha.</text>
<text x="700.4" y="584.8" font-size="22.4" textLength="51" lengthAdjust="spacingAndGlyphs" fill="#fff" stroke="#000" stroke-width="2" stroke-linejoin="round" paint-order="stroke">2 um</text>
<rect x="686.1" y="591" width="63.7" height="5" fill="#fff" stroke="#000" stroke-width="1.1"/>
<rect x="767.5" y="307.5" width="11.899999999999977" height="296.5" fill="url(#cbGW)" stroke="#222" stroke-width="0.8"/>
<line x1="767.5" y1="321.9" x2="779.4" y2="321.9" stroke="#1a1a1a" stroke-width="1.4" />
<line x1="767.5" y1="397" x2="779.4" y2="397" stroke="#1a1a1a" stroke-width="1.4" />
<line x1="767.5" y1="471.8" x2="779.4" y2="471.8" stroke="#1a1a1a" stroke-width="1.4" />
<line x1="767.5" y1="546.3" x2="779.4" y2="546.3" stroke="#1a1a1a" stroke-width="1.4" />
<text x="784.2" y="330.7" font-size="16.3" >100</text>
<text x="787" y="406.2" font-size="16.3" >50</text>
<text x="790" y="480.3" font-size="16.3" >0</text>
<text x="786.4" y="553.8" font-size="16.3" >-50</text>
<text x="761" y="302.8" font-size="16.3" textLength="30.4" lengthAdjust="spacingAndGlyphs" >Deg</text>
<g clip-path="url(#fclip)">
<rect x="835" y="295" width="340" height="230" filter="url(#ff)"/>
<ellipse cx="1025.1" cy="297.1" rx="9.0" ry="7.6" fill="url(#fblob)"/>
<ellipse cx="1025.1" cy="295.1" rx="5.7" ry="4.1" fill="url(#fcap)"/>
<ellipse cx="1100.6" cy="297.7" rx="8.4" ry="7.1" fill="url(#fblob)"/>
<ellipse cx="1100.6" cy="295.8" rx="5.3" ry="3.8" fill="url(#fcap)"/>
<ellipse cx="932.0" cy="296.5" rx="8.9" ry="7.5" fill="url(#fblob)"/>
<ellipse cx="932.0" cy="294.5" rx="5.7" ry="4.1" fill="url(#fcap)"/>
<ellipse cx="897.9" cy="296.3" rx="9.4" ry="8.0" fill="url(#fblob)"/>
<ellipse cx="897.9" cy="294.3" rx="6.0" ry="4.3" fill="url(#fcap)"/>
<ellipse cx="1130.9" cy="298.2" rx="8.5" ry="7.2" fill="url(#fblob)"/>
<ellipse cx="1130.9" cy="296.3" rx="5.4" ry="3.9" fill="url(#fcap)"/>
<ellipse cx="962.6" cy="297.8" rx="9.0" ry="7.6" fill="url(#fblob)"/>
<ellipse cx="962.6" cy="295.9" rx="5.8" ry="4.1" fill="url(#fcap)"/>
<ellipse cx="1116.1" cy="300.7" rx="8.6" ry="7.3" fill="url(#fblob)"/>
<ellipse cx="1116.1" cy="298.8" rx="5.5" ry="4.0" fill="url(#fcap)"/>
<ellipse cx="1010.5" cy="300.6" rx="9.1" ry="7.7" fill="url(#fblob)"/>
<ellipse cx="1010.5" cy="298.6" rx="5.8" ry="4.2" fill="url(#fcap)"/>
<ellipse cx="946.0" cy="300.1" rx="8.5" ry="7.2" fill="url(#fblob)"/>
<ellipse cx="946.0" cy="298.2" rx="5.4" ry="3.9" fill="url(#fcap)"/>
<ellipse cx="1087.2" cy="303.6" rx="9.0" ry="7.6" fill="url(#fblob)"/>
<ellipse cx="1087.2" cy="301.6" rx="5.7" ry="4.1" fill="url(#fcap)"/>
<ellipse cx="1032.3" cy="306.1" rx="9.5" ry="8.0" fill="url(#fblob)"/>
<ellipse cx="1032.3" cy="304.0" rx="6.1" ry="4.3" fill="url(#fcap)"/>
<ellipse cx="922.9" cy="306.9" rx="8.8" ry="7.4" fill="url(#fblob)"/>
<ellipse cx="922.9" cy="305.0" rx="5.6" ry="4.0" fill="url(#fcap)"/>
<ellipse cx="1049.2" cy="308.9" rx="9.0" ry="7.6" fill="url(#fblob)"/>
<ellipse cx="1049.2" cy="306.9" rx="5.8" ry="4.1" fill="url(#fcap)"/>
<ellipse cx="968.0" cy="309.0" rx="8.8" ry="7.5" fill="url(#fblob)"/>
<ellipse cx="968.0" cy="307.0" rx="5.7" ry="4.1" fill="url(#fcap)"/>
<ellipse cx="1005.7" cy="310.0" rx="8.8" ry="7.5" fill="url(#fblob)"/>
<ellipse cx="1005.7" cy="308.0" rx="5.6" ry="4.0" fill="url(#fcap)"/>
<ellipse cx="1110.5" cy="311.5" rx="9.5" ry="8.1" fill="url(#fblob)"/>
<ellipse cx="1110.5" cy="309.4" rx="6.1" ry="4.4" fill="url(#fcap)"/>
<ellipse cx="1125.6" cy="311.8" rx="9.7" ry="8.3" fill="url(#fblob)"/>
<ellipse cx="1125.6" cy="309.7" rx="6.2" ry="4.5" fill="url(#fcap)"/>
<ellipse cx="989.4" cy="311.4" rx="9.3" ry="7.9" fill="url(#fblob)"/>
<ellipse cx="989.4" cy="309.3" rx="6.0" ry="4.3" fill="url(#fcap)"/>
<ellipse cx="939.3" cy="311.7" rx="9.3" ry="7.9" fill="url(#fblob)"/>
<ellipse cx="939.3" cy="309.7" rx="5.9" ry="4.2" fill="url(#fcap)"/>
<ellipse cx="908.1" cy="311.5" rx="9.1" ry="7.7" fill="url(#fblob)"/>
<ellipse cx="908.1" cy="309.5" rx="5.8" ry="4.2" fill="url(#fcap)"/>
<ellipse cx="1089.5" cy="313.9" rx="9.0" ry="7.7" fill="url(#fblob)"/>
<ellipse cx="1089.5" cy="311.9" rx="5.8" ry="4.1" fill="url(#fcap)"/>
<ellipse cx="876.1" cy="312.8" rx="10.0" ry="8.5" fill="url(#fblob)"/>
<ellipse cx="876.1" cy="310.6" rx="6.4" ry="4.6" fill="url(#fcap)"/>
<ellipse cx="1016.5" cy="317.3" rx="9.5" ry="8.1" fill="url(#fblob)"/>
<ellipse cx="1016.5" cy="315.2" rx="6.1" ry="4.4" fill="url(#fcap)"/>
<ellipse cx="1069.5" cy="318.9" rx="9.8" ry="8.4" fill="url(#fblob)"/>
<ellipse cx="1069.5" cy="316.8" rx="6.3" ry="4.5" fill="url(#fcap)"/>
<ellipse cx="1031.1" cy="319.8" rx="9.3" ry="7.9" fill="url(#fblob)"/>
<ellipse cx="1031.1" cy="317.8" rx="6.0" ry="4.3" fill="url(#fcap)"/>
<ellipse cx="973.8" cy="319.6" rx="9.2" ry="7.8" fill="url(#fblob)"/>
<ellipse cx="973.8" cy="317.6" rx="5.9" ry="4.2" fill="url(#fcap)"/>
<ellipse cx="1053.1" cy="322.1" rx="9.0" ry="7.6" fill="url(#fblob)"/>
<ellipse cx="1053.1" cy="320.1" rx="5.8" ry="4.1" fill="url(#fcap)"/>
<ellipse cx="900.7" cy="321.2" rx="9.4" ry="8.0" fill="url(#fblob)"/>
<ellipse cx="900.7" cy="319.1" rx="6.0" ry="4.3" fill="url(#fcap)"/>
<ellipse cx="932.5" cy="322.0" rx="9.6" ry="8.2" fill="url(#fblob)"/>
<ellipse cx="932.5" cy="319.9" rx="6.2" ry="4.4" fill="url(#fcap)"/>
<ellipse cx="882.7" cy="321.6" rx="9.8" ry="8.3" fill="url(#fblob)"/>
<ellipse cx="882.7" cy="319.5" rx="6.2" ry="4.5" fill="url(#fcap)"/>
<ellipse cx="1122.0" cy="327.0" rx="10.0" ry="8.5" fill="url(#fblob)"/>
<ellipse cx="1122.0" cy="324.8" rx="6.4" ry="4.6" fill="url(#fcap)"/>
<ellipse cx="994.8" cy="327.1" rx="10.2" ry="8.7" fill="url(#fblob)"/>
<ellipse cx="994.8" cy="324.8" rx="6.5" ry="4.7" fill="url(#fcap)"/>
<ellipse cx="1011.7" cy="327.5" rx="10.5" ry="8.9" fill="url(#fblob)"/>
<ellipse cx="1011.7" cy="325.2" rx="6.7" ry="4.8" fill="url(#fcap)"/>
<ellipse cx="1098.4" cy="328.2" rx="10.4" ry="8.8" fill="url(#fblob)"/>
<ellipse cx="1098.4" cy="325.9" rx="6.6" ry="4.8" fill="url(#fcap)"/>
<ellipse cx="1138.1" cy="328.5" rx="10.2" ry="8.7" fill="url(#fblob)"/>
<ellipse cx="1138.1" cy="326.3" rx="6.5" ry="4.7" fill="url(#fcap)"/>
<ellipse cx="1064.9" cy="330.0" rx="10.4" ry="8.9" fill="url(#fblob)"/>
<ellipse cx="1064.9" cy="327.7" rx="6.7" ry="4.8" fill="url(#fcap)"/>
<ellipse cx="889.2" cy="331.5" rx="10.2" ry="8.6" fill="url(#fblob)"/>
<ellipse cx="889.2" cy="329.2" rx="6.5" ry="4.7" fill="url(#fcap)"/>
<ellipse cx="1040.6" cy="333.3" rx="10.1" ry="8.6" fill="url(#fblob)"/>
<ellipse cx="1040.6" cy="331.0" rx="6.4" ry="4.6" fill="url(#fcap)"/>
<ellipse cx="906.7" cy="332.5" rx="10.7" ry="9.1" fill="url(#fblob)"/>
<ellipse cx="906.7" cy="330.1" rx="6.9" ry="4.9" fill="url(#fcap)"/>
<ellipse cx="930.0" cy="333.0" rx="10.7" ry="9.1" fill="url(#fblob)"/>
<ellipse cx="930.0" cy="330.6" rx="6.9" ry="4.9" fill="url(#fcap)"/>
<ellipse cx="1022.9" cy="335.5" rx="10.0" ry="8.5" fill="url(#fblob)"/>
<ellipse cx="1022.9" cy="333.3" rx="6.4" ry="4.6" fill="url(#fcap)"/>
<ellipse cx="1115.1" cy="337.6" rx="10.8" ry="9.2" fill="url(#fblob)"/>
<ellipse cx="1115.1" cy="335.2" rx="6.9" ry="5.0" fill="url(#fcap)"/>
<ellipse cx="944.5" cy="338.0" rx="10.2" ry="8.7" fill="url(#fblob)"/>
<ellipse cx="944.5" cy="335.7" rx="6.5" ry="4.7" fill="url(#fcap)"/>
<ellipse cx="1097.9" cy="339.6" rx="10.7" ry="9.1" fill="url(#fblob)"/>
<ellipse cx="1097.9" cy="337.3" rx="6.9" ry="4.9" fill="url(#fcap)"/>
<ellipse cx="987.1" cy="339.8" rx="9.6" ry="8.2" fill="url(#fblob)"/>
<ellipse cx="987.1" cy="337.7" rx="6.2" ry="4.4" fill="url(#fcap)"/>
<ellipse cx="1143.3" cy="341.7" rx="10.5" ry="9.0" fill="url(#fblob)"/>
<ellipse cx="1143.3" cy="339.4" rx="6.7" ry="4.8" fill="url(#fcap)"/>
<ellipse cx="870.6" cy="340.0" rx="11.1" ry="9.4" fill="url(#fblob)"/>
<ellipse cx="870.6" cy="337.5" rx="7.1" ry="5.1" fill="url(#fcap)"/>
<ellipse cx="1006.5" cy="341.4" rx="10.3" ry="8.8" fill="url(#fblob)"/>
<ellipse cx="1006.5" cy="339.2" rx="6.6" ry="4.7" fill="url(#fcap)"/>
<ellipse cx="1128.0" cy="345.1" rx="11.1" ry="9.4" fill="url(#fblob)"/>
<ellipse cx="1128.0" cy="342.6" rx="7.1" ry="5.1" fill="url(#fcap)"/>
<ellipse cx="971.5" cy="345.7" rx="10.9" ry="9.2" fill="url(#fblob)"/>
<ellipse cx="971.5" cy="343.3" rx="7.0" ry="5.0" fill="url(#fcap)"/>
<ellipse cx="938.8" cy="348.8" rx="9.9" ry="8.4" fill="url(#fblob)"/>
<ellipse cx="938.8" cy="346.6" rx="6.4" ry="4.6" fill="url(#fcap)"/>
<ellipse cx="955.4" cy="350.8" rx="10.1" ry="8.6" fill="url(#fblob)"/>
<ellipse cx="955.4" cy="348.5" rx="6.5" ry="4.6" fill="url(#fcap)"/>
<ellipse cx="1115.2" cy="352.4" rx="10.5" ry="8.9" fill="url(#fblob)"/>
<ellipse cx="1115.2" cy="350.1" rx="6.7" ry="4.8" fill="url(#fcap)"/>
<ellipse cx="913.7" cy="351.4" rx="11.5" ry="9.8" fill="url(#fblob)"/>
<ellipse cx="913.7" cy="348.9" rx="7.4" ry="5.3" fill="url(#fcap)"/>
<ellipse cx="996.0" cy="353.1" rx="11.1" ry="9.4" fill="url(#fblob)"/>
<ellipse cx="996.0" cy="350.7" rx="7.1" ry="5.1" fill="url(#fcap)"/>
<ellipse cx="1132.3" cy="357.7" rx="11.1" ry="9.4" fill="url(#fblob)"/>
<ellipse cx="1132.3" cy="355.2" rx="7.1" ry="5.1" fill="url(#fcap)"/>
<ellipse cx="935.6" cy="360.1" rx="11.7" ry="9.9" fill="url(#fblob)"/>
<ellipse cx="935.6" cy="357.5" rx="7.5" ry="5.4" fill="url(#fcap)"/>
<ellipse cx="966.7" cy="360.4" rx="10.8" ry="9.2" fill="url(#fblob)"/>
<ellipse cx="966.7" cy="358.1" rx="6.9" ry="5.0" fill="url(#fcap)"/>
<ellipse cx="1034.9" cy="363.8" rx="10.6" ry="9.0" fill="url(#fblob)"/>
<ellipse cx="1034.9" cy="361.5" rx="6.8" ry="4.9" fill="url(#fcap)"/>
<ellipse cx="994.9" cy="364.6" rx="11.1" ry="9.5" fill="url(#fblob)"/>
<ellipse cx="994.9" cy="362.2" rx="7.1" ry="5.1" fill="url(#fcap)"/>
<ellipse cx="1011.8" cy="365.4" rx="11.9" ry="10.1" fill="url(#fblob)"/>
<ellipse cx="1011.8" cy="362.7" rx="7.6" ry="5.5" fill="url(#fcap)"/>
<ellipse cx="1105.1" cy="366.7" rx="10.7" ry="9.1" fill="url(#fblob)"/>
<ellipse cx="1105.1" cy="364.4" rx="6.9" ry="4.9" fill="url(#fcap)"/>
<ellipse cx="1124.0" cy="366.9" rx="11.3" ry="9.6" fill="url(#fblob)"/>
<ellipse cx="1124.0" cy="364.4" rx="7.2" ry="5.2" fill="url(#fcap)"/>
<ellipse cx="949.4" cy="366.1" rx="10.9" ry="9.3" fill="url(#fblob)"/>
<ellipse cx="949.4" cy="363.7" rx="7.0" ry="5.0" fill="url(#fcap)"/>
<ellipse cx="1068.7" cy="371.8" rx="11.2" ry="9.5" fill="url(#fblob)"/>
<ellipse cx="1068.7" cy="369.3" rx="7.2" ry="5.1" fill="url(#fcap)"/>
<ellipse cx="1143.2" cy="374.3" rx="10.8" ry="9.2" fill="url(#fblob)"/>
<ellipse cx="1143.2" cy="371.9" rx="6.9" ry="5.0" fill="url(#fcap)"/>
<ellipse cx="885.1" cy="375.4" rx="12.3" ry="10.5" fill="url(#fblob)"/>
<ellipse cx="885.1" cy="372.7" rx="7.9" ry="5.6" fill="url(#fcap)"/>
<ellipse cx="1052.7" cy="377.1" rx="11.2" ry="9.5" fill="url(#fblob)"/>
<ellipse cx="1052.7" cy="374.6" rx="7.2" ry="5.1" fill="url(#fcap)"/>
<ellipse cx="1015.6" cy="377.7" rx="12.1" ry="10.3" fill="url(#fblob)"/>
<ellipse cx="1015.6" cy="375.1" rx="7.8" ry="5.6" fill="url(#fcap)"/>
<ellipse cx="936.4" cy="377.5" rx="11.1" ry="9.4" fill="url(#fblob)"/>
<ellipse cx="936.4" cy="375.0" rx="7.1" ry="5.1" fill="url(#fcap)"/>
<ellipse cx="1121.1" cy="378.8" rx="11.5" ry="9.8" fill="url(#fblob)"/>
<ellipse cx="1121.1" cy="376.3" rx="7.4" ry="5.3" fill="url(#fcap)"/>
<ellipse cx="1037.6" cy="382.1" rx="10.9" ry="9.3" fill="url(#fblob)"/>
<ellipse cx="1037.6" cy="379.7" rx="7.0" ry="5.0" fill="url(#fcap)"/>
<ellipse cx="1000.3" cy="382.6" rx="12.0" ry="10.2" fill="url(#fblob)"/>
<ellipse cx="1000.3" cy="380.0" rx="7.7" ry="5.5" fill="url(#fcap)"/>
<ellipse cx="1091.9" cy="385.4" rx="11.9" ry="10.1" fill="url(#fblob)"/>
<ellipse cx="1091.9" cy="382.8" rx="7.6" ry="5.5" fill="url(#fcap)"/>
<ellipse cx="1072.2" cy="385.3" rx="11.8" ry="10.0" fill="url(#fblob)"/>
<ellipse cx="1072.2" cy="382.8" rx="7.5" ry="5.4" fill="url(#fcap)"/>
<ellipse cx="867.8" cy="385.6" rx="11.4" ry="9.7" fill="url(#fblob)"/>
<ellipse cx="867.8" cy="383.1" rx="7.3" ry="5.2" fill="url(#fcap)"/>
<ellipse cx="1112.9" cy="389.5" rx="12.2" ry="10.4" fill="url(#fblob)"/>
<ellipse cx="1112.9" cy="386.8" rx="7.8" ry="5.6" fill="url(#fcap)"/>
<ellipse cx="970.4" cy="390.2" rx="11.2" ry="9.5" fill="url(#fblob)"/>
<ellipse cx="970.4" cy="387.7" rx="7.2" ry="5.1" fill="url(#fcap)"/>
<ellipse cx="895.2" cy="390.4" rx="12.8" ry="10.9" fill="url(#fblob)"/>
<ellipse cx="895.2" cy="387.5" rx="8.2" ry="5.9" fill="url(#fcap)"/>
<ellipse cx="922.0" cy="390.8" rx="12.0" ry="10.2" fill="url(#fblob)"/>
<ellipse cx="922.0" cy="388.2" rx="7.7" ry="5.5" fill="url(#fcap)"/>
<ellipse cx="1139.9" cy="393.0" rx="12.3" ry="10.5" fill="url(#fblob)"/>
<ellipse cx="1139.9" cy="390.3" rx="7.9" ry="5.6" fill="url(#fcap)"/>
<ellipse cx="991.1" cy="394.0" rx="12.0" ry="10.2" fill="url(#fblob)"/>
<ellipse cx="991.1" cy="391.3" rx="7.7" ry="5.5" fill="url(#fcap)"/>
<ellipse cx="1057.1" cy="394.9" rx="11.3" ry="9.6" fill="url(#fblob)"/>
<ellipse cx="1057.1" cy="392.4" rx="7.2" ry="5.2" fill="url(#fcap)"/>
<ellipse cx="937.0" cy="397.2" rx="11.4" ry="9.7" fill="url(#fblob)"/>
<ellipse cx="937.0" cy="394.6" rx="7.3" ry="5.2" fill="url(#fcap)"/>
<ellipse cx="1079.6" cy="400.7" rx="12.8" ry="10.8" fill="url(#fblob)"/>
<ellipse cx="1079.6" cy="397.9" rx="8.2" ry="5.9" fill="url(#fcap)"/>
<ellipse cx="1038.9" cy="401.0" rx="12.3" ry="10.5" fill="url(#fblob)"/>
<ellipse cx="1038.9" cy="398.3" rx="7.9" ry="5.7" fill="url(#fcap)"/>
<ellipse cx="864.8" cy="400.7" rx="12.0" ry="10.2" fill="url(#fblob)"/>
<ellipse cx="864.8" cy="398.0" rx="7.7" ry="5.5" fill="url(#fcap)"/>
<ellipse cx="1118.6" cy="403.2" rx="12.5" ry="10.6" fill="url(#fblob)"/>
<ellipse cx="1118.6" cy="400.4" rx="8.0" ry="5.7" fill="url(#fcap)"/>
<ellipse cx="1153.8" cy="403.5" rx="13.1" ry="11.1" fill="url(#fblob)"/>
<ellipse cx="1153.8" cy="400.6" rx="8.4" ry="6.0" fill="url(#fcap)"/>
<ellipse cx="1097.9" cy="403.4" rx="12.4" ry="10.6" fill="url(#fblob)"/>
<ellipse cx="1097.9" cy="400.6" rx="8.0" ry="5.7" fill="url(#fcap)"/>
<ellipse cx="1019.2" cy="403.4" rx="12.5" ry="10.6" fill="url(#fblob)"/>
<ellipse cx="1019.2" cy="400.6" rx="8.0" ry="5.7" fill="url(#fcap)"/>
<ellipse cx="884.3" cy="402.9" rx="12.6" ry="10.7" fill="url(#fblob)"/>
<ellipse cx="884.3" cy="400.2" rx="8.1" ry="5.8" fill="url(#fcap)"/>
<ellipse cx="905.9" cy="403.4" rx="13.1" ry="11.2" fill="url(#fblob)"/>
<ellipse cx="905.9" cy="400.5" rx="8.4" ry="6.0" fill="url(#fcap)"/>
<ellipse cx="970.0" cy="404.0" rx="11.6" ry="9.9" fill="url(#fblob)"/>
<ellipse cx="970.0" cy="401.4" rx="7.4" ry="5.3" fill="url(#fcap)"/>
<ellipse cx="1001.3" cy="404.8" rx="12.8" ry="10.9" fill="url(#fblob)"/>
<ellipse cx="1001.3" cy="402.0" rx="8.2" ry="5.9" fill="url(#fcap)"/>
<ellipse cx="1062.4" cy="411.1" rx="12.8" ry="10.9" fill="url(#fblob)"/>
<ellipse cx="1062.4" cy="408.3" rx="8.2" ry="5.9" fill="url(#fcap)"/>
<ellipse cx="1086.6" cy="413.2" rx="13.1" ry="11.2" fill="url(#fblob)"/>
<ellipse cx="1086.6" cy="410.3" rx="8.4" ry="6.0" fill="url(#fcap)"/>
<ellipse cx="869.5" cy="413.5" rx="12.1" ry="10.3" fill="url(#fblob)"/>
<ellipse cx="869.5" cy="410.8" rx="7.8" ry="5.6" fill="url(#fcap)"/>
<ellipse cx="1042.4" cy="414.5" rx="13.4" ry="11.4" fill="url(#fblob)"/>
<ellipse cx="1042.4" cy="411.6" rx="8.6" ry="6.1" fill="url(#fcap)"/>
<ellipse cx="1135.6" cy="416.6" rx="13.4" ry="11.4" fill="url(#fblob)"/>
<ellipse cx="1135.6" cy="413.7" rx="8.6" ry="6.1" fill="url(#fcap)"/>
<ellipse cx="977.9" cy="419.5" rx="12.5" ry="10.6" fill="url(#fblob)"/>
<ellipse cx="977.9" cy="416.7" rx="8.0" ry="5.7" fill="url(#fcap)"/>
<ellipse cx="921.2" cy="419.3" rx="13.8" ry="11.7" fill="url(#fblob)"/>
<ellipse cx="921.2" cy="416.3" rx="8.8" ry="6.3" fill="url(#fcap)"/>
<ellipse cx="1027.0" cy="420.5" rx="12.1" ry="10.3" fill="url(#fblob)"/>
<ellipse cx="1027.0" cy="417.8" rx="7.7" ry="5.5" fill="url(#fcap)"/>
<ellipse cx="1120.4" cy="422.1" rx="13.1" ry="11.1" fill="url(#fblob)"/>
<ellipse cx="1120.4" cy="419.2" rx="8.4" ry="6.0" fill="url(#fcap)"/>
<ellipse cx="880.5" cy="423.1" rx="12.2" ry="10.4" fill="url(#fblob)"/>
<ellipse cx="880.5" cy="420.4" rx="7.8" ry="5.6" fill="url(#fcap)"/>
<ellipse cx="904.3" cy="425.8" rx="12.5" ry="10.6" fill="url(#fblob)"/>
<ellipse cx="904.3" cy="423.1" rx="8.0" ry="5.7" fill="url(#fcap)"/>
<ellipse cx="1057.8" cy="426.7" rx="13.4" ry="11.4" fill="url(#fblob)"/>
<ellipse cx="1057.8" cy="423.8" rx="8.6" ry="6.1" fill="url(#fcap)"/>
<ellipse cx="1104.8" cy="428.3" rx="13.5" ry="11.5" fill="url(#fblob)"/>
<ellipse cx="1104.8" cy="425.3" rx="8.7" ry="6.2" fill="url(#fcap)"/>
<ellipse cx="1078.3" cy="430.2" rx="13.2" ry="11.2" fill="url(#fblob)"/>
<ellipse cx="1078.3" cy="427.3" rx="8.4" ry="6.0" fill="url(#fcap)"/>
<ellipse cx="1153.1" cy="431.1" rx="12.7" ry="10.8" fill="url(#fblob)"/>
<ellipse cx="1153.1" cy="428.3" rx="8.1" ry="5.8" fill="url(#fcap)"/>
<ellipse cx="1005.8" cy="434.3" rx="13.4" ry="11.4" fill="url(#fblob)"/>
<ellipse cx="1005.8" cy="431.3" rx="8.6" ry="6.2" fill="url(#fcap)"/>
<ellipse cx="977.6" cy="435.7" rx="13.3" ry="11.3" fill="url(#fblob)"/>
<ellipse cx="977.6" cy="432.8" rx="8.5" ry="6.1" fill="url(#fcap)"/>
<ellipse cx="1024.3" cy="437.0" rx="13.2" ry="11.2" fill="url(#fblob)"/>
<ellipse cx="1024.3" cy="434.1" rx="8.4" ry="6.0" fill="url(#fcap)"/>
<ellipse cx="1093.8" cy="438.6" rx="13.3" ry="11.3" fill="url(#fblob)"/>
<ellipse cx="1093.8" cy="435.7" rx="8.5" ry="6.1" fill="url(#fcap)"/>
<ellipse cx="886.5" cy="439.0" rx="13.4" ry="11.4" fill="url(#fblob)"/>
<ellipse cx="886.5" cy="436.0" rx="8.6" ry="6.1" fill="url(#fcap)"/>
<ellipse cx="863.5" cy="444.4" rx="13.4" ry="11.4" fill="url(#fblob)"/>
<ellipse cx="863.5" cy="441.4" rx="8.6" ry="6.1" fill="url(#fcap)"/>
<ellipse cx="1058.1" cy="445.7" rx="12.9" ry="10.9" fill="url(#fblob)"/>
<ellipse cx="1058.1" cy="442.9" rx="8.2" ry="5.9" fill="url(#fcap)"/>
<ellipse cx="1040.3" cy="447.8" rx="13.7" ry="11.6" fill="url(#fblob)"/>
<ellipse cx="1040.3" cy="444.8" rx="8.8" ry="6.3" fill="url(#fcap)"/>
<ellipse cx="1140.2" cy="449.8" rx="13.3" ry="11.3" fill="url(#fblob)"/>
<ellipse cx="1140.2" cy="446.9" rx="8.5" ry="6.1" fill="url(#fcap)"/>
<ellipse cx="921.8" cy="448.9" rx="14.3" ry="12.2" fill="url(#fblob)"/>
<ellipse cx="921.8" cy="445.7" rx="9.2" ry="6.6" fill="url(#fcap)"/>
<ellipse cx="1158.3" cy="450.5" rx="14.7" ry="12.5" fill="url(#fblob)"/>
<ellipse cx="1158.3" cy="447.2" rx="9.4" ry="6.7" fill="url(#fcap)"/>
<ellipse cx="1107.9" cy="450.8" rx="14.3" ry="12.1" fill="url(#fblob)"/>
<ellipse cx="1107.9" cy="447.6" rx="9.1" ry="6.5" fill="url(#fcap)"/>
<ellipse cx="894.1" cy="452.3" rx="13.5" ry="11.5" fill="url(#fblob)"/>
<ellipse cx="894.1" cy="449.3" rx="8.6" ry="6.2" fill="url(#fcap)"/>
<ellipse cx="1006.0" cy="453.1" rx="13.8" ry="11.7" fill="url(#fblob)"/>
<ellipse cx="1006.0" cy="450.0" rx="8.8" ry="6.3" fill="url(#fcap)"/>
<ellipse cx="1086.5" cy="454.0" rx="14.3" ry="12.2" fill="url(#fblob)"/>
<ellipse cx="1086.5" cy="450.8" rx="9.2" ry="6.6" fill="url(#fcap)"/>
<ellipse cx="875.8" cy="454.0" rx="13.3" ry="11.3" fill="url(#fblob)"/>
<ellipse cx="875.8" cy="451.1" rx="8.5" ry="6.1" fill="url(#fcap)"/>
<ellipse cx="954.7" cy="454.8" rx="14.5" ry="12.3" fill="url(#fblob)"/>
<ellipse cx="954.7" cy="451.6" rx="9.3" ry="6.7" fill="url(#fcap)"/>
<ellipse cx="1054.5" cy="460.4" rx="13.1" ry="11.1" fill="url(#fblob)"/>
<ellipse cx="1054.5" cy="457.5" rx="8.4" ry="6.0" fill="url(#fcap)"/>
<ellipse cx="847.5" cy="460.2" rx="15.0" ry="12.8" fill="url(#fblob)"/>
<ellipse cx="847.5" cy="456.9" rx="9.6" ry="6.9" fill="url(#fcap)"/>
<ellipse cx="1127.8" cy="465.1" rx="14.3" ry="12.1" fill="url(#fblob)"/>
<ellipse cx="1127.8" cy="461.9" rx="9.1" ry="6.5" fill="url(#fcap)"/>
<ellipse cx="1109.2" cy="465.8" rx="14.7" ry="12.5" fill="url(#fblob)"/>
<ellipse cx="1109.2" cy="462.5" rx="9.4" ry="6.8" fill="url(#fcap)"/>
<ellipse cx="1020.0" cy="466.3" rx="14.4" ry="12.2" fill="url(#fblob)"/>
<ellipse cx="1020.0" cy="463.2" rx="9.2" ry="6.6" fill="url(#fcap)"/>
<ellipse cx="1165.4" cy="468.0" rx="14.9" ry="12.7" fill="url(#fblob)"/>
<ellipse cx="1165.4" cy="464.7" rx="9.6" ry="6.9" fill="url(#fcap)"/>
<ellipse cx="901.2" cy="467.3" rx="14.1" ry="11.9" fill="url(#fblob)"/>
<ellipse cx="901.2" cy="464.2" rx="9.0" ry="6.4" fill="url(#fcap)"/>
<ellipse cx="878.7" cy="468.7" rx="13.4" ry="11.4" fill="url(#fblob)"/>
<ellipse cx="878.7" cy="465.7" rx="8.6" ry="6.1" fill="url(#fcap)"/>
<ellipse cx="920.3" cy="469.8" rx="13.7" ry="11.6" fill="url(#fblob)"/>
<ellipse cx="920.3" cy="466.8" rx="8.7" ry="6.3" fill="url(#fcap)"/>
<ellipse cx="943.3" cy="471.0" rx="14.8" ry="12.6" fill="url(#fblob)"/>
<ellipse cx="943.3" cy="467.7" rx="9.5" ry="6.8" fill="url(#fcap)"/>
<ellipse cx="1075.2" cy="472.4" rx="15.3" ry="13.0" fill="url(#fblob)"/>
<ellipse cx="1075.2" cy="469.0" rx="9.8" ry="7.0" fill="url(#fcap)"/>
<ellipse cx="992.3" cy="473.4" rx="13.8" ry="11.7" fill="url(#fblob)"/>
<ellipse cx="992.3" cy="470.3" rx="8.8" ry="6.3" fill="url(#fcap)"/>
<ellipse cx="1040.1" cy="475.4" rx="14.4" ry="12.2" fill="url(#fblob)"/>
<ellipse cx="1040.1" cy="472.2" rx="9.2" ry="6.6" fill="url(#fcap)"/>
<ellipse cx="847.4" cy="476.2" rx="15.0" ry="12.8" fill="url(#fblob)"/>
<ellipse cx="847.4" cy="472.9" rx="9.6" ry="6.9" fill="url(#fcap)"/>
<ellipse cx="1146.1" cy="480.5" rx="14.1" ry="12.0" fill="url(#fblob)"/>
<ellipse cx="1146.1" cy="477.4" rx="9.0" ry="6.5" fill="url(#fcap)"/>
<ellipse cx="1059.0" cy="480.5" rx="14.0" ry="11.9" fill="url(#fblob)"/>
<ellipse cx="1059.0" cy="477.4" rx="8.9" ry="6.4" fill="url(#fcap)"/>
<ellipse cx="1125.7" cy="481.1" rx="15.1" ry="12.8" fill="url(#fblob)"/>
<ellipse cx="1125.7" cy="477.8" rx="9.7" ry="6.9" fill="url(#fcap)"/>
<ellipse cx="1089.6" cy="484.3" rx="13.8" ry="11.7" fill="url(#fblob)"/>
<ellipse cx="1089.6" cy="481.3" rx="8.8" ry="6.3" fill="url(#fcap)"/>
<ellipse cx="892.9" cy="484.0" rx="14.3" ry="12.1" fill="url(#fblob)"/>
<ellipse cx="892.9" cy="480.9" rx="9.1" ry="6.5" fill="url(#fcap)"/>
<ellipse cx="931.5" cy="485.1" rx="14.9" ry="12.6" fill="url(#fblob)"/>
<ellipse cx="931.5" cy="481.8" rx="9.5" ry="6.8" fill="url(#fcap)"/>
<ellipse cx="1108.6" cy="491.6" rx="14.8" ry="12.6" fill="url(#fblob)"/>
<ellipse cx="1108.6" cy="488.4" rx="9.5" ry="6.8" fill="url(#fcap)"/>
<ellipse cx="848.1" cy="492.2" rx="15.8" ry="13.4" fill="url(#fblob)"/>
<ellipse cx="848.1" cy="488.7" rx="10.1" ry="7.3" fill="url(#fcap)"/>
<ellipse cx="992.7" cy="495.8" rx="14.9" ry="12.6" fill="url(#fblob)"/>
<ellipse cx="992.7" cy="492.5" rx="9.5" ry="6.8" fill="url(#fcap)"/>
<ellipse cx="1140.7" cy="499.8" rx="14.8" ry="12.6" fill="url(#fblob)"/>
<ellipse cx="1140.7" cy="496.5" rx="9.5" ry="6.8" fill="url(#fcap)"/>
<ellipse cx="1023.4" cy="500.1" rx="14.3" ry="12.2" fill="url(#fblob)"/>
<ellipse cx="1023.4" cy="497.0" rx="9.2" ry="6.6" fill="url(#fcap)"/>
<ellipse cx="1050.5" cy="502.5" rx="15.8" ry="13.4" fill="url(#fblob)"/>
<ellipse cx="1050.5" cy="499.0" rx="10.1" ry="7.2" fill="url(#fcap)"/>
<ellipse cx="878.6" cy="502.4" rx="14.1" ry="12.0" fill="url(#fblob)"/>
<ellipse cx="878.6" cy="499.3" rx="9.0" ry="6.5" fill="url(#fcap)"/>
<ellipse cx="1165.4" cy="505.1" rx="14.0" ry="11.9" fill="url(#fblob)"/>
<ellipse cx="1165.4" cy="502.0" rx="9.0" ry="6.4" fill="url(#fcap)"/>
<ellipse cx="926.2" cy="505.1" rx="14.8" ry="12.6" fill="url(#fblob)"/>
<ellipse cx="926.2" cy="501.8" rx="9.5" ry="6.8" fill="url(#fcap)"/>
<ellipse cx="1092.3" cy="506.1" rx="15.8" ry="13.4" fill="url(#fblob)"/>
<ellipse cx="1092.3" cy="502.6" rx="10.1" ry="7.3" fill="url(#fcap)"/>
<ellipse cx="859.2" cy="508.9" rx="14.7" ry="12.5" fill="url(#fblob)"/>
<ellipse cx="859.2" cy="505.7" rx="9.4" ry="6.7" fill="url(#fcap)"/>
<ellipse cx="990.6" cy="513.2" rx="15.2" ry="12.9" fill="url(#fblob)"/>
<ellipse cx="990.6" cy="509.8" rx="9.7" ry="7.0" fill="url(#fcap)"/>
<ellipse cx="951.2" cy="513.3" rx="14.4" ry="12.2" fill="url(#fblob)"/>
<ellipse cx="951.2" cy="510.1" rx="9.2" ry="6.6" fill="url(#fcap)"/>
<ellipse cx="1025.1" cy="517.4" rx="14.9" ry="12.7" fill="url(#fblob)"/>
<ellipse cx="1025.1" cy="514.1" rx="9.5" ry="6.8" fill="url(#fcap)"/>
<ellipse cx="887.6" cy="518.2" rx="16.4" ry="14.0" fill="url(#fblob)"/>
<ellipse cx="887.6" cy="514.6" rx="10.5" ry="7.5" fill="url(#fcap)"/>
<ellipse cx="1081.4" cy="519.9" rx="16.3" ry="13.8" fill="url(#fblob)"/>
<ellipse cx="1081.4" cy="516.3" rx="10.4" ry="7.5" fill="url(#fcap)"/>
<ellipse cx="1128.5" cy="520.4" rx="14.5" ry="12.4" fill="url(#fblob)"/>
<ellipse cx="1128.5" cy="517.2" rx="9.3" ry="6.7" fill="url(#fcap)"/>
<ellipse cx="969.7" cy="521.3" rx="16.5" ry="14.1" fill="url(#fblob)"/>
<ellipse cx="969.7" cy="517.7" rx="10.6" ry="7.6" fill="url(#fcap)"/>
<ellipse cx="919.7" cy="522.1" rx="15.4" ry="13.1" fill="url(#fblob)"/>
<ellipse cx="919.7" cy="518.7" rx="9.9" ry="7.1" fill="url(#fcap)"/>
<ellipse cx="837.6" cy="522.2" rx="14.7" ry="12.5" fill="url(#fblob)"/>
<ellipse cx="837.6" cy="518.9" rx="9.4" ry="6.7" fill="url(#fcap)"/>
<ellipse cx="1166.6" cy="523.4" rx="15.2" ry="12.9" fill="url(#fblob)"/>
<ellipse cx="1166.6" cy="520.0" rx="9.7" ry="7.0" fill="url(#fcap)"/>
<ellipse cx="867.0" cy="524.1" rx="16.6" ry="14.1" fill="url(#fblob)"/>
<ellipse cx="867.0" cy="520.4" rx="10.6" ry="7.6" fill="url(#fcap)"/>
<ellipse cx="1005.8" cy="524.9" rx="14.8" ry="12.6" fill="url(#fblob)"/>
<ellipse cx="1005.8" cy="521.6" rx="9.5" ry="6.8" fill="url(#fcap)"/>
<ellipse cx="1059.0" cy="525.2" rx="16.2" ry="13.7" fill="url(#fblob)"/>
<ellipse cx="1059.0" cy="521.6" rx="10.3" ry="7.4" fill="url(#fcap)"/>
</g>
<line x1="837.4" y1="522.8" x2="1170.4" y2="522.8" stroke="#a8a8a8" stroke-width="1.5" />
<line x1="844" y1="516" x2="841.5" y2="530" stroke="#909090" stroke-width="1.2" />
<text x="846.3" y="545.5" font-size="14" text-anchor="middle" >0</text>
<line x1="908.2" y1="516" x2="907.2" y2="530" stroke="#909090" stroke-width="1.2" />
<text x="910.5" y="545.5" font-size="14" text-anchor="middle" >1</text>
<line x1="972.4" y1="516" x2="972.4" y2="530" stroke="#909090" stroke-width="1.2" />
<text x="974.7" y="545.5" font-size="14" text-anchor="middle" >2</text>
<line x1="1036.6" y1="516" x2="1036.6" y2="530" stroke="#909090" stroke-width="1.2" />
<text x="1038.9" y="545.5" font-size="14" text-anchor="middle" >3</text>
<line x1="1100.8" y1="516" x2="1100.8" y2="530" stroke="#909090" stroke-width="1.2" />
<text x="1103.1" y="545.5" font-size="14" text-anchor="middle" >4</text>
<line x1="1165" y1="516" x2="1165" y2="530" stroke="#909090" stroke-width="1.2" />
<text x="1164.8" y="545.5" font-size="14" >5 um</text>
<text x="840.7" y="474" font-size="14" >1</text>
<text x="852.1" y="425.3" font-size="14" >2</text>
<text x="856.7" y="383.5" font-size="14" >3</text>
<text x="866" y="346.4" font-size="14" >4</text>
<text x="872.4" y="311.5" font-size="14" >5</text>
<line x1="846" y1="469.5" x2="851" y2="469.5" stroke="#a0a0a0" stroke-width="1" />
<line x1="855.5" y1="420" x2="860.5" y2="420" stroke="#a0a0a0" stroke-width="1" />
<line x1="864" y1="375.9" x2="869" y2="375.9" stroke="#a0a0a0" stroke-width="1" />
<line x1="874" y1="338" x2="879" y2="338" stroke="#a0a0a0" stroke-width="1" />
<line x1="882.3" y1="304" x2="887.3" y2="304" stroke="#a0a0a0" stroke-width="1" />
<text x="870.5" y="294.2" font-size="14" >um</text>
<rect x="841.4" y="590.7" width="322.8" height="13.5" fill="url(#cbINF)" stroke="#888" stroke-width="0.8"/>
<line x1="842" y1="585.8" x2="842" y2="590.7" stroke="#111" stroke-width="1.5" />
<text x="839.5" y="583.3" font-size="16.5" text-anchor="middle" >-65</text>
<line x1="924" y1="585.8" x2="924" y2="590.7" stroke="#111" stroke-width="1.5" />
<text x="924" y="583.3" font-size="16.5" text-anchor="middle" >0</text>
<line x1="1003.7" y1="585.8" x2="1003.7" y2="590.7" stroke="#111" stroke-width="1.5" />
<text x="1003.7" y="583.3" font-size="16.5" text-anchor="middle" >65</text>
<line x1="1084.7" y1="585.8" x2="1084.7" y2="590.7" stroke="#111" stroke-width="1.5" />
<text x="1084.7" y="583.3" font-size="16.5" text-anchor="middle" >130</text>
<line x1="1164.2" y1="585.8" x2="1164.2" y2="590.7" stroke="#111" stroke-width="1.5" />
<text x="1162.2" y="583.3" font-size="16.5" text-anchor="middle" >195</text>
<line x1="1164.2" y1="590" x2="1164.2" y2="605" stroke="#111" stroke-width="1.5" />
<text x="1170.6" y="603.5" font-size="15.5" >Deg</text>
<g clip-path="url(#gclip)">
<polygon points="89.0,645.9 168.0,648.5 185.0,646.6 284.0,648.7 292.0,685.0 300.5,720.8 308.8,753.8 317.0,784.0 325.3,808.8 334.9,839.0 295.0,840.4 240.0,841.8 185.0,843.2 143.8,841.8 102.5,837.6 61.3,832.1 32.4,827.5 47.5,795.0 61.3,762.0 72.3,726.3 79.1,690.5 89.0,645.9" fill="#ff0000"/>
<polyline points="89,646.5 168,649 185,647 284,649.3" fill="none" stroke="#a00000" stroke-width="3"/>
<ellipse cx="75" cy="700" rx="14" ry="18" fill="url(#gdred2)" opacity="0.5"/>
<ellipse cx="143" cy="826" rx="32" ry="12" fill="url(#gdred)" opacity="0.85"/>
<ellipse cx="300" cy="690" rx="14" ry="20" fill="url(#gdred2)" opacity="0.35"/>
<ellipse cx="268" cy="668" rx="22" ry="14" fill="url(#gdred2)" opacity="0.45"/>
<ellipse cx="100" cy="665" rx="18" ry="12" fill="url(#gdred2)" opacity="0.35"/>
<polygon points="113.0,670.0 120.0,666.0 140.0,663.6 168.0,662.0 190.0,663.6 220.0,665.0 230.0,668.0 240.0,674.0 252.0,684.0 262.0,694.0 275.8,712.5 289.5,734.5 297.8,753.8 295.0,767.5 284.0,784.0 267.5,800.5 240.0,817.0 212.5,828.0 185.0,830.8 157.5,828.0 138.3,819.8 116.3,800.5 102.5,784.0 91.5,767.5 83.3,745.5 79.1,723.5 79.1,715.3 86.0,701.5 92.0,690.0 100.0,686.0 112.0,682.0" fill="#0000ff"/>
<g clip-path="url(#gbclip)"><ellipse cx="150" cy="775" rx="70" ry="45" fill="url(#gnavy)" opacity="0.5"/><ellipse cx="210" cy="785" rx="112" ry="58" fill="url(#gnavy)"/><ellipse cx="225" cy="800" rx="60" ry="32" fill="url(#gnavy)" opacity="0.7"/></g>
<polygon points="146.0,686.0 144.0,692.0 140.0,700.0 136.0,712.0 130.0,720.0 120.0,728.0 114.0,736.0 114.0,742.0 126.0,744.0 140.0,746.0 152.0,740.0 168.0,738.0 180.0,746.0 200.0,744.0 220.0,740.0 236.0,732.0 244.0,720.0 252.0,710.0 260.0,704.0 266.0,700.0 260.0,698.0 236.0,696.0 230.0,688.0 216.0,686.0 200.0,684.0 190.0,680.0 172.0,674.0 160.0,675.0 144.0,678.0" fill="#ff0000"/>
<ellipse cx="180" cy="708" rx="46" ry="18" fill="url(#gdred)"/>
<ellipse cx="210" cy="712" rx="18" ry="9" fill="url(#gdred2)" opacity="0.6"/>
<polygon points="164.0,652.0 176.0,651.0 182.0,660.0 172.0,657.0" fill="#0000ff"/>
<polygon points="254.0,675.0 262.0,674.5 267.0,679.0 256.0,680.0" fill="#0000ff"/>
<polygon points="61.3,783.0 70.0,782.6 75.0,788.0 64.0,789.5" fill="#0000ff"/>
<polygon points="32.4,827.5 40.6,817.0 47.5,815.6 53.0,822.5 58.5,829.0" fill="#0000ff"/>
<polygon points="320.0,830.0 328.0,827.0 336.0,839.0 322.0,839.0" fill="#0000ff"/>
</g>
<line x1="114.9" y1="832.1" x2="230.4" y2="654.2" stroke="#fff200" stroke-width="4.4" />
<text x="255" y="829.4" font-size="22" textLength="76" lengthAdjust="spacingAndGlyphs" fill="#fff" stroke="#000" stroke-width="2" stroke-linejoin="round" paint-order="stroke">100 nm</text>
<rect x="270.2" y="834.5" width="58.8" height="5" fill="#fff" stroke="#000" stroke-width="0.6"/>
<rect x="31.9" y="864.2" width="278.5" height="11" fill="url(#cbBWR)" stroke="#777" stroke-width="0.8"/>
<line x1="31.9" y1="860.3" x2="31.9" y2="866" stroke="#444" stroke-width="1.2" />
<text x="32.7" y="858.2" font-size="16" text-anchor="middle" >0</text>
<line x1="101.6" y1="860.3" x2="101.6" y2="866" stroke="#444" stroke-width="1.2" />
<text x="101.6" y="858.2" font-size="16" text-anchor="middle" >45</text>
<line x1="170.1" y1="860.3" x2="170.1" y2="866" stroke="#444" stroke-width="1.2" />
<text x="170.1" y="858.2" font-size="16" text-anchor="middle" >90</text>
<line x1="239.5" y1="860.3" x2="239.5" y2="866" stroke="#444" stroke-width="1.2" />
<text x="239.5" y="858.2" font-size="16" text-anchor="middle" >135</text>
<line x1="310.4" y1="860.3" x2="310.4" y2="866" stroke="#444" stroke-width="1.2" />
<text x="310.4" y="858.2" font-size="16" text-anchor="middle" >180</text>
<text x="317.5" y="874.7" font-size="16" >Deg</text>
<polyline points="489.9,821.8 495.7,822.9 501.2,824.8 506.8,825.9 512.3,825.2 517.9,822.9 523.4,817.4 528.7,809.7 534.0,800.5 539.6,778.8 544.9,755.5 550.4,740.7 555.8,731.9 561.1,726.8 566.6,722.7 572.1,721.3 577.2,715.8 583.0,698.9 588.1,678.8 593.4,663.6 598.9,661.5 604.5,667.7 610.0,678.6 615.3,688.5 620.9,700.0 626.2,716.8 631.3,727.4 636.6,732.9 641.7,732.0 647.3,730.6 653.0,729.2 658.6,732.4 663.9,739.8 669.0,750.5 674.5,769.9 679.9,797.2 685.4,827.2 690.9,841.1 696.3,831.8 701.6,826.7 707.1,821.0 712.4,815.6 717.5,812.4 723.1,809.9 728.4,808.0 733.9,807.1 739.5,806.4" fill="none" stroke="#ff0000" stroke-width="1.6" stroke-dasharray="7,2.5"/>
<rect x="486.6" y="818.5" width="6.6" height="6.6" fill="#ff0000" stroke="#3a0000" stroke-width="0.8"/>
<rect x="492.4" y="819.6" width="6.6" height="6.6" fill="#ff0000" stroke="#3a0000" stroke-width="0.8"/>
<rect x="497.9" y="821.5" width="6.6" height="6.6" fill="#ff0000" stroke="#3a0000" stroke-width="0.8"/>
<rect x="503.5" y="822.6" width="6.6" height="6.6" fill="#ff0000" stroke="#3a0000" stroke-width="0.8"/>
<rect x="509.0" y="821.9" width="6.6" height="6.6" fill="#ff0000" stroke="#3a0000" stroke-width="0.8"/>
<rect x="514.6" y="819.6" width="6.6" height="6.6" fill="#ff0000" stroke="#3a0000" stroke-width="0.8"/>
<rect x="520.1" y="814.1" width="6.6" height="6.6" fill="#ff0000" stroke="#3a0000" stroke-width="0.8"/>
<rect x="525.4" y="806.4" width="6.6" height="6.6" fill="#ff0000" stroke="#3a0000" stroke-width="0.8"/>
<rect x="530.7" y="797.2" width="6.6" height="6.6" fill="#ff0000" stroke="#3a0000" stroke-width="0.8"/>
<rect x="536.3" y="775.5" width="6.6" height="6.6" fill="#ff0000" stroke="#3a0000" stroke-width="0.8"/>
<rect x="541.6" y="752.2" width="6.6" height="6.6" fill="#ff0000" stroke="#3a0000" stroke-width="0.8"/>
<rect x="547.1" y="737.4" width="6.6" height="6.6" fill="#ff0000" stroke="#3a0000" stroke-width="0.8"/>
<rect x="552.5" y="728.6" width="6.6" height="6.6" fill="#ff0000" stroke="#3a0000" stroke-width="0.8"/>
<rect x="557.8" y="723.5" width="6.6" height="6.6" fill="#ff0000" stroke="#3a0000" stroke-width="0.8"/>
<rect x="563.3" y="719.4" width="6.6" height="6.6" fill="#ff0000" stroke="#3a0000" stroke-width="0.8"/>
<rect x="568.8" y="718.0" width="6.6" height="6.6" fill="#ff0000" stroke="#3a0000" stroke-width="0.8"/>
<rect x="573.9" y="712.5" width="6.6" height="6.6" fill="#ff0000" stroke="#3a0000" stroke-width="0.8"/>
<rect x="579.7" y="695.6" width="6.6" height="6.6" fill="#ff0000" stroke="#3a0000" stroke-width="0.8"/>
<rect x="584.8" y="675.5" width="6.6" height="6.6" fill="#ff0000" stroke="#3a0000" stroke-width="0.8"/>
<rect x="590.1" y="660.3" width="6.6" height="6.6" fill="#ff0000" stroke="#3a0000" stroke-width="0.8"/>
<rect x="595.6" y="658.2" width="6.6" height="6.6" fill="#ff0000" stroke="#3a0000" stroke-width="0.8"/>
<rect x="601.2" y="664.4" width="6.6" height="6.6" fill="#ff0000" stroke="#3a0000" stroke-width="0.8"/>
<rect x="606.7" y="675.3" width="6.6" height="6.6" fill="#ff0000" stroke="#3a0000" stroke-width="0.8"/>
<rect x="612.0" y="685.2" width="6.6" height="6.6" fill="#ff0000" stroke="#3a0000" stroke-width="0.8"/>
<rect x="617.6" y="696.7" width="6.6" height="6.6" fill="#ff0000" stroke="#3a0000" stroke-width="0.8"/>
<rect x="622.9" y="713.5" width="6.6" height="6.6" fill="#ff0000" stroke="#3a0000" stroke-width="0.8"/>
<rect x="628.0" y="724.1" width="6.6" height="6.6" fill="#ff0000" stroke="#3a0000" stroke-width="0.8"/>
<rect x="633.3" y="729.6" width="6.6" height="6.6" fill="#ff0000" stroke="#3a0000" stroke-width="0.8"/>
<rect x="638.4" y="728.7" width="6.6" height="6.6" fill="#ff0000" stroke="#3a0000" stroke-width="0.8"/>
<rect x="644.0" y="727.3" width="6.6" height="6.6" fill="#ff0000" stroke="#3a0000" stroke-width="0.8"/>
<rect x="649.7" y="725.9" width="6.6" height="6.6" fill="#ff0000" stroke="#3a0000" stroke-width="0.8"/>
<rect x="655.3" y="729.1" width="6.6" height="6.6" fill="#ff0000" stroke="#3a0000" stroke-width="0.8"/>
<rect x="660.6" y="736.5" width="6.6" height="6.6" fill="#ff0000" stroke="#3a0000" stroke-width="0.8"/>
<rect x="665.7" y="747.2" width="6.6" height="6.6" fill="#ff0000" stroke="#3a0000" stroke-width="0.8"/>
<rect x="671.2" y="766.6" width="6.6" height="6.6" fill="#ff0000" stroke="#3a0000" stroke-width="0.8"/>
<rect x="676.6" y="793.9" width="6.6" height="6.6" fill="#ff0000" stroke="#3a0000" stroke-width="0.8"/>
<rect x="682.1" y="823.9" width="6.6" height="6.6" fill="#ff0000" stroke="#3a0000" stroke-width="0.8"/>
<rect x="687.6" y="837.8" width="6.6" height="6.6" fill="#ff0000" stroke="#3a0000" stroke-width="0.8"/>
<rect x="693.0" y="828.5" width="6.6" height="6.6" fill="#ff0000" stroke="#3a0000" stroke-width="0.8"/>
<rect x="698.3" y="823.4" width="6.6" height="6.6" fill="#ff0000" stroke="#3a0000" stroke-width="0.8"/>
<rect x="703.8" y="817.7" width="6.6" height="6.6" fill="#ff0000" stroke="#3a0000" stroke-width="0.8"/>
<rect x="709.1" y="812.3" width="6.6" height="6.6" fill="#ff0000" stroke="#3a0000" stroke-width="0.8"/>
<rect x="714.2" y="809.1" width="6.6" height="6.6" fill="#ff0000" stroke="#3a0000" stroke-width="0.8"/>
<rect x="719.8" y="806.6" width="6.6" height="6.6" fill="#ff0000" stroke="#3a0000" stroke-width="0.8"/>
<rect x="725.1" y="804.7" width="6.6" height="6.6" fill="#ff0000" stroke="#3a0000" stroke-width="0.8"/>
<rect x="730.6" y="803.8" width="6.6" height="6.6" fill="#ff0000" stroke="#3a0000" stroke-width="0.8"/>
<rect x="736.2" y="803.1" width="6.6" height="6.6" fill="#ff0000" stroke="#3a0000" stroke-width="0.8"/>
<ellipse cx="602" cy="688.8" rx="53.7" ry="38.8" fill="none" stroke="#0000ff" stroke-width="1.5" stroke-dasharray="3.5,2"/>
<rect x="452.5" y="636.2" width="309.5" height="227.1" fill="none" stroke="#000" stroke-width="1.3"/>
<line x1="452.5" y1="840.2" x2="457.5" y2="840.2" stroke="#000" stroke-width="1.2" />
<text x="446.5" y="845" font-size="13.6" text-anchor="end" >-2</text>
<line x1="452.5" y1="792.2" x2="457.5" y2="792.2" stroke="#000" stroke-width="1.2" />
<text x="446.5" y="797" font-size="13.6" text-anchor="end" >0</text>
<line x1="452.5" y1="744.2" x2="457.5" y2="744.2" stroke="#000" stroke-width="1.2" />
<text x="446.5" y="749" font-size="13.6" text-anchor="end" >2</text>
<line x1="452.5" y1="696.2" x2="457.5" y2="696.2" stroke="#000" stroke-width="1.2" />
<text x="446.5" y="701" font-size="13.6" text-anchor="end" >4</text>
<line x1="452.5" y1="648.2" x2="457.5" y2="648.2" stroke="#000" stroke-width="1.2" />
<text x="446.5" y="653" font-size="13.6" text-anchor="end" >6</text>
<line x1="452.5" y1="816.2" x2="455.2" y2="816.2" stroke="#000" stroke-width="1.2" />
<line x1="452.5" y1="768.2" x2="455.2" y2="768.2" stroke="#000" stroke-width="1.2" />
<line x1="452.5" y1="720.2" x2="455.2" y2="720.2" stroke="#000" stroke-width="1.2" />
<line x1="452.5" y1="672.2" x2="455.2" y2="672.2" stroke="#000" stroke-width="1.2" />
<line x1="452.1" y1="863.3" x2="452.1" y2="858.3" stroke="#000" stroke-width="1.2" />
<text x="452.1" y="881.3" font-size="13.6" text-anchor="middle" >-100</text>
<line x1="490.8" y1="863.3" x2="490.8" y2="858.3" stroke="#000" stroke-width="1.2" />
<text x="490.8" y="881.3" font-size="13.6" text-anchor="middle" >0</text>
<line x1="529.5" y1="863.3" x2="529.5" y2="858.3" stroke="#000" stroke-width="1.2" />
<text x="529.5" y="881.3" font-size="13.6" text-anchor="middle" >100</text>
<line x1="568.3" y1="863.3" x2="568.3" y2="858.3" stroke="#000" stroke-width="1.2" />
<text x="568.3" y="881.3" font-size="13.6" text-anchor="middle" >200</text>
<line x1="607" y1="863.3" x2="607" y2="858.3" stroke="#000" stroke-width="1.2" />
<text x="607" y="881.3" font-size="13.6" text-anchor="middle" >300</text>
<line x1="645.8" y1="863.3" x2="645.8" y2="858.3" stroke="#000" stroke-width="1.2" />
<text x="645.8" y="881.3" font-size="13.6" text-anchor="middle" >400</text>
<line x1="684.5" y1="863.3" x2="684.5" y2="858.3" stroke="#000" stroke-width="1.2" />
<text x="684.5" y="881.3" font-size="13.6" text-anchor="middle" >500</text>
<line x1="723.3" y1="863.3" x2="723.3" y2="858.3" stroke="#000" stroke-width="1.2" />
<text x="723.3" y="881.3" font-size="13.6" text-anchor="middle" >600</text>
<line x1="762" y1="863.3" x2="762" y2="858.3" stroke="#000" stroke-width="1.2" />
<text x="762" y="881.3" font-size="13.6" text-anchor="middle" >700</text>
<line x1="471.4" y1="863.3" x2="471.4" y2="860.6" stroke="#000" stroke-width="1.2" />
<line x1="510.2" y1="863.3" x2="510.2" y2="860.6" stroke="#000" stroke-width="1.2" />
<line x1="548.9" y1="863.3" x2="548.9" y2="860.6" stroke="#000" stroke-width="1.2" />
<line x1="587.7" y1="863.3" x2="587.7" y2="860.6" stroke="#000" stroke-width="1.2" />
<line x1="626.4" y1="863.3" x2="626.4" y2="860.6" stroke="#000" stroke-width="1.2" />
<line x1="665.2" y1="863.3" x2="665.2" y2="860.6" stroke="#000" stroke-width="1.2" />
<line x1="703.9" y1="863.3" x2="703.9" y2="860.6" stroke="#000" stroke-width="1.2" />
<line x1="742.7" y1="863.3" x2="742.7" y2="860.6" stroke="#000" stroke-width="1.2" />
<text x="607" y="903.3" font-size="13.3" text-anchor="middle" textLength="82.6" lengthAdjust="spacingAndGlyphs" >Distance (nm)</text>
<text transform="translate(426.9,750.5) rotate(-90)" font-size="13.3" text-anchor="middle" textLength="69" lengthAdjust="spacingAndGlyphs">Height (nm)</text>
<line x1="667.4" y1="652.7" x2="698.6" y2="652.7" stroke="#ff0000" stroke-width="1.6" stroke-dasharray="8,3"/>
<rect x="679.1" y="649.4" width="6.6" height="6.6" fill="#ff0000" stroke="#3a0000" stroke-width="0.8"/>
<text x="707.8" y="658" font-size="15.4" textLength="45" lengthAdjust="spacingAndGlyphs" >Height</text>
<polyline points="880.2,683.8 885.9,681.5 891.7,678.9 897.7,679.6 903.0,713.8 908.8,793.0 914.8,809.6 920.1,829.2 925.9,833.6 931.4,837.8 937.2,839.9 943.0,838.5 948.7,832.0 954.7,828.8 960.3,773.1 965.8,709.6 971.6,690.0 977.1,691.9 982.9,686.1 988.7,678.9 994.5,691.4 1000.0,693.7 1005.8,682.4 1011.5,682.0 1017.4,680.4 1023.0,682.3 1028.5,687.9 1034.5,710.1 1039.9,759.4 1045.7,817.1 1051.0,831.5 1056.8,833.5 1062.9,826.4 1068.7,800.6 1074.5,734.1 1080.1,702.7 1085.4,693.9 1091.2,686.0 1097.0,683.0 1102.8,684.3 1108.4,690.1 1114.0,691.9 1119.5,688.6 1125.1,685.0 1130.9,682.5 1137.0,682.5" fill="none" stroke="#0000ff" stroke-width="1.7"/>
<rect x="876.9" y="680.5" width="6.6" height="6.6" fill="#0000ff" stroke="#00003a" stroke-width="0.8"/>
<rect x="882.6" y="678.2" width="6.6" height="6.6" fill="#0000ff" stroke="#00003a" stroke-width="0.8"/>
<rect x="888.4" y="675.6" width="6.6" height="6.6" fill="#0000ff" stroke="#00003a" stroke-width="0.8"/>
<rect x="894.4" y="676.3" width="6.6" height="6.6" fill="#0000ff" stroke="#00003a" stroke-width="0.8"/>
<rect x="899.7" y="710.5" width="6.6" height="6.6" fill="#0000ff" stroke="#00003a" stroke-width="0.8"/>
<rect x="905.5" y="789.7" width="6.6" height="6.6" fill="#0000ff" stroke="#00003a" stroke-width="0.8"/>
<rect x="911.5" y="806.3" width="6.6" height="6.6" fill="#0000ff" stroke="#00003a" stroke-width="0.8"/>
<rect x="916.8" y="825.9" width="6.6" height="6.6" fill="#0000ff" stroke="#00003a" stroke-width="0.8"/>
<rect x="922.6" y="830.3" width="6.6" height="6.6" fill="#0000ff" stroke="#00003a" stroke-width="0.8"/>
<rect x="928.1" y="834.5" width="6.6" height="6.6" fill="#0000ff" stroke="#00003a" stroke-width="0.8"/>
<rect x="933.9" y="836.6" width="6.6" height="6.6" fill="#0000ff" stroke="#00003a" stroke-width="0.8"/>
<rect x="939.7" y="835.2" width="6.6" height="6.6" fill="#0000ff" stroke="#00003a" stroke-width="0.8"/>
<rect x="945.4" y="828.7" width="6.6" height="6.6" fill="#0000ff" stroke="#00003a" stroke-width="0.8"/>
<rect x="951.4" y="825.5" width="6.6" height="6.6" fill="#0000ff" stroke="#00003a" stroke-width="0.8"/>
<rect x="957.0" y="769.8" width="6.6" height="6.6" fill="#0000ff" stroke="#00003a" stroke-width="0.8"/>
<rect x="962.5" y="706.3" width="6.6" height="6.6" fill="#0000ff" stroke="#00003a" stroke-width="0.8"/>
<rect x="968.3" y="686.7" width="6.6" height="6.6" fill="#0000ff" stroke="#00003a" stroke-width="0.8"/>
<rect x="973.8" y="688.6" width="6.6" height="6.6" fill="#0000ff" stroke="#00003a" stroke-width="0.8"/>
<rect x="979.6" y="682.8" width="6.6" height="6.6" fill="#0000ff" stroke="#00003a" stroke-width="0.8"/>
<rect x="985.4" y="675.6" width="6.6" height="6.6" fill="#0000ff" stroke="#00003a" stroke-width="0.8"/>
<rect x="991.2" y="688.1" width="6.6" height="6.6" fill="#0000ff" stroke="#00003a" stroke-width="0.8"/>
<rect x="996.7" y="690.4" width="6.6" height="6.6" fill="#0000ff" stroke="#00003a" stroke-width="0.8"/>
<rect x="1002.5" y="679.1" width="6.6" height="6.6" fill="#0000ff" stroke="#00003a" stroke-width="0.8"/>
<rect x="1008.2" y="678.7" width="6.6" height="6.6" fill="#0000ff" stroke="#00003a" stroke-width="0.8"/>
<rect x="1014.1" y="677.1" width="6.6" height="6.6" fill="#0000ff" stroke="#00003a" stroke-width="0.8"/>
<rect x="1019.7" y="679.0" width="6.6" height="6.6" fill="#0000ff" stroke="#00003a" stroke-width="0.8"/>
<rect x="1025.2" y="684.6" width="6.6" height="6.6" fill="#0000ff" stroke="#00003a" stroke-width="0.8"/>
<rect x="1031.2" y="706.8" width="6.6" height="6.6" fill="#0000ff" stroke="#00003a" stroke-width="0.8"/>
<rect x="1036.6" y="756.1" width="6.6" height="6.6" fill="#0000ff" stroke="#00003a" stroke-width="0.8"/>
<rect x="1042.4" y="813.8" width="6.6" height="6.6" fill="#0000ff" stroke="#00003a" stroke-width="0.8"/>
<rect x="1047.7" y="828.2" width="6.6" height="6.6" fill="#0000ff" stroke="#00003a" stroke-width="0.8"/>
<rect x="1053.5" y="830.2" width="6.6" height="6.6" fill="#0000ff" stroke="#00003a" stroke-width="0.8"/>
<rect x="1059.6" y="823.1" width="6.6" height="6.6" fill="#0000ff" stroke="#00003a" stroke-width="0.8"/>
<rect x="1065.4" y="797.3" width="6.6" height="6.6" fill="#0000ff" stroke="#00003a" stroke-width="0.8"/>
<rect x="1071.2" y="730.8" width="6.6" height="6.6" fill="#0000ff" stroke="#00003a" stroke-width="0.8"/>
<rect x="1076.8" y="699.4" width="6.6" height="6.6" fill="#0000ff" stroke="#00003a" stroke-width="0.8"/>
<rect x="1082.1" y="690.6" width="6.6" height="6.6" fill="#0000ff" stroke="#00003a" stroke-width="0.8"/>
<rect x="1087.9" y="682.7" width="6.6" height="6.6" fill="#0000ff" stroke="#00003a" stroke-width="0.8"/>
<rect x="1093.7" y="679.7" width="6.6" height="6.6" fill="#0000ff" stroke="#00003a" stroke-width="0.8"/>
<rect x="1099.5" y="681.0" width="6.6" height="6.6" fill="#0000ff" stroke="#00003a" stroke-width="0.8"/>
<rect x="1105.1" y="686.8" width="6.6" height="6.6" fill="#0000ff" stroke="#00003a" stroke-width="0.8"/>
<rect x="1110.7" y="688.6" width="6.6" height="6.6" fill="#0000ff" stroke="#00003a" stroke-width="0.8"/>
<rect x="1116.2" y="685.3" width="6.6" height="6.6" fill="#0000ff" stroke="#00003a" stroke-width="0.8"/>
<rect x="1121.8" y="681.7" width="6.6" height="6.6" fill="#0000ff" stroke="#00003a" stroke-width="0.8"/>
<rect x="1127.6" y="679.2" width="6.6" height="6.6" fill="#0000ff" stroke="#00003a" stroke-width="0.8"/>
<rect x="1133.7" y="679.2" width="6.6" height="6.6" fill="#0000ff" stroke="#00003a" stroke-width="0.8"/>
<rect x="860" y="636.4" width="310.1" height="227.8" fill="none" stroke="#000" stroke-width="1.3"/>
<line x1="860" y1="855.3" x2="865" y2="855.3" stroke="#000" stroke-width="1.2" />
<text x="853.5" y="860.1" font-size="13.8" text-anchor="end" >0</text>
<line x1="860" y1="809.7" x2="865" y2="809.7" stroke="#000" stroke-width="1.2" />
<text x="853.5" y="814.5" font-size="13.8" text-anchor="end" >50</text>
<line x1="860" y1="764.1" x2="865" y2="764.1" stroke="#000" stroke-width="1.2" />
<text x="853.5" y="768.9" font-size="13.8" text-anchor="end" >100</text>
<line x1="860" y1="718.4" x2="865" y2="718.4" stroke="#000" stroke-width="1.2" />
<text x="853.5" y="723.2" font-size="13.8" text-anchor="end" >150</text>
<line x1="860" y1="672.8" x2="865" y2="672.8" stroke="#000" stroke-width="1.2" />
<text x="853.5" y="677.6" font-size="13.8" text-anchor="end" >200</text>
<line x1="860" y1="832.5" x2="862.7" y2="832.5" stroke="#000" stroke-width="1.2" />
<line x1="860" y1="786.9" x2="862.7" y2="786.9" stroke="#000" stroke-width="1.2" />
<line x1="860" y1="741.2" x2="862.7" y2="741.2" stroke="#000" stroke-width="1.2" />
<line x1="860" y1="695.6" x2="862.7" y2="695.6" stroke="#000" stroke-width="1.2" />
<line x1="860" y1="650" x2="862.7" y2="650" stroke="#000" stroke-width="1.2" />
<line x1="880.8" y1="864.2" x2="880.8" y2="859.2" stroke="#000" stroke-width="1.2" />
<text x="880.8" y="881.7" font-size="13.8" text-anchor="middle" >0</text>
<line x1="922" y1="864.2" x2="922" y2="859.2" stroke="#000" stroke-width="1.2" />
<text x="922" y="881.7" font-size="13.8" text-anchor="middle" >100</text>
<line x1="963.3" y1="864.2" x2="963.3" y2="859.2" stroke="#000" stroke-width="1.2" />
<text x="963.3" y="881.7" font-size="13.8" text-anchor="middle" >200</text>
<line x1="1004.5" y1="864.2" x2="1004.5" y2="859.2" stroke="#000" stroke-width="1.2" />
<text x="1004.5" y="881.7" font-size="13.8" text-anchor="middle" >300</text>
<line x1="1045.8" y1="864.2" x2="1045.8" y2="859.2" stroke="#000" stroke-width="1.2" />
<text x="1045.8" y="881.7" font-size="13.8" text-anchor="middle" >400</text>
<line x1="1087" y1="864.2" x2="1087" y2="859.2" stroke="#000" stroke-width="1.2" />
<text x="1087" y="881.7" font-size="13.8" text-anchor="middle" >500</text>
<line x1="1128.3" y1="864.2" x2="1128.3" y2="859.2" stroke="#000" stroke-width="1.2" />
<text x="1128.3" y="881.7" font-size="13.8" text-anchor="middle" >600</text>
<line x1="1169.5" y1="864.2" x2="1169.5" y2="859.2" stroke="#000" stroke-width="1.2" />
<text x="1169.5" y="881.7" font-size="13.8" text-anchor="middle" >700</text>
<line x1="901.4" y1="864.2" x2="901.4" y2="861.5" stroke="#000" stroke-width="1.2" />
<line x1="942.7" y1="864.2" x2="942.7" y2="861.5" stroke="#000" stroke-width="1.2" />
<line x1="983.9" y1="864.2" x2="983.9" y2="861.5" stroke="#000" stroke-width="1.2" />
<line x1="1025.2" y1="864.2" x2="1025.2" y2="861.5" stroke="#000" stroke-width="1.2" />
<line x1="1066.4" y1="864.2" x2="1066.4" y2="861.5" stroke="#000" stroke-width="1.2" />
<line x1="1107.7" y1="864.2" x2="1107.7" y2="861.5" stroke="#000" stroke-width="1.2" />
<line x1="1148.9" y1="864.2" x2="1148.9" y2="861.5" stroke="#000" stroke-width="1.2" />
<text x="1011.2" y="904.2" font-size="14.6" text-anchor="middle" textLength="91" lengthAdjust="spacingAndGlyphs" >Distance (nm)</text>
<text transform="translate(821,759.5) rotate(-90)" font-size="14.6" text-anchor="middle" textLength="82.4" lengthAdjust="spacingAndGlyphs">Phase (Deg)</text>
<line x1="1070.7" y1="651.9" x2="1102.3" y2="651.9" stroke="#0000ff" stroke-width="1.7" />
<rect x="1083.4" y="648.6" width="6.6" height="6.6" fill="#0000ff" stroke="#00003a" stroke-width="0.8"/>
<text x="1107.4" y="657.7" font-size="15.4" textLength="52" lengthAdjust="spacingAndGlyphs" >V-Pha.</text>
<line x1="883.4" y1="742" x2="883.4" y2="774.1" stroke="#ff0000" stroke-width="1.1" />
<path d="M877.3,773.1 L889.5,773.1 L883.4,784.7 Z" fill="#ff0000"/>
<line x1="934.6" y1="785.8" x2="934.6" y2="753.7" stroke="#0000ff" stroke-width="1.1" />
<path d="M928.3,754.7 L940.9,754.7 L934.6,742 Z" fill="#0000ff"/>
<line x1="1001.1" y1="742" x2="1001.1" y2="774.1" stroke="#ff0000" stroke-width="1.1" />
<path d="M995,773.1 L1007.2,773.1 L1001.1,784.7 Z" fill="#ff0000"/>
<line x1="1057.6" y1="786.2" x2="1057.6" y2="754.1" stroke="#0000ff" stroke-width="1.1" />
<path d="M1051.3,755.1 L1063.9,755.1 L1057.6,742.5 Z" fill="#0000ff"/>
<line x1="1112.5" y1="742.5" x2="1112.5" y2="774.9" stroke="#ff0000" stroke-width="1.1" />
<path d="M1106.4,773.9 L1118.6,773.9 L1112.5,785.5 Z" fill="#ff0000"/></g></svg></body></html>
